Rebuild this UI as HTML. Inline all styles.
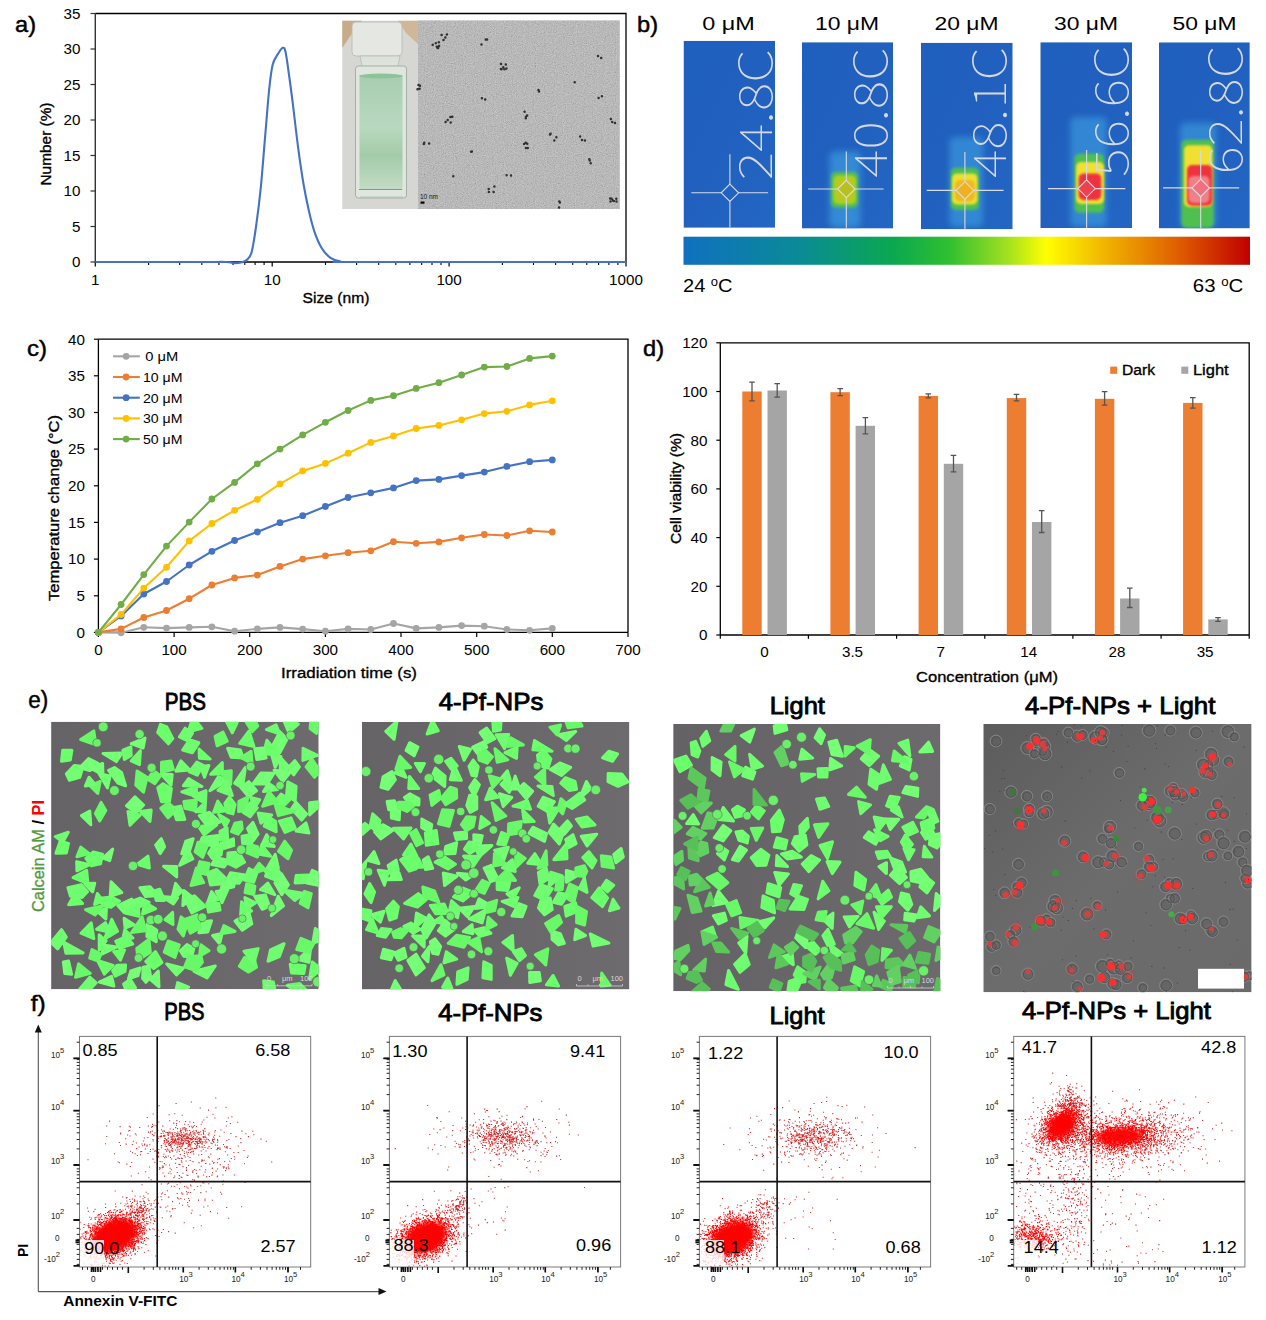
<!DOCTYPE html>
<html><head><meta charset="utf-8"><title>Figure</title>
<style>html,body{margin:0;padding:0;background:#fff;} svg{display:block;}</style></head>
<body><svg width="1266" height="1320" viewBox="0 0 1266 1320">
<defs>
<linearGradient id="photoBg" x1="0" y1="0" x2="0" y2="1">
 <stop offset="0" stop-color="#c9b79c"/><stop offset="0.08" stop-color="#d2cfc6"/><stop offset="1" stop-color="#d6d8d4"/></linearGradient>
<linearGradient id="liquid" x1="0" y1="0" x2="0" y2="1">
 <stop offset="0" stop-color="#a7cdb0"/><stop offset="0.45" stop-color="#b9d9bf"/><stop offset="0.7" stop-color="#a3cba9"/><stop offset="1" stop-color="#c3dcc6"/></linearGradient>
<linearGradient id="blueBg" x1="0" y1="0" x2="1" y2="1">
 <stop offset="0" stop-color="#1f5fbd"/><stop offset="0.5" stop-color="#2160bf"/><stop offset="1" stop-color="#2366c4"/></linearGradient>
<linearGradient id="cbar" x1="0" y1="0" x2="1" y2="0">
 <stop offset="0" stop-color="#1070c0"/><stop offset="0.2" stop-color="#0a8a98"/><stop offset="0.37" stop-color="#0aa850"/><stop offset="0.47" stop-color="#30c030"/><stop offset="0.57" stop-color="#a0e020"/><stop offset="0.64" stop-color="#ffff00"/><stop offset="0.75" stop-color="#f0b000"/><stop offset="0.87" stop-color="#e06000"/><stop offset="1" stop-color="#c00000"/></linearGradient>
<filter id="grain" x="0" y="0" width="1" height="1"><feTurbulence type="fractalNoise" baseFrequency="0.9" numOctaves="2" seed="3"/><feColorMatrix type="matrix" values="0.33 0.33 0.33 0 0  0.33 0.33 0.33 0 0  0.33 0.33 0.33 0 0  0 0 0 0 1"/></filter>
<filter id="b8" x="-50%" y="-50%" width="200%" height="200%"><feGaussianBlur stdDeviation="0.8"/></filter>
<filter id="b10" x="-50%" y="-50%" width="200%" height="200%"><feGaussianBlur stdDeviation="1"/></filter>
<filter id="b12" x="-50%" y="-50%" width="200%" height="200%"><feGaussianBlur stdDeviation="1.2"/></filter>
<filter id="b15" x="-50%" y="-50%" width="200%" height="200%"><feGaussianBlur stdDeviation="1.5"/></filter>
<filter id="b30" x="-50%" y="-50%" width="200%" height="200%"><feGaussianBlur stdDeviation="3"/></filter>
<filter id="soft2" x="-50%" y="-50%" width="200%" height="200%"><feGaussianBlur stdDeviation="2"/></filter>
<linearGradient id="mbg1" x1="0" y1="0" x2="1" y2="0"><stop offset="0" stop-color="#666366"/><stop offset="1" stop-color="#6e6b6e"/></linearGradient>
<linearGradient id="mbg2" x1="0" y1="0" x2="1" y2="0"><stop offset="0" stop-color="#666366"/><stop offset="1" stop-color="#6e6b6e"/></linearGradient>
<linearGradient id="mbg3" x1="0" y1="0" x2="1" y2="0"><stop offset="0" stop-color="#656265"/><stop offset="1" stop-color="#6d6a6d"/></linearGradient>
<linearGradient id="mbg4" x1="0" y1="0" x2="1" y2="1"><stop offset="0" stop-color="#5c5c5c"/><stop offset="0.5" stop-color="#6c6c6c"/><stop offset="1" stop-color="#6a6a6a"/></linearGradient>
<filter id="cb" x="-5%" y="-5%" width="110%" height="110%"><feGaussianBlur stdDeviation="0.55"/></filter>
<filter id="soft" x="-50%" y="-50%" width="200%" height="200%"><feGaussianBlur stdDeviation="2.5"/></filter>
</defs>
<rect width="1266" height="1320" fill="#fff"/>
<text x="15.0" y="32.0" font-size="22" text-anchor="start" font-weight="normal" fill="#000" font-family='"Liberation Sans", Arial, sans-serif' textLength="21" lengthAdjust="spacingAndGlyphs" stroke="#000" stroke-width="0.45">a)</text>
<g>
<rect x="342.3" y="20.8" width="75.7" height="188.2" fill="#d6d7d3"/>
<path d="M342.3 20.8H362L353 32L342.3 48Z" fill="#c8ab8a"/>
<path d="M398 20.8H418V44L406 33Z" fill="#cfb798"/>
<rect x="352" y="22" width="50" height="34" rx="4" fill="#e4e7e2" stroke="#b4bab2" stroke-width="0.8"/>
<path d="M360 56H400L397 70H363Z" fill="#dde2db" stroke="#b0b8ae" stroke-width="0.7"/>
<rect x="355.5" y="66" width="51" height="132" rx="3" fill="#e0e5de" stroke="#a6afa5" stroke-width="1"/>
<rect x="359.5" y="75" width="43" height="115" fill="url(#liquid)"/>
<ellipse cx="381" cy="76" rx="21.5" ry="2.6" fill="#8cc49a"/>
<line x1="359.0" y1="189.5" x2="402.0" y2="189.5" stroke="#6aa874" stroke-width="1"/>
<line x1="360.0" y1="197.0" x2="403.0" y2="197.0" stroke="#9fc4a5" stroke-width="0.8"/>
</g>
<rect x="418.0" y="20.8" width="201.6" height="188.2" fill="#b6b6b6"/>
<rect x="418" y="20.8" width="201.6" height="188.2" filter="url(#grain)" opacity="0.55"/>
<path d="M436.9 46.7h0M438.1 48.1h0M437.7 48.0h0M432.7 44.8h0M439.1 46.0h0M438.8 42.3h0M435.8 43.2h0M445.3 37.5h0M441.6 35.0h0M443.5 39.9h0M446.9 34.6h0M487.1 39.5h0M485.8 39.4h0M481.5 44.6h0M501.0 64.0h0M506.4 68.6h0M501.5 69.2h0M503.3 67.2h0M500.9 69.1h0M504.3 69.3h0M505.8 64.6h0M420.0 85.7h0M418.5 85.0h0M419.6 88.7h0M417.5 89.2h0M481.9 98.3h0M485.2 99.5h0M447.7 119.9h0M450.4 116.9h0M452.3 116.7h0M450.7 122.4h0M445.6 122.0h0M527.1 115.5h0M524.6 111.8h0M525.8 118.2h0M525.9 116.8h0M615.0 123.1h0M610.9 119.0h0M612.2 121.9h0M424.3 142.7h0M429.1 143.5h0M423.8 144.1h0M524.1 143.9h0M527.8 147.9h0M525.9 148.0h0M527.3 143.7h0M525.7 142.7h0M550.0 134.5h0M554.3 140.5h0M550.6 133.8h0M556.4 137.2h0M589.3 159.2h0M590.7 163.3h0M589.7 160.5h0M488.9 191.9h0M488.7 189.0h0M494.4 186.4h0M493.6 192.1h0M613.9 201.0h0M610.2 198.5h0M610.5 201.4h0M611.6 198.7h0M616.5 201.5h0M616.3 198.7h0M612.9 200.6h0M559.9 202.5h0M559.3 201.5h0M559.1 207.4h0M601.2 57.9h0M598.0 55.9h0M580.1 136.4h0M585.0 140.6h0M582.0 140.0h0M471.9 151.4h0M471.1 151.8h0M539.0 91.4h0M538.5 89.9h0M601.9 96.3h0M598.6 98.1h0M511.0 175.6h0M506.6 175.3h0M453.3 176.2h0M574.7 82.2h0" stroke="#303030" stroke-width="2.5" stroke-linecap="round" fill="none"/>
<rect x="420.5" y="201.5" width="4.0" height="2.2" fill="#000"/>
<text x="420.0" y="199.0" font-size="7" text-anchor="start" font-weight="normal" fill="#111" font-family='"Liberation Sans", Arial, sans-serif' textLength="18" lengthAdjust="spacingAndGlyphs">10 nm</text>
<path d="M95.3 13.5 H626 V262" fill="none" stroke="#000" stroke-width="1.3"/>
<line x1="95.3" y1="13.5" x2="95.3" y2="262.5" stroke="#333" stroke-width="1.4"/>
<line x1="95.3" y1="262.0" x2="626.0" y2="262.0" stroke="#000" stroke-width="1.3"/>
<line x1="90.5" y1="262.0" x2="95.3" y2="262.0" stroke="#333" stroke-width="1.2"/>
<text x="80.5" y="267.3" font-size="15.2" text-anchor="end" font-weight="normal" fill="#000" font-family='"Liberation Sans", Arial, sans-serif'>0</text>
<line x1="90.5" y1="226.5" x2="95.3" y2="226.5" stroke="#333" stroke-width="1.2"/>
<text x="80.5" y="231.8" font-size="15.2" text-anchor="end" font-weight="normal" fill="#000" font-family='"Liberation Sans", Arial, sans-serif'>5</text>
<line x1="90.5" y1="191.0" x2="95.3" y2="191.0" stroke="#333" stroke-width="1.2"/>
<text x="80.5" y="196.3" font-size="15.2" text-anchor="end" font-weight="normal" fill="#000" font-family='"Liberation Sans", Arial, sans-serif'>10</text>
<line x1="90.5" y1="155.5" x2="95.3" y2="155.5" stroke="#333" stroke-width="1.2"/>
<text x="80.5" y="160.8" font-size="15.2" text-anchor="end" font-weight="normal" fill="#000" font-family='"Liberation Sans", Arial, sans-serif'>15</text>
<line x1="90.5" y1="120.0" x2="95.3" y2="120.0" stroke="#333" stroke-width="1.2"/>
<text x="80.5" y="125.3" font-size="15.2" text-anchor="end" font-weight="normal" fill="#000" font-family='"Liberation Sans", Arial, sans-serif'>20</text>
<line x1="90.5" y1="84.5" x2="95.3" y2="84.5" stroke="#333" stroke-width="1.2"/>
<text x="80.5" y="89.8" font-size="15.2" text-anchor="end" font-weight="normal" fill="#000" font-family='"Liberation Sans", Arial, sans-serif'>25</text>
<line x1="90.5" y1="49.0" x2="95.3" y2="49.0" stroke="#333" stroke-width="1.2"/>
<text x="80.5" y="54.3" font-size="15.2" text-anchor="end" font-weight="normal" fill="#000" font-family='"Liberation Sans", Arial, sans-serif'>30</text>
<line x1="90.5" y1="13.5" x2="95.3" y2="13.5" stroke="#333" stroke-width="1.2"/>
<text x="80.5" y="18.8" font-size="15.2" text-anchor="end" font-weight="normal" fill="#000" font-family='"Liberation Sans", Arial, sans-serif'>35</text>
<line x1="95.3" y1="262.0" x2="95.3" y2="266.5" stroke="#000" stroke-width="1.2"/>
<text x="95.3" y="285.0" font-size="15.2" text-anchor="middle" font-weight="normal" fill="#000" font-family='"Liberation Sans", Arial, sans-serif'>1</text>
<line x1="148.6" y1="262.0" x2="148.6" y2="265.0" stroke="#000" stroke-width="1.1"/>
<line x1="179.7" y1="262.0" x2="179.7" y2="265.0" stroke="#000" stroke-width="1.1"/>
<line x1="201.8" y1="262.0" x2="201.8" y2="265.0" stroke="#000" stroke-width="1.1"/>
<line x1="218.9" y1="262.0" x2="218.9" y2="265.0" stroke="#000" stroke-width="1.1"/>
<line x1="233.0" y1="262.0" x2="233.0" y2="265.0" stroke="#000" stroke-width="1.1"/>
<line x1="244.8" y1="262.0" x2="244.8" y2="265.0" stroke="#000" stroke-width="1.1"/>
<line x1="255.1" y1="262.0" x2="255.1" y2="265.0" stroke="#000" stroke-width="1.1"/>
<line x1="264.1" y1="262.0" x2="264.1" y2="265.0" stroke="#000" stroke-width="1.1"/>
<line x1="272.2" y1="262.0" x2="272.2" y2="266.5" stroke="#000" stroke-width="1.2"/>
<text x="272.2" y="285.0" font-size="15.2" text-anchor="middle" font-weight="normal" fill="#000" font-family='"Liberation Sans", Arial, sans-serif'>10</text>
<line x1="325.5" y1="262.0" x2="325.5" y2="265.0" stroke="#000" stroke-width="1.1"/>
<line x1="356.6" y1="262.0" x2="356.6" y2="265.0" stroke="#000" stroke-width="1.1"/>
<line x1="378.7" y1="262.0" x2="378.7" y2="265.0" stroke="#000" stroke-width="1.1"/>
<line x1="395.8" y1="262.0" x2="395.8" y2="265.0" stroke="#000" stroke-width="1.1"/>
<line x1="409.9" y1="262.0" x2="409.9" y2="265.0" stroke="#000" stroke-width="1.1"/>
<line x1="421.7" y1="262.0" x2="421.7" y2="265.0" stroke="#000" stroke-width="1.1"/>
<line x1="432.0" y1="262.0" x2="432.0" y2="265.0" stroke="#000" stroke-width="1.1"/>
<line x1="441.0" y1="262.0" x2="441.0" y2="265.0" stroke="#000" stroke-width="1.1"/>
<line x1="449.1" y1="262.0" x2="449.1" y2="266.5" stroke="#000" stroke-width="1.2"/>
<text x="449.1" y="285.0" font-size="15.2" text-anchor="middle" font-weight="normal" fill="#000" font-family='"Liberation Sans", Arial, sans-serif'>100</text>
<line x1="502.4" y1="262.0" x2="502.4" y2="265.0" stroke="#000" stroke-width="1.1"/>
<line x1="533.5" y1="262.0" x2="533.5" y2="265.0" stroke="#000" stroke-width="1.1"/>
<line x1="555.6" y1="262.0" x2="555.6" y2="265.0" stroke="#000" stroke-width="1.1"/>
<line x1="572.7" y1="262.0" x2="572.7" y2="265.0" stroke="#000" stroke-width="1.1"/>
<line x1="586.8" y1="262.0" x2="586.8" y2="265.0" stroke="#000" stroke-width="1.1"/>
<line x1="598.6" y1="262.0" x2="598.6" y2="265.0" stroke="#000" stroke-width="1.1"/>
<line x1="608.9" y1="262.0" x2="608.9" y2="265.0" stroke="#000" stroke-width="1.1"/>
<line x1="617.9" y1="262.0" x2="617.9" y2="265.0" stroke="#000" stroke-width="1.1"/>
<line x1="626.0" y1="262.0" x2="626.0" y2="266.5" stroke="#000" stroke-width="1.2"/>
<text x="626.0" y="285.0" font-size="15.2" text-anchor="middle" font-weight="normal" fill="#000" font-family='"Liberation Sans", Arial, sans-serif'>1000</text>
<text x="336.0" y="302.5" font-size="15.5" text-anchor="middle" font-weight="normal" fill="#000" font-family='"Liberation Sans", Arial, sans-serif' textLength="67" lengthAdjust="spacingAndGlyphs" stroke="#000" stroke-width="0.35">Size (nm)</text>
<text x="51.2" y="144.0" font-size="15.5" text-anchor="middle" font-weight="normal" fill="#000" font-family='"Liberation Sans", Arial, sans-serif' textLength="83" lengthAdjust="spacingAndGlyphs" transform="rotate(-90 51.2 144.0)" stroke="#000" stroke-width="0.35">Number (%)</text>
<path d="M95.3 262.0 C112.8 262.0 178.2 262.0 200.0 262.0 C221.8 262.0 220.2 261.8 226.0 262.0 C231.8 262.2 231.8 263.2 234.5 263.2 C237.2 263.2 239.9 262.8 242.0 262.2 C244.1 261.6 245.7 261.3 247.3 259.5 C248.9 257.7 250.3 257.4 251.8 251.5 C253.3 245.6 254.9 234.8 256.4 224.0 C257.9 213.2 259.4 201.8 260.9 186.5 C262.4 171.2 264.1 148.1 265.5 132.0 C266.9 115.9 267.9 101.2 269.1 90.0 C270.3 78.8 271.2 70.6 272.7 64.5 C274.2 58.4 276.5 56.4 278.2 53.6 C279.9 50.8 281.5 48.1 282.7 47.8 C283.9 47.5 284.4 47.2 285.5 51.8 C286.6 56.4 287.9 67.0 289.1 75.5 C290.3 84.0 291.2 90.6 292.7 102.7 C294.2 114.8 296.4 134.6 298.2 148.2 C300.0 161.8 301.8 173.9 303.6 184.5 C305.4 195.1 307.3 203.9 309.1 211.8 C310.9 219.7 312.4 225.7 314.5 231.8 C316.6 237.9 319.1 243.8 321.8 248.2 C324.5 252.6 327.9 256.0 330.9 258.2 C333.9 260.4 335.1 260.7 340.0 261.3 C344.9 261.9 312.3 261.9 360.0 262.0 C407.7 262.1 581.7 262.0 626.0 262.0" fill="none" stroke="#4472C4" stroke-width="2.1"/>
<text x="637.0" y="32.0" font-size="22" text-anchor="start" font-weight="normal" fill="#000" font-family='"Liberation Sans", Arial, sans-serif' textLength="21" lengthAdjust="spacingAndGlyphs" stroke="#000" stroke-width="0.45">b)</text>
<text x="728.5" y="29.8" font-size="19" text-anchor="middle" font-weight="normal" fill="#000" font-family='"Liberation Sans", Arial, sans-serif' textLength="52.5" lengthAdjust="spacingAndGlyphs">0 μM</text>
<text x="847.0" y="29.8" font-size="19" text-anchor="middle" font-weight="normal" fill="#000" font-family='"Liberation Sans", Arial, sans-serif' textLength="64" lengthAdjust="spacingAndGlyphs">10 μM</text>
<text x="966.5" y="29.8" font-size="19" text-anchor="middle" font-weight="normal" fill="#000" font-family='"Liberation Sans", Arial, sans-serif' textLength="64" lengthAdjust="spacingAndGlyphs">20 μM</text>
<text x="1086.0" y="29.8" font-size="19" text-anchor="middle" font-weight="normal" fill="#000" font-family='"Liberation Sans", Arial, sans-serif' textLength="64" lengthAdjust="spacingAndGlyphs">30 μM</text>
<text x="1204.5" y="29.8" font-size="19" text-anchor="middle" font-weight="normal" fill="#000" font-family='"Liberation Sans", Arial, sans-serif' textLength="64" lengthAdjust="spacingAndGlyphs">50 μM</text>
<svg x="683.5" y="40.8" width="91.5" height="187" overflow="hidden">
<rect width="91.5" height="187" fill="url(#blueBg)"/>
<path d="M7.8 152.0H37.7M55.1 152.0H84.6M46.4 113.4V143.3M46.4 160.7V187" stroke="#d8dbe0" stroke-width="1.1" fill="none"/>
<path d="M46.4 143.3L55.1 152.0L46.4 160.7L37.7 152.0Z" fill="none" stroke="#d8dbe0" stroke-width="1.1" />
<text x="88.1" y="139.5" font-size="45.5" font-weight="100" fill="#d4d8e0" font-family='"Noto Sans CJK SC", "Liberation Sans", sans-serif' textLength="131.2" lengthAdjust="spacingAndGlyphs" transform="rotate(-90 88.1 139.5)">24.8C</text>
</svg>
<svg x="802" y="42.2" width="91" height="186.4" overflow="hidden">
<rect width="91" height="186.4" fill="url(#blueBg)"/>
<rect x="27.4" y="109.4" width="31.3" height="76.4" rx="5" fill="#3a98dc" opacity="0.75" filter="url(#b30)"/>
<rect x="29.0" y="129.8" width="27.0" height="35.5" rx="5" fill="#58c050" opacity="1" filter="url(#b15)"/>
<rect x="31.5" y="133.3" width="22.5" height="28.5" rx="5" fill="#a8d020" opacity="1" filter="url(#b12)"/>
<rect x="35.0" y="136.8" width="16.0" height="21.0" rx="5" fill="#c0c818" opacity="1" filter="url(#b10)"/>
<path d="M6.2 146.8H35.6M53.0 146.8H81.6M44.3 109.4V138.1M44.3 155.5V186.4" stroke="#d8dbe0" stroke-width="1.1" fill="none"/>
<path d="M44.3 138.1L53.0 146.8L44.3 155.5L35.6 146.8Z" fill="#b8c020" stroke="#d8dbe0" stroke-width="1.1" />
<text x="85.1" y="135.5" font-size="45.5" font-weight="100" fill="#d4d8e0" font-family='"Noto Sans CJK SC", "Liberation Sans", sans-serif' textLength="130.3" lengthAdjust="spacingAndGlyphs" transform="rotate(-90 85.1 135.5)">40.8C</text>
</svg>
<svg x="920.9" y="42.7" width="91.8" height="186.6" overflow="hidden">
<rect width="91.8" height="186.6" fill="url(#blueBg)"/>
<rect x="28.5" y="94.3" width="33.6" height="90.0" rx="5" fill="#3a98dc" opacity="0.7" filter="url(#b30)"/>
<rect x="29.9" y="125.1" width="28.1" height="42.2" rx="5" fill="#50c050" opacity="1" filter="url(#b15)"/>
<rect x="31.1" y="130.7" width="25.5" height="31.0" rx="5" fill="#ece030" opacity="1" filter="url(#b12)"/>
<rect x="34.1" y="137.3" width="19.7" height="21.5" rx="5" fill="#f0b820" opacity="1" filter="url(#b10)"/>
<path d="M5.8 147.7H35.3M52.7 147.7H82.7M44.0 109.3V139.0M44.0 156.4V186.6" stroke="#d8dbe0" stroke-width="1.1" fill="none"/>
<path d="M44.0 139.0L52.7 147.7L44.0 156.4L35.3 147.7Z" fill="#f0b020" stroke="#d8dbe0" stroke-width="1.1" />
<text x="85.4" y="135.3" font-size="45.5" font-weight="100" fill="#d4d8e0" font-family='"Noto Sans CJK SC", "Liberation Sans", sans-serif' textLength="131.3" lengthAdjust="spacingAndGlyphs" transform="rotate(-90 85.4 135.3)">48.1C</text>
</svg>
<svg x="1040.3" y="42.2" width="91.7" height="185.8" overflow="hidden">
<rect width="91.7" height="185.8" fill="url(#blueBg)"/>
<rect x="30.0" y="74.8" width="36.5" height="110.0" rx="5" fill="#3a98dc" opacity="0.7" filter="url(#b30)"/>
<rect x="34.2" y="111.5" width="29.5" height="59.1" rx="5" fill="#50c050" opacity="1" filter="url(#b15)"/>
<rect x="35.7" y="119.8" width="28.0" height="42.0" rx="5" fill="#f0e030" opacity="1" filter="url(#b12)"/>
<rect x="38.4" y="131.2" width="22.5" height="26.6" rx="5" fill="#f03040" opacity="1" filter="url(#b10)"/>
<path d="M7.7 146.4H37.6M55.0 146.4H85.0M46.3 107.8V137.7M46.3 155.1V185.8" stroke="#d8dbe0" stroke-width="1.1" fill="none"/>
<path d="M46.3 137.7L55.0 146.4L46.3 155.1L37.6 146.4Z" fill="#f04050" stroke="#d8dbe0" stroke-width="1.1" />
<text x="87.7" y="134.6" font-size="45.5" font-weight="100" fill="#d4d8e0" font-family='"Noto Sans CJK SC", "Liberation Sans", sans-serif' textLength="131.4" lengthAdjust="spacingAndGlyphs" transform="rotate(-90 87.7 134.6)">56.6C</text>
</svg>
<svg x="1159" y="42.3" width="90.8" height="186.1" overflow="hidden">
<rect width="90.8" height="186.1" fill="url(#blueBg)"/>
<rect x="21.0" y="80.5" width="36.5" height="104.2" rx="5" fill="#3a98dc" opacity="0.7" filter="url(#b30)"/>
<rect x="22.4" y="97.4" width="32.3" height="88.3" rx="5" fill="#50c050" opacity="1" filter="url(#b15)"/>
<rect x="25.0" y="103.0" width="28.3" height="61.7" rx="5" fill="#f0e030" opacity="1" filter="url(#b12)"/>
<rect x="28.0" y="122.7" width="25.3" height="40.8" rx="5" fill="#f03040" opacity="1" filter="url(#b10)"/>
<rect x="29.4" y="133.7" width="21.1" height="27.0" rx="5" fill="#f08088" opacity="1" filter="url(#b8)"/>
<path d="M4.1 145.6H33.0M50.4 145.6H80.2M41.7 108.0V136.9M41.7 154.3V186.1" stroke="#d8dbe0" stroke-width="1.1" fill="none"/>
<path d="M41.7 136.9L50.4 145.6L41.7 154.3L33.0 145.6Z" fill="#f07080" stroke="#d8dbe0" stroke-width="1.1" />
<text x="83.3" y="131.9" font-size="45.5" font-weight="100" fill="#d4d8e0" font-family='"Noto Sans CJK SC", "Liberation Sans", sans-serif' textLength="128.9" lengthAdjust="spacingAndGlyphs" transform="rotate(-90 83.3 131.9)">62.8C</text>
</svg>
<rect x="683.5" y="236.7" width="566.5" height="28.1" fill="url(#cbar)"/>
<text x="683.0" y="292.0" font-size="18.5" text-anchor="start" font-weight="normal" fill="#000" font-family='"Liberation Sans", Arial, sans-serif' textLength="49.6" lengthAdjust="spacingAndGlyphs">24 <tspan font-size="12" dy="-6">o</tspan><tspan dy="6">C</tspan></text>
<text x="1192.8" y="292.0" font-size="18.5" text-anchor="start" font-weight="normal" fill="#000" font-family='"Liberation Sans", Arial, sans-serif' textLength="50.5" lengthAdjust="spacingAndGlyphs">63 <tspan font-size="12" dy="-6">o</tspan><tspan dy="6">C</tspan></text>
<text x="27.0" y="355.5" font-size="22" text-anchor="start" font-weight="normal" fill="#000" font-family='"Liberation Sans", Arial, sans-serif' textLength="20" lengthAdjust="spacingAndGlyphs" stroke="#000" stroke-width="0.45">c)</text>
<path d="M98.4 339.2 H628 V632.4" fill="none" stroke="#000" stroke-width="1.3"/>
<line x1="98.4" y1="339.2" x2="98.4" y2="632.4" stroke="#000" stroke-width="1.3"/>
<line x1="98.4" y1="632.4" x2="628.0" y2="632.4" stroke="#000" stroke-width="1.3"/>
<line x1="93.9" y1="632.4" x2="98.4" y2="632.4" stroke="#000" stroke-width="1.2"/>
<text x="85.0" y="637.7" font-size="15.2" text-anchor="end" font-weight="normal" fill="#000" font-family='"Liberation Sans", Arial, sans-serif'>0</text>
<line x1="93.9" y1="595.8" x2="98.4" y2="595.8" stroke="#000" stroke-width="1.2"/>
<text x="85.0" y="601.0" font-size="15.2" text-anchor="end" font-weight="normal" fill="#000" font-family='"Liberation Sans", Arial, sans-serif'>5</text>
<line x1="93.9" y1="559.1" x2="98.4" y2="559.1" stroke="#000" stroke-width="1.2"/>
<text x="85.0" y="564.4" font-size="15.2" text-anchor="end" font-weight="normal" fill="#000" font-family='"Liberation Sans", Arial, sans-serif'>10</text>
<line x1="93.9" y1="522.4" x2="98.4" y2="522.4" stroke="#000" stroke-width="1.2"/>
<text x="85.0" y="527.7" font-size="15.2" text-anchor="end" font-weight="normal" fill="#000" font-family='"Liberation Sans", Arial, sans-serif'>15</text>
<line x1="93.9" y1="485.8" x2="98.4" y2="485.8" stroke="#000" stroke-width="1.2"/>
<text x="85.0" y="491.1" font-size="15.2" text-anchor="end" font-weight="normal" fill="#000" font-family='"Liberation Sans", Arial, sans-serif'>20</text>
<line x1="93.9" y1="449.1" x2="98.4" y2="449.1" stroke="#000" stroke-width="1.2"/>
<text x="85.0" y="454.4" font-size="15.2" text-anchor="end" font-weight="normal" fill="#000" font-family='"Liberation Sans", Arial, sans-serif'>25</text>
<line x1="93.9" y1="412.5" x2="98.4" y2="412.5" stroke="#000" stroke-width="1.2"/>
<text x="85.0" y="417.8" font-size="15.2" text-anchor="end" font-weight="normal" fill="#000" font-family='"Liberation Sans", Arial, sans-serif'>30</text>
<line x1="93.9" y1="375.8" x2="98.4" y2="375.8" stroke="#000" stroke-width="1.2"/>
<text x="85.0" y="381.1" font-size="15.2" text-anchor="end" font-weight="normal" fill="#000" font-family='"Liberation Sans", Arial, sans-serif'>35</text>
<line x1="93.9" y1="339.2" x2="98.4" y2="339.2" stroke="#000" stroke-width="1.2"/>
<text x="85.0" y="344.5" font-size="15.2" text-anchor="end" font-weight="normal" fill="#000" font-family='"Liberation Sans", Arial, sans-serif'>40</text>
<line x1="98.4" y1="632.4" x2="98.4" y2="636.9" stroke="#000" stroke-width="1.2"/>
<text x="98.4" y="654.8" font-size="15.2" text-anchor="middle" font-weight="normal" fill="#000" font-family='"Liberation Sans", Arial, sans-serif'>0</text>
<line x1="174.1" y1="632.4" x2="174.1" y2="636.9" stroke="#000" stroke-width="1.2"/>
<text x="174.1" y="654.8" font-size="15.2" text-anchor="middle" font-weight="normal" fill="#000" font-family='"Liberation Sans", Arial, sans-serif'>100</text>
<line x1="249.7" y1="632.4" x2="249.7" y2="636.9" stroke="#000" stroke-width="1.2"/>
<text x="249.7" y="654.8" font-size="15.2" text-anchor="middle" font-weight="normal" fill="#000" font-family='"Liberation Sans", Arial, sans-serif'>200</text>
<line x1="325.4" y1="632.4" x2="325.4" y2="636.9" stroke="#000" stroke-width="1.2"/>
<text x="325.4" y="654.8" font-size="15.2" text-anchor="middle" font-weight="normal" fill="#000" font-family='"Liberation Sans", Arial, sans-serif'>300</text>
<line x1="401.0" y1="632.4" x2="401.0" y2="636.9" stroke="#000" stroke-width="1.2"/>
<text x="401.0" y="654.8" font-size="15.2" text-anchor="middle" font-weight="normal" fill="#000" font-family='"Liberation Sans", Arial, sans-serif'>400</text>
<line x1="476.7" y1="632.4" x2="476.7" y2="636.9" stroke="#000" stroke-width="1.2"/>
<text x="476.7" y="654.8" font-size="15.2" text-anchor="middle" font-weight="normal" fill="#000" font-family='"Liberation Sans", Arial, sans-serif'>500</text>
<line x1="552.3" y1="632.4" x2="552.3" y2="636.9" stroke="#000" stroke-width="1.2"/>
<text x="552.3" y="654.8" font-size="15.2" text-anchor="middle" font-weight="normal" fill="#000" font-family='"Liberation Sans", Arial, sans-serif'>600</text>
<line x1="628.0" y1="632.4" x2="628.0" y2="636.9" stroke="#000" stroke-width="1.2"/>
<text x="628.0" y="654.8" font-size="15.2" text-anchor="middle" font-weight="normal" fill="#000" font-family='"Liberation Sans", Arial, sans-serif'>700</text>
<text x="349.0" y="678.3" font-size="15.5" text-anchor="middle" font-weight="normal" fill="#000" font-family='"Liberation Sans", Arial, sans-serif' textLength="136" lengthAdjust="spacingAndGlyphs" stroke="#000" stroke-width="0.35">Irradiation time (s)</text>
<text x="58.5" y="508.0" font-size="15.5" text-anchor="middle" font-weight="normal" fill="#000" font-family='"Liberation Sans", Arial, sans-serif' textLength="186" lengthAdjust="spacingAndGlyphs" transform="rotate(-90 58.5 508.0)" stroke="#000" stroke-width="0.35">Temperature change  (°C)</text>
<path d="M98.4 632.4 L121.1 632.8 L143.8 627.3 L166.5 628.1 L189.2 627.4 L211.9 626.8 L234.6 631.2 L257.3 628.9 L280.0 627.4 L302.7 629.1 L325.4 631.2 L348.1 628.9 L370.8 629.5 L393.5 623.5 L416.2 628.4 L438.9 627.4 L461.6 625.6 L484.3 626.2 L506.9 629.5 L529.6 630.3 L552.3 628.4" fill="none" stroke="#A5A5A5" stroke-width="2.1" stroke-linejoin="round"/>
<path d="M98.4 632.4h0M121.1 632.8h0M143.8 627.3h0M166.5 628.1h0M189.2 627.4h0M211.9 626.8h0M234.6 631.2h0M257.3 628.9h0M280.0 627.4h0M302.7 629.1h0M325.4 631.2h0M348.1 628.9h0M370.8 629.5h0M393.5 623.5h0M416.2 628.4h0M438.9 627.4h0M461.6 625.6h0M484.3 626.2h0M506.9 629.5h0M529.6 630.3h0M552.3 628.4h0" stroke="#A5A5A5" stroke-width="6.8" stroke-linecap="round" fill="none"/>
<path d="M98.4 632.4 L121.1 628.9 L143.8 617.5 L166.5 610.5 L189.2 598.7 L211.9 585.0 L234.6 577.9 L257.3 575.1 L280.0 566.4 L302.7 559.1 L325.4 555.8 L348.1 552.7 L370.8 550.8 L393.5 541.7 L416.2 543.3 L438.9 541.9 L461.6 537.8 L484.3 534.5 L506.9 535.5 L529.6 530.8 L552.3 532.0" fill="none" stroke="#ED7D31" stroke-width="2.1" stroke-linejoin="round"/>
<path d="M98.4 632.4h0M121.1 628.9h0M143.8 617.5h0M166.5 610.5h0M189.2 598.7h0M211.9 585.0h0M234.6 577.9h0M257.3 575.1h0M280.0 566.4h0M302.7 559.1h0M325.4 555.8h0M348.1 552.7h0M370.8 550.8h0M393.5 541.7h0M416.2 543.3h0M438.9 541.9h0M461.6 537.8h0M484.3 534.5h0M506.9 535.5h0M529.6 530.8h0M552.3 532.0h0" stroke="#ED7D31" stroke-width="6.8" stroke-linecap="round" fill="none"/>
<path d="M98.4 632.4 L121.1 615.9 L143.8 594.0 L166.5 581.5 L189.2 565.0 L211.9 551.3 L234.6 540.5 L257.3 532.0 L280.0 522.7 L302.7 515.7 L325.4 506.5 L348.1 497.5 L370.8 492.8 L393.5 487.9 L416.2 480.6 L438.9 479.4 L461.6 475.6 L484.3 472.1 L506.9 466.4 L529.6 461.7 L552.3 459.9" fill="none" stroke="#4472C4" stroke-width="2.1" stroke-linejoin="round"/>
<path d="M98.4 632.4h0M121.1 615.9h0M143.8 594.0h0M166.5 581.5h0M189.2 565.0h0M211.9 551.3h0M234.6 540.5h0M257.3 532.0h0M280.0 522.7h0M302.7 515.7h0M325.4 506.5h0M348.1 497.5h0M370.8 492.8h0M393.5 487.9h0M416.2 480.6h0M438.9 479.4h0M461.6 475.6h0M484.3 472.1h0M506.9 466.4h0M529.6 461.7h0M552.3 459.9h0" stroke="#4472C4" stroke-width="6.8" stroke-linecap="round" fill="none"/>
<path d="M98.4 632.4 L121.1 614.5 L143.8 588.1 L166.5 567.3 L189.2 540.9 L211.9 523.5 L234.6 510.3 L257.3 499.4 L280.0 483.9 L302.7 470.9 L325.4 463.4 L348.1 453.2 L370.8 442.4 L393.5 436.0 L416.2 428.5 L438.9 425.4 L461.6 419.8 L484.3 413.6 L506.9 411.3 L529.6 404.9 L552.3 400.8" fill="none" stroke="#FFC000" stroke-width="2.1" stroke-linejoin="round"/>
<path d="M98.4 632.4h0M121.1 614.5h0M143.8 588.1h0M166.5 567.3h0M189.2 540.9h0M211.9 523.5h0M234.6 510.3h0M257.3 499.4h0M280.0 483.9h0M302.7 470.9h0M325.4 463.4h0M348.1 453.2h0M370.8 442.4h0M393.5 436.0h0M416.2 428.5h0M438.9 425.4h0M461.6 419.8h0M484.3 413.6h0M506.9 411.3h0M529.6 404.9h0M552.3 400.8h0" stroke="#FFC000" stroke-width="6.8" stroke-linecap="round" fill="none"/>
<path d="M98.4 632.4 L121.1 604.5 L143.8 574.6 L166.5 546.1 L189.2 522.1 L211.9 499.0 L234.6 482.4 L257.3 463.8 L280.0 449.1 L302.7 434.9 L325.4 422.3 L348.1 410.5 L370.8 400.4 L393.5 395.7 L416.2 388.4 L438.9 382.7 L461.6 375.0 L484.3 367.1 L506.9 366.5 L529.6 358.4 L552.3 356.1" fill="none" stroke="#70AD47" stroke-width="2.1" stroke-linejoin="round"/>
<path d="M98.4 632.4h0M121.1 604.5h0M143.8 574.6h0M166.5 546.1h0M189.2 522.1h0M211.9 499.0h0M234.6 482.4h0M257.3 463.8h0M280.0 449.1h0M302.7 434.9h0M325.4 422.3h0M348.1 410.5h0M370.8 400.4h0M393.5 395.7h0M416.2 388.4h0M438.9 382.7h0M461.6 375.0h0M484.3 367.1h0M506.9 366.5h0M529.6 358.4h0M552.3 356.1h0" stroke="#70AD47" stroke-width="6.8" stroke-linecap="round" fill="none"/>
<line x1="113.0" y1="356.3" x2="139.8" y2="356.3" stroke="#A5A5A5" stroke-width="2.1"/>
<circle cx="126.1" cy="356.3" r="3.4" fill="#A5A5A5"/>
<text x="145.3" y="361.1" font-size="13.5" text-anchor="start" font-weight="normal" fill="#000" font-family='"Liberation Sans", Arial, sans-serif' textLength="33" lengthAdjust="spacingAndGlyphs">0 μM</text>
<line x1="113.0" y1="377.0" x2="139.8" y2="377.0" stroke="#ED7D31" stroke-width="2.1"/>
<circle cx="126.1" cy="377.0" r="3.4" fill="#ED7D31"/>
<text x="143.0" y="381.8" font-size="13.5" text-anchor="start" font-weight="normal" fill="#000" font-family='"Liberation Sans", Arial, sans-serif' textLength="39.5" lengthAdjust="spacingAndGlyphs">10 μM</text>
<line x1="113.0" y1="397.7" x2="139.8" y2="397.7" stroke="#4472C4" stroke-width="2.1"/>
<circle cx="126.1" cy="397.7" r="3.4" fill="#4472C4"/>
<text x="143.0" y="402.5" font-size="13.5" text-anchor="start" font-weight="normal" fill="#000" font-family='"Liberation Sans", Arial, sans-serif' textLength="39.5" lengthAdjust="spacingAndGlyphs">20 μM</text>
<line x1="113.0" y1="418.4" x2="139.8" y2="418.4" stroke="#FFC000" stroke-width="2.1"/>
<circle cx="126.1" cy="418.4" r="3.4" fill="#FFC000"/>
<text x="143.0" y="423.2" font-size="13.5" text-anchor="start" font-weight="normal" fill="#000" font-family='"Liberation Sans", Arial, sans-serif' textLength="39.5" lengthAdjust="spacingAndGlyphs">30 μM</text>
<line x1="113.0" y1="439.1" x2="139.8" y2="439.1" stroke="#70AD47" stroke-width="2.1"/>
<circle cx="126.1" cy="439.1" r="3.4" fill="#70AD47"/>
<text x="143.0" y="443.9" font-size="13.5" text-anchor="start" font-weight="normal" fill="#000" font-family='"Liberation Sans", Arial, sans-serif' textLength="39.5" lengthAdjust="spacingAndGlyphs">50 μM</text>
<text x="643.0" y="356.0" font-size="22" text-anchor="start" font-weight="normal" fill="#000" font-family='"Liberation Sans", Arial, sans-serif' textLength="21" lengthAdjust="spacingAndGlyphs" stroke="#000" stroke-width="0.45">d)</text>
<path d="M720.3 342.8 H1249.2 V635" fill="none" stroke="#000" stroke-width="1.3"/>
<line x1="720.3" y1="342.8" x2="720.3" y2="635.0" stroke="#000" stroke-width="1.3"/>
<line x1="720.3" y1="635.0" x2="1249.2" y2="635.0" stroke="#000" stroke-width="1.3"/>
<line x1="716.3" y1="635.0" x2="720.3" y2="635.0" stroke="#000" stroke-width="1.2"/>
<text x="707.5" y="640.3" font-size="15.2" text-anchor="end" font-weight="normal" fill="#000" font-family='"Liberation Sans", Arial, sans-serif'>0</text>
<line x1="716.3" y1="586.3" x2="720.3" y2="586.3" stroke="#000" stroke-width="1.2"/>
<text x="707.5" y="591.6" font-size="15.2" text-anchor="end" font-weight="normal" fill="#000" font-family='"Liberation Sans", Arial, sans-serif'>20</text>
<line x1="716.3" y1="537.6" x2="720.3" y2="537.6" stroke="#000" stroke-width="1.2"/>
<text x="707.5" y="542.9" font-size="15.2" text-anchor="end" font-weight="normal" fill="#000" font-family='"Liberation Sans", Arial, sans-serif'>40</text>
<line x1="716.3" y1="488.9" x2="720.3" y2="488.9" stroke="#000" stroke-width="1.2"/>
<text x="707.5" y="494.2" font-size="15.2" text-anchor="end" font-weight="normal" fill="#000" font-family='"Liberation Sans", Arial, sans-serif'>60</text>
<line x1="716.3" y1="440.2" x2="720.3" y2="440.2" stroke="#000" stroke-width="1.2"/>
<text x="707.5" y="445.5" font-size="15.2" text-anchor="end" font-weight="normal" fill="#000" font-family='"Liberation Sans", Arial, sans-serif'>80</text>
<line x1="716.3" y1="391.5" x2="720.3" y2="391.5" stroke="#000" stroke-width="1.2"/>
<text x="707.5" y="396.8" font-size="15.2" text-anchor="end" font-weight="normal" fill="#000" font-family='"Liberation Sans", Arial, sans-serif'>100</text>
<line x1="716.3" y1="342.8" x2="720.3" y2="342.8" stroke="#000" stroke-width="1.2"/>
<text x="707.5" y="348.1" font-size="15.2" text-anchor="end" font-weight="normal" fill="#000" font-family='"Liberation Sans", Arial, sans-serif'>120</text>
<line x1="720.3" y1="635.0" x2="720.3" y2="638.8" stroke="#000" stroke-width="1.2"/>
<line x1="808.4" y1="635.0" x2="808.4" y2="638.8" stroke="#000" stroke-width="1.2"/>
<line x1="896.6" y1="635.0" x2="896.6" y2="638.8" stroke="#000" stroke-width="1.2"/>
<line x1="984.8" y1="635.0" x2="984.8" y2="638.8" stroke="#000" stroke-width="1.2"/>
<line x1="1072.9" y1="635.0" x2="1072.9" y2="638.8" stroke="#000" stroke-width="1.2"/>
<line x1="1161.1" y1="635.0" x2="1161.1" y2="638.8" stroke="#000" stroke-width="1.2"/>
<line x1="1249.2" y1="635.0" x2="1249.2" y2="638.8" stroke="#000" stroke-width="1.2"/>
<rect x="742.3" y="391.5" width="19.4" height="243.5" fill="#ED7D31"/>
<path d="M752.0 382.2V400.8M749.2 382.2h5.6M749.2 400.8h5.6" stroke="#555" stroke-width="1.3" fill="none"/>
<rect x="767.5" y="390.5" width="19.4" height="244.5" fill="#A5A5A5"/>
<path d="M777.2 383.7V397.1M774.4 383.7h5.6M774.4 397.1h5.6" stroke="#555" stroke-width="1.3" fill="none"/>
<text x="764.4" y="657.4" font-size="15.2" text-anchor="middle" font-weight="normal" fill="#000" font-family='"Liberation Sans", Arial, sans-serif'>0</text>
<rect x="830.4" y="392.2" width="19.4" height="242.8" fill="#ED7D31"/>
<path d="M840.1 388.6V395.6M837.4 388.6h5.6M837.4 395.6h5.6" stroke="#555" stroke-width="1.3" fill="none"/>
<rect x="855.6" y="425.8" width="19.4" height="209.2" fill="#A5A5A5"/>
<path d="M865.4 417.6V433.9M862.6 417.6h5.6M862.6 433.9h5.6" stroke="#555" stroke-width="1.3" fill="none"/>
<text x="852.5" y="657.4" font-size="15.2" text-anchor="middle" font-weight="normal" fill="#000" font-family='"Liberation Sans", Arial, sans-serif'>3.5</text>
<rect x="918.6" y="395.9" width="19.4" height="239.1" fill="#ED7D31"/>
<path d="M928.3 393.9V397.8M925.5 393.9h5.6M925.5 397.8h5.6" stroke="#555" stroke-width="1.3" fill="none"/>
<rect x="943.8" y="463.8" width="19.4" height="171.2" fill="#A5A5A5"/>
<path d="M953.5 455.3V471.9M950.7 455.3h5.6M950.7 471.9h5.6" stroke="#555" stroke-width="1.3" fill="none"/>
<text x="940.7" y="657.4" font-size="15.2" text-anchor="middle" font-weight="normal" fill="#000" font-family='"Liberation Sans", Arial, sans-serif'>7</text>
<rect x="1006.8" y="398.1" width="19.4" height="236.9" fill="#ED7D31"/>
<path d="M1016.5 394.4V400.8M1013.7 394.4h5.6M1013.7 400.8h5.6" stroke="#555" stroke-width="1.3" fill="none"/>
<rect x="1032.0" y="522.0" width="19.4" height="113.0" fill="#A5A5A5"/>
<path d="M1041.7 510.6V532.5M1038.9 510.6h5.6M1038.9 532.5h5.6" stroke="#555" stroke-width="1.3" fill="none"/>
<text x="1028.8" y="657.4" font-size="15.2" text-anchor="middle" font-weight="normal" fill="#000" font-family='"Liberation Sans", Arial, sans-serif'>14</text>
<rect x="1094.9" y="398.8" width="19.4" height="236.2" fill="#ED7D31"/>
<path d="M1104.6 391.7V405.1M1101.8 391.7h5.6M1101.8 405.1h5.6" stroke="#555" stroke-width="1.3" fill="none"/>
<rect x="1120.1" y="598.5" width="19.4" height="36.5" fill="#A5A5A5"/>
<path d="M1129.8 588.2V607.5M1127.0 588.2h5.6M1127.0 607.5h5.6" stroke="#555" stroke-width="1.3" fill="none"/>
<text x="1117.0" y="657.4" font-size="15.2" text-anchor="middle" font-weight="normal" fill="#000" font-family='"Liberation Sans", Arial, sans-serif'>28</text>
<rect x="1183.1" y="402.9" width="19.4" height="232.1" fill="#ED7D31"/>
<path d="M1192.8 397.6V408.1M1190.0 397.6h5.6M1190.0 408.1h5.6" stroke="#555" stroke-width="1.3" fill="none"/>
<rect x="1208.3" y="619.4" width="19.4" height="15.6" fill="#A5A5A5"/>
<path d="M1218.0 617.7V621.4M1215.2 617.7h5.6M1215.2 621.4h5.6" stroke="#555" stroke-width="1.3" fill="none"/>
<text x="1205.1" y="657.4" font-size="15.2" text-anchor="middle" font-weight="normal" fill="#000" font-family='"Liberation Sans", Arial, sans-serif'>35</text>
<text x="987.0" y="682.0" font-size="15.5" text-anchor="middle" font-weight="normal" fill="#000" font-family='"Liberation Sans", Arial, sans-serif' textLength="142" lengthAdjust="spacingAndGlyphs" stroke="#000" stroke-width="0.35">Concentration (μM)</text>
<text x="680.5" y="488.5" font-size="15" text-anchor="middle" font-weight="normal" fill="#000" font-family='"Liberation Sans", Arial, sans-serif' textLength="111" lengthAdjust="spacingAndGlyphs" transform="rotate(-90 680.5 488.5)" stroke="#000" stroke-width="0.35">Cell viability (%)</text>
<rect x="1110.2" y="366.6" width="7.0" height="7.2" fill="#ED7D31"/>
<text x="1122.0" y="375.3" font-size="15.5" text-anchor="start" font-weight="normal" fill="#000" font-family='"Liberation Sans", Arial, sans-serif' textLength="33" lengthAdjust="spacingAndGlyphs" stroke="#000" stroke-width="0.35">Dark</text>
<rect x="1181.3" y="366.6" width="7.0" height="7.2" fill="#A5A5A5"/>
<text x="1192.9" y="375.3" font-size="15.5" text-anchor="start" font-weight="normal" fill="#000" font-family='"Liberation Sans", Arial, sans-serif' textLength="35.8" lengthAdjust="spacingAndGlyphs" stroke="#000" stroke-width="0.35">Light</text>
<text x="28.2" y="707.5" font-size="23" text-anchor="start" font-weight="normal" fill="#000" font-family='"Liberation Sans", Arial, sans-serif' textLength="20" lengthAdjust="spacingAndGlyphs" stroke="#000" stroke-width="0.45">e)</text>
<text x="185.4" y="710.0" font-size="24" text-anchor="middle" font-weight="normal" fill="#000" font-family='"Liberation Sans", Arial, sans-serif' textLength="41.2" lengthAdjust="spacingAndGlyphs" stroke="#000" stroke-width="0.85">PBS</text>
<text x="491.0" y="710.3" font-size="24" text-anchor="middle" font-weight="normal" fill="#000" font-family='"Liberation Sans", Arial, sans-serif' textLength="104.7" lengthAdjust="spacingAndGlyphs" stroke="#000" stroke-width="0.85">4-Pf-NPs</text>
<text x="797.3" y="713.8" font-size="24" text-anchor="middle" font-weight="normal" fill="#000" font-family='"Liberation Sans", Arial, sans-serif' textLength="55.3" lengthAdjust="spacingAndGlyphs" stroke="#000" stroke-width="0.85">Light</text>
<text x="1120.2" y="713.8" font-size="24" text-anchor="middle" font-weight="normal" fill="#000" font-family='"Liberation Sans", Arial, sans-serif' textLength="190.4" lengthAdjust="spacingAndGlyphs" stroke="#000" stroke-width="0.85">4-Pf-NPs + Light</text>
<svg x="51.1" y="721.7" width="267.6" height="267.6" overflow="hidden">
<rect width="267.6" height="267.6" fill="url(#mbg1)"/>
<g filter="url(#cb)">
<path d="M79.2 257.6L84.4 266.2L77.0 274.9L72.6 262.3ZM88.4 185.2L79.2 180.3L89.1 176.4L98.1 180.6ZM273.5 79.5L258.6 93.2L258.5 81.0ZM230.6 -5.7L247.2 2.5L237.7 10.6ZM176.6 168.2L170.9 180.9L165.0 169.9ZM222.2 22.7L228.8 10.0L236.0 17.3L228.8 30.9ZM96.3 202.3L105.7 208.5L105.1 220.1L95.8 214.7ZM164.2 244.3L156.0 256.2L143.0 249.6ZM161.8 124.5L171.2 124.1L170.0 133.1L161.2 136.7L157.5 131.5ZM65.9 225.2L51.3 232.3L51.7 223.4ZM125.6 155.2L112.5 144.6L125.5 144.9ZM25.8 149.1L25.6 139.9L38.7 143.0ZM151.3 115.7L166.7 113.9L166.3 123.4L147.9 123.5ZM31.9 44.9L28.7 55.6L18.3 58.6L15.3 52.1L23.4 43.7ZM136.4 126.8L141.7 137.2L128.5 143.6ZM169.2 122.0L182.3 117.1L182.6 123.9L168.2 128.0ZM194.0 153.2L187.9 161.6L174.5 160.5L179.5 151.1ZM180.1 35.5L176.5 26.6L189.3 28.4L192.1 36.2ZM122.3 182.2L110.6 174.9L126.5 176.1ZM124.8 49.5L129.8 39.1L138.5 48.2ZM63.4 45.9L70.4 50.8L74.5 64.1L66.8 61.3L57.5 48.6ZM54.8 197.3L47.0 190.5L55.3 186.7ZM80.6 177.4L85.1 183.6L73.0 190.7L66.8 184.0ZM214.2 149.6L224.1 132.7L227.3 146.4ZM248.3 45.2L242.6 53.1L237.6 45.6L243.7 39.0ZM132.2 246.6L125.5 253.3L115.7 242.2ZM172.9 145.4L160.6 142.8L165.0 135.9L178.1 138.7ZM176.6 58.6L158.8 69.1L167.4 54.9ZM194.3 45.6L191.5 66.2L183.6 61.5ZM193.8 175.9L204.4 181.1L195.6 187.4ZM135.9 222.8L142.8 226.5L140.5 235.4L132.7 234.5L129.3 229.2ZM238.3 45.7L228.9 50.7L229.6 36.0ZM154.0 184.7L140.7 191.2L135.3 180.4L143.3 174.0ZM59.0 54.3L56.4 66.2L47.9 51.9ZM55.0 219.2L48.2 228.4L48.1 213.1ZM153.4 55.6L149.6 45.0L157.8 43.7ZM120.0 63.5L109.9 52.4L121.1 52.9ZM215.6 113.0L223.2 124.8L210.5 123.6ZM150.8 64.8L132.3 64.0L137.5 56.9ZM224.1 45.6L220.6 33.4L229.8 34.7Z" fill="#72ff72" stroke="#72ff72" stroke-width="3" stroke-linejoin="round"/>
<path d="M162.5 90.6L166.7 79.4L173.7 89.2ZM10.4 39.6L11.6 28.6L20.8 28.6L19.2 38.3ZM68.4 179.4L59.8 185.5L51.0 183.9L51.4 176.4L60.3 175.3ZM231.8 85.1L222.9 81.0L229.9 72.4L238.4 78.3ZM258.5 257.1L261.2 240.2L270.4 247.6ZM117.3 22.1L106.6 10.8L109.3 2.7L115.7 5.2L121.7 16.9ZM137.2 10.1L141.8 -4.9L150.8 6.7ZM34.8 136.7L42.3 130.3L51.4 132.5L49.4 142.2L40.3 144.2ZM86.2 142.5L96.9 134.4L98.3 146.3ZM175.7 0.5L186.1 0.9L181.2 11.1ZM17.6 183.1L23.4 172.7L31.4 181.8ZM159.0 37.4L148.3 36.5L148.0 27.4ZM22.0 155.9L35.5 148.5L36.9 161.9ZM110.8 240.8L102.7 246.8L94.7 239.8L104.3 229.9ZM46.5 238.8L62.0 243.7L53.2 252.5ZM257.2 153.3L254.1 160.8L244.0 161.2L245.1 153.7ZM121.9 202.7L113.9 197.9L121.5 190.6ZM244.2 106.6L233.9 110.7L228.3 99.5L239.9 96.2ZM213.1 104.4L216.9 95.0L224.6 99.8L225.1 110.1ZM118.4 79.8L110.4 80.0L106.7 66.1L111.9 62.1L120.3 66.8ZM64.7 219.5L75.8 214.6L81.6 222.4L68.3 226.4ZM159.6 52.6L171.2 40.8L171.3 52.0ZM4.8 131.5L9.1 119.6L17.4 121.8L15.3 131.3ZM66.5 209.6L53.3 217.5L60.7 197.7ZM210.6 123.3L219.5 134.6L208.2 132.5ZM190.5 180.1L200.5 189.4L189.5 193.3ZM91.4 192.3L93.8 180.6L104.5 187.1ZM198.0 9.3L202.9 24.9L188.6 21.6ZM29.9 211.5L40.1 201.1L42.7 216.8ZM173.7 81.6L178.4 75.4L184.0 82.7L181.8 92.2L176.0 90.7ZM87.3 185.9L88.0 194.6L74.0 191.4ZM212.3 32.3L215.8 18.6L227.4 32.8ZM73.4 228.2L69.3 238.5L62.7 230.0ZM52.2 179.5L43.5 182.7L46.2 171.8ZM147.6 104.9L165.8 103.1L153.0 113.2ZM252.7 251.8L240.4 251.2L239.1 242.6L254.1 244.1ZM174.2 105.0L167.7 92.9L177.5 98.8Z" fill="#6cff6c" stroke="#6cff6c" stroke-width="3" stroke-linejoin="round"/>
<path d="M245.0 109.4L254.9 101.2L257.8 111.4ZM74.0 206.3L73.0 196.6L83.0 203.0ZM39.7 103.1L30.4 93.9L38.7 89.4ZM104.6 123.3L110.1 117.0L113.5 124.9L109.1 131.9ZM212.4 69.8L217.4 61.5L226.6 67.7ZM37.5 36.8L46.8 41.7L38.8 48.9L28.7 46.2ZM20.5 252.6L13.7 251.9L12.3 240.3L17.5 239.3ZM273.7 154.5L269.6 164.1L255.8 161.4L261.2 148.7ZM171.7 160.9L183.8 158.3L182.6 165.2L169.8 168.4ZM276.0 216.0L261.6 221.7L264.2 206.8ZM124.5 270.1L126.6 260.9L137.5 265.4ZM205.5 69.0L197.4 74.8L189.9 66.1L197.7 60.0ZM147.8 211.1L151.9 200.1L160.4 199.1L156.7 210.2ZM214.4 173.4L218.4 184.7L211.1 187.6L203.7 174.8ZM201.6 62.4L209.9 51.3L222.9 51.5L216.1 62.3ZM41.5 170.2L33.7 161.9L43.7 161.5ZM131.7 183.8L132.7 168.8L142.0 176.0ZM212.1 26.3L215.0 36.2L205.7 37.8L203.7 27.0ZM83.9 75.2L92.5 83.3L84.9 91.2L75.4 84.0ZM107.2 249.3L107.9 265.1L99.4 257.8ZM239.5 50.2L231.7 59.8L223.0 48.5ZM158.1 90.6L169.0 100.4L155.8 104.0L148.2 93.9ZM257.9 240.5L247.0 237.8L259.5 226.2ZM227.1 174.5L232.4 184.2L220.2 193.9ZM80.2 22.0L93.9 16.4L92.0 26.3ZM255.5 92.3L250.5 98.3L240.5 87.1L244.8 80.6ZM51.8 136.4L61.6 127.3L58.6 139.0ZM99.6 255.4L94.8 260.6L91.5 256.7L92.1 245.5L97.7 244.4ZM202.0 119.1L196.4 106.7L201.8 100.7L207.0 112.5ZM216.7 161.4L223.7 173.0L209.5 168.0ZM59.1 174.6L60.0 160.0L70.7 170.9ZM160.5 169.9L166.8 178.1L156.6 180.5ZM39.5 46.6L51.5 41.8L51.9 53.2ZM48.2 260.4L60.5 254.7L62.8 264.4ZM161.6 213.8L171.0 211.7L168.5 222.1ZM120.1 179.5L124.5 161.7L130.9 169.7ZM130.6 131.9L134.7 119.5L142.1 117.0L138.2 130.1ZM223.8 161.1L230.4 152.1L237.3 163.0L230.7 173.0ZM79.7 249.2L89.0 246.3L86.9 254.0L77.3 257.2ZM106.7 173.8L94.5 174.9L88.9 166.0L99.0 165.0ZM183.9 199.4L198.0 191.2L200.7 202.1L191.2 208.5ZM65.2 39.9L52.0 31.7L71.0 31.3Z" fill="#76ff76" stroke="#76ff76" stroke-width="3" stroke-linejoin="round"/>
<path d="M145.2 78.4L144.5 89.1L133.8 86.7L132.8 79.8ZM249.1 181.4L253.4 169.6L260.2 172.0L256.9 186.1ZM139.3 211.4L133.7 197.8L146.0 193.2L149.4 206.0ZM169.7 212.0L172.8 203.9L183.9 209.7ZM269.0 49.3L263.4 55.6L255.0 45.2L260.7 37.2ZM193.4 235.7L203.5 238.1L205.4 245.6L197.2 250.4L188.3 244.6ZM25.8 135.0L29.7 125.4L38.3 131.9ZM152.6 160.9L139.9 163.8L145.2 146.4ZM125.1 88.5L116.9 96.1L109.7 86.6L117.2 81.0ZM197.1 122.5L206.5 125.0L206.4 135.3L195.6 130.9ZM180.4 109.9L183.8 101.6L190.3 100.3L191.1 107.2L187.0 112.5ZM44.0 193.2L34.5 187.9L51.9 184.0ZM171.9 10.3L176.1 19.5L166.0 24.1L164.0 14.7ZM46.7 71.7L39.0 64.2L49.1 59.8ZM133.5 245.1L137.4 235.6L149.7 233.5L151.3 240.6L144.6 248.8ZM208.0 141.6L214.0 147.8L200.6 152.0ZM27.5 242.1L39.2 251.7L24.4 255.6ZM130.0 195.2L136.6 200.5L132.2 214.3L126.9 207.3ZM102.5 48.7L109.3 54.2L103.8 62.0L96.9 57.8ZM249.9 216.7L262.7 221.9L257.9 230.6L245.6 227.9ZM86.0 49.2L96.0 55.5L92.4 70.4L84.7 63.5ZM169.0 50.4L180.2 49.1L179.6 62.7ZM189.8 35.8L200.0 29.7L201.0 42.1ZM29.6 17.9L42.7 9.2L44.8 23.1ZM117.1 219.3L128.2 223.1L123.8 235.8L113.2 230.4ZM195.1 0.6L201.6 -6.2L206.6 4.2L201.1 9.9ZM38.6 236.5L40.9 227.9L49.9 232.3L47.1 239.3ZM54.7 88.9L48.6 99.2L44.3 91.8L50.0 80.7ZM226.5 80.2L211.5 84.6L217.8 69.7ZM265.3 11.7L259.0 6.8L260.2 -6.9L267.6 -1.5ZM144.0 130.2L146.9 120.6L155.9 124.7L151.5 135.7ZM122.2 47.7L110.4 50.6L110.4 40.6L119.9 39.4ZM145.7 150.7L148.8 139.9L157.9 141.7L155.9 152.8ZM97.9 217.5L99.2 230.6L86.9 238.5L85.7 226.8ZM224.2 83.6L243.1 89.8L227.3 93.9ZM203.8 164.6L202.6 172.8L193.9 170.9L195.6 162.1ZM257.7 270.8L246.7 271.9L236.2 263.6L248.7 261.8ZM195.0 89.0L187.5 89.8L187.8 79.7L196.6 75.5ZM149.7 223.0L157.9 229.0L148.4 234.6ZM80.4 210.9L91.0 195.2L94.7 209.0ZM240.4 128.4L237.0 137.0L227.4 129.7L233.6 119.5Z" fill="#68f868" stroke="#68f868" stroke-width="3" stroke-linejoin="round"/>
<path d="M89.4 89.9L100.1 88.4L98.9 99.7ZM15.2 215.4L6.6 227.2L-0.1 220.7L10.4 207.9ZM113.4 178.7L105.1 178.7L102.9 169.3L108.6 167.5ZM89.3 29.0L88.4 43.0L80.1 39.1ZM214.4 154.3L216.9 148.0L225.9 147.0L230.0 152.6L223.3 158.0ZM80.1 33.8L73.3 37.7L71.9 28.5L79.7 25.2ZM222.3 260.2L223.9 268.8L213.2 269.7L212.6 259.0ZM228.3 234.9L216.9 239.6L219.4 228.2L233.0 222.0ZM31.9 231.2L14.8 231.6L12.6 220.3ZM32.7 274.2L28.0 268.0L38.7 255.4L45.1 261.1ZM11.8 120.4L4.2 114.9L17.2 110.5ZM184.9 145.5L176.4 141.5L176.9 131.3L187.8 130.4L193.4 140.6ZM58.0 210.4L45.5 207.6L54.3 200.9ZM129.6 84.4L133.7 97.7L125.5 98.1L121.5 86.0ZM144.7 90.0L154.4 80.2L153.8 90.0ZM89.0 93.4L78.9 103.6L76.9 89.8ZM152.2 43.6L146.2 53.4L138.3 50.2L145.7 40.4ZM235.4 73.9L236.7 60.2L245.0 64.6L244.1 79.3ZM266.3 33.7L251.8 38.7L252.0 26.6ZM232.5 168.4L253.2 171.8L243.6 178.8ZM30.3 162.9L36.4 170.1L30.9 175.7L19.3 174.5L16.8 165.9ZM61.5 249.0L66.0 243.5L74.5 243.4L73.9 249.7L64.2 254.5ZM71.6 217.8L73.7 207.8L81.8 216.4ZM134.0 6.5L141.4 11.5L136.6 19.3L128.4 15.1ZM203.3 86.8L199.6 75.7L208.6 78.1ZM138.4 18.1L147.7 21.1L141.1 31.1L131.6 28.3ZM207.0 226.9L202.7 241.8L192.9 229.6ZM175.9 106.0L176.6 117.6L169.0 118.5L169.0 109.6ZM166.9 68.7L176.6 60.0L181.2 73.8ZM173.9 155.9L169.5 162.4L159.4 163.2L156.6 151.2L165.3 147.7ZM168.9 188.4L157.5 190.4L155.7 181.7L167.8 181.9ZM141.6 74.0L154.9 69.0L154.4 82.0ZM228.6 12.2L215.4 7.8L225.0 3.1ZM220.6 93.4L209.8 101.5L207.1 91.3ZM197.9 146.9L205.9 151.1L202.6 160.6L193.3 158.3ZM199.0 95.0L192.2 90.8L199.0 81.2L206.1 86.0ZM191.6 122.3L190.9 114.5L198.8 113.1L200.7 121.3ZM38.0 55.5L44.3 62.9L34.2 64.4ZM145.3 74.8L130.7 70.2L145.4 64.9Z" fill="#70fc70" stroke="#70fc70" stroke-width="3" stroke-linejoin="round"/>
<circle cx="220.8" cy="186.5" r="4.0" fill="#6cf06c" stroke="#5a6a5a" stroke-width="0.6"/>
<circle cx="199.5" cy="44.9" r="4.5" fill="#6cf06c" stroke="#5a6a5a" stroke-width="0.6"/>
<circle cx="45.9" cy="21.2" r="4.1" fill="#6cf06c" stroke="#5a6a5a" stroke-width="0.6"/>
<circle cx="151.2" cy="195.6" r="4.4" fill="#6cf06c" stroke="#5a6a5a" stroke-width="0.6"/>
<circle cx="100.5" cy="46.1" r="4.5" fill="#6cf06c" stroke="#5a6a5a" stroke-width="0.6"/>
<circle cx="239.5" cy="13.8" r="4.5" fill="#6cf06c" stroke="#5a6a5a" stroke-width="0.6"/>
<circle cx="63.3" cy="68.9" r="4.9" fill="#6cf06c" stroke="#5a6a5a" stroke-width="0.6"/>
<circle cx="191.3" cy="196.9" r="3.8" fill="#6cf06c" stroke="#5a6a5a" stroke-width="0.6"/>
<circle cx="52.1" cy="5.1" r="4.9" fill="#6cf06c" stroke="#5a6a5a" stroke-width="0.6"/>
<circle cx="81.9" cy="144.2" r="4.7" fill="#6cf06c" stroke="#5a6a5a" stroke-width="0.6"/>
<circle cx="170.5" cy="227.3" r="5.1" fill="#6cf06c" stroke="#5a6a5a" stroke-width="0.6"/>
<circle cx="266.7" cy="260.1" r="5.2" fill="#6cf06c" stroke="#5a6a5a" stroke-width="0.6"/>
<circle cx="99.7" cy="198.3" r="4.7" fill="#6cf06c" stroke="#5a6a5a" stroke-width="0.6"/>
<circle cx="88.5" cy="12.5" r="4.6" fill="#6cf06c" stroke="#5a6a5a" stroke-width="0.6"/>
<circle cx="87.4" cy="236.3" r="4.3" fill="#6cf06c" stroke="#5a6a5a" stroke-width="0.6"/>
<circle cx="144.5" cy="222.1" r="4.0" fill="#6cf06c" stroke="#5a6a5a" stroke-width="0.6"/>
<circle cx="144.8" cy="102.2" r="4.5" fill="#6cf06c" stroke="#5a6a5a" stroke-width="0.6"/>
<circle cx="228.9" cy="63.8" r="4.2" fill="#6cf06c" stroke="#5a6a5a" stroke-width="0.6"/>
<circle cx="243.2" cy="237.0" r="5.0" fill="#6cf06c" stroke="#5a6a5a" stroke-width="0.6"/>
<circle cx="190.1" cy="128.0" r="4.7" fill="#6cf06c" stroke="#5a6a5a" stroke-width="0.6"/>
<circle cx="107.0" cy="197.6" r="4.9" fill="#6cf06c" stroke="#5a6a5a" stroke-width="0.6"/>
<circle cx="111.3" cy="214.3" r="5.0" fill="#6cf06c" stroke="#5a6a5a" stroke-width="0.6"/>
<circle cx="221.8" cy="117.9" r="3.8" fill="#6cf06c" stroke="#5a6a5a" stroke-width="0.6"/>
</g>
</svg>
<svg x="362" y="722" width="267.4" height="267.4" overflow="hidden">
<rect width="267.4" height="267.4" fill="url(#mbg2)"/>
<g filter="url(#cb)">
<path d="M-4.9 151.1L4.0 139.3L1.2 156.7ZM35.1 -1.0L32.1 17.3L23.8 9.3ZM246.9 221.0L231.1 224.1L228.3 211.9ZM179.3 177.4L188.2 176.0L190.2 187.4L182.5 192.7L176.5 185.9ZM139.1 62.4L144.7 56.8L150.8 62.4L147.3 70.3ZM82.4 132.0L83.8 124.4L94.7 120.6L93.0 131.6ZM104.8 83.5L107.7 73.2L114.7 74.4L114.8 86.8L108.2 90.3ZM108.5 27.3L102.1 38.2L97.3 24.5ZM156.0 175.5L152.2 184.7L140.2 179.4ZM240.6 35.8L246.8 29.2L255.6 31.9L250.4 39.3ZM37.7 88.4L37.2 97.8L29.4 96.0L29.3 88.3ZM181.2 75.2L192.3 79.7L185.8 89.7L176.2 84.3ZM172.9 131.7L179.9 142.7L165.7 141.2ZM114.3 54.3L109.9 53.3L107.0 44.4L111.2 38.1L116.2 44.6ZM151.2 177.1L145.0 171.8L157.3 165.8ZM52.7 206.2L54.5 191.1L64.0 196.1ZM256.1 64.3L246.0 59.6L246.2 51.6L259.8 51.9L265.9 59.8ZM16.2 148.2L26.5 149.4L22.5 163.2ZM99.3 58.3L88.3 57.8L92.2 43.1ZM145.4 48.8L148.2 57.9L139.3 55.9ZM206.6 125.6L203.7 117.5L211.0 112.7L214.0 121.6ZM92.5 111.0L104.4 110.1L104.6 116.4L94.3 117.4ZM125.3 20.6L118.1 10.6L124.7 6.1L132.8 16.7ZM22.1 189.2L18.4 200.1L9.4 192.6ZM197.3 121.9L187.1 110.2L191.6 102.0L201.1 111.8ZM117.1 134.9L113.4 124.1L129.9 123.6ZM48.0 71.8L57.0 76.9L56.9 83.0L48.4 82.5L42.5 75.5ZM82.7 64.5L69.9 54.5L73.5 46.1L83.1 54.1ZM32.7 50.9L39.7 46.0L44.1 55.3ZM150.0 194.0L156.9 181.6L164.1 184.5L160.1 194.8ZM50.7 213.9L62.2 214.1L62.2 225.1ZM128.9 211.2L118.1 214.3L111.8 208.1L122.0 205.6ZM117.4 62.7L112.3 74.1L107.6 65.6L112.8 57.5ZM32.2 231.1L42.0 226.4L44.0 235.1L36.3 238.3ZM141.8 138.0L132.7 128.2L146.3 125.2ZM29.8 154.9L26.1 143.6L34.1 138.2L36.3 147.8ZM48.9 201.0L58.1 207.3L51.3 211.2L41.9 204.4Z" fill="#72ff72" stroke="#72ff72" stroke-width="3" stroke-linejoin="round"/>
<path d="M65.1 12.0L70.3 -1.8L76.2 8.8ZM56.5 136.5L60.5 145.3L52.8 145.2L49.0 136.4ZM187.7 101.1L185.3 86.5L197.3 85.7ZM155.1 25.3L154.5 36.3L143.0 30.7ZM93.4 142.2L86.0 147.0L73.2 140.1L82.6 135.1ZM205.0 136.8L191.8 137.7L204.4 121.7ZM36.4 184.8L34.2 195.9L27.7 198.1L24.6 186.7L31.4 179.2ZM191.1 253.5L196.5 264.0L184.4 262.8ZM102.5 127.1L107.1 120.1L115.0 121.0L114.0 127.6L107.6 131.4ZM214.6 67.2L207.1 68.4L198.8 61.2L203.4 55.7L213.0 59.4ZM55.5 185.0L42.6 181.4L56.3 171.6L64.2 177.9ZM172.5 18.5L190.0 29.2L170.9 27.8ZM215.5 189.2L204.2 194.1L202.8 184.4L213.5 180.8ZM130.7 -1.7L139.2 -3.8L138.5 8.0L131.5 9.3ZM68.4 183.4L82.1 181.9L86.2 191.4L73.6 191.8ZM47.2 149.2L38.7 137.8L45.8 133.4L54.2 146.8ZM10.1 196.7L16.1 211.0L4.5 207.6ZM240.5 184.6L229.8 175.7L237.2 165.9L245.5 176.0ZM139.6 110.5L146.6 113.4L143.3 123.1L135.7 121.9ZM79.6 194.5L84.2 202.7L72.2 199.3ZM225.1 95.0L232.9 102.9L220.0 104.9L214.4 97.1ZM47.5 54.4L56.6 66.5L46.7 66.4ZM78.4 76.5L69.9 83.4L68.1 73.1L76.8 68.5ZM151.0 84.1L165.3 78.5L168.6 87.2ZM12.6 169.9L9.1 180.6L2.9 171.8L7.6 161.6ZM188.9 36.9L186.0 46.0L176.8 43.4L175.5 33.2L181.5 28.3ZM145.7 168.4L135.2 167.5L135.1 158.9L147.9 159.6ZM117.7 106.5L119.3 94.6L127.4 101.2ZM230.1 145.9L220.8 135.6L226.9 129.7L234.0 138.6ZM55.1 134.7L41.6 132.8L48.9 122.0ZM63.4 110.9L74.2 108.5L75.9 121.6L64.3 123.2ZM111.5 170.3L100.9 179.0L91.5 174.8L101.1 166.1Z" fill="#6cff6c" stroke="#6cff6c" stroke-width="3" stroke-linejoin="round"/>
<path d="M253.9 140.7L251.8 132.4L259.1 126.5L261.3 135.0ZM234.7 112.3L225.1 124.0L219.3 114.2ZM59.8 97.0L69.7 102.6L68.5 111.1L59.7 105.5ZM54.1 253.0L45.9 238.5L54.1 232.2L62.3 245.7ZM26.0 67.2L19.0 65.3L21.1 54.8L30.0 49.5L33.3 57.9ZM223.5 213.5L212.7 217.6L214.0 207.2ZM26.8 87.8L25.1 79.5L32.5 78.8L36.2 86.5ZM204.3 148.4L217.9 152.0L204.5 160.3ZM52.1 33.8L44.1 28.5L47.7 20.7L56.0 25.0ZM217.6 76.5L224.4 59.5L228.9 66.7ZM38.7 267.6L26.7 273.5L33.2 258.6ZM124.7 25.3L115.3 31.3L110.7 25.2L122.4 19.5ZM149.8 75.4L141.3 84.6L137.5 71.7ZM190.1 217.4L189.8 208.9L198.5 212.0L202.3 221.4L196.5 222.9ZM197.3 107.7L205.5 98.8L209.4 104.0L202.3 112.3ZM120.1 200.9L107.3 196.7L123.5 188.1ZM188.4 47.5L197.9 40.9L208.7 45.3L199.4 53.5ZM12.7 110.0L21.2 102.7L30.8 108.4L18.9 116.9ZM112.0 121.7L111.8 112.8L120.3 113.7L118.1 122.9ZM59.6 207.8L67.1 192.8L73.4 200.9L64.2 216.0ZM184.5 111.7L182.5 119.4L167.0 111.4L170.9 105.2ZM167.6 250.4L177.2 250.4L178.3 258.8L167.8 260.4ZM94.9 154.3L82.6 163.5L81.3 151.0ZM122.2 146.1L129.2 143.3L136.0 157.0L128.8 159.7ZM76.0 232.4L70.7 231.3L68.4 219.7L73.0 216.9L78.6 224.5ZM31.6 229.9L28.9 237.8L19.3 235.9L21.5 227.3ZM130.0 184.4L113.3 186.5L117.0 176.7ZM101.3 209.5L110.0 202.7L110.8 211.7ZM63.5 147.4L61.3 138.1L66.2 134.8L70.7 146.3ZM25.5 157.8L36.9 150.5L39.3 157.5ZM60.6 234.2L67.3 224.5L65.9 239.8ZM95.4 151.2L112.2 152.7L103.8 158.0ZM213.7 9.5L204.4 18.4L196.2 12.8ZM97.1 186.2L112.3 184.5L105.5 194.8ZM149.4 67.1L153.2 54.1L157.7 66.9ZM92.7 207.1L83.5 214.1L76.4 208.7L83.6 198.6ZM164.3 76.9L156.4 67.4L161.7 61.5L170.6 69.2ZM12.0 129.7L16.9 141.5L5.4 138.2Z" fill="#76ff76" stroke="#76ff76" stroke-width="3" stroke-linejoin="round"/>
<path d="M61.9 174.7L60.8 165.0L72.5 168.9L76.9 180.2ZM206.1 5.7L203.9 -0.5L216.5 -2.2L220.0 4.1ZM32.3 215.3L30.7 210.3L38.7 206.6L45.7 208.5L39.4 215.7ZM183.0 63.5L173.4 55.0L182.6 46.8ZM215.4 165.7L211.8 180.9L203.1 174.7L207.8 162.0ZM106.1 220.3L116.8 215.4L119.6 229.8ZM196.6 193.5L199.5 200.4L188.9 210.2L183.6 201.5ZM153.5 158.4L134.4 157.8L145.3 147.5ZM132.7 188.6L125.2 190.3L126.2 181.2L134.7 178.3ZM127.3 161.3L122.3 171.4L113.8 168.4L120.4 158.4ZM82.0 252.9L70.0 258.6L78.9 242.8ZM134.0 98.4L130.1 80.7L143.8 94.0ZM239.2 264.1L239.7 251.0L247.9 263.2ZM198.6 3.0L195.2 12.9L188.0 5.2ZM86.2 221.3L94.5 213.3L107.7 215.5L101.9 225.2ZM125.1 41.2L117.1 38.0L116.3 32.0L123.8 28.6L130.4 34.9ZM159.4 99.4L157.6 111.0L146.2 112.8L146.7 101.7ZM124.5 207.4L126.3 195.3L134.1 202.6ZM239.3 133.7L248.8 135.0L251.6 146.0L240.2 144.3ZM94.7 76.0L83.7 82.7L79.4 75.9L88.3 65.3L94.4 67.2ZM153.5 145.9L153.8 129.6L163.2 136.5ZM176.0 146.3L184.1 128.9L184.9 143.3ZM91.5 88.6L87.0 104.4L76.5 101.7L80.6 87.8ZM173.4 232.7L185.9 226.9L183.7 243.0ZM199.0 76.7L203.9 81.4L200.7 91.9L196.3 86.9ZM138.7 56.9L130.8 65.4L127.2 53.6ZM135.2 40.2L132.9 26.7L145.8 37.8ZM214.7 184.4L224.5 189.6L222.5 203.0L214.6 200.6ZM213.8 153.4L213.9 146.0L222.4 143.7L224.8 149.3L222.3 154.6ZM54.0 107.7L60.5 120.7L54.6 123.6L48.6 111.5ZM145.5 24.5L148.7 15.7L161.3 22.9ZM36.6 80.2L47.7 80.3L51.5 85.0L44.9 89.5L36.2 85.6ZM131.7 144.1L132.5 131.5L143.3 141.7ZM48.6 45.5L33.8 47.2L38.0 34.3ZM200.3 167.5L193.6 168.1L195.6 156.0L201.3 155.0ZM104.3 108.7L99.4 102.6L104.8 94.7L113.0 95.2L111.1 104.7Z" fill="#68f868" stroke="#68f868" stroke-width="3" stroke-linejoin="round"/>
<path d="M18.0 98.6L16.5 111.7L8.1 104.0L10.7 91.8ZM157.5 238.6L151.3 229.7L159.3 226.7L163.4 233.5ZM155.1 241.3L148.4 253.3L144.6 236.2ZM121.8 239.8L129.2 243.4L129.2 257.4L120.9 255.8ZM53.4 41.4L62.5 41.4L58.4 49.7ZM186.6 156.7L178.0 161.9L176.4 150.5L184.1 145.9ZM15.2 213.5L19.6 206.4L29.1 207.4L23.6 215.2ZM256.9 186.0L247.4 188.8L251.1 177.3ZM239.9 165.0L244.4 158.3L251.7 163.3L245.6 169.8ZM41.6 116.9L31.3 106.3L49.0 106.1ZM222.4 155.8L225.1 170.4L217.3 166.3ZM136.1 75.2L123.6 77.7L128.1 66.2ZM191.4 180.2L196.8 170.6L205.6 172.6L199.5 182.3ZM106.1 245.8L105.2 257.4L94.9 262.3L95.7 250.0ZM89.9 266.2L80.6 265.2L85.8 256.1ZM140.9 220.4L150.5 213.5L151.2 228.6ZM-1.4 195.7L0.4 187.1L8.9 188.8L7.3 198.8ZM178.8 162.6L190.3 166.7L182.7 178.1L172.8 173.4ZM153.2 149.5L140.4 145.9L150.3 137.7ZM95.2 44.0L89.2 47.1L83.6 39.2L89.0 36.2ZM146.7 12.4L142.6 26.6L134.2 12.8ZM81.9 240.8L84.3 229.7L94.7 237.1ZM8.1 105.7L0.4 112.4L-5.5 107.4L3.0 101.4ZM172.1 99.6L162.2 99.9L160.6 87.8ZM202.9 82.5L217.7 71.1L222.7 78.0L210.1 86.5ZM190.0 64.6L191.3 73.5L176.0 64.0ZM188.7 150.2L199.8 153.7L187.0 164.4ZM97.4 185.9L95.6 195.8L87.1 190.4L89.6 178.8ZM118.1 134.5L110.5 145.4L101.6 134.1Z" fill="#70fc70" stroke="#70fc70" stroke-width="3" stroke-linejoin="round"/>
<circle cx="98.7" cy="89.5" r="4.1" fill="#6cf06c" stroke="#5a6a5a" stroke-width="0.6"/>
<circle cx="76.7" cy="37.4" r="5.1" fill="#6cf06c" stroke="#5a6a5a" stroke-width="0.6"/>
<circle cx="233.8" cy="67.9" r="4.8" fill="#6cf06c" stroke="#5a6a5a" stroke-width="0.6"/>
<circle cx="151.1" cy="129.6" r="3.8" fill="#6cf06c" stroke="#5a6a5a" stroke-width="0.6"/>
<circle cx="206.1" cy="26.5" r="4.4" fill="#6cf06c" stroke="#5a6a5a" stroke-width="0.6"/>
<circle cx="3.9" cy="49.5" r="5.0" fill="#6cf06c" stroke="#5a6a5a" stroke-width="0.6"/>
<circle cx="92.0" cy="204.3" r="3.8" fill="#6cf06c" stroke="#5a6a5a" stroke-width="0.6"/>
<circle cx="111.8" cy="151.1" r="5.2" fill="#6cf06c" stroke="#5a6a5a" stroke-width="0.6"/>
<circle cx="66.8" cy="56.3" r="4.7" fill="#6cf06c" stroke="#5a6a5a" stroke-width="0.6"/>
<circle cx="53.5" cy="90.1" r="4.4" fill="#6cf06c" stroke="#5a6a5a" stroke-width="0.6"/>
<circle cx="77.8" cy="132.1" r="4.1" fill="#6cf06c" stroke="#5a6a5a" stroke-width="0.6"/>
<circle cx="175.2" cy="44.0" r="4.0" fill="#6cf06c" stroke="#5a6a5a" stroke-width="0.6"/>
<circle cx="37.2" cy="246.2" r="4.3" fill="#6cf06c" stroke="#5a6a5a" stroke-width="0.6"/>
<circle cx="139.3" cy="190.0" r="4.6" fill="#6cf06c" stroke="#5a6a5a" stroke-width="0.6"/>
<circle cx="51.5" cy="225.2" r="4.4" fill="#6cf06c" stroke="#5a6a5a" stroke-width="0.6"/>
<circle cx="213.5" cy="26.7" r="4.6" fill="#6cf06c" stroke="#5a6a5a" stroke-width="0.6"/>
<circle cx="6.5" cy="149.9" r="4.1" fill="#6cf06c" stroke="#5a6a5a" stroke-width="0.6"/>
<circle cx="126.9" cy="48.0" r="4.1" fill="#6cf06c" stroke="#5a6a5a" stroke-width="0.6"/>
<circle cx="160.5" cy="111.5" r="4.4" fill="#6cf06c" stroke="#5a6a5a" stroke-width="0.6"/>
<circle cx="109.5" cy="232.4" r="4.3" fill="#6cf06c" stroke="#5a6a5a" stroke-width="0.6"/>
<circle cx="168.2" cy="244.2" r="4.0" fill="#6cf06c" stroke="#5a6a5a" stroke-width="0.6"/>
<circle cx="88.3" cy="194.2" r="4.2" fill="#6cf06c" stroke="#5a6a5a" stroke-width="0.6"/>
<circle cx="131.4" cy="107.9" r="4.2" fill="#6cf06c" stroke="#5a6a5a" stroke-width="0.6"/>
<circle cx="96.2" cy="167.9" r="4.6" fill="#6cf06c" stroke="#5a6a5a" stroke-width="0.6"/>
<circle cx="104.0" cy="142.9" r="5.1" fill="#6cf06c" stroke="#5a6a5a" stroke-width="0.6"/>
<circle cx="112.0" cy="171.8" r="4.3" fill="#6cf06c" stroke="#5a6a5a" stroke-width="0.6"/>
<circle cx="164.3" cy="116.8" r="4.2" fill="#6cf06c" stroke="#5a6a5a" stroke-width="0.6"/>
<circle cx="126.3" cy="229.3" r="4.5" fill="#6cf06c" stroke="#5a6a5a" stroke-width="0.6"/>
</g>
</svg>
<svg x="673.2" y="724" width="267.2" height="267.2" overflow="hidden">
<rect width="267.2" height="267.2" fill="url(#mbg3)"/>
<g filter="url(#cb)">
<path d="M188.1 34.8L196.1 25.5L205.4 32.3L196.0 41.6ZM135.5 147.6L129.1 140.1L137.9 131.7L146.4 136.0ZM202.4 120.3L191.1 113.5L195.5 107.8L205.8 114.1ZM65.6 218.9L73.8 212.3L72.6 229.2ZM39.0 33.5L47.9 38.0L46.8 51.7L38.9 45.9ZM133.7 120.8L126.0 127.2L119.2 119.6L121.8 112.7L132.1 111.3ZM84.0 198.2L100.5 193.9L91.7 203.8ZM69.0 107.0L75.2 112.3L74.0 118.9L65.7 116.3L62.8 108.0ZM246.7 162.9L251.4 151.6L260.4 158.9L253.8 168.9ZM69.6 51.8L72.3 43.2L81.7 48.0L79.3 55.1ZM211.1 197.1L205.4 205.4L200.8 188.1ZM236.0 46.0L227.2 41.8L231.2 32.7L237.8 35.5ZM103.7 131.5L114.3 142.6L103.1 141.6ZM226.3 177.8L228.2 168.9L235.3 170.8L238.6 180.4L234.6 186.1ZM166.8 138.1L159.1 149.6L153.9 137.6ZM128.8 25.2L139.4 34.1L126.6 35.3ZM40.2 191.8L51.1 189.1L53.1 196.5L45.3 200.0ZM13.4 99.6L20.0 90.6L25.4 99.9ZM101.0 1.9L112.1 -1.5L113.6 5.8L101.8 9.4ZM128.1 133.1L114.3 135.0L108.3 129.9L119.2 127.2ZM176.2 202.9L171.0 192.9L184.9 192.4ZM257.3 103.5L261.4 110.5L252.6 115.1L248.3 108.5ZM263.7 124.0L256.2 120.4L257.0 111.9L266.1 109.7L270.3 116.7Z" fill="#72ff72" stroke="#72ff72" stroke-width="3" stroke-linejoin="round"/>
<path d="M153.7 53.1L145.3 53.0L144.8 44.7L154.1 44.5ZM190.6 165.9L181.7 161.4L182.8 148.3L192.4 155.5ZM120.1 240.7L107.5 233.2L119.0 229.3ZM106.1 86.1L110.1 95.6L107.0 107.3L99.3 107.8L98.2 96.3ZM59.3 85.7L64.2 82.2L71.2 85.9L69.0 91.8L62.2 93.3ZM226.0 73.4L221.4 84.8L213.4 81.8L217.0 72.2ZM214.8 112.4L207.1 116.6L201.4 105.8ZM149.6 157.2L155.7 166.8L144.9 174.8ZM249.9 132.8L251.1 122.3L258.6 133.1ZM18.2 41.2L6.7 47.6L1.2 36.2L12.7 32.1ZM24.5 33.0L18.9 30.6L18.0 18.9L22.4 17.3L26.6 27.1ZM146.9 121.5L159.3 117.7L154.3 134.5ZM103.8 113.8L113.7 116.4L111.9 125.0L101.1 123.1ZM89.9 171.9L100.0 176.3L101.4 188.8L88.6 183.4ZM260.6 104.4L249.6 107.0L247.9 98.8L259.1 94.3ZM140.0 218.0L146.8 225.9L142.2 230.3L132.0 221.4ZM239.2 120.3L233.6 127.2L228.2 117.9L232.1 111.1ZM218.1 182.7L208.3 194.1L203.3 182.8ZM208.7 180.2L205.2 174.8L215.0 166.0L218.3 173.1Z" fill="#6cff6c" stroke="#6cff6c" stroke-width="3" stroke-linejoin="round"/>
<path d="M159.0 204.5L150.6 195.9L159.8 189.2ZM125.0 207.3L134.0 215.9L132.4 223.6L122.5 214.0ZM41.1 113.6L50.1 101.5L57.5 106.8L50.0 116.9ZM213.2 149.6L205.8 142.6L213.3 138.7ZM259.4 27.4L246.6 27.9L255.3 18.2ZM68.0 11.6L81.2 5.1L76.6 18.1ZM244.7 64.3L244.3 72.4L229.7 68.6L232.7 62.6ZM231.5 195.8L232.0 189.3L243.6 190.9L240.6 197.0ZM147.9 19.6L141.9 13.6L146.5 4.8L151.3 11.0ZM237.9 156.7L237.7 147.6L247.6 145.2L254.3 153.5L247.5 158.8ZM54.2 178.5L39.8 181.5L45.2 167.3ZM270.7 176.8L261.3 186.5L263.0 169.6ZM163.5 16.3L169.1 32.3L158.8 30.5L155.7 18.2ZM157.4 34.5L168.4 41.8L156.6 45.9ZM73.2 126.0L65.1 137.0L59.2 135.5L67.0 122.2ZM217.1 133.8L228.4 138.2L232.3 148.1L222.4 147.9ZM217.0 105.5L212.7 94.9L225.6 95.2ZM101.6 148.4L115.2 149.9L105.9 161.2ZM223.8 143.1L233.2 153.4L226.4 159.7L217.2 151.1Z" fill="#76ff76" stroke="#76ff76" stroke-width="3" stroke-linejoin="round"/>
<path d="M171.8 32.1L172.0 22.5L181.0 23.8ZM202.8 160.7L208.3 174.7L195.6 170.5ZM253.1 82.8L258.2 84.4L250.8 93.9L243.2 93.0ZM52.5 30.6L61.8 22.4L61.8 37.0ZM42.3 212.2L29.2 207.5L39.2 203.1ZM141.2 100.8L154.7 99.8L145.5 113.3ZM208.8 236.4L209.6 224.6L218.2 226.3ZM129.1 57.3L128.3 49.8L141.6 50.4ZM63.0 176.6L67.5 188.7L58.6 191.8L53.4 180.7ZM221.0 27.0L234.1 38.0L219.2 36.7ZM56.3 38.0L70.7 45.4L61.3 52.9ZM192.0 73.3L175.3 70.4L183.4 63.2ZM46.3 165.2L33.8 154.2L44.2 149.2L54.6 158.7ZM195.8 29.7L184.0 22.0L197.1 15.7ZM78.1 104.5L89.6 104.0L83.1 116.3ZM85.1 196.4L67.8 203.8L66.8 193.4ZM190.4 247.5L186.6 261.9L178.1 256.7L181.5 242.9ZM153.0 187.4L150.9 196.9L142.9 195.8L145.2 188.2ZM200.4 204.2L183.8 199.9L193.8 189.7ZM85.3 94.9L78.2 88.2L83.6 81.2L91.1 86.9ZM189.6 177.1L187.1 189.8L178.7 180.8ZM132.5 248.5L131.7 257.8L125.9 258.8L121.0 250.8L124.5 242.9Z" fill="#68f868" stroke="#68f868" stroke-width="3" stroke-linejoin="round"/>
<path d="M204.9 107.4L201.0 93.0L214.0 95.4ZM29.6 22.2L27.6 14.4L33.1 7.3L36.6 16.7ZM225.8 19.3L234.6 16.1L236.7 31.7ZM79.0 45.4L76.4 30.3L89.3 42.1ZM120.6 160.5L128.3 161.7L123.5 173.3L117.5 169.6ZM76.0 240.5L66.7 248.3L61.4 240.2L72.0 229.8ZM239.5 98.3L244.1 107.3L234.9 111.5L229.8 103.1ZM65.0 265.3L52.7 260.5L55.4 246.5ZM143.3 75.1L151.3 73.9L155.5 82.4L146.7 85.3ZM78.1 133.7L87.6 125.3L95.7 131.1L92.8 141.2L83.5 141.5ZM203.1 127.9L213.8 127.3L217.0 132.6L205.5 134.4ZM156.6 220.4L168.9 229.5L160.1 234.1ZM197.3 80.9L187.6 89.7L185.4 77.6ZM255.3 88.2L260.1 85.6L264.7 97.2L259.2 99.7ZM126.3 260.5L120.5 273.5L113.9 272.3L116.0 257.4L123.8 254.7ZM154.5 221.4L149.7 211.7L154.7 205.3L161.1 220.0ZM127.2 113.0L126.6 102.2L134.2 94.3L135.2 103.1ZM116.8 185.0L125.0 172.2L134.3 175.3L130.7 185.4ZM256.3 191.9L243.9 193.8L247.6 182.8ZM95.2 159.7L107.5 163.6L105.8 172.7L93.7 168.8ZM197.6 45.3L206.1 51.0L203.3 65.2L195.8 60.3ZM51.1 135.9L44.3 129.6L48.1 122.7L54.6 127.2ZM205.5 59.5L210.2 40.9L217.2 55.3ZM218.2 86.2L225.1 82.8L228.9 93.1ZM50.0 83.5L60.3 97.0L45.4 95.5ZM235.3 135.7L230.8 124.7L240.9 125.7Z" fill="#70fc70" stroke="#70fc70" stroke-width="3" stroke-linejoin="round"/>
<path d="M17.9 44.0L31.9 54.1L30.1 65.0L15.8 54.2ZM207.5 262.6L210.1 256.3L219.6 260.3L217.2 267.2ZM1.6 195.0L-4.5 192.7L-1.4 183.1L6.8 184.4ZM232.0 208.5L217.9 200.8L233.6 201.6ZM43.4 227.4L39.7 218.9L47.6 219.1L55.3 228.0ZM10.5 165.0L-5.2 156.2L9.2 151.3ZM213.3 236.0L225.0 234.4L230.1 240.1L221.3 244.7L212.8 243.5ZM111.2 227.9L96.3 233.4L100.9 220.9ZM102.7 243.7L105.1 229.9L114.0 240.0ZM35.7 67.0L33.7 77.5L24.8 75.3L25.9 65.1ZM58.5 204.4L74.4 209.2L66.2 214.2ZM23.9 126.6L25.0 136.7L16.2 134.0L15.6 122.4ZM183.9 268.0L171.3 270.6L168.4 264.3L182.2 261.9ZM27.6 154.4L36.0 163.2L21.4 167.7ZM7.5 250.7L-4.2 243.6L5.7 237.9Z" fill="#5cc85c" stroke="#5cc85c" stroke-width="3" stroke-linejoin="round"/>
<path d="M1.2 96.4L7.9 103.4L-3.9 112.2ZM251.4 213.5L255.7 202.6L267.8 207.6L260.8 217.9ZM0.0 234.0L2.8 226.8L14.8 221.3L15.7 226.4L7.1 235.8ZM8.7 127.3L9.3 136.3L2.9 140.6L0.8 132.5ZM20.7 245.9L32.4 235.1L31.1 247.1ZM23.6 174.1L27.8 187.0L19.0 188.4L14.7 171.2ZM17.0 161.1L16.3 152.3L23.5 150.3L27.3 154.2L25.0 160.0ZM218.1 260.3L214.6 248.4L225.1 242.4L227.1 257.8ZM141.8 255.7L130.6 249.7L146.9 243.1ZM273.5 230.9L262.7 236.4L264.9 222.9ZM38.1 79.1L27.9 88.8L20.0 80.0ZM30.9 220.4L28.7 207.8L43.4 213.1ZM52.0 -1.3L62.4 -4.1L57.5 6.9L47.7 7.1ZM40.1 180.0L32.4 182.0L36.9 169.0ZM236.7 231.2L242.2 244.4L230.2 240.7ZM39.9 104.1L29.1 104.3L34.8 88.8L44.6 91.4ZM181.0 235.5L170.3 239.0L168.9 231.0L179.1 228.5ZM164.1 263.6L160.6 272.6L151.2 263.6L155.3 255.5ZM14.1 109.8L19.7 103.4L32.6 109.5L27.4 115.1ZM124.6 223.3L117.6 230.3L112.3 223.3L119.4 218.4ZM200.2 261.5L203.5 252.0L207.7 261.9ZM179.7 218.7L172.4 218.9L170.5 211.0L182.5 203.5L187.9 207.7ZM109.2 22.1L114.8 39.5L108.4 41.8L101.8 28.4ZM27.7 117.9L33.5 119.5L34.6 128.3L27.3 131.7L22.1 125.2ZM154.4 241.9L160.6 244.9L158.2 253.7L151.3 255.0L148.3 250.1Z" fill="#62d062" stroke="#62d062" stroke-width="3" stroke-linejoin="round"/>
<path d="M254.7 239.2L242.8 238.0L245.9 228.4L256.4 230.3ZM146.0 264.9L136.0 257.8L146.1 256.3ZM14.8 84.2L7.7 76.4L17.8 70.8L25.8 78.0ZM115.8 177.3L111.3 186.7L103.9 184.1L106.7 176.2ZM23.2 258.4L14.0 254.3L15.9 248.6L24.0 247.8L28.1 256.0ZM169.6 225.8L176.2 219.2L181.8 227.0ZM93.1 81.1L80.8 80.3L80.9 65.5ZM24.1 113.0L23.4 125.8L11.5 119.9ZM193.0 230.8L198.6 222.0L205.5 226.4L203.9 237.5L195.8 240.5ZM139.5 216.3L124.0 207.9L127.5 202.0L144.4 210.0ZM245.1 258.9L235.4 251.2L246.0 246.0ZM83.7 198.4L90.0 206.7L81.1 212.7L74.8 204.4ZM188.2 270.2L189.1 257.5L198.7 265.2ZM226.8 214.4L236.1 208.6L241.4 216.9L233.8 223.8ZM167.5 246.3L157.7 243.4L150.9 233.3L155.8 229.1L166.9 237.1ZM261.5 268.2L264.3 254.4L273.3 263.1ZM36.1 265.1L24.8 274.5L18.0 268.6L29.0 258.9ZM230.5 262.5L230.9 253.5L242.3 254.7L241.4 263.1ZM4.6 150.2L8.2 143.6L15.9 147.4L12.2 155.5ZM105.6 267.7L97.1 263.1L100.0 255.8L108.6 259.6ZM130.5 233.1L138.0 230.2L142.5 237.1L138.3 247.1L130.4 241.7Z" fill="#58c058" stroke="#58c058" stroke-width="3" stroke-linejoin="round"/>
<circle cx="195.8" cy="255.7" r="4.8" fill="#6cf06c" stroke="#5a6a5a" stroke-width="0.6"/>
<circle cx="195.7" cy="172.2" r="3.9" fill="#6cf06c" stroke="#5a6a5a" stroke-width="0.6"/>
<circle cx="113.5" cy="20.1" r="4.7" fill="#6cf06c" stroke="#5a6a5a" stroke-width="0.6"/>
<circle cx="100.1" cy="76.4" r="5.1" fill="#6cf06c" stroke="#5a6a5a" stroke-width="0.6"/>
<circle cx="48.9" cy="145.0" r="4.2" fill="#6cf06c" stroke="#5a6a5a" stroke-width="0.6"/>
<circle cx="240.7" cy="52.2" r="4.7" fill="#6cf06c" stroke="#5a6a5a" stroke-width="0.6"/>
<circle cx="128.3" cy="13.2" r="5.0" fill="#6cf06c" stroke="#5a6a5a" stroke-width="0.6"/>
<circle cx="119.7" cy="40.7" r="4.3" fill="#6cf06c" stroke="#5a6a5a" stroke-width="0.6"/>
<circle cx="233.8" cy="160.7" r="3.9" fill="#6cf06c" stroke="#5a6a5a" stroke-width="0.6"/>
<circle cx="44.1" cy="90.4" r="4.8" fill="#6cf06c" stroke="#5a6a5a" stroke-width="0.6"/>
<circle cx="171.7" cy="176.2" r="4.9" fill="#6cf06c" stroke="#5a6a5a" stroke-width="0.6"/>
<circle cx="46.1" cy="124.0" r="4.3" fill="#6cf06c" stroke="#5a6a5a" stroke-width="0.6"/>
<circle cx="83.5" cy="216.7" r="3.9" fill="#6cf06c" stroke="#5a6a5a" stroke-width="0.6"/>
<circle cx="11.1" cy="244.8" r="4.5" fill="#6cf06c" stroke="#5a6a5a" stroke-width="0.6"/>
<circle cx="73.9" cy="91.7" r="4.2" fill="#6cf06c" stroke="#5a6a5a" stroke-width="0.6"/>
<circle cx="9.4" cy="91.9" r="4.4" fill="#6cf06c" stroke="#5a6a5a" stroke-width="0.6"/>
<circle cx="250.4" cy="246.9" r="5.1" fill="#6cf06c" stroke="#5a6a5a" stroke-width="0.6"/>
<circle cx="151.2" cy="226.5" r="4.2" fill="#6cf06c" stroke="#5a6a5a" stroke-width="0.6"/>
</g>
</svg>
<svg x="983.3" y="724" width="268.3" height="268.3" overflow="hidden">
<rect width="268.3" height="268.3" fill="url(#mbg4)"/>
<g fill="#626262" fill-opacity="0.6" stroke="#8c8c8c" stroke-width="0.9"><circle cx="53.2" cy="17.1" r="5.2"/><circle cx="52.4" cy="14.7" r="5.4"/><circle cx="43.9" cy="24.0" r="6.4"/><circle cx="60.2" cy="19.5" r="5.8"/><circle cx="60.2" cy="19.1" r="5.1"/><circle cx="62.3" cy="22.1" r="5.1"/><circle cx="59.2" cy="27.2" r="5.2"/><circle cx="93.9" cy="12.1" r="6.0"/><circle cx="99.2" cy="10.9" r="5.5"/><circle cx="112.2" cy="13.2" r="6.9"/><circle cx="118.1" cy="15.2" r="6.4"/><circle cx="118.9" cy="15.7" r="5.7"/><circle cx="119.8" cy="9.0" r="6.1"/><circle cx="117.4" cy="8.2" r="6.6"/><circle cx="229.8" cy="35.8" r="6.5"/><circle cx="227.7" cy="30.0" r="6.8"/><circle cx="225.0" cy="40.6" r="5.4"/><circle cx="219.7" cy="40.5" r="6.7"/><circle cx="221.9" cy="48.3" r="6.4"/><circle cx="224.0" cy="48.0" r="6.3"/><circle cx="228.3" cy="50.7" r="5.6"/><circle cx="245.1" cy="37.4" r="5.5"/><circle cx="211.5" cy="68.7" r="5.1"/><circle cx="189.8" cy="63.4" r="5.1"/><circle cx="187.1" cy="67.0" r="6.2"/><circle cx="198.2" cy="70.1" r="5.8"/><circle cx="199.6" cy="72.4" r="5.9"/><circle cx="191.9" cy="70.7" r="6.3"/><circle cx="190.8" cy="67.6" r="6.3"/><circle cx="165.4" cy="80.0" r="6.5"/><circle cx="166.5" cy="77.8" r="6.7"/><circle cx="158.7" cy="81.3" r="6.0"/><circle cx="176.4" cy="96.8" r="7.0"/><circle cx="174.0" cy="93.4" r="6.9"/><circle cx="45.9" cy="85.0" r="5.7"/><circle cx="45.7" cy="88.5" r="5.2"/><circle cx="63.2" cy="87.8" r="6.6"/><circle cx="59.9" cy="89.5" r="6.5"/><circle cx="35.5" cy="98.9" r="5.3"/><circle cx="40.2" cy="99.9" r="5.0"/><circle cx="81.4" cy="117.0" r="6.1"/><circle cx="99.7" cy="132.8" r="6.0"/><circle cx="126.5" cy="102.8" r="6.6"/><circle cx="125.0" cy="104.8" r="5.1"/><circle cx="125.7" cy="140.3" r="5.6"/><circle cx="120.0" cy="137.8" r="5.4"/><circle cx="129.2" cy="132.1" r="6.7"/><circle cx="166.0" cy="135.5" r="5.5"/><circle cx="169.8" cy="142.6" r="5.5"/><circle cx="165.8" cy="142.7" r="5.8"/><circle cx="158.2" cy="150.0" r="5.4"/><circle cx="232.0" cy="90.2" r="5.6"/><circle cx="228.3" cy="90.8" r="5.9"/><circle cx="240.0" cy="89.0" r="6.4"/><circle cx="240.6" cy="89.9" r="5.5"/><circle cx="233.9" cy="79.9" r="5.8"/><circle cx="220.3" cy="113.4" r="6.9"/><circle cx="222.7" cy="111.8" r="6.6"/><circle cx="224.5" cy="132.3" r="5.4"/><circle cx="228.4" cy="131.6" r="6.3"/><circle cx="264.2" cy="158.9" r="6.1"/><circle cx="261.8" cy="154.2" r="5.4"/><circle cx="38.1" cy="158.6" r="5.7"/><circle cx="33.5" cy="162.5" r="5.1"/><circle cx="21.2" cy="168.8" r="5.9"/><circle cx="33.8" cy="168.5" r="5.7"/><circle cx="71.7" cy="176.7" r="6.4"/><circle cx="73.2" cy="183.8" r="6.9"/><circle cx="70.2" cy="182.2" r="6.8"/><circle cx="63.1" cy="194.7" r="5.0"/><circle cx="67.3" cy="198.5" r="5.2"/><circle cx="57.7" cy="197.0" r="5.9"/><circle cx="32.3" cy="206.1" r="6.2"/><circle cx="27.3" cy="210.6" r="5.2"/><circle cx="30.1" cy="217.4" r="5.6"/><circle cx="8.2" cy="222.5" r="5.7"/><circle cx="186.0" cy="158.7" r="5.4"/><circle cx="182.0" cy="162.7" r="5.8"/><circle cx="192.7" cy="159.7" r="6.5"/><circle cx="199.3" cy="195.0" r="5.7"/><circle cx="197.0" cy="194.5" r="6.3"/><circle cx="207.7" cy="190.9" r="5.1"/><circle cx="208.8" cy="194.2" r="6.3"/><circle cx="227.3" cy="206.4" r="5.6"/><circle cx="229.0" cy="207.5" r="5.9"/><circle cx="123.0" cy="210.3" r="5.5"/><circle cx="113.7" cy="181.4" r="5.0"/><circle cx="103.6" cy="190.0" r="6.9"/><circle cx="88.8" cy="244.9" r="6.1"/><circle cx="44.5" cy="250.1" r="6.1"/><circle cx="120.9" cy="253.3" r="6.3"/><circle cx="126.7" cy="239.5" r="5.5"/><circle cx="130.4" cy="243.9" r="7.0"/><circle cx="129.7" cy="259.7" r="6.1"/><circle cx="132.6" cy="260.5" r="6.0"/><circle cx="93.8" cy="262.5" r="6.0"/><circle cx="135.3" cy="240.8" r="5.1"/><circle cx="137.0" cy="244.9" r="6.4"/><circle cx="143.7" cy="253.7" r="5.9"/><circle cx="265.1" cy="251.7" r="5.1"/><circle cx="260.5" cy="252.5" r="5.8"/><circle cx="127.5" cy="119.0" r="5.9"/><circle cx="155.1" cy="122.2" r="5.2"/><circle cx="119.0" cy="114.7" r="5.6"/><circle cx="138.1" cy="138.1" r="5.8"/><circle cx="114.7" cy="138.1" r="6.5"/><circle cx="187.0" cy="174.2" r="5.2"/><circle cx="182.7" cy="180.6" r="6.3"/><circle cx="191.2" cy="174.2" r="5.8"/><circle cx="261.4" cy="112.6" r="6.5"/><circle cx="255.0" cy="127.5" r="6.4"/><circle cx="259.2" cy="138.1" r="5.4"/><circle cx="263.5" cy="146.6" r="6.4"/><circle cx="235.9" cy="110.5" r="5.7"/><circle cx="240.1" cy="119.0" r="6.7"/><circle cx="244.4" cy="131.7" r="5.0"/><circle cx="6.4" cy="85.0" r="5.6"/><circle cx="35.1" cy="140.2" r="6.0"/><circle cx="63.7" cy="72.2" r="5.6"/><circle cx="43.6" cy="72.2" r="5.8"/><circle cx="27.6" cy="68.0" r="6.2"/><circle cx="136.0" cy="48.9" r="5.5"/><circle cx="191.2" cy="109.4" r="6.7"/><circle cx="187.0" cy="6.4" r="5.6"/><circle cx="212.5" cy="8.5" r="6.4"/><circle cx="244.4" cy="7.4" r="6.9"/><circle cx="250.7" cy="12.7" r="5.2"/><circle cx="165.7" cy="6.4" r="6.8"/><circle cx="85.0" cy="8.5" r="5.4"/><circle cx="12.7" cy="17.0" r="5.9"/><circle cx="51.0" cy="29.7" r="5.2"/><circle cx="61.6" cy="29.7" r="6.9"/><circle cx="240.1" cy="197.6" r="5.6"/><circle cx="223.1" cy="199.7" r="6.0"/><circle cx="119.0" cy="242.2" r="6.9"/><circle cx="144.5" cy="242.2" r="5.3"/><circle cx="106.2" cy="255.0" r="5.2"/><circle cx="182.7" cy="261.4" r="6.4"/><circle cx="159.4" cy="263.5" r="5.1"/><circle cx="12.7" cy="221.0" r="5.3"/><circle cx="6.4" cy="212.5" r="5.5"/><circle cx="12.7" cy="246.5" r="5.0"/></g>
<g fill="none" stroke="#4a4a4a" stroke-width="0.8" opacity="0.8"><circle cx="53.6" cy="17.5" r="3.9"/><circle cx="52.8" cy="15.1" r="4.1"/><circle cx="44.3" cy="24.4" r="5.1"/><circle cx="60.6" cy="19.9" r="4.5"/><circle cx="60.6" cy="19.5" r="3.8"/><circle cx="62.7" cy="22.5" r="3.8"/><circle cx="59.6" cy="27.6" r="3.9"/><circle cx="94.3" cy="12.5" r="4.7"/><circle cx="99.6" cy="11.3" r="4.2"/><circle cx="112.6" cy="13.6" r="5.6"/><circle cx="118.5" cy="15.6" r="5.1"/><circle cx="119.3" cy="16.1" r="4.4"/><circle cx="120.2" cy="9.4" r="4.8"/><circle cx="117.8" cy="8.6" r="5.3"/><circle cx="230.2" cy="36.2" r="5.2"/><circle cx="228.1" cy="30.4" r="5.5"/><circle cx="225.4" cy="41.0" r="4.1"/><circle cx="220.1" cy="40.9" r="5.4"/><circle cx="222.3" cy="48.7" r="5.1"/><circle cx="224.4" cy="48.4" r="5.0"/><circle cx="228.7" cy="51.1" r="4.3"/><circle cx="245.5" cy="37.8" r="4.2"/><circle cx="211.9" cy="69.1" r="3.8"/><circle cx="190.2" cy="63.8" r="3.8"/><circle cx="187.5" cy="67.4" r="4.9"/><circle cx="198.6" cy="70.5" r="4.5"/><circle cx="200.0" cy="72.8" r="4.6"/><circle cx="192.3" cy="71.1" r="5.0"/><circle cx="191.2" cy="68.0" r="5.0"/><circle cx="165.8" cy="80.4" r="5.2"/><circle cx="166.9" cy="78.2" r="5.4"/><circle cx="159.1" cy="81.7" r="4.7"/><circle cx="176.8" cy="97.2" r="5.7"/><circle cx="174.4" cy="93.8" r="5.6"/><circle cx="46.3" cy="85.4" r="4.4"/><circle cx="46.1" cy="88.9" r="3.9"/><circle cx="63.6" cy="88.2" r="5.3"/><circle cx="60.3" cy="89.9" r="5.2"/><circle cx="35.9" cy="99.3" r="4.0"/><circle cx="40.6" cy="100.3" r="3.7"/><circle cx="81.8" cy="117.4" r="4.8"/><circle cx="100.1" cy="133.2" r="4.7"/><circle cx="126.9" cy="103.2" r="5.3"/><circle cx="125.4" cy="105.2" r="3.8"/><circle cx="126.1" cy="140.7" r="4.3"/><circle cx="120.4" cy="138.2" r="4.1"/><circle cx="129.6" cy="132.5" r="5.4"/><circle cx="166.4" cy="135.9" r="4.2"/><circle cx="170.2" cy="143.0" r="4.2"/><circle cx="166.2" cy="143.1" r="4.5"/><circle cx="158.6" cy="150.4" r="4.1"/><circle cx="232.4" cy="90.6" r="4.3"/><circle cx="228.7" cy="91.2" r="4.6"/><circle cx="240.4" cy="89.4" r="5.1"/><circle cx="241.0" cy="90.3" r="4.2"/><circle cx="234.3" cy="80.3" r="4.5"/><circle cx="220.7" cy="113.8" r="5.6"/><circle cx="223.1" cy="112.2" r="5.3"/><circle cx="224.9" cy="132.7" r="4.1"/><circle cx="228.8" cy="132.0" r="5.0"/><circle cx="264.6" cy="159.3" r="4.8"/><circle cx="262.2" cy="154.6" r="4.1"/><circle cx="38.5" cy="159.0" r="4.4"/><circle cx="33.9" cy="162.9" r="3.8"/><circle cx="21.6" cy="169.2" r="4.6"/><circle cx="34.2" cy="168.9" r="4.4"/><circle cx="72.1" cy="177.1" r="5.1"/><circle cx="73.6" cy="184.2" r="5.6"/><circle cx="70.6" cy="182.6" r="5.5"/><circle cx="63.5" cy="195.1" r="3.7"/><circle cx="67.7" cy="198.9" r="3.9"/><circle cx="58.1" cy="197.4" r="4.6"/><circle cx="32.7" cy="206.5" r="4.9"/><circle cx="27.7" cy="211.0" r="3.9"/><circle cx="30.5" cy="217.8" r="4.3"/><circle cx="8.6" cy="222.9" r="4.4"/><circle cx="186.4" cy="159.1" r="4.1"/><circle cx="182.4" cy="163.1" r="4.5"/><circle cx="193.1" cy="160.1" r="5.2"/><circle cx="199.7" cy="195.4" r="4.4"/><circle cx="197.4" cy="194.9" r="5.0"/><circle cx="208.1" cy="191.3" r="3.8"/><circle cx="209.2" cy="194.6" r="5.0"/><circle cx="227.7" cy="206.8" r="4.3"/><circle cx="229.4" cy="207.9" r="4.6"/><circle cx="123.4" cy="210.7" r="4.2"/><circle cx="114.1" cy="181.8" r="3.7"/><circle cx="104.0" cy="190.4" r="5.6"/><circle cx="89.2" cy="245.3" r="4.8"/><circle cx="44.9" cy="250.5" r="4.8"/><circle cx="121.3" cy="253.7" r="5.0"/><circle cx="127.1" cy="239.9" r="4.2"/><circle cx="130.8" cy="244.3" r="5.7"/><circle cx="130.1" cy="260.1" r="4.8"/><circle cx="133.0" cy="260.9" r="4.7"/><circle cx="94.2" cy="262.9" r="4.7"/><circle cx="135.7" cy="241.2" r="3.8"/><circle cx="137.4" cy="245.3" r="5.1"/><circle cx="144.1" cy="254.1" r="4.6"/><circle cx="265.5" cy="252.1" r="3.8"/><circle cx="260.9" cy="252.9" r="4.5"/><circle cx="127.9" cy="119.4" r="4.6"/><circle cx="155.5" cy="122.6" r="3.9"/><circle cx="119.4" cy="115.1" r="4.3"/><circle cx="138.5" cy="138.5" r="4.5"/><circle cx="115.1" cy="138.5" r="5.2"/><circle cx="187.4" cy="174.6" r="3.9"/><circle cx="183.1" cy="181.0" r="5.0"/><circle cx="191.6" cy="174.6" r="4.5"/><circle cx="261.8" cy="113.0" r="5.2"/><circle cx="255.4" cy="127.9" r="5.1"/><circle cx="259.6" cy="138.5" r="4.1"/><circle cx="263.9" cy="147.0" r="5.1"/><circle cx="236.3" cy="110.9" r="4.4"/><circle cx="240.5" cy="119.4" r="5.4"/><circle cx="244.8" cy="132.1" r="3.7"/><circle cx="6.8" cy="85.4" r="4.3"/><circle cx="35.5" cy="140.6" r="4.7"/><circle cx="64.1" cy="72.6" r="4.3"/><circle cx="44.0" cy="72.6" r="4.5"/><circle cx="28.0" cy="68.4" r="4.9"/><circle cx="136.4" cy="49.3" r="4.2"/><circle cx="191.6" cy="109.8" r="5.4"/><circle cx="187.4" cy="6.8" r="4.3"/><circle cx="212.9" cy="8.9" r="5.1"/><circle cx="244.8" cy="7.8" r="5.6"/><circle cx="251.1" cy="13.1" r="3.9"/><circle cx="166.1" cy="6.8" r="5.5"/><circle cx="85.4" cy="8.9" r="4.1"/><circle cx="13.1" cy="17.4" r="4.6"/><circle cx="51.4" cy="30.1" r="3.9"/><circle cx="62.0" cy="30.1" r="5.6"/><circle cx="240.5" cy="198.0" r="4.3"/><circle cx="223.5" cy="200.1" r="4.7"/><circle cx="119.4" cy="242.6" r="5.6"/><circle cx="144.9" cy="242.6" r="4.0"/><circle cx="106.6" cy="255.4" r="3.9"/><circle cx="183.1" cy="261.8" r="5.1"/><circle cx="159.8" cy="263.9" r="3.8"/><circle cx="13.1" cy="221.4" r="4.0"/><circle cx="6.8" cy="212.9" r="4.2"/><circle cx="13.1" cy="246.9" r="3.7"/></g>
<g fill="#c04040" opacity="0.25"><circle cx="51.4" cy="17.7" r="5.5"/><circle cx="60.1" cy="19.1" r="5.5"/><circle cx="95.2" cy="12.2" r="5.5"/><circle cx="228.6" cy="34.3" r="5.5"/><circle cx="224.5" cy="49.5" r="5.5"/><circle cx="187.7" cy="64.6" r="5.5"/><circle cx="194.4" cy="66.6" r="5.5"/><circle cx="160.8" cy="81.9" r="5.5"/><circle cx="172.6" cy="96.3" r="5.5"/><circle cx="37.5" cy="102.1" r="5.5"/><circle cx="103.0" cy="134.7" r="5.5"/><circle cx="133.0" cy="132.0" r="5.5"/><circle cx="155.5" cy="153.1" r="5.5"/><circle cx="238.3" cy="91.1" r="5.5"/><circle cx="223.9" cy="114.1" r="5.5"/><circle cx="263.5" cy="154.8" r="5.5"/><circle cx="29.9" cy="169.6" r="5.5"/><circle cx="76.1" cy="178.3" r="5.5"/><circle cx="64.3" cy="198.9" r="5.5"/><circle cx="55.1" cy="195.0" r="5.5"/><circle cx="31.9" cy="201.7" r="5.5"/><circle cx="31.0" cy="219.7" r="5.5"/><circle cx="192.1" cy="162.0" r="5.5"/><circle cx="120.9" cy="212.0" r="5.5"/><circle cx="105.4" cy="188.3" r="5.5"/><circle cx="87.4" cy="246.0" r="5.5"/><circle cx="127.8" cy="241.9" r="5.5"/><circle cx="139.9" cy="243.5" r="5.5"/><circle cx="147.4" cy="251.1" r="5.5"/></g>
<circle cx="53.1" cy="15.9" r="3.5" fill="#ff2e2e"/><circle cx="46.3" cy="22.3" r="3.5" fill="#ff2e2e"/><circle cx="59.1" cy="20.2" r="3.1" fill="#d84040"/><circle cx="61.6" cy="24.4" r="2.6" fill="#d84040"/><circle cx="96.7" cy="12.7" r="3.4" fill="#ff2e2e"/><circle cx="110.5" cy="15.9" r="3.2" fill="#ff2e2e"/><circle cx="116.9" cy="13.8" r="2.9" fill="#d84040"/><circle cx="119.0" cy="8.5" r="2.9" fill="#d84040"/><circle cx="229.1" cy="32.9" r="3.7" fill="#ff2e2e"/><circle cx="222.1" cy="41.4" r="3.2" fill="#ff2e2e"/><circle cx="218.9" cy="46.7" r="3.1" fill="#d84040"/><circle cx="226.3" cy="49.9" r="2.7" fill="#d84040"/><circle cx="246.5" cy="40.4" r="2.3" fill="#d84040"/><circle cx="209.3" cy="65.9" r="3.2" fill="#ff2e2e"/><circle cx="187.0" cy="64.8" r="2.3" fill="#d84040"/><circle cx="200.8" cy="70.1" r="2.3" fill="#d84040"/><circle cx="193.4" cy="68.0" r="2.7" fill="#d84040"/><circle cx="167.9" cy="77.6" r="3.8" fill="#ff2e2e"/><circle cx="161.5" cy="82.9" r="2.9" fill="#d84040"/><circle cx="174.2" cy="95.6" r="4.0" fill="#ff2e2e"/><circle cx="45.7" cy="86.1" r="4.0" fill="#ff2e2e"/><circle cx="60.6" cy="86.7" r="2.8" fill="#d84040"/><circle cx="37.2" cy="100.9" r="3.9" fill="#ff2e2e"/><circle cx="80.7" cy="119.0" r="3.1" fill="#d84040"/><circle cx="102.0" cy="133.4" r="3.5" fill="#ff2e2e"/><circle cx="127.1" cy="104.1" r="3.0" fill="#d84040"/><circle cx="122.8" cy="139.6" r="2.8" fill="#d84040"/><circle cx="131.7" cy="131.7" r="3.0" fill="#d84040"/><circle cx="163.6" cy="134.3" r="3.0" fill="#d84040"/><circle cx="167.9" cy="144.1" r="3.9" fill="#ff2e2e"/><circle cx="157.2" cy="151.9" r="2.7" fill="#d84040"/><circle cx="229.5" cy="90.3" r="3.1" fill="#ff2e2e"/><circle cx="240.1" cy="91.4" r="2.3" fill="#d84040"/><circle cx="234.8" cy="80.7" r="2.9" fill="#d84040"/><circle cx="223.1" cy="114.7" r="2.8" fill="#d84040"/><circle cx="227.4" cy="130.7" r="3.0" fill="#d84040"/><circle cx="264.6" cy="156.2" r="3.2" fill="#ff2e2e"/><circle cx="36.1" cy="161.5" r="3.8" fill="#ff2e2e"/><circle cx="22.3" cy="171.1" r="3.2" fill="#d84040"/><circle cx="31.4" cy="168.3" r="2.7" fill="#d84040"/><circle cx="74.4" cy="176.4" r="2.3" fill="#d84040"/><circle cx="71.2" cy="183.8" r="2.9" fill="#d84040"/><circle cx="65.9" cy="197.6" r="3.1" fill="#ff2e2e"/><circle cx="56.9" cy="196.6" r="3.8" fill="#ff2e2e"/><circle cx="32.9" cy="203.6" r="3.0" fill="#d84040"/><circle cx="24.4" cy="210.4" r="2.6" fill="#d84040"/><circle cx="31.9" cy="218.9" r="3.1" fill="#d84040"/><circle cx="6.4" cy="219.9" r="2.6" fill="#d84040"/><circle cx="184.9" cy="161.5" r="3.8" fill="#ff2e2e"/><circle cx="193.4" cy="161.5" r="3.3" fill="#ff2e2e"/><circle cx="199.7" cy="195.5" r="3.7" fill="#ff2e2e"/><circle cx="207.2" cy="192.9" r="3.1" fill="#ff2e2e"/><circle cx="228.4" cy="205.1" r="2.5" fill="#d84040"/><circle cx="120.1" cy="210.4" r="3.4" fill="#ff2e2e"/><circle cx="114.7" cy="182.7" r="3.1" fill="#d84040"/><circle cx="104.1" cy="190.2" r="3.0" fill="#d84040"/><circle cx="88.2" cy="246.5" r="2.3" fill="#d84040"/><circle cx="44.6" cy="247.6" r="2.7" fill="#d84040"/><circle cx="117.9" cy="253.9" r="3.8" fill="#ff2e2e"/><circle cx="127.5" cy="242.2" r="4.0" fill="#ff2e2e"/><circle cx="129.6" cy="258.2" r="3.5" fill="#ff2e2e"/><circle cx="96.7" cy="264.6" r="2.4" fill="#d84040"/><circle cx="138.1" cy="242.2" r="3.0" fill="#d84040"/><circle cx="145.6" cy="252.9" r="2.4" fill="#d84040"/><circle cx="262.4" cy="252.9" r="2.8" fill="#d84040"/>
<circle cx="159.4" cy="73.3" r="4.2" fill="#40f040"/><circle cx="160.9" cy="66.3" r="2.5" fill="#50e050"/><circle cx="174.2" cy="86.1" r="4" fill="#3c9c3c"/><circle cx="184.9" cy="86.1" r="3.5" fill="#4aa04a"/><circle cx="72.2" cy="148.7" r="3.5" fill="#3c963c"/><circle cx="51.0" cy="202.9" r="3.5" fill="#3a963a"/><circle cx="188.1" cy="190.2" r="3" fill="#40b040"/><circle cx="132.8" cy="114.7" r="3" fill="#3a8a3a"/><circle cx="34.0" cy="87.1" r="3" fill="#3a7a3a"/><circle cx="29.7" cy="68.0" r="3" fill="#3a7a3a"/>
<path d="M84.1 18.1h0M6.0 111.2h0M12.4 171.2h0M200.1 196.0h0M134.2 168.1h0M232.5 84.5h0M161.5 44.9h0M182.9 267.5h0M89.0 184.4h0M41.8 268.2h0M16.6 67.2h0M110.8 204.8h0M144.8 22.5h0M172.3 19.7h0M89.8 257.3h0M138.9 1.5h0M64.0 73.3h0M46.8 203.0h0M72.3 179.6h0M147.8 233.9h0M91.0 0.6h0M172.0 151.6h0M9.3 128.0h0M40.4 267.2h0M150.2 216.8h0M169.6 162.8h0M229.3 7.2h0M93.0 176.6h0M88.3 242.2h0M79.7 193.0h0M143.5 139.8h0M231.0 257.8h0M263.1 89.7h0M143.6 37.6h0M209.5 164.5h0M130.1 139.0h0M98.4 54.0h0M122.2 186.1h0M21.3 66.5h0M78.0 206.1h0M131.6 236.0h0M106.7 47.0h0M74.8 7.8h0M132.5 123.0h0M107.6 174.3h0M158.7 87.8h0M185.0 42.5h0M177.9 107.9h0M206.6 226.1h0M130.2 27.2h0M174.1 1.9h0M18.5 54.6h0M213.1 100.0h0M189.8 134.7h0M159.3 2.7h0M251.0 117.4h0M21.4 150.5h0M233.9 125.8h0M173.1 24.5h0M45.4 86.7h0M10.4 165.5h0M1.4 124.5h0M182.0 39.8h0M267.7 159.3h0M201.6 193.0h0M151.6 103.7h0M162.7 188.8h0M97.8 2.2h0M250.8 73.7h0M249.0 267.9h0M13.5 243.8h0M92.9 231.7h0M207.9 73.2h0M213.1 26.2h0M242.1 158.6h0M262.8 124.5h0M189.0 78.3h0M73.2 10.3h0M194.0 259.1h0M111.9 16.5h0M21.3 54.5h0M199.0 80.6h0M124.4 230.7h0M181.9 10.9h0M249.9 185.0h0M43.1 11.8h0M238.5 72.6h0M137.2 76.6h0M198.6 115.5h0M180.8 243.9h0M29.4 100.0h0M195.9 223.6h0M231.0 105.8h0M181.3 153.2h0M229.4 44.9h0M20.2 46.2h0M85.0 196.4h0M164.9 76.0h0M12.4 106.9h0M260.7 22.9h0M244.2 106.2h0M163.7 96.1h0M254.0 215.7h0M179.8 135.2h0M156.7 62.8h0M168.6 242.4h0M19.4 125.1h0M132.7 141.8h0M265.3 155.5h0M122.9 23.1h0M79.1 235.8h0M167.5 201.5h0M247.0 240.2h0M238.9 262.2h0M246.8 185.4h0M138.3 11.0h0M251.7 127.6h0M81.9 96.9h0M202.3 206.7h0M78.4 42.9h0" stroke="#3c3c3c" stroke-width="1.1" stroke-linecap="round"/>
<rect x="214.7" y="244.8" width="46" height="19.8" fill="#fff"/>
</svg>
<g fill="#d8d8d8" stroke="none" font-family='"Liberation Sans", Arial, sans-serif' font-size="7.5"><text x="267.0" y="980.8">0</text><text x="282.0" y="980.8">μm</text><text x="300.0" y="980.8">100</text></g>
<path d="M266.0 985.8H312.0M266.0 983.8v2M277.5 984.3v1.5M289.0 983.8v2M300.5 984.3v1.5M312.0 983.8v2" stroke="#d0d0d0" stroke-width="0.8" fill="none"/>
<g fill="#d8d8d8" stroke="none" font-family='"Liberation Sans", Arial, sans-serif' font-size="7.5"><text x="577.5" y="981.0">0</text><text x="592.5" y="981.0">μm</text><text x="610.5" y="981.0">100</text></g>
<path d="M576.5 986.0H622.5M576.5 984.0v2M588.0 984.5v1.5M599.5 984.0v2M611.0 984.5v1.5M622.5 984.0v2" stroke="#d0d0d0" stroke-width="0.8" fill="none"/>
<g fill="#d8d8d8" stroke="none" font-family='"Liberation Sans", Arial, sans-serif' font-size="7.5"><text x="888.5" y="983.0">0</text><text x="903.5" y="983.0">μm</text><text x="921.5" y="983.0">100</text></g>
<path d="M887.5 988.0H933.5M887.5 986.0v2M899.0 986.5v1.5M910.5 986.0v2M922.0 986.5v1.5M933.5 986.0v2" stroke="#d0d0d0" stroke-width="0.8" fill="none"/>
<text x="43.7" y="912" transform="rotate(-90 43.7 912)" font-size="16.5" font-family='"Liberation Sans", Arial, sans-serif' textLength="112" lengthAdjust="spacingAndGlyphs"><tspan fill="#509a3e" stroke="#509a3e" stroke-width="0.35">Calcein AM</tspan><tspan fill="#000" font-weight="bold"> / </tspan><tspan fill="#ff0000" font-weight="bold">PI</tspan></text>
<text x="30.8" y="1010.5" font-size="22" text-anchor="start" font-weight="normal" fill="#000" font-family='"Liberation Sans", Arial, sans-serif' textLength="15" lengthAdjust="spacingAndGlyphs" stroke="#000" stroke-width="0.45">f)</text>
<text x="184.4" y="1020.0" font-size="24" text-anchor="middle" font-weight="normal" fill="#000" font-family='"Liberation Sans", Arial, sans-serif' textLength="40.4" lengthAdjust="spacingAndGlyphs" stroke="#000" stroke-width="0.85">PBS</text>
<text x="490.3" y="1020.5" font-size="24" text-anchor="middle" font-weight="normal" fill="#000" font-family='"Liberation Sans", Arial, sans-serif' textLength="104.3" lengthAdjust="spacingAndGlyphs" stroke="#000" stroke-width="0.85">4-Pf-NPs</text>
<text x="797.1" y="1023.9" font-size="24" text-anchor="middle" font-weight="normal" fill="#000" font-family='"Liberation Sans", Arial, sans-serif' textLength="55" lengthAdjust="spacingAndGlyphs" stroke="#000" stroke-width="0.85">Light</text>
<text x="1116.5" y="1019.2" font-size="24" text-anchor="middle" font-weight="normal" fill="#000" font-family='"Liberation Sans", Arial, sans-serif' textLength="189" lengthAdjust="spacingAndGlyphs" stroke="#000" stroke-width="0.85">4-Pf-NPs + Light</text>
<svg x="79.5" y="1036.4" width="231.2" height="230.6" overflow="hidden">
<ellipse cx="35" cy="199.5" rx="23" ry="14.5" transform="rotate(-25 35 199.5)" fill="#f00" opacity="1.0" filter="url(#soft2)"/>
<path d="M20.8 186.4h0M25.9 190.3h0M30.9 216.7h0M6.0 210.1h0M29.5 200.4h0M52.1 200.5h0M27.8 205.6h0M38.4 201.2h0M39.8 213.8h0M29.1 191.4h0M1.3 214.1h0M39.2 185.3h0M25.3 215.0h0M48.7 198.6h0M15.6 181.2h0M49.8 194.5h0M21.3 187.4h0M2.4 206.1h0M40.0 208.6h0M24.6 192.7h0M51.3 195.6h0M25.4 199.5h0M41.6 224.9h0M52.2 188.3h0M51.1 172.8h0M43.8 178.0h0M50.4 177.2h0M45.9 195.2h0M51.1 190.3h0M59.5 200.0h0M45.2 196.2h0M38.5 199.5h0M41.3 200.9h0M81.4 170.9h0M38.6 201.9h0M37.0 210.2h0M34.6 211.6h0M32.3 193.0h0M29.6 176.2h0M9.6 202.1h0M0.5 223.7h0M25.9 167.5h0M2.7 211.0h0M44.3 200.9h0M35.4 190.8h0M51.1 173.4h0M79.6 200.1h0M52.4 210.2h0M24.2 201.9h0M22.6 226.5h0M29.8 222.0h0M29.8 185.5h0M31.7 187.3h0M34.4 195.8h0M41.5 179.2h0M30.5 203.2h0M29.8 182.7h0M22.3 206.7h0M34.6 215.9h0M4.0 220.5h0M37.0 194.3h0M75.9 199.0h0M33.6 186.7h0M49.6 205.5h0M15.7 206.0h0M65.0 185.3h0M21.9 207.4h0M52.4 191.2h0M38.0 196.8h0M13.0 200.3h0M52.2 180.9h0M39.5 203.4h0M39.0 195.4h0M37.4 180.5h0M31.3 190.8h0M24.6 194.9h0M44.8 192.8h0M29.7 205.0h0M38.1 198.8h0M19.3 198.5h0M8.0 215.1h0M14.6 190.5h0M8.1 171.5h0M36.2 197.7h0M48.1 166.8h0M30.9 183.4h0M8.4 196.3h0M28.4 207.1h0M28.9 178.9h0M40.7 202.7h0M36.5 203.9h0M25.9 215.9h0M89.1 195.2h0M34.9 203.1h0M21.6 210.9h0M67.3 178.4h0M48.5 192.7h0M26.8 198.4h0M53.0 175.0h0M52.1 218.9h0M36.3 170.2h0M42.2 198.5h0M19.4 214.5h0M55.6 189.2h0M32.9 185.6h0M15.6 207.1h0M18.6 201.3h0M47.3 175.5h0M28.7 201.7h0M34.3 193.0h0M44.9 184.7h0M42.9 204.4h0M51.0 196.0h0M49.9 180.9h0M55.3 193.3h0M67.3 181.0h0M44.5 196.7h0M44.4 178.4h0M61.2 171.8h0M24.9 191.6h0M70.2 180.8h0M73.9 187.3h0M57.9 201.5h0M67.8 172.1h0M52.8 189.5h0M8.7 189.4h0M43.2 160.5h0M36.6 184.6h0M39.5 185.9h0M28.8 178.8h0M50.3 163.0h0M49.9 197.8h0M17.5 196.5h0M34.3 173.6h0M64.9 215.9h0M23.2 207.8h0M25.6 199.1h0M33.0 209.7h0M19.4 196.0h0M52.8 211.8h0M45.3 169.3h0M63.5 162.3h0M57.7 183.1h0M50.4 177.9h0M66.8 201.0h0M50.9 165.1h0M23.9 193.7h0M50.6 192.8h0M45.6 200.5h0M39.9 210.4h0M29.4 206.6h0M40.5 228.0h0M27.6 195.3h0M13.4 213.2h0M51.3 201.5h0M33.3 194.3h0M35.9 193.2h0M39.2 188.7h0M45.4 182.4h0M17.2 191.5h0M30.2 192.5h0M78.4 203.8h0M51.9 204.8h0M62.5 178.9h0M23.2 196.0h0M74.7 193.3h0M72.1 179.2h0M57.4 193.4h0M76.3 163.3h0M54.5 202.6h0M16.7 196.5h0M46.4 192.9h0M16.1 182.9h0M6.7 204.4h0M14.7 217.1h0M76.9 166.9h0M22.6 198.4h0M40.4 206.5h0M22.7 203.9h0M46.5 209.8h0M15.6 172.9h0M31.7 208.2h0M16.1 216.3h0M13.3 190.9h0M47.2 203.9h0M68.6 162.5h0M51.9 178.6h0M74.5 183.9h0M43.0 188.2h0M37.4 203.6h0M5.1 202.1h0M37.9 200.5h0M32.4 204.2h0M52.8 154.7h0M46.5 200.9h0M57.9 185.4h0M22.9 191.2h0M18.8 227.9h0M15.6 182.9h0M40.6 222.6h0M54.9 176.8h0M83.9 193.1h0M21.7 204.8h0M20.6 186.2h0M33.9 199.8h0M31.6 204.7h0M15.9 216.9h0M44.7 208.0h0M37.2 183.1h0M46.7 198.4h0M17.9 218.6h0M32.2 195.3h0M47.4 176.3h0M21.6 216.7h0M36.1 209.1h0M22.2 192.7h0M16.4 188.5h0M24.0 222.6h0M70.2 179.8h0M35.8 185.2h0M29.9 174.5h0M77.0 175.4h0M33.1 196.0h0M56.0 207.1h0M51.3 222.3h0M57.6 181.9h0M52.4 203.0h0M49.0 205.3h0M28.0 194.0h0M36.0 184.2h0M68.8 202.3h0M33.6 198.2h0M26.4 198.4h0M29.7 198.8h0M55.0 197.4h0M28.3 220.4h0M29.5 195.3h0M17.7 187.1h0M4.8 215.9h0M18.1 185.3h0M26.3 221.2h0M45.3 226.5h0M38.6 201.3h0M30.4 184.5h0M38.7 207.3h0M62.5 148.3h0M40.1 184.4h0M22.8 227.5h0M29.4 212.1h0M14.8 188.8h0M22.1 180.3h0M30.3 213.2h0M19.7 205.9h0M63.8 172.2h0M39.8 201.1h0M26.1 194.3h0M19.0 178.2h0M37.4 208.4h0M58.6 174.4h0M38.9 180.5h0M49.1 169.7h0M37.3 184.4h0M60.5 192.3h0M72.2 172.3h0M43.8 208.8h0M1.1 211.5h0M43.3 183.2h0M12.1 181.5h0M29.2 211.9h0M76.2 219.6h0M51.1 169.7h0M43.4 177.4h0M18.5 212.3h0M87.4 174.6h0M9.7 202.3h0M35.4 198.7h0M59.5 179.1h0M50.7 202.2h0M63.8 205.5h0M37.0 194.1h0M33.4 194.8h0M42.6 200.1h0M58.5 191.5h0M48.9 178.5h0M31.2 205.3h0M42.4 207.9h0M37.5 185.7h0M57.7 164.7h0M47.9 197.9h0M39.6 200.6h0M33.0 213.4h0M8.4 214.5h0M20.9 196.3h0M35.0 191.2h0M25.0 188.2h0M31.8 185.5h0M47.1 182.4h0M41.7 186.7h0M48.9 206.4h0M41.1 176.0h0M39.8 194.3h0M32.1 190.7h0M55.1 208.4h0M5.3 218.9h0M58.0 179.0h0M17.3 220.2h0M52.9 188.5h0M33.7 191.5h0M67.6 201.9h0M41.9 204.5h0M29.8 226.7h0M64.5 198.1h0M45.1 203.6h0M39.7 197.1h0M31.2 183.9h0M60.3 193.8h0M52.7 188.7h0M45.4 202.0h0M7.1 213.9h0M24.5 193.6h0M32.2 184.5h0M75.4 185.0h0M52.4 207.2h0M33.1 194.7h0M62.4 188.9h0M43.5 213.6h0M30.8 187.9h0M37.5 191.4h0M1.0 200.9h0M62.6 199.6h0M46.6 195.2h0M28.4 194.9h0M4.3 191.0h0M39.7 192.6h0M69.9 192.7h0M22.6 200.7h0M13.8 203.9h0M48.9 199.5h0M32.2 208.5h0M18.6 195.8h0M26.2 190.7h0M27.9 205.8h0M42.5 192.2h0M31.1 196.7h0M26.8 205.8h0M29.5 204.5h0M42.9 179.6h0M50.8 178.9h0M57.0 192.0h0M57.4 201.8h0M12.3 198.5h0M37.9 212.6h0M45.7 203.2h0M5.9 214.4h0M67.1 186.8h0M48.0 202.9h0M36.6 223.8h0M33.2 183.4h0M34.2 207.5h0M21.5 203.8h0M45.2 189.1h0M35.7 214.8h0M15.3 221.6h0M18.3 192.6h0M32.9 195.1h0M17.8 211.4h0M51.9 167.3h0M21.8 218.6h0M70.0 176.8h0M55.0 188.9h0M21.2 211.1h0M51.1 215.7h0M59.7 184.4h0M31.0 195.1h0M25.5 229.5h0M35.9 190.1h0M71.5 169.2h0M54.5 202.9h0M39.0 199.9h0M37.8 203.5h0M30.7 203.1h0M30.1 198.9h0M51.8 176.8h0M43.4 181.7h0M20.9 212.7h0M67.6 181.2h0M22.9 229.4h0M44.8 181.2h0M37.5 189.5h0M53.4 172.4h0M52.8 208.4h0M49.3 171.6h0M41.6 205.8h0M64.9 202.2h0M42.8 191.6h0M82.8 181.3h0M10.2 180.9h0M57.4 179.5h0M35.4 173.3h0M41.7 196.9h0M26.5 203.2h0M40.8 183.4h0M15.2 223.6h0M13.4 215.9h0M47.4 183.2h0M4.3 208.3h0M55.2 164.7h0M30.8 197.8h0M55.6 217.7h0M34.1 188.2h0M48.0 197.0h0M28.4 193.9h0M35.4 209.9h0M37.7 203.2h0M55.8 182.7h0M47.4 164.6h0M58.2 177.2h0M51.9 206.2h0M31.9 196.4h0M9.3 222.4h0M46.4 184.5h0M41.3 166.9h0M32.3 206.1h0M54.7 191.6h0M58.1 176.3h0M36.7 191.7h0M59.3 188.5h0M39.3 186.9h0M6.5 219.8h0M27.0 199.8h0M14.3 175.2h0M46.5 189.5h0M17.0 199.7h0M23.6 192.4h0M21.6 212.0h0M33.4 191.9h0M42.1 202.1h0M62.9 198.3h0M53.4 189.7h0M30.5 177.9h0M37.2 186.1h0M45.3 205.9h0M37.8 192.8h0M61.6 170.9h0M37.2 204.4h0M44.9 196.3h0M63.0 191.7h0M11.2 199.8h0M42.2 190.0h0M52.1 184.6h0M28.7 201.6h0M29.0 198.2h0M5.8 195.2h0M58.7 205.2h0M31.1 223.6h0M82.1 196.0h0M45.2 204.4h0M18.9 200.4h0M33.9 213.2h0M15.2 206.7h0M48.7 199.5h0M60.0 170.5h0M29.5 192.8h0M58.0 191.9h0M30.8 227.0h0M43.1 193.3h0M95.7 196.7h0M52.6 169.1h0M59.5 183.7h0M57.9 173.6h0M54.7 176.0h0M64.3 178.1h0M64.9 165.2h0M63.9 164.7h0M60.4 170.5h0M62.1 175.3h0M75.1 184.7h0M53.0 166.0h0M65.4 170.6h0M60.8 174.1h0M69.4 174.9h0M51.8 183.5h0M55.6 159.6h0M79.0 166.9h0M58.0 169.5h0M52.6 185.5h0M64.2 159.6h0M54.7 173.3h0M40.5 195.8h0M64.3 180.0h0M69.5 173.7h0M61.5 169.8h0M72.0 167.5h0M64.1 168.9h0M63.1 174.5h0M49.9 190.6h0M57.6 185.8h0M60.1 171.3h0M65.5 169.4h0M56.3 183.6h0M58.3 180.0h0M61.1 168.4h0M57.5 196.1h0M47.3 188.0h0M63.8 179.6h0M64.3 173.9h0M64.3 183.3h0M37.2 184.0h0M71.3 182.7h0M52.4 184.2h0M60.3 165.3h0M61.7 176.2h0M73.8 181.6h0M68.2 172.1h0M52.8 174.3h0M64.9 166.9h0M75.8 170.7h0M57.9 166.6h0M69.4 164.2h0M56.5 178.6h0M77.5 176.3h0M62.2 171.8h0M61.5 187.5h0M58.2 173.0h0M54.7 175.9h0M62.9 183.0h0M65.2 176.7h0M60.6 160.3h0M62.7 179.8h0M65.5 176.5h0M49.6 183.8h0M63.5 175.0h0M70.4 167.3h0M64.7 167.0h0M62.1 169.1h0M55.4 176.4h0M54.3 181.3h0M55.1 170.6h0M53.1 185.0h0M47.1 178.6h0M68.1 168.1h0M55.6 181.6h0M68.5 157.4h0M56.6 189.1h0M73.4 179.1h0M60.4 188.9h0M56.7 168.4h0M61.0 187.7h0M63.0 175.5h0M60.5 175.9h0M56.2 176.1h0M65.0 171.0h0M77.7 168.8h0M60.5 181.5h0M65.5 166.7h0M59.3 171.8h0M59.7 173.6h0M78.4 160.6h0M56.5 198.6h0M52.6 176.1h0M50.2 188.7h0M58.0 175.9h0M56.9 173.8h0M87.8 147.6h0M66.5 174.4h0M66.7 155.9h0M65.3 161.1h0M64.4 182.9h0M66.3 172.5h0M74.8 164.3h0M60.6 171.7h0M61.4 171.9h0M67.1 172.9h0M49.9 184.5h0M51.5 176.9h0M63.9 172.4h0M69.4 174.3h0M51.2 178.0h0M64.5 181.5h0M64.2 178.6h0M56.9 172.8h0M66.2 169.7h0M62.2 174.0h0M65.7 176.1h0M55.8 188.3h0M49.1 178.0h0M57.7 167.4h0M56.3 191.0h0M64.0 173.4h0M110.9 96.4h0M109.9 107.8h0M125.3 92.2h0M90.0 107.0h0M119.6 96.4h0M95.0 105.4h0M114.9 112.1h0M122.8 106.4h0M87.8 98.4h0M110.7 102.3h0M102.0 100.0h0M101.8 94.4h0M106.1 94.9h0M92.0 102.8h0M93.2 106.2h0M114.0 90.3h0M116.4 102.0h0M98.3 106.0h0M86.8 103.2h0M135.3 95.5h0M119.7 109.6h0M110.2 94.1h0M92.3 106.9h0M98.1 113.5h0M108.7 88.4h0M93.2 104.2h0M126.1 104.6h0M107.3 104.0h0M110.6 97.1h0M92.3 100.3h0M93.9 92.8h0M95.4 103.3h0M109.1 106.1h0M102.2 97.8h0M101.8 96.0h0M109.6 99.1h0M108.4 102.3h0M124.6 102.8h0M103.0 101.6h0M92.6 102.8h0M105.4 93.3h0M124.3 83.6h0M98.5 106.6h0M106.2 112.1h0M101.0 92.6h0M110.7 97.8h0M108.8 104.4h0M95.2 108.9h0M102.6 106.8h0M117.6 111.1h0M119.6 102.0h0M117.4 105.2h0M116.6 105.2h0M101.3 99.4h0M100.9 110.6h0M117.5 106.6h0M90.6 109.0h0M104.8 99.6h0M81.8 109.4h0M100.7 95.1h0M96.5 105.0h0M90.2 84.4h0M113.0 95.4h0M96.2 107.4h0M100.9 99.2h0M102.3 103.5h0M96.2 91.2h0M123.7 112.9h0M99.3 106.4h0M108.1 102.1h0M88.9 105.2h0M99.5 104.6h0M101.4 112.0h0M101.7 103.8h0M98.1 92.2h0M107.4 100.6h0M125.5 111.1h0M103.9 106.2h0M103.8 99.4h0M100.6 106.5h0M138.0 103.1h0M126.2 106.5h0M112.7 91.4h0M114.6 96.2h0M96.5 106.9h0M103.6 100.8h0M108.3 104.7h0M107.1 115.7h0M94.7 100.2h0M95.6 104.0h0M112.2 98.5h0M109.6 98.0h0M78.7 101.8h0M106.8 92.4h0M121.8 87.9h0M97.4 111.6h0M108.7 101.6h0M87.0 110.0h0M116.2 103.1h0M91.4 103.3h0M89.6 106.9h0M101.6 107.2h0M135.8 94.1h0M97.8 110.6h0M89.5 95.7h0M111.5 103.7h0M108.5 119.8h0M126.7 102.9h0M89.4 113.7h0M85.3 99.9h0M101.6 106.5h0M110.4 102.7h0M110.2 105.2h0M119.4 96.5h0M86.6 96.0h0M95.1 104.6h0M103.9 91.6h0M116.3 96.5h0M111.7 106.7h0M100.2 98.1h0M92.6 96.2h0M116.9 94.7h0M117.7 103.3h0M140.2 99.8h0M103.3 103.3h0M126.3 101.0h0M90.2 115.0h0M98.7 99.3h0M97.0 88.9h0M99.7 103.1h0M94.4 102.3h0M98.7 103.4h0M104.9 91.3h0M99.9 110.0h0M114.0 102.1h0M104.5 102.0h0M105.6 91.5h0M124.4 105.5h0M109.6 101.9h0M107.6 111.5h0M105.4 99.5h0M106.4 93.9h0M112.9 103.2h0M95.4 96.1h0M120.2 105.1h0M125.6 94.9h0M120.3 101.4h0M99.4 100.8h0M85.3 102.1h0M100.1 98.8h0M107.6 96.8h0M116.2 101.9h0M103.3 98.4h0M101.8 103.4h0M125.0 100.5h0M97.1 87.0h0M119.2 101.9h0M117.1 111.8h0M88.7 104.4h0M109.2 106.4h0M98.5 105.4h0M93.5 99.1h0M82.1 93.3h0M85.7 107.8h0M110.9 109.5h0M100.7 106.2h0M109.1 105.2h0M92.1 105.0h0M101.5 102.1h0M102.2 104.2h0M85.9 102.4h0M84.5 104.5h0M111.2 95.9h0M107.5 98.1h0M93.7 106.2h0M104.3 100.0h0M114.1 86.0h0M128.9 103.2h0M94.3 86.9h0M113.5 115.2h0M132.6 107.2h0M106.5 106.9h0M124.3 97.8h0M72.7 94.7h0M124.1 100.9h0M105.5 102.5h0M81.7 97.1h0M115.6 103.4h0M119.0 107.0h0M121.0 106.4h0M120.9 95.3h0M105.2 87.8h0M96.1 102.4h0M99.7 97.9h0M105.2 105.4h0M110.8 113.4h0M99.5 113.4h0M106.2 104.3h0M116.8 109.8h0M109.8 113.4h0M134.9 102.7h0M133.1 104.2h0M91.0 108.1h0M98.4 102.1h0M88.9 99.0h0M90.8 97.4h0M112.6 102.4h0M93.0 98.2h0M92.3 107.7h0M102.2 100.2h0M115.8 112.2h0M101.1 110.5h0M101.1 94.1h0M117.3 109.7h0M111.6 99.7h0M111.4 111.6h0M117.7 105.9h0M92.7 102.1h0M108.4 106.9h0M97.5 98.7h0M118.7 104.7h0M116.0 105.0h0M92.3 101.5h0M122.7 105.1h0M90.7 95.8h0M120.6 106.2h0M108.2 94.4h0M94.5 106.6h0M91.3 105.6h0M101.7 107.2h0M105.3 98.8h0M96.5 122.8h0M112.8 101.0h0M87.7 103.5h0M105.5 97.5h0M105.6 112.1h0M81.7 99.4h0M109.6 109.2h0M89.5 96.3h0M73.7 104.6h0M97.8 100.1h0M102.7 108.8h0M117.2 100.6h0M99.4 96.8h0M124.5 105.6h0M124.0 94.7h0M119.6 96.2h0M122.6 107.7h0M110.1 90.2h0M98.5 107.7h0M113.9 100.0h0M118.0 96.5h0M108.7 104.3h0M102.5 106.8h0M85.5 98.8h0M114.3 101.5h0M110.1 108.0h0M88.9 107.7h0M106.9 102.3h0M114.9 97.6h0M104.2 96.4h0M115.7 98.7h0M115.3 107.2h0M86.7 106.5h0M101.7 104.7h0M111.8 111.9h0M117.4 100.7h0M123.7 100.2h0M81.0 100.2h0M104.8 115.4h0M114.8 89.1h0M121.3 104.7h0M127.3 105.7h0M93.6 103.2h0M100.8 118.2h0M92.1 110.5h0M116.1 107.9h0M88.6 96.8h0M120.8 106.1h0M117.6 100.3h0M111.9 103.1h0M77.7 104.1h0M96.9 99.6h0M115.2 107.0h0M87.4 113.6h0M102.5 109.7h0M104.3 104.3h0M117.0 90.1h0M109.2 110.0h0M109.1 110.0h0M99.9 101.6h0M105.7 99.7h0M103.9 107.2h0M114.9 97.5h0M103.3 108.1h0M118.9 95.8h0M83.8 96.8h0M121.0 103.0h0M103.4 93.3h0M120.1 102.9h0M106.7 106.4h0M116.6 94.2h0M124.8 109.0h0M98.5 99.2h0M106.6 106.5h0M103.4 104.3h0M108.3 99.9h0M84.8 99.5h0M103.4 91.7h0M102.4 98.3h0M95.5 97.9h0M103.1 113.7h0M85.8 109.6h0M123.5 93.9h0M111.3 108.2h0M129.8 104.4h0M94.4 100.4h0M90.6 106.0h0M109.2 108.1h0M84.2 99.2h0M108.5 101.1h0M96.5 104.0h0M101.3 96.5h0M108.8 104.2h0M106.2 102.4h0M129.5 98.5h0M113.7 97.4h0M89.0 105.0h0M118.1 108.7h0M88.4 105.1h0M106.7 97.4h0M89.5 107.9h0M94.9 104.1h0M122.4 106.9h0M98.4 110.6h0M97.3 97.1h0M98.3 102.1h0M101.5 99.1h0M124.0 97.2h0M90.4 116.1h0M89.6 109.1h0M113.0 91.4h0M85.0 105.8h0M100.8 99.3h0M120.0 110.5h0M105.5 103.5h0M99.3 101.8h0M96.4 103.9h0M93.7 105.5h0M97.9 103.2h0M107.2 101.5h0M121.4 102.1h0M117.9 106.3h0M98.2 95.6h0M96.1 103.0h0M114.4 102.2h0M82.1 99.8h0M99.8 107.8h0M101.2 94.6h0M91.1 100.6h0M92.6 97.4h0M109.9 106.6h0M84.1 99.9h0M93.6 103.3h0M97.0 105.5h0M106.4 92.5h0M87.7 106.0h0M119.3 98.1h0M101.3 101.3h0M102.0 102.3h0M100.6 108.3h0M96.6 107.8h0M92.7 114.5h0M120.0 104.2h0M107.8 99.9h0M103.8 99.7h0M118.0 107.3h0M96.1 113.5h0M113.3 105.2h0M105.5 99.2h0M114.2 117.6h0M113.6 134.3h0M107.0 132.6h0M83.8 129.9h0M30.1 84.7h0M90.0 128.6h0M137.5 113.2h0M112.3 89.8h0M40.0 126.4h0M106.1 85.0h0M50.8 130.1h0M165.5 146.0h0M111.7 102.3h0M70.0 130.6h0M129.8 121.3h0M82.6 125.3h0M122.8 85.5h0M106.6 124.5h0M70.7 115.0h0M125.9 127.1h0M66.0 112.6h0M146.1 134.2h0M107.8 117.9h0M75.3 125.9h0M51.8 139.6h0M154.3 116.1h0M149.4 132.2h0M68.4 117.0h0M155.2 122.9h0M111.0 102.1h0M99.4 127.9h0M103.4 136.8h0M98.0 110.9h0M148.8 128.3h0M110.5 121.1h0M50.9 90.7h0M168.6 119.6h0M132.4 138.7h0M73.5 103.0h0M95.3 77.4h0M79.0 116.7h0M107.4 99.9h0M117.8 150.1h0M113.1 111.8h0M88.1 112.6h0M82.1 100.3h0M131.3 117.6h0M103.0 101.6h0M173.3 94.9h0M81.9 111.4h0M129.6 96.7h0M107.5 138.6h0M83.3 89.7h0M146.7 111.2h0M109.7 99.2h0M79.3 85.6h0M96.5 145.4h0M136.4 71.4h0M69.4 141.3h0M147.2 85.0h0M126.5 114.5h0M97.7 157.1h0M146.6 70.9h0M158.3 85.8h0M123.9 138.5h0M111.1 116.1h0M161.2 102.0h0M150.7 112.1h0M78.3 93.8h0M99.8 115.1h0M99.6 142.0h0M93.7 105.2h0M61.2 115.4h0M133.0 136.3h0M108.5 151.7h0M109.0 101.2h0M148.2 118.6h0M89.1 101.7h0M104.3 100.1h0M114.2 104.9h0M93.0 100.3h0M102.7 78.8h0M129.0 73.7h0M105.7 98.4h0M145.9 115.3h0M83.5 136.5h0M112.1 102.3h0M63.2 109.4h0M102.4 125.7h0M84.9 127.2h0M146.9 110.5h0M128.4 111.7h0M121.3 149.4h0M161.5 106.2h0M149.4 103.1h0M127.6 80.9h0M85.2 121.2h0M62.5 107.5h0M105.1 150.1h0M95.3 106.1h0M86.5 128.6h0M97.3 131.0h0M56.2 145.0h0M150.9 87.0h0M71.6 143.4h0M85.8 113.0h0M123.2 110.7h0M56.9 106.6h0M133.8 105.0h0M134.3 106.0h0M96.6 67.0h0M73.5 122.7h0M91.7 113.9h0M50.2 94.1h0M147.9 111.5h0M107.6 157.7h0M83.8 120.1h0M78.6 105.1h0M123.3 146.2h0M151.4 97.1h0M67.5 109.7h0M88.6 101.9h0M52.8 108.1h0M126.4 127.0h0M110.7 124.0h0M174.3 98.4h0M102.3 110.2h0M92.8 114.3h0M84.5 104.7h0M131.8 112.0h0M56.7 98.6h0M128.7 98.3h0M113.5 113.5h0M90.7 92.5h0M78.7 120.8h0M137.9 108.9h0M162.4 94.7h0M92.5 100.7h0M122.0 103.3h0M158.8 109.5h0M87.2 114.9h0M98.4 108.6h0M69.0 95.7h0M101.5 140.5h0M103.5 130.2h0M93.3 114.8h0M83.6 131.1h0M57.9 119.0h0M65.2 107.6h0M76.3 114.3h0M125.5 164.4h0M90.5 131.9h0M80.1 132.9h0M125.9 104.9h0M123.1 124.3h0M83.1 156.5h0M86.9 120.9h0M126.1 133.4h0M117.1 137.0h0M80.6 125.1h0M113.3 143.2h0M105.1 117.1h0M139.9 122.2h0M79.6 100.4h0M132.9 163.8h0M119.2 118.5h0M75.3 114.7h0M138.1 139.5h0M133.7 103.1h0M65.8 112.5h0M166.4 97.4h0M71.0 113.0h0M78.0 105.0h0M96.2 123.1h0M129.5 110.1h0M123.8 101.0h0M103.1 106.9h0M147.7 110.3h0M118.4 102.6h0M148.7 130.7h0M192.2 125.6h0M111.9 115.4h0M27.2 89.5h0M92.1 122.6h0M73.0 87.8h0M108.8 116.1h0M109.0 113.5h0M68.4 101.1h0M70.6 96.5h0M97.9 99.1h0M100.0 152.3h0M26.0 107.4h0M135.9 108.5h0M107.0 131.1h0M105.7 120.6h0M115.1 133.0h0M74.5 88.8h0M104.4 91.5h0M138.0 176.9h0M139.2 111.7h0M120.3 106.9h0M97.4 115.6h0M80.6 131.7h0M146.8 89.6h0M122.2 118.0h0M92.9 112.0h0M38.7 125.5h0M79.0 115.9h0M46.2 102.3h0M144.7 95.8h0M111.8 65.5h0M82.8 131.4h0M97.4 84.2h0M186.8 104.8h0M143.9 144.6h0M64.1 104.5h0M101.9 124.3h0M67.6 108.5h0M52.2 126.0h0M111.4 113.1h0M181.5 102.7h0M154.8 138.5h0M107.4 107.4h0M94.2 86.7h0M112.3 106.2h0M138.4 122.9h0M60.2 91.1h0M47.4 127.7h0M165.0 127.3h0M114.8 153.3h0M156.4 100.2h0M113.5 125.2h0M152.4 80.4h0M86.8 104.5h0M121.7 114.5h0M154.8 120.4h0M138.2 111.5h0M91.5 110.8h0M134.2 100.7h0M85.0 104.0h0M61.0 118.4h0M122.5 123.3h0M150.2 124.8h0M132.8 131.6h0M66.2 135.3h0M133.5 77.9h0M127.5 102.5h0M91.5 109.4h0M27.3 100.1h0M138.1 132.6h0M134.1 126.9h0M121.8 110.5h0M51.1 114.8h0M58.8 136.8h0M138.1 105.8h0M131.5 106.5h0M121.7 129.9h0M98.2 121.5h0M118.5 139.7h0M88.8 119.6h0M96.1 126.9h0M78.5 102.1h0M114.2 94.5h0M92.7 112.3h0M136.3 61.6h0M128.9 120.3h0M80.2 131.1h0M164.4 114.0h0M70.3 108.3h0M120.3 133.4h0M140.5 111.7h0M146.8 131.3h0M35.7 154.5h0M137.9 126.4h0M144.9 130.5h0M151.9 122.0h0M35.1 117.3h0M84.4 117.8h0M102.8 113.8h0M91.8 133.3h0M148.8 81.6h0M84.3 107.4h0M145.2 125.1h0M123.9 96.4h0M59.6 110.5h0M74.3 99.2h0M91.0 121.0h0M109.1 129.1h0M137.7 140.3h0M100.2 122.1h0M135.1 98.8h0M55.7 117.3h0M8.5 123.4h0M95.2 139.5h0M120.7 71.5h0M94.4 119.6h0M73.7 77.6h0M119.5 126.2h0M167.9 121.0h0M102.7 122.1h0M82.8 129.5h0M78.9 119.9h0M168.9 100.2h0M104.7 119.2h0M125.6 135.5h0M145.0 110.3h0M140.5 113.1h0M76.5 89.4h0M136.6 134.7h0M133.0 102.9h0M121.7 98.3h0M138.3 104.0h0M88.0 96.1h0M103.6 107.7h0M89.2 136.9h0M130.3 127.7h0M85.1 139.7h0M118.6 140.9h0M71.0 95.4h0M102.1 121.7h0M94.4 141.2h0M102.3 156.4h0M110.3 85.5h0M100.1 85.3h0M99.0 121.5h0M39.8 106.1h0M141.4 93.5h0M86.1 119.8h0M98.2 97.5h0M79.5 69.2h0M138.0 112.1h0M77.1 114.9h0M122.1 124.7h0M143.7 130.4h0M158.7 116.0h0M144.0 108.0h0M125.8 99.8h0M67.7 81.0h0M147.3 104.1h0M144.0 131.5h0M132.9 124.9h0M131.7 151.6h0M108.5 109.5h0M89.6 78.4h0M140.7 128.2h0M146.8 132.3h0M73.0 90.1h0M135.4 81.6h0M114.1 115.3h0M134.5 126.0h0M81.9 147.5h0M98.3 161.9h0M89.2 160.7h0M80.6 170.6h0M77.8 161.3h0M108.4 139.0h0M97.6 148.4h0M91.3 180.3h0M50.6 176.6h0M142.1 157.7h0M85.6 158.1h0M102.5 157.6h0M81.5 160.3h0M113.3 136.0h0M73.7 172.8h0M107.3 150.6h0M101.4 162.1h0M124.6 123.8h0M82.3 163.4h0M91.7 179.2h0M100.4 128.0h0M149.3 181.8h0M74.4 166.8h0M111.4 149.5h0M91.5 137.3h0M111.8 176.7h0M119.0 163.7h0M108.2 168.5h0M110.8 156.1h0M111.1 148.6h0M92.9 172.5h0M100.7 146.3h0M70.5 172.9h0M97.8 136.1h0M89.1 146.7h0M99.9 139.2h0M120.7 178.8h0M113.2 134.9h0M115.1 143.7h0M128.4 169.5h0M55.1 163.3h0M114.2 191.4h0M104.7 186.4h0M103.1 168.8h0M77.7 169.9h0M116.7 133.8h0M129.3 147.4h0M126.7 155.3h0M103.4 157.5h0M118.6 140.3h0M124.5 146.6h0M143.4 147.8h0M130.9 175.2h0M108.1 166.1h0M107.1 155.2h0M108.6 156.0h0M109.9 164.2h0M94.7 150.0h0M121.3 156.2h0M90.6 135.3h0M88.3 169.6h0M112.6 173.8h0M93.1 165.2h0M100.0 166.8h0M61.5 165.2h0M121.8 189.3h0M105.0 162.9h0M102.4 141.0h0M114.8 144.9h0M109.5 170.2h0M90.4 175.3h0M147.2 171.1h0M95.6 172.0h0M125.5 162.7h0M143.5 138.6h0M92.0 149.8h0M107.0 134.0h0M87.9 154.4h0M127.1 140.4h0M98.0 161.4h0M82.0 157.5h0M132.7 132.0h0M124.3 170.5h0M86.4 170.9h0M129.9 140.0h0M109.2 162.0h0M162.1 170.3h0M141.1 155.8h0M93.4 172.2h0M99.4 162.6h0M57.1 112.2h0M53.8 104.8h0M40.6 90.2h0M68.9 89.6h0M62.2 115.0h0M74.6 98.9h0M49.2 94.5h0M89.2 97.9h0M41.0 109.0h0M49.8 89.8h0M72.1 90.7h0M46.7 107.7h0M53.0 116.3h0M65.1 108.5h0M77.8 118.1h0M83.2 94.9h0M55.8 97.4h0M72.9 98.0h0M41.2 97.6h0M84.5 94.4h0M73.6 112.7h0M85.1 94.9h0M50.5 99.6h0M64.8 101.5h0M77.2 119.9h0M41.3 96.5h0M82.1 109.2h0M75.4 96.5h0M79.4 113.0h0M48.1 98.6h0" stroke="#d42020" stroke-width="1.05" stroke-linecap="square" fill="none"/>
<path d="M39.0 208.0h0M42.8 206.2h0M28.4 194.3h0M23.5 204.3h0M33.4 211.1h0M19.8 199.7h0M32.8 192.7h0M55.3 198.7h0M35.0 215.9h0M22.5 193.3h0M30.8 174.2h0M33.7 184.9h0M32.3 190.2h0M22.6 203.8h0M37.1 205.0h0M43.2 194.1h0M15.1 201.4h0M29.8 203.5h0M7.0 202.5h0M18.4 206.7h0M9.1 204.9h0M42.8 224.0h0M22.2 214.0h0M35.1 190.7h0M33.0 190.0h0M30.9 196.8h0M25.2 196.4h0M31.4 193.4h0M40.0 206.4h0M13.9 204.9h0M25.8 195.5h0M17.2 193.7h0M20.0 194.2h0M48.2 192.7h0M23.9 202.4h0M39.1 209.5h0M43.7 188.9h0M31.8 212.1h0M34.6 202.4h0M36.4 198.8h0M27.7 181.8h0M14.3 195.6h0M38.9 205.4h0M57.9 203.5h0M16.2 210.4h0M49.0 201.0h0M34.9 195.3h0M25.4 200.1h0M57.7 182.0h0M48.6 203.4h0M21.2 209.5h0M35.0 197.0h0M41.0 193.3h0M34.8 205.4h0M45.0 198.2h0M30.8 192.7h0M50.4 210.3h0M54.3 193.2h0M26.5 203.6h0M43.5 211.0h0M33.2 211.1h0M36.3 198.0h0M22.1 211.1h0M23.4 193.7h0M29.9 195.1h0M37.3 174.7h0M54.4 203.2h0M10.6 191.0h0M27.7 210.1h0M39.9 188.5h0M5.8 202.9h0M28.3 200.6h0M34.8 202.4h0M53.4 197.3h0M50.9 210.7h0M32.3 204.5h0M33.9 209.3h0M29.4 195.8h0M57.2 196.6h0M30.2 203.4h0M29.3 197.3h0M39.1 196.6h0M33.2 199.7h0M33.3 202.3h0M22.5 209.5h0M32.8 195.2h0M26.4 195.7h0M52.8 199.0h0M36.5 181.0h0M32.2 194.3h0M49.7 208.9h0M19.8 178.2h0M45.6 187.3h0M37.7 205.5h0M35.8 181.8h0M29.1 229.5h0M29.0 175.2h0M19.3 221.9h0M15.4 225.0h0M34.8 209.2h0M22.7 202.9h0M38.5 201.6h0M59.9 178.5h0M27.7 211.4h0M22.6 193.5h0M36.5 195.9h0M45.3 205.2h0M28.3 190.9h0M30.9 197.6h0M44.6 196.8h0M36.2 184.9h0M26.6 215.6h0M35.4 202.9h0M29.4 186.2h0M21.4 205.3h0M35.2 191.3h0M21.5 198.9h0M47.6 194.4h0M34.6 192.2h0M40.0 207.3h0M24.7 196.9h0M37.4 208.7h0M9.5 210.9h0M24.1 213.6h0M37.4 192.7h0M6.0 207.7h0M41.1 184.6h0M15.2 214.8h0M48.4 203.1h0M32.8 222.7h0M50.1 206.0h0M37.7 200.9h0M14.7 206.8h0M52.4 195.5h0M53.2 190.7h0M40.0 212.5h0M35.3 209.2h0M29.6 193.2h0M19.9 199.3h0M54.4 204.8h0M29.3 205.4h0M33.4 197.8h0M29.7 214.4h0M25.5 199.9h0M17.7 204.7h0M49.1 188.1h0M25.2 183.5h0M50.7 201.2h0M30.3 189.0h0M23.9 198.7h0M27.9 195.0h0M30.8 209.1h0M34.8 198.9h0M30.3 201.9h0M24.5 186.8h0M17.2 206.9h0M18.8 191.6h0M57.2 192.4h0M28.0 206.6h0M21.6 205.6h0M47.5 215.1h0M55.0 195.7h0M18.9 213.2h0M32.9 202.0h0M26.2 201.6h0M16.5 218.2h0M48.7 204.6h0M29.5 188.4h0M40.1 208.2h0M27.5 208.4h0M44.6 205.1h0M30.0 206.7h0M28.2 189.6h0M16.2 196.0h0M26.9 222.4h0M53.0 193.8h0M22.9 190.3h0M40.1 200.8h0M33.1 196.6h0M22.0 186.2h0M19.4 182.8h0M36.6 182.0h0M32.3 203.6h0M32.9 200.0h0M34.3 197.2h0M51.1 195.0h0M46.0 200.6h0M31.4 179.1h0M26.6 200.2h0M14.1 200.5h0M42.1 183.3h0M45.1 189.1h0M32.7 199.3h0M40.8 194.0h0M39.1 182.4h0M43.6 190.4h0M54.8 211.4h0M25.0 193.1h0M47.4 176.0h0M20.3 209.2h0M48.3 199.5h0M43.1 200.6h0M41.6 184.7h0M62.8 197.0h0M50.7 184.0h0M15.9 196.5h0M11.1 204.3h0M44.9 193.7h0M25.0 211.7h0M37.3 204.9h0M45.6 194.3h0M17.9 217.3h0M8.6 212.7h0M41.9 205.7h0M29.9 187.2h0M25.6 187.4h0M38.6 206.0h0M18.5 192.6h0M14.6 205.9h0M32.5 199.6h0M20.7 201.0h0M12.3 205.3h0M47.0 208.5h0M24.1 178.1h0M43.7 204.7h0M31.7 225.1h0M26.7 203.6h0M22.2 205.2h0M26.7 211.0h0M44.8 214.1h0M20.3 193.9h0M39.9 198.1h0M38.6 195.9h0M62.9 192.3h0M18.0 209.1h0M48.9 199.9h0M32.2 196.4h0M35.0 200.0h0M13.9 202.3h0M26.5 196.5h0M43.9 193.9h0M33.4 198.8h0M31.3 188.9h0M37.6 214.7h0M49.1 191.5h0M29.2 187.7h0M11.5 222.0h0M23.2 197.2h0M12.1 215.5h0M29.3 204.8h0M52.6 193.1h0M33.3 194.3h0M20.3 206.8h0M31.2 222.6h0M40.4 173.5h0M37.3 199.1h0M37.4 203.0h0M30.1 190.8h0M30.0 187.5h0M53.9 213.3h0M40.5 193.0h0M46.1 216.1h0M23.9 210.3h0M41.8 197.1h0M28.2 207.6h0M51.4 198.5h0M23.6 217.2h0M35.0 204.1h0M35.5 200.8h0M18.9 208.9h0M62.3 201.0h0M56.8 197.9h0M25.1 193.6h0M42.2 189.5h0M41.1 200.1h0M36.7 194.8h0M30.4 191.6h0M35.0 196.8h0M23.0 209.5h0M35.6 209.7h0M32.8 200.6h0M58.4 210.3h0M38.9 196.9h0M47.8 227.0h0M58.4 199.1h0M29.9 207.1h0M28.1 197.5h0M0.6 185.9h0M54.3 188.9h0M48.0 195.3h0M54.4 210.6h0M37.9 183.7h0M44.0 215.3h0M36.7 196.1h0M34.7 207.2h0M22.2 178.8h0M36.2 200.4h0M52.8 187.6h0M44.8 202.1h0M34.6 200.6h0M23.1 193.1h0M30.7 211.4h0M58.1 196.0h0M43.8 201.6h0M39.9 207.8h0M35.0 211.0h0M20.8 205.9h0M28.7 188.2h0M40.5 182.4h0M35.4 213.4h0M35.0 207.0h0M32.6 201.7h0M34.6 195.1h0M14.9 209.2h0M32.1 201.1h0M22.8 201.7h0M43.4 188.2h0M33.9 222.7h0M43.2 198.1h0M51.9 185.3h0M25.8 190.1h0M24.5 196.8h0M40.3 204.6h0M38.0 206.0h0M21.5 203.5h0M41.1 197.2h0M59.3 184.9h0M27.3 191.5h0M37.7 211.9h0M23.2 208.9h0M49.0 218.9h0M16.1 200.4h0M20.4 204.9h0M54.8 199.5h0M22.5 202.7h0M43.1 181.2h0M50.5 182.3h0M38.7 198.8h0M43.4 199.2h0M59.4 187.1h0M36.5 209.3h0M31.5 211.6h0M19.1 210.3h0M35.6 199.5h0M52.8 188.6h0M49.4 198.6h0M26.7 213.0h0M24.4 205.1h0M30.4 206.4h0M37.4 195.0h0M26.7 188.6h0M33.7 189.6h0M41.8 204.3h0M33.0 205.1h0M40.9 213.4h0M37.8 198.8h0M37.4 207.4h0M46.7 207.9h0M62.7 197.0h0M40.1 190.8h0M35.0 197.6h0M14.1 210.6h0M36.0 188.7h0M12.2 215.1h0M21.2 216.7h0M43.9 190.3h0M51.9 212.3h0M31.9 197.9h0M12.5 207.9h0M29.3 199.6h0M23.5 197.4h0M44.8 199.3h0M63.7 186.3h0M44.4 212.5h0M27.6 209.3h0M22.3 211.1h0M33.4 197.9h0M27.1 188.4h0M20.0 205.5h0M33.1 191.5h0M24.2 214.5h0M49.0 192.7h0M55.2 207.6h0M51.7 199.4h0M32.3 209.5h0M42.5 198.4h0M34.2 202.1h0M32.7 207.4h0M34.4 209.5h0M15.7 201.1h0M18.7 212.3h0M55.6 217.4h0M32.2 199.9h0M36.7 196.0h0M44.9 187.6h0M7.2 197.3h0M29.8 214.4h0M37.5 199.0h0M41.2 199.8h0M37.6 217.6h0M58.1 215.0h0M34.1 190.6h0M23.8 215.8h0M25.7 210.4h0M46.8 198.2h0M42.8 200.9h0M10.8 210.6h0M58.5 205.2h0M45.1 201.3h0M53.4 194.5h0M35.1 212.5h0M34.9 209.0h0M22.6 210.1h0M68.5 187.3h0M39.8 215.7h0M57.2 194.5h0M26.4 202.6h0M33.6 191.2h0M12.4 206.5h0M25.9 192.8h0M47.9 194.6h0M20.2 209.1h0M40.4 175.5h0M39.4 197.7h0M24.4 211.3h0M29.3 203.9h0M25.4 194.0h0M39.5 210.7h0M25.4 196.7h0M19.6 193.8h0M26.8 192.0h0M21.9 205.5h0M22.6 215.6h0M39.1 209.8h0M47.1 196.1h0M10.8 198.3h0M32.4 193.8h0M23.2 195.6h0M21.9 203.8h0M38.7 179.2h0M28.9 203.5h0M56.6 196.2h0M24.5 202.8h0M41.8 201.2h0M28.4 192.8h0M19.6 191.4h0M39.9 190.5h0M37.7 210.4h0M46.8 204.8h0M32.6 195.9h0M26.1 216.3h0M32.4 197.3h0M41.7 212.2h0M49.1 198.0h0M21.7 201.0h0M37.7 206.6h0M10.0 203.0h0M39.5 187.6h0M15.5 193.4h0M13.1 212.4h0M34.0 199.4h0M48.7 192.3h0M14.0 205.0h0M27.0 218.3h0M23.9 200.3h0M17.8 200.0h0M44.8 208.0h0M30.5 216.5h0M27.2 206.7h0M35.4 181.1h0M23.0 198.8h0M43.0 202.2h0M22.7 205.4h0M25.9 220.1h0M6.2 198.6h0M61.3 194.3h0M28.4 196.0h0M43.4 209.4h0M34.3 199.0h0M41.2 207.4h0M33.0 193.6h0M53.6 176.1h0M17.4 196.1h0M12.8 203.5h0M18.0 196.7h0M22.9 217.7h0M49.9 206.6h0M46.5 197.0h0M18.7 196.3h0M16.9 206.7h0M27.7 195.7h0M58.5 203.8h0M43.6 200.6h0M19.7 202.4h0M40.1 176.0h0M18.2 199.2h0M26.9 191.6h0M17.4 211.6h0M23.0 206.1h0M49.4 184.4h0M43.9 191.3h0M36.2 215.4h0M20.1 196.4h0M7.3 202.8h0M29.1 199.9h0M31.8 193.7h0M32.2 196.3h0M35.9 204.6h0M27.7 221.1h0M27.0 184.6h0M34.4 199.6h0M51.5 192.2h0M58.3 187.7h0M32.5 198.7h0M23.9 201.1h0M38.2 208.5h0M25.4 199.1h0M25.1 202.8h0M34.3 199.8h0M22.2 206.6h0M42.0 194.4h0M37.7 208.7h0M38.1 197.9h0M33.4 202.1h0M25.6 203.4h0M18.9 196.5h0M28.7 193.8h0M23.8 193.7h0M38.7 199.8h0M32.1 193.4h0M13.5 198.4h0M36.8 201.2h0M20.1 212.0h0M20.1 188.0h0M38.0 215.8h0M8.8 212.1h0M35.7 198.1h0M41.2 207.8h0M33.3 201.0h0M27.2 196.8h0M39.1 220.6h0M18.3 196.0h0M31.2 200.3h0M31.4 210.1h0M31.9 189.7h0M19.3 205.7h0M39.5 201.4h0M46.5 219.3h0M29.6 192.7h0M29.2 201.7h0M44.7 201.9h0M14.2 210.0h0M36.0 186.4h0M39.7 201.6h0M39.0 198.7h0M41.7 201.1h0M31.2 213.1h0M35.8 209.8h0M44.7 199.2h0M41.7 199.6h0M33.2 188.8h0M15.2 207.3h0M42.7 198.2h0M48.2 189.1h0M48.2 194.4h0M34.7 191.0h0M21.4 221.9h0M55.6 212.5h0M31.6 197.0h0M4.5 217.9h0M38.8 195.3h0M21.1 219.2h0M20.3 210.9h0M27.3 203.9h0M50.2 190.0h0M30.8 202.8h0M34.4 189.3h0M59.9 195.0h0M52.4 183.9h0M35.8 204.7h0M32.5 202.0h0M23.4 216.4h0M26.1 203.5h0M44.5 205.8h0M36.3 189.2h0M38.8 204.1h0M46.7 191.7h0M26.0 205.7h0M34.6 200.4h0M48.0 203.2h0M34.3 178.7h0M49.9 195.9h0M34.0 184.3h0M35.9 211.7h0M31.7 180.4h0M18.2 196.8h0M7.5 194.8h0M48.9 210.2h0M29.1 188.7h0M39.4 198.7h0M11.3 204.9h0M23.1 186.2h0M26.0 200.1h0M26.7 210.3h0M5.6 211.3h0M34.5 209.6h0M44.9 191.1h0M39.9 197.3h0M25.8 199.7h0M36.2 202.5h0M52.2 211.4h0M1.4 219.0h0M34.2 201.9h0M39.4 191.0h0M40.6 189.0h0M62.5 202.0h0M44.9 183.2h0M35.3 189.8h0M38.4 196.9h0M43.3 191.2h0M36.0 219.5h0M25.0 179.4h0M47.9 197.2h0M62.7 194.1h0M28.5 190.8h0M31.8 194.2h0M39.3 202.1h0M58.6 205.6h0M30.9 191.8h0M47.3 177.2h0M26.6 213.6h0M38.8 213.7h0M31.1 197.8h0M36.1 175.8h0M54.1 205.8h0M15.1 206.7h0M27.9 214.6h0M39.1 197.1h0M25.1 200.2h0M13.9 204.6h0M54.1 206.0h0M47.0 208.9h0M32.7 178.2h0M25.2 194.3h0M55.2 208.7h0M30.5 197.8h0M43.4 181.3h0M23.5 204.9h0M23.7 203.6h0M37.2 197.5h0M24.2 199.5h0M42.3 192.8h0M36.5 194.0h0M24.6 207.8h0M32.7 192.1h0M29.4 199.1h0M46.0 192.8h0M32.2 214.5h0M30.9 205.3h0M49.9 191.4h0M65.6 190.9h0M62.0 191.2h0M40.2 208.5h0M39.8 202.6h0M61.7 205.9h0M38.8 211.8h0M22.4 204.9h0M34.8 195.2h0M44.3 204.4h0M26.6 208.9h0M13.7 208.4h0M10.8 195.3h0M36.1 179.8h0M26.8 207.0h0M36.3 207.0h0M40.9 205.2h0M37.7 184.8h0M34.9 210.4h0M39.2 192.0h0M25.3 208.1h0M32.1 205.2h0M18.8 198.7h0M47.0 187.7h0M26.3 181.8h0M21.9 196.0h0M23.3 186.1h0M33.9 204.6h0M44.1 195.9h0M18.4 216.8h0M23.3 208.7h0M27.7 196.3h0M68.5 187.5h0M45.6 190.5h0M36.0 205.4h0M45.3 198.0h0M57.1 178.8h0M32.0 200.9h0M30.6 202.1h0M49.1 189.7h0M44.9 204.3h0M50.4 210.3h0M27.1 199.3h0M58.0 185.1h0M47.7 170.0h0M41.7 195.0h0M41.9 191.7h0M0.6 192.9h0M44.2 198.2h0M34.9 205.7h0M37.6 190.6h0M42.2 192.3h0M26.8 193.2h0M16.6 216.1h0M33.6 184.3h0M24.3 201.2h0M38.6 218.3h0M27.5 203.5h0M32.5 205.5h0M5.1 211.9h0M45.7 182.2h0M38.1 197.7h0M50.7 196.4h0M56.0 179.0h0M36.7 202.3h0M17.1 220.9h0M28.0 214.0h0M13.3 193.0h0M24.7 194.1h0M29.5 185.1h0M13.9 220.6h0M41.8 202.7h0M18.7 214.5h0M35.2 190.2h0M28.9 190.1h0M31.3 202.0h0M34.5 200.8h0M24.7 195.3h0M27.8 204.3h0M16.2 215.0h0M35.5 201.6h0M54.2 179.6h0M51.6 169.6h0M50.7 189.5h0M44.6 196.7h0M25.4 201.3h0M51.6 187.3h0M31.5 193.9h0M37.0 206.1h0M31.1 200.8h0M36.7 200.0h0M25.6 193.7h0M31.4 194.7h0M21.9 207.3h0M26.2 193.1h0M58.9 175.2h0M32.8 197.1h0M36.8 211.3h0M42.5 198.0h0M49.8 207.9h0M20.3 205.0h0M31.1 198.1h0M41.1 182.1h0M36.1 192.9h0M42.3 211.1h0M56.0 193.1h0M29.3 209.8h0M38.9 205.1h0M28.4 202.5h0M53.1 188.9h0M10.7 212.1h0M29.2 209.2h0M30.1 206.6h0M45.4 199.8h0M43.3 197.2h0M49.6 184.6h0M14.0 206.6h0M40.7 187.0h0M35.3 209.9h0M18.1 185.3h0M41.0 194.4h0M32.9 225.5h0M7.3 208.8h0M25.7 191.9h0M15.9 208.2h0M31.9 214.4h0M39.1 195.9h0M41.4 202.9h0M55.5 191.0h0M31.0 197.5h0M25.7 204.6h0M21.2 200.3h0M17.6 202.5h0M42.1 200.2h0M28.5 206.8h0M13.0 217.8h0M44.4 196.6h0M27.8 187.8h0M41.7 202.0h0M35.1 196.2h0M41.9 193.3h0M29.5 186.5h0M48.4 187.2h0M37.5 190.7h0M39.8 196.9h0M34.4 184.6h0M16.7 208.6h0M33.4 201.5h0M27.2 191.4h0M35.1 192.9h0M14.3 200.2h0M59.4 197.6h0M26.2 177.1h0M18.3 203.7h0M6.7 195.3h0M29.7 197.4h0M37.3 207.3h0M23.4 198.3h0M36.7 200.1h0M23.5 196.0h0M49.8 212.9h0M29.5 211.6h0M39.0 209.4h0M42.1 182.3h0M63.2 174.8h0M26.5 214.8h0M28.3 200.6h0M23.3 202.2h0M46.3 197.7h0M15.4 195.5h0M32.0 209.0h0M34.7 199.8h0M24.5 209.4h0M20.2 199.4h0M31.0 206.7h0M5.5 205.9h0M20.5 216.3h0M34.3 211.7h0M40.5 206.5h0M34.7 205.0h0M15.0 215.5h0M18.3 178.9h0M48.5 202.0h0M41.0 193.9h0M34.4 200.8h0M22.6 202.3h0M37.4 183.8h0M25.5 198.3h0M22.8 212.1h0M30.5 216.4h0M50.9 185.6h0M34.2 190.4h0M55.5 205.1h0M25.4 194.7h0M55.2 211.8h0M27.6 203.5h0M29.5 192.8h0M70.5 193.3h0M51.5 209.5h0M22.9 190.1h0M40.2 213.4h0M38.0 195.1h0M56.3 205.1h0M27.3 199.1h0M6.6 196.2h0M33.5 205.5h0M38.9 207.4h0M44.8 216.9h0M58.6 206.5h0M41.8 203.6h0M44.4 192.6h0M18.9 201.5h0M44.8 191.8h0M58.3 179.9h0M43.7 192.6h0M28.0 176.1h0M37.7 200.1h0M57.6 188.7h0M33.5 227.1h0M36.6 206.7h0M38.9 192.6h0M46.7 200.0h0M24.5 191.5h0M36.5 192.5h0M24.0 185.1h0M42.3 211.2h0M35.7 205.4h0M15.8 196.1h0M34.5 199.1h0M49.9 202.5h0M24.7 209.5h0M33.5 204.2h0M40.0 188.2h0M18.9 200.3h0M37.7 199.2h0M25.2 213.7h0M46.1 185.7h0M59.8 176.2h0M65.3 197.4h0M28.5 192.8h0M48.7 204.4h0M37.5 200.9h0M39.8 206.5h0M61.6 205.4h0M21.0 213.2h0M51.5 199.9h0M30.7 191.9h0M50.1 185.2h0M40.0 203.9h0M32.6 216.7h0M44.1 209.8h0M53.6 215.1h0M36.7 202.0h0M42.0 198.4h0M32.4 211.2h0M8.0 212.3h0M46.2 193.6h0M39.7 186.3h0M40.9 207.2h0M31.6 189.9h0M50.2 197.8h0M23.5 190.0h0M30.4 213.1h0M28.5 191.8h0M53.5 199.7h0M11.0 194.0h0M48.4 188.7h0M31.6 213.4h0M17.8 199.1h0M51.3 192.6h0M31.8 196.0h0M9.2 187.3h0M31.7 204.3h0M48.5 197.7h0M45.7 182.9h0M31.9 207.0h0M37.0 190.2h0M40.0 186.6h0M26.8 203.4h0M36.8 191.5h0M43.8 219.4h0M22.0 189.3h0M31.7 208.8h0M39.8 207.6h0M27.4 182.3h0M20.9 187.9h0M31.9 206.9h0M47.2 188.8h0M39.3 201.5h0M50.8 204.1h0M48.8 189.2h0M38.2 186.9h0M52.9 162.6h0M25.3 206.1h0M41.5 186.7h0M32.2 204.1h0M59.5 190.5h0M51.0 177.5h0M17.1 225.9h0M27.1 214.6h0M46.8 202.9h0M40.3 184.6h0M42.7 191.6h0M31.9 195.2h0M39.1 193.2h0M38.8 186.0h0M35.8 203.7h0M49.0 195.4h0M7.8 216.0h0M41.0 191.4h0M27.1 216.7h0M47.9 195.4h0M21.1 177.3h0M21.2 199.2h0M39.5 196.8h0M27.3 213.2h0M22.2 202.3h0M14.1 206.6h0M32.0 194.0h0M44.0 202.3h0M46.2 189.6h0M30.8 195.1h0M45.3 186.9h0M37.5 204.2h0M31.7 195.5h0M35.5 181.7h0M50.9 198.6h0M27.9 195.5h0M33.3 204.0h0M34.5 203.7h0M40.9 209.4h0M27.8 213.8h0M45.7 188.5h0M29.3 200.4h0M35.7 185.7h0M31.3 218.8h0M41.3 201.2h0M45.6 209.2h0M28.4 199.2h0M52.4 169.9h0M45.9 210.5h0M57.9 189.8h0M47.7 195.0h0M26.8 203.9h0M32.7 207.3h0M42.7 201.5h0M29.4 185.4h0M40.0 208.6h0M29.2 196.6h0M10.2 206.2h0M39.1 215.7h0M10.6 220.5h0M38.4 194.4h0M18.3 187.8h0M26.6 205.1h0M34.4 205.4h0M38.1 197.2h0M11.8 197.2h0M9.6 203.0h0M16.4 195.0h0M10.0 213.4h0M26.0 212.3h0M59.3 198.9h0M18.7 199.4h0M44.2 197.7h0M19.8 212.4h0M36.7 193.3h0M30.3 200.1h0M42.8 218.1h0M43.0 197.9h0M60.8 196.7h0M35.7 194.6h0M36.7 199.1h0M15.8 190.5h0M42.3 195.8h0M36.7 211.2h0M54.0 212.6h0M39.2 210.1h0M59.8 195.1h0M10.1 211.7h0M28.8 196.1h0M45.5 192.9h0M33.0 206.9h0M21.8 197.4h0M35.4 209.1h0M13.5 199.2h0M29.4 183.5h0M61.9 176.3h0M42.8 178.4h0M15.4 194.2h0M28.5 214.4h0M29.1 200.2h0M48.6 195.4h0M29.2 214.3h0M31.3 214.4h0M44.2 189.9h0M51.3 205.8h0M31.8 205.0h0M20.8 206.1h0M17.1 212.5h0M20.4 191.4h0M3.5 205.9h0M44.1 194.1h0M29.5 208.5h0M39.6 193.4h0M58.2 187.3h0M53.8 200.9h0M26.1 218.5h0M49.1 201.0h0M54.8 203.6h0M23.9 200.4h0M21.7 202.5h0M34.9 202.9h0M13.5 206.4h0M51.6 186.4h0M11.1 228.0h0M20.1 204.3h0M27.7 192.8h0M34.1 205.0h0M44.5 214.3h0M38.8 198.6h0M37.2 211.4h0M47.7 189.0h0M5.9 207.9h0M32.2 193.6h0M25.4 202.5h0M44.1 214.5h0M33.2 188.2h0M30.0 219.0h0M22.8 194.6h0M44.1 192.8h0M42.8 204.6h0M28.9 209.0h0M62.0 189.9h0M57.7 171.6h0M17.9 211.3h0M34.7 188.9h0M77.1 206.8h0M44.1 193.0h0M38.6 199.8h0M27.8 190.9h0M26.2 198.6h0M27.1 189.6h0M32.0 211.2h0M43.4 192.8h0M32.2 206.7h0M26.7 196.2h0M17.7 202.3h0M39.5 210.9h0M19.8 196.4h0M25.5 185.1h0M49.8 196.8h0M35.1 187.5h0M39.6 192.7h0M43.2 205.2h0M32.5 192.1h0M36.9 207.8h0M28.4 195.5h0M50.6 207.8h0M26.6 217.3h0M50.1 187.5h0M34.6 197.5h0M22.2 196.8h0M29.6 204.1h0M31.0 213.4h0M31.2 186.1h0M29.6 211.6h0M44.2 181.3h0M21.6 196.7h0M34.2 221.9h0M9.8 211.9h0M35.5 201.8h0M45.7 187.4h0M47.5 204.9h0M9.6 189.3h0M25.4 204.2h0M66.4 208.0h0M37.5 194.3h0M35.1 199.6h0M51.1 199.0h0M62.9 178.0h0M51.5 192.0h0M40.6 206.9h0M40.3 199.1h0M44.3 199.0h0M25.8 200.1h0M22.8 208.5h0M35.9 199.7h0M28.8 217.6h0M37.1 206.1h0M35.2 196.8h0M54.9 164.6h0M27.1 210.7h0M36.5 206.7h0M29.2 192.6h0M32.5 179.7h0M43.7 183.5h0M32.5 210.4h0M20.3 195.2h0M12.3 205.3h0M24.1 206.9h0M46.7 206.9h0M35.5 199.1h0M21.7 204.6h0M28.1 197.0h0M41.9 213.4h0M45.7 205.7h0M27.1 202.2h0M26.2 189.0h0M8.8 203.5h0M22.7 211.3h0M52.6 183.7h0M10.8 220.1h0M32.2 204.6h0M39.0 200.7h0M32.9 207.3h0M26.7 208.6h0M30.8 192.5h0M33.6 196.7h0M43.4 220.1h0M6.3 200.2h0M31.2 196.3h0M28.4 213.7h0M27.4 201.4h0M34.6 191.2h0M37.8 184.3h0M48.5 198.8h0M32.8 211.2h0M52.3 206.1h0M50.1 193.0h0M53.6 201.8h0M48.5 182.4h0M33.8 201.8h0M30.1 194.7h0M46.2 196.1h0M20.7 214.0h0M42.0 207.5h0M24.3 194.1h0M35.4 212.6h0M11.0 205.7h0M19.6 195.9h0M34.1 198.2h0M40.4 181.7h0M47.6 193.7h0M35.1 202.5h0M31.8 198.9h0M26.6 209.0h0M38.8 194.4h0M31.9 201.0h0M36.9 183.5h0M57.4 189.5h0M31.2 192.4h0M14.2 204.5h0M23.7 203.8h0M17.3 209.8h0M13.2 192.4h0M45.3 178.3h0M36.7 195.6h0M17.6 212.6h0M44.7 198.7h0M54.6 199.7h0M35.7 212.8h0M28.4 207.8h0M30.6 201.3h0M34.5 188.9h0M39.3 187.6h0M48.1 188.5h0M51.5 194.6h0M50.9 194.4h0M52.3 191.5h0M42.8 194.3h0M18.1 214.0h0M34.2 202.1h0M40.2 200.2h0M31.4 204.4h0M44.4 189.4h0M26.3 192.8h0M25.2 209.2h0M55.0 194.5h0M42.6 193.7h0M36.1 194.6h0M55.9 213.6h0M45.4 186.7h0M38.5 195.6h0M4.9 216.3h0M21.8 193.6h0M29.7 203.2h0M29.7 220.8h0M41.3 206.4h0M52.7 197.9h0M31.2 207.5h0M21.1 207.2h0M64.6 195.8h0M28.6 200.8h0M17.7 203.2h0M38.4 199.0h0M44.0 204.8h0M27.4 206.5h0M47.7 200.6h0M20.7 185.0h0M28.1 215.2h0M46.7 218.6h0M50.1 206.4h0M25.7 200.5h0M35.8 190.2h0M34.9 202.4h0M66.9 174.3h0M28.9 209.9h0M50.5 186.8h0M38.2 208.1h0M38.9 212.0h0M36.0 177.7h0M47.5 196.7h0M48.3 186.0h0M33.5 185.4h0M24.9 197.7h0M27.3 200.8h0M45.6 205.4h0M36.3 183.0h0M57.0 200.3h0M48.4 214.4h0M50.9 198.4h0M56.4 195.2h0M37.0 198.4h0M11.4 198.2h0M22.2 211.1h0M18.3 211.3h0M58.1 196.4h0M34.6 226.6h0M53.6 198.5h0M44.1 199.7h0M63.0 202.8h0M42.3 182.0h0M29.1 190.3h0M31.0 197.5h0M33.5 193.4h0M40.0 204.4h0M27.0 199.9h0M41.6 214.7h0M61.5 203.1h0M16.5 216.2h0M36.7 194.6h0M26.0 210.2h0M40.6 205.4h0M41.4 185.3h0M35.7 202.8h0M47.6 201.0h0M15.7 210.8h0M55.4 206.5h0M32.2 213.5h0M39.6 188.7h0M37.8 199.5h0M27.7 209.0h0M34.3 190.7h0M58.4 198.3h0M40.2 201.1h0M42.2 206.3h0M16.5 206.6h0M47.3 178.5h0M65.0 204.0h0M34.7 197.8h0M37.7 212.7h0M16.2 212.8h0M48.9 200.1h0M76.6 199.3h0M45.5 198.2h0M56.7 204.1h0M35.9 183.5h0M26.0 212.8h0M51.0 189.5h0M18.8 205.7h0M32.4 200.8h0M39.9 200.8h0M52.9 208.5h0M32.8 181.1h0M40.1 197.6h0M22.5 197.8h0M23.3 217.2h0M34.1 195.5h0M27.8 207.6h0M16.8 203.8h0M21.6 212.7h0M32.9 211.1h0M9.9 207.0h0M18.1 207.9h0M8.6 196.9h0M38.5 201.1h0M43.6 204.5h0M58.2 182.8h0M20.5 218.0h0M18.1 185.7h0M39.1 178.2h0M26.7 188.8h0M28.9 197.3h0M56.8 189.5h0M30.4 200.8h0M20.1 205.8h0M21.2 213.5h0M37.4 193.4h0M33.8 186.8h0M12.6 196.9h0M31.0 223.5h0M32.3 176.1h0M41.6 194.6h0M32.7 215.9h0M44.8 200.0h0M38.9 189.0h0M12.4 210.1h0M34.5 208.8h0M45.1 207.4h0M24.1 195.1h0M10.9 218.7h0M32.4 203.3h0M49.0 204.6h0M60.6 202.1h0M5.8 209.5h0M62.3 171.6h0M22.3 209.6h0M54.3 209.1h0M53.4 198.1h0M48.4 195.7h0M46.5 219.3h0M16.1 197.4h0M46.6 203.6h0M23.6 198.8h0M3.2 214.9h0M71.3 183.5h0M50.1 208.4h0M54.3 180.7h0M21.3 200.3h0M47.2 177.1h0M57.1 194.3h0M52.9 186.4h0M36.4 203.3h0M15.4 197.4h0M31.3 197.5h0M11.2 221.5h0M12.7 208.1h0M38.7 204.3h0M24.5 209.9h0M31.5 197.4h0M27.4 186.7h0M63.5 196.6h0M52.2 193.3h0M38.4 208.2h0M42.3 175.0h0M18.5 189.9h0M22.1 183.0h0M43.0 186.6h0M23.4 215.8h0M33.7 206.0h0M18.1 207.0h0M37.0 199.9h0M58.8 196.4h0M24.2 201.3h0M39.5 201.6h0M24.2 206.0h0M11.6 187.5h0M17.8 203.5h0M58.9 202.6h0M63.4 182.1h0M40.6 195.4h0M23.5 198.5h0M42.0 191.2h0M35.3 211.2h0M44.1 192.5h0M34.6 189.0h0M26.1 171.1h0M40.4 191.0h0M19.8 186.0h0M22.5 186.2h0M16.4 216.5h0M32.2 208.2h0M9.3 191.4h0M36.6 207.7h0M24.7 209.1h0M33.1 192.2h0M43.7 203.1h0M10.5 193.9h0M19.8 193.9h0M17.3 192.7h0M40.0 185.5h0M60.2 197.0h0M40.5 183.0h0M25.9 191.7h0M49.8 182.6h0M16.6 210.1h0M52.7 187.7h0M30.1 210.8h0M63.5 172.7h0M53.0 185.8h0M22.0 205.9h0M33.4 190.5h0M33.4 203.1h0M43.6 214.5h0M13.8 203.2h0M26.5 203.8h0M46.3 208.3h0M35.2 192.5h0M46.8 185.0h0M31.6 189.5h0M66.4 188.9h0M27.9 208.0h0M37.6 196.6h0M10.8 211.1h0M24.1 217.7h0M55.3 199.0h0M17.3 192.9h0M41.6 196.1h0M34.6 200.6h0M24.5 211.7h0M29.6 199.4h0M25.8 196.8h0M26.9 198.2h0M37.3 179.5h0M43.1 195.2h0M25.2 197.5h0M25.3 208.6h0M34.3 188.7h0M31.9 196.1h0M44.0 184.7h0M64.3 174.3h0M48.4 200.3h0M32.6 195.4h0M34.5 204.0h0M19.5 194.6h0M23.7 205.4h0M15.3 190.6h0M27.9 197.4h0M27.4 197.4h0M46.6 199.8h0M30.5 203.1h0M31.6 198.8h0M22.7 213.6h0M56.5 191.1h0M43.4 200.8h0M60.6 195.1h0M44.7 193.8h0M52.6 187.8h0M33.0 203.4h0M42.3 191.3h0M70.7 186.4h0M23.7 215.9h0M53.2 199.5h0M54.8 185.8h0M35.0 185.6h0M44.3 194.1h0M50.6 190.5h0M30.7 212.6h0M38.6 193.3h0M22.7 202.6h0M29.0 209.5h0M24.9 198.7h0M32.3 198.6h0M43.6 212.9h0M46.7 209.2h0M18.9 213.1h0M61.6 189.4h0M45.9 183.8h0M46.5 199.5h0M30.4 201.8h0M34.5 201.5h0M39.9 191.3h0M40.1 196.5h0M12.2 207.7h0M45.7 197.3h0M78.4 193.7h0M12.2 213.4h0M41.1 178.8h0M35.7 188.5h0M27.0 186.2h0M49.5 183.9h0M21.7 211.1h0M38.5 201.5h0M51.5 185.1h0M33.3 202.6h0M26.3 195.1h0M30.6 186.2h0M23.4 189.7h0M51.5 182.3h0M28.7 216.8h0M40.8 182.3h0M23.5 217.4h0M48.8 206.4h0M32.7 198.2h0M0.9 214.4h0M32.3 193.8h0M20.8 205.4h0M31.6 207.4h0M54.9 189.8h0M24.2 214.4h0M25.7 215.7h0M55.0 193.3h0M37.6 201.2h0M54.7 189.2h0M40.4 200.1h0M18.8 194.9h0M35.6 202.9h0M51.7 193.3h0M43.6 185.9h0M43.4 217.5h0M31.5 190.4h0M29.8 192.3h0M28.4 205.0h0M52.2 170.7h0M31.7 192.2h0M13.9 192.8h0M24.7 193.6h0M43.7 193.5h0M44.4 197.9h0M37.4 209.4h0M29.3 210.0h0M39.8 209.1h0M15.3 214.3h0M15.9 202.9h0M49.7 203.8h0M26.6 197.8h0M37.2 191.5h0M56.8 204.8h0M46.4 201.9h0M35.9 200.8h0M65.6 192.6h0M47.0 202.5h0M24.7 189.5h0M44.0 193.8h0M35.4 186.4h0M24.1 205.3h0M33.0 192.8h0M38.1 211.7h0M11.2 215.4h0M29.3 193.1h0M31.0 200.6h0M24.2 191.3h0M13.5 209.4h0M32.3 205.9h0M35.3 201.5h0M28.4 181.8h0M18.6 203.0h0M45.1 199.5h0M20.1 209.0h0M36.5 210.3h0M46.6 180.0h0M27.8 207.7h0M25.5 196.5h0M49.6 194.2h0M31.4 204.8h0M33.7 206.7h0M35.3 192.7h0M49.2 194.2h0M1.3 202.4h0M18.3 191.9h0M23.9 209.9h0M20.4 205.1h0M17.1 190.3h0M20.4 196.8h0M38.8 197.3h0M29.4 217.8h0M40.6 207.3h0M43.2 203.4h0M18.1 188.1h0M36.1 197.4h0M58.0 193.2h0M40.5 200.4h0M28.2 206.4h0M33.0 197.4h0M29.9 219.7h0M44.2 210.1h0M45.6 193.0h0M20.2 195.5h0M40.3 217.9h0M47.0 187.5h0M33.1 212.3h0M44.9 214.3h0M17.7 197.1h0M25.3 206.4h0M26.7 199.1h0M64.4 190.6h0M30.9 204.2h0M35.9 218.9h0M30.0 207.4h0M32.6 199.9h0M47.6 204.8h0M36.1 195.5h0M59.4 183.7h0M46.5 217.0h0M49.8 183.4h0M36.3 193.1h0M42.6 195.8h0M12.2 198.4h0M24.7 181.6h0M38.1 208.5h0M28.5 193.7h0M5.3 207.1h0M44.4 190.6h0M25.9 192.8h0M24.9 192.3h0M32.2 201.9h0M41.5 221.0h0M42.9 202.9h0M21.6 212.9h0M16.9 191.5h0M38.4 197.1h0M31.9 187.9h0M33.1 207.9h0M26.6 200.4h0M24.3 204.3h0M33.7 198.6h0M47.4 187.0h0M15.2 192.2h0M56.4 195.0h0M39.9 182.1h0M24.3 191.5h0M43.5 191.8h0M13.3 201.6h0M13.8 211.5h0M22.5 215.3h0M30.6 203.6h0M31.4 202.6h0M28.3 202.2h0M39.5 205.8h0M42.5 199.2h0M13.0 199.4h0M21.4 192.3h0M29.5 201.5h0M18.5 202.5h0M19.7 212.1h0M26.4 214.4h0M25.3 179.0h0M42.0 194.9h0M49.8 212.5h0M25.6 212.3h0M30.5 216.1h0M23.5 205.3h0M34.7 184.0h0M4.4 201.4h0M53.3 197.8h0M32.5 210.1h0M21.9 197.3h0M38.0 194.7h0M48.9 195.1h0M32.1 181.9h0M46.7 189.8h0M43.0 212.1h0M59.1 210.5h0M50.1 190.7h0M40.9 215.4h0M50.9 186.0h0M33.6 191.0h0M26.9 179.2h0M26.9 212.7h0M29.6 197.5h0M54.0 214.5h0M19.4 209.6h0M43.8 196.8h0M31.9 181.4h0M44.3 210.3h0M5.3 208.9h0M32.8 198.2h0M34.1 176.2h0M28.8 211.5h0M39.9 207.0h0M2.2 207.9h0M43.7 195.8h0M27.9 206.3h0M49.7 202.1h0M11.8 210.8h0M50.5 209.7h0M30.8 198.3h0M42.6 189.0h0M21.2 200.5h0M16.7 180.8h0M60.0 178.8h0M28.3 212.6h0M26.9 205.5h0M28.0 193.6h0M23.2 208.1h0M41.8 174.6h0M55.5 186.4h0M28.0 207.7h0M15.7 215.2h0M46.5 185.4h0M52.5 200.3h0M52.7 210.3h0M47.7 188.5h0M26.7 210.5h0M26.4 186.6h0M9.3 190.3h0M19.2 212.7h0M47.4 193.6h0M27.1 204.7h0M61.4 180.5h0M34.5 196.1h0M29.9 209.8h0M51.8 209.1h0M56.8 186.5h0M34.3 182.0h0M24.5 217.2h0M41.9 202.0h0M55.0 196.8h0M29.3 203.5h0M34.3 223.6h0M48.0 193.7h0M38.6 202.7h0M13.4 189.6h0M27.6 196.3h0M22.4 197.6h0M38.4 197.0h0M37.6 201.4h0M46.4 185.8h0M50.8 209.8h0M10.7 199.1h0M38.1 192.8h0M47.1 195.8h0M35.6 185.6h0M50.2 197.9h0M30.4 207.8h0M21.6 202.2h0M54.3 210.0h0M21.6 206.1h0M8.5 214.3h0M43.9 184.7h0M18.9 188.9h0M28.4 195.4h0M15.8 204.6h0M16.1 203.0h0M23.2 212.5h0M20.6 180.6h0M34.9 187.1h0M49.7 206.2h0M17.5 201.2h0M19.2 200.9h0M39.0 185.6h0M37.5 207.3h0M13.6 204.6h0M59.1 190.1h0M15.7 186.6h0M42.6 207.7h0M38.9 201.3h0M54.9 195.5h0M34.0 212.4h0M46.8 191.4h0M24.7 202.0h0M51.9 198.6h0M26.8 207.3h0M29.2 199.1h0M59.0 188.2h0M36.8 192.9h0M39.1 204.6h0M67.0 193.9h0M39.4 197.0h0M32.0 220.1h0M37.9 181.5h0M18.9 204.1h0M56.0 207.2h0M48.4 188.3h0M21.1 188.7h0M32.5 214.8h0M39.2 202.7h0M30.2 188.7h0M25.5 211.6h0M37.9 186.9h0M3.5 199.6h0M28.7 200.3h0M27.7 197.3h0M26.9 191.2h0M37.2 194.1h0M15.2 197.7h0M42.5 196.1h0M32.4 200.0h0M29.6 209.4h0M15.6 203.3h0M14.4 194.6h0M34.1 185.6h0M21.6 202.7h0M41.8 212.0h0M51.7 200.1h0M45.3 187.4h0M58.4 198.0h0M26.4 190.8h0M25.1 214.3h0M46.2 189.8h0M41.8 203.9h0M51.6 197.8h0M33.8 196.6h0M51.3 194.8h0M41.3 184.9h0M43.6 194.2h0M45.6 205.5h0M40.6 203.8h0M38.0 198.5h0M43.3 184.5h0M32.6 211.3h0M50.2 174.5h0M30.2 192.8h0M48.8 196.4h0M28.8 189.2h0M37.9 213.9h0M65.0 196.5h0M28.6 196.0h0M16.4 201.9h0M20.4 191.9h0M25.1 188.9h0M63.9 190.2h0M39.9 203.3h0M48.1 196.6h0M23.2 207.3h0M37.0 192.2h0M44.8 198.2h0M51.7 175.7h0M26.0 203.3h0M48.4 208.3h0M44.0 208.7h0M20.0 201.1h0M33.2 196.3h0M37.0 212.6h0M12.5 228.3h0M36.4 182.6h0M40.0 192.2h0M30.2 203.7h0M22.7 217.6h0M50.2 183.1h0M40.8 203.1h0M46.5 190.5h0M62.3 211.3h0M29.9 205.9h0M44.6 193.1h0M30.4 197.6h0M38.3 208.6h0M36.5 205.5h0M30.4 189.8h0M49.8 194.4h0M31.0 186.8h0M29.8 193.5h0M26.1 189.6h0M33.8 185.6h0M20.7 198.5h0M24.5 193.6h0M36.3 204.0h0M30.9 209.3h0M32.4 197.7h0M22.6 193.1h0M63.5 194.2h0M43.5 173.8h0M32.7 179.8h0M37.1 205.7h0M65.3 191.8h0M42.8 205.6h0M32.8 197.8h0M33.6 186.4h0M36.6 192.9h0M55.0 195.7h0M31.5 192.6h0M58.6 180.6h0M18.0 192.3h0M38.9 184.9h0M25.5 212.3h0M59.7 192.3h0M25.9 191.0h0M29.7 190.1h0M44.3 188.8h0M53.0 196.4h0M16.0 195.6h0M29.7 199.7h0M8.5 188.8h0M31.5 187.4h0M35.2 203.4h0M34.0 208.9h0M21.5 193.2h0M26.8 194.7h0M28.6 210.4h0M40.0 192.6h0M51.9 185.5h0M12.4 215.0h0M34.1 201.5h0M34.0 211.2h0M44.3 203.1h0M20.4 199.8h0M32.5 199.0h0M21.4 204.8h0M38.2 183.3h0M32.2 190.1h0M36.7 208.5h0M33.1 183.2h0M35.7 209.2h0M16.3 210.8h0M41.8 194.4h0M40.7 202.1h0M34.8 204.2h0M52.2 203.8h0M48.7 188.5h0M20.0 203.6h0M23.9 201.6h0M62.0 206.2h0M56.6 198.9h0M21.7 195.5h0M18.5 203.2h0M23.9 196.8h0M28.6 202.2h0M15.6 210.4h0M44.5 218.8h0M11.2 191.0h0M23.6 215.2h0M48.2 197.5h0M23.3 197.1h0M33.3 198.3h0M40.8 191.2h0M45.4 194.8h0M34.6 209.9h0M29.3 185.8h0M29.7 215.4h0M55.5 185.6h0M49.1 208.3h0M22.5 209.3h0M39.9 209.8h0M46.2 199.8h0M45.3 205.7h0M58.3 188.8h0M48.9 183.9h0M30.7 208.2h0M36.6 205.9h0M27.0 224.9h0M30.0 180.4h0M36.0 196.6h0M73.4 192.4h0M31.1 187.8h0M7.4 209.6h0M34.9 221.5h0M42.0 210.8h0M15.4 199.0h0M29.6 216.7h0M35.0 211.6h0M42.3 203.9h0M34.3 203.5h0M24.5 206.5h0M41.4 187.1h0M25.9 198.0h0M31.5 208.5h0M17.9 208.6h0M32.3 219.8h0M41.8 192.5h0M4.7 188.1h0M32.6 196.8h0M45.1 197.4h0M31.6 204.8h0M38.2 198.4h0M17.4 198.8h0M57.5 204.4h0M46.2 187.0h0M40.7 204.0h0M11.5 207.2h0M16.8 195.1h0M53.0 205.7h0M46.5 167.5h0M35.2 190.2h0M52.5 195.6h0M25.7 199.8h0M35.5 206.9h0M34.5 198.4h0M38.4 192.9h0M24.2 227.0h0M46.0 191.8h0M51.0 190.1h0M16.0 196.8h0M14.7 200.9h0M42.0 202.8h0M28.9 208.0h0M4.8 213.4h0M42.4 188.5h0M39.6 204.3h0M22.0 187.5h0M60.4 183.9h0M35.7 196.3h0M22.0 196.5h0M36.8 200.1h0M19.0 199.7h0M22.0 196.9h0M47.1 212.6h0M30.9 209.0h0M34.0 212.4h0M56.3 189.9h0M49.7 202.6h0M48.3 201.4h0M46.5 206.7h0M50.6 216.9h0M52.5 188.8h0M35.7 201.7h0M58.3 188.0h0M8.8 174.8h0M26.1 188.9h0M17.5 207.7h0M33.1 206.9h0M39.2 191.4h0M57.9 200.6h0M31.7 214.4h0M33.4 195.9h0M36.1 213.8h0M32.6 218.9h0M21.8 210.5h0M31.8 190.6h0M18.9 222.4h0M35.7 197.4h0M33.7 196.1h0M27.1 204.4h0M20.0 200.8h0M21.7 216.9h0M61.9 195.1h0M22.9 217.9h0M57.1 195.3h0M39.4 189.1h0M29.7 200.3h0M23.8 213.9h0M46.6 189.8h0M68.7 214.4h0M22.2 202.9h0M28.9 196.2h0M53.0 203.2h0M42.3 204.0h0M60.3 187.4h0M26.8 200.9h0M43.6 200.0h0M22.5 214.1h0M64.7 193.7h0M24.5 201.2h0M8.7 216.3h0M36.8 207.5h0M36.3 206.9h0M46.9 161.6h0M27.1 193.8h0M31.7 192.9h0M41.6 194.0h0M55.8 191.7h0M37.9 207.8h0M50.7 198.7h0M41.1 195.3h0M31.3 201.5h0M43.0 214.2h0M32.9 194.1h0M24.6 207.5h0M56.7 205.8h0M18.8 210.7h0M41.7 175.0h0M48.6 197.1h0M32.3 196.7h0M24.8 203.1h0M36.3 209.9h0M42.9 200.7h0M43.4 192.8h0M42.2 205.5h0M49.3 197.4h0M28.3 203.7h0M39.2 200.7h0M16.1 211.0h0M43.3 192.1h0M35.1 194.6h0M29.8 202.2h0M45.9 184.4h0M38.7 184.6h0M4.5 227.4h0M34.5 197.2h0M16.4 207.9h0M48.0 192.0h0M66.7 185.0h0M28.5 202.8h0M36.2 199.6h0M28.6 194.1h0M43.2 205.4h0M40.4 189.7h0M55.5 200.8h0M14.8 188.8h0M50.7 181.1h0M27.2 213.6h0M37.9 196.6h0M47.0 186.9h0M45.6 198.5h0M18.9 196.1h0M26.4 204.3h0M20.2 183.2h0M32.5 195.9h0M46.9 187.1h0M20.8 211.8h0M44.4 204.3h0M39.3 188.5h0M48.5 210.0h0M38.5 191.6h0M46.0 172.8h0M31.6 176.1h0M52.1 207.7h0M41.8 195.4h0M55.2 183.3h0M7.9 204.3h0M46.9 182.5h0M37.1 212.7h0M31.1 200.4h0M29.9 220.6h0M10.5 208.8h0M20.7 181.5h0M29.7 210.8h0M39.8 193.4h0M15.4 206.2h0M59.5 204.5h0M37.4 195.6h0M36.5 211.0h0M26.0 203.7h0M22.0 197.7h0M22.7 210.6h0M25.7 197.5h0M40.0 210.0h0M36.6 208.8h0M17.3 208.4h0M34.1 206.3h0M25.9 209.6h0M35.9 196.2h0M62.3 196.2h0M42.0 193.8h0M33.5 206.7h0M10.6 200.9h0M17.5 208.7h0M15.3 213.1h0M41.0 188.4h0M23.6 200.5h0M33.7 194.6h0M30.0 209.5h0M33.3 192.8h0M54.6 195.0h0M32.4 216.7h0M32.1 204.6h0M18.3 190.4h0M46.6 195.5h0M26.2 214.6h0M19.5 203.8h0M21.9 217.3h0M19.6 213.2h0M42.7 200.4h0M66.6 182.1h0M20.3 201.0h0M46.1 191.7h0M38.5 198.6h0M23.2 210.6h0M33.2 204.8h0M30.9 198.4h0M26.5 204.2h0M61.1 191.5h0M4.3 196.9h0M36.8 190.7h0M36.0 190.8h0M26.9 201.3h0M35.8 196.3h0M45.2 192.2h0M33.5 191.2h0M43.0 202.9h0M45.0 197.9h0M2.7 197.5h0M53.9 191.0h0M59.4 176.4h0M54.3 208.5h0M46.1 189.7h0M15.6 204.6h0M33.9 201.1h0M24.0 202.7h0M27.4 202.6h0M53.5 207.2h0M25.8 206.3h0M36.8 207.6h0M15.4 220.6h0M29.1 192.2h0M43.0 213.7h0M28.9 209.7h0M29.8 212.1h0M55.5 181.1h0M23.0 213.8h0M23.4 209.4h0M22.7 199.8h0M59.4 212.2h0M64.0 192.1h0M38.3 195.6h0M26.8 205.6h0M33.3 210.0h0M53.1 203.1h0M25.9 210.1h0M58.4 201.5h0M59.0 203.9h0M31.0 188.6h0M41.3 191.7h0M40.8 187.1h0M55.2 191.3h0M27.5 218.3h0M52.7 198.3h0M26.1 192.9h0M24.2 201.7h0M40.5 207.9h0M30.2 196.4h0M22.2 204.7h0M16.0 211.7h0M15.8 189.6h0M56.6 197.8h0M61.4 191.0h0M45.6 200.7h0M46.2 184.2h0M25.4 196.1h0M31.7 195.0h0M39.7 200.2h0M21.6 206.7h0M23.0 206.6h0M43.5 214.5h0M36.3 212.8h0M18.7 199.8h0M37.4 191.8h0M38.6 216.0h0M46.8 190.9h0M40.6 211.6h0M37.7 215.2h0M34.5 194.2h0M31.8 198.4h0M26.9 204.3h0M26.5 194.6h0M40.7 186.8h0M41.7 192.4h0M54.8 199.4h0M11.8 205.8h0M29.3 200.2h0M28.0 198.1h0M31.8 186.9h0M35.3 215.1h0M19.2 182.5h0M42.4 189.4h0M39.6 203.4h0M14.7 194.6h0M54.4 197.0h0M52.8 204.6h0M24.3 195.7h0M46.5 196.5h0M21.3 194.5h0M51.4 197.4h0M32.7 201.7h0M25.8 206.3h0M35.8 213.6h0M27.3 208.3h0M42.9 210.1h0M39.8 204.1h0M30.7 189.1h0M29.1 205.2h0M30.5 186.7h0M16.4 222.4h0M38.4 198.8h0M50.9 196.1h0M35.0 190.3h0M30.4 202.6h0M34.0 203.3h0M32.1 197.6h0M28.4 203.6h0M19.2 184.9h0M28.8 216.9h0M45.7 183.0h0M26.1 181.0h0M43.4 185.7h0M28.6 194.0h0M38.2 203.9h0M29.2 192.8h0M42.1 199.4h0M41.7 186.5h0M47.0 217.2h0M28.7 208.3h0M33.0 221.1h0M52.1 181.1h0M34.2 207.0h0M27.5 193.1h0M56.0 196.0h0M51.6 199.1h0M35.4 182.8h0M25.4 192.2h0M60.2 175.7h0M34.0 184.4h0M39.1 190.1h0M29.0 192.4h0M11.3 195.6h0M18.5 208.4h0M42.4 201.9h0M34.8 186.0h0M29.8 196.3h0M20.2 206.6h0M15.8 206.2h0M28.1 195.5h0M19.8 215.2h0M49.9 201.6h0M52.4 198.6h0M70.1 181.1h0M54.2 211.5h0M34.5 218.1h0M22.4 201.3h0M32.3 213.4h0M29.6 193.8h0M48.9 197.3h0M43.0 196.4h0M39.7 190.1h0M36.8 196.3h0M37.1 182.1h0M51.2 186.3h0M13.5 188.7h0M38.4 221.9h0M23.5 220.8h0M60.5 200.6h0M52.7 194.5h0M48.6 203.7h0M24.9 217.6h0M41.3 207.3h0M35.7 208.9h0M32.4 191.2h0M34.4 204.4h0M39.5 191.9h0M25.3 191.7h0M41.3 184.7h0M39.8 201.8h0M35.5 210.3h0M28.1 188.4h0M36.4 217.2h0M51.2 207.4h0M30.0 197.9h0M36.9 193.8h0M29.7 201.2h0M20.1 216.8h0M45.0 190.9h0M17.1 196.3h0M45.0 198.5h0M32.0 179.3h0M14.6 210.5h0M27.7 215.1h0M29.7 205.2h0M27.7 211.1h0M22.0 210.8h0M47.3 201.4h0M32.5 202.2h0M36.6 190.1h0M28.6 200.1h0M38.6 197.1h0M30.5 214.8h0M41.2 213.7h0M44.1 199.7h0M32.5 192.8h0M26.3 195.9h0M20.5 204.3h0M42.7 210.5h0M40.7 200.3h0M31.5 200.6h0M22.2 197.5h0M45.4 203.9h0M67.7 187.3h0M31.0 200.9h0M39.7 198.4h0M46.6 211.8h0M1.8 213.3h0M43.4 213.3h0M31.0 214.4h0M52.8 191.8h0M35.3 208.6h0M24.6 203.0h0M28.9 193.7h0M36.0 196.2h0M24.3 195.0h0M36.4 204.2h0M17.9 207.6h0M34.4 205.7h0M48.2 202.0h0M47.5 161.0h0M45.2 198.0h0M31.2 182.4h0M50.7 193.9h0M44.4 185.9h0M56.5 190.6h0M54.2 204.9h0M26.6 185.5h0M39.0 199.6h0M37.0 197.8h0M31.2 181.4h0M40.1 203.9h0M25.2 204.4h0M6.3 207.6h0M23.6 197.3h0M34.3 195.7h0M27.8 184.0h0M10.0 201.4h0M42.3 192.3h0M44.5 191.1h0M35.9 198.3h0M52.0 180.6h0M60.9 193.1h0M17.8 202.5h0M42.7 181.7h0M37.3 189.9h0M38.8 193.7h0M50.3 201.3h0M27.8 207.9h0M26.1 200.1h0M24.6 204.6h0M26.3 205.8h0M41.9 217.6h0M14.1 202.8h0M23.6 209.7h0M45.2 202.3h0M30.3 191.7h0M40.6 198.9h0M11.7 212.1h0M23.2 200.1h0M30.2 207.7h0M39.5 208.2h0M32.1 212.7h0M46.1 192.3h0M35.0 201.5h0M44.7 219.6h0M30.7 189.9h0M44.9 197.2h0M32.6 210.0h0M49.8 194.2h0M43.5 202.4h0M37.6 200.1h0M38.6 205.7h0M46.8 207.5h0M47.0 191.6h0M47.8 195.6h0M39.5 196.8h0M44.5 190.8h0M36.4 198.6h0M46.3 182.3h0M37.7 206.1h0M15.5 226.4h0M58.8 206.3h0M41.5 209.8h0M16.3 198.1h0M38.6 213.8h0M20.9 198.6h0M61.4 186.6h0M48.7 212.5h0M10.8 199.6h0M45.3 203.5h0M31.1 204.3h0M58.7 186.8h0M18.1 198.2h0M8.2 216.4h0M34.0 195.1h0M34.8 210.6h0M34.6 212.5h0M2.3 200.3h0M38.4 192.6h0M55.0 186.9h0M6.0 200.6h0M45.4 182.9h0M28.1 203.6h0M64.0 183.8h0M33.9 182.7h0M30.5 196.0h0M51.1 197.4h0M36.8 186.0h0M23.8 195.1h0M50.4 209.0h0M33.8 213.9h0M5.8 196.1h0M55.4 175.8h0M32.1 204.8h0M22.5 192.8h0M38.3 195.3h0M13.4 204.8h0M20.1 212.3h0M18.5 180.7h0M19.6 183.6h0M31.0 188.5h0M53.3 201.6h0M28.4 201.0h0M34.4 181.9h0M44.6 200.2h0M24.1 212.0h0M36.9 196.0h0M21.7 202.2h0M50.3 197.0h0M45.6 207.2h0M35.8 200.7h0M20.1 212.0h0M36.3 198.4h0M23.7 200.8h0M40.3 187.4h0M34.5 202.4h0M23.5 201.7h0M45.8 191.9h0M47.9 203.2h0M29.4 207.2h0M53.2 200.1h0M24.9 187.7h0M33.3 206.1h0M34.2 193.7h0M22.2 197.0h0M26.0 194.8h0M37.8 210.9h0M57.7 197.6h0M51.1 184.5h0M27.1 191.2h0M55.5 190.1h0M32.6 195.8h0M46.5 211.5h0M40.3 181.7h0M31.4 182.0h0M64.6 183.0h0M38.1 198.2h0M20.3 207.7h0M54.6 198.3h0M38.1 219.8h0M29.8 198.4h0M40.6 178.4h0M46.4 196.8h0M48.6 202.1h0M46.4 191.5h0M61.2 199.7h0M34.5 200.0h0M53.0 207.0h0M26.9 206.8h0M26.3 192.5h0M45.9 187.8h0M33.8 184.0h0M11.1 192.4h0M40.7 199.7h0M36.2 208.1h0M32.5 221.2h0M40.3 196.5h0M28.9 199.9h0M10.6 199.2h0M24.9 214.6h0M59.0 192.4h0M13.4 203.3h0M40.6 204.1h0M45.0 200.7h0M35.6 179.6h0M22.4 213.1h0M31.5 202.6h0M35.2 195.3h0M43.5 191.2h0M33.8 218.4h0M26.4 219.6h0M55.1 209.3h0M44.4 183.1h0M37.1 191.7h0M30.9 210.9h0M35.3 186.7h0M33.5 192.7h0M38.4 179.0h0M26.6 222.8h0M40.7 208.0h0M34.8 204.4h0M21.8 208.0h0M36.1 194.6h0M33.8 195.9h0M32.3 207.2h0M37.2 191.0h0M21.9 218.5h0M32.3 195.6h0M37.0 189.4h0M43.8 209.0h0M48.1 191.9h0M22.0 211.4h0M14.2 204.8h0M29.0 178.7h0M43.0 201.5h0M56.5 175.4h0M47.2 205.2h0M17.7 191.3h0M37.7 178.7h0M25.5 207.2h0M17.9 212.0h0M68.5 185.0h0M34.3 187.1h0M47.6 202.9h0M36.3 183.6h0M56.1 184.8h0M35.4 191.0h0M48.9 189.0h0M25.4 212.9h0M14.8 202.3h0M55.4 195.9h0M56.5 196.8h0M34.6 181.7h0M33.2 188.1h0M35.6 195.2h0M23.9 198.5h0M55.8 193.0h0M35.6 179.0h0M44.3 202.7h0M42.8 203.7h0M47.6 191.9h0M35.9 184.6h0M44.5 195.1h0M18.0 201.8h0M43.7 201.4h0M62.4 185.8h0M31.3 208.8h0M31.6 196.5h0M52.1 206.6h0M37.9 174.0h0M38.8 187.1h0M16.4 213.3h0M35.3 183.5h0M22.9 212.8h0M19.7 193.9h0M42.3 197.1h0M27.6 193.4h0M43.5 190.9h0M75.6 182.4h0M44.4 194.0h0M42.6 191.9h0M32.3 223.3h0M26.9 203.4h0M17.6 197.4h0M32.0 210.6h0M24.4 213.0h0M31.5 213.9h0M39.5 216.1h0M18.5 197.3h0M21.2 217.0h0M22.3 217.4h0M40.8 196.8h0M36.7 201.3h0M36.0 167.6h0M45.9 188.4h0M37.9 216.9h0M36.3 180.2h0M14.6 203.4h0M65.1 188.5h0M52.5 197.4h0M38.8 214.8h0M13.2 191.2h0M40.0 197.6h0M14.7 218.0h0M19.8 192.8h0M44.3 194.7h0M43.5 215.3h0M34.1 213.7h0M49.2 198.5h0M11.3 183.1h0M38.1 196.7h0M30.2 205.8h0M23.0 201.9h0M40.6 196.2h0M58.3 186.4h0M23.7 194.6h0M61.2 189.8h0M19.9 203.3h0M41.4 193.2h0M19.4 205.8h0M21.1 214.1h0M38.0 200.6h0M38.8 185.1h0M18.3 205.9h0M51.9 196.6h0M23.0 200.2h0M41.3 208.6h0M42.9 203.9h0M38.6 187.5h0M13.5 212.9h0M63.5 207.0h0M48.4 209.6h0M29.4 201.5h0M25.6 213.3h0M10.8 203.7h0M11.9 195.1h0M44.1 201.0h0M31.7 203.6h0M22.7 210.6h0M28.2 202.4h0M56.2 193.1h0M28.7 197.0h0M29.5 207.0h0M55.5 198.7h0M40.6 196.3h0M38.8 206.2h0M20.2 187.8h0M12.1 201.9h0M25.9 218.9h0M36.0 217.5h0M33.2 203.0h0M39.1 196.5h0M36.9 185.3h0M39.3 201.3h0M40.9 204.9h0M16.3 192.7h0M9.9 217.1h0M30.4 206.8h0M24.7 208.9h0M22.2 193.7h0M33.7 205.8h0M13.2 194.0h0M26.9 218.9h0M34.3 201.3h0M31.8 188.8h0M32.1 215.0h0M46.0 206.5h0M29.6 195.2h0M30.9 224.5h0M31.5 190.6h0M60.1 191.1h0M31.2 213.7h0M40.7 173.1h0M56.5 200.0h0M53.7 190.1h0M24.5 204.2h0M56.2 178.3h0M37.8 201.7h0M27.3 191.4h0M28.2 192.5h0M40.8 192.1h0M30.7 188.6h0M39.1 214.1h0M46.0 180.5h0M22.8 197.3h0M20.5 202.9h0M45.1 194.8h0M47.1 202.2h0M52.2 200.1h0M20.2 203.2h0M47.2 189.8h0M41.3 196.9h0M60.7 196.1h0M22.0 212.9h0M35.7 193.8h0M23.2 183.4h0M23.4 227.4h0M29.7 211.9h0M50.4 195.1h0M30.4 205.2h0M23.7 199.3h0M42.0 185.7h0" stroke="#f00" stroke-width="1.05" stroke-linecap="square" fill="none"/>
<rect x="0.5" y="203.6" width="24" height="25" fill="#fff" opacity="0.82"/>
</svg>
<rect x="79.5" y="1036.4" width="231.2" height="230.6" fill="none" stroke="#7a7a7a" stroke-width="1"/>
<line x1="157.2" y1="1036.4" x2="157.2" y2="1267.0" stroke="#111" stroke-width="1.6"/>
<line x1="79.5" y1="1181.6" x2="310.7" y2="1181.6" stroke="#111" stroke-width="1.6"/>
<path d="M73.5 1058.3H79.5M73.5 1110.7H79.5M73.5 1165.0H79.5M73.5 1220.0H79.5M76.7 1042.2H79.5M76.7 1094.6H79.5M76.7 1085.2H79.5M76.7 1078.5H79.5M76.7 1073.3H79.5M76.7 1069.1H79.5M76.7 1065.5H79.5M76.7 1062.4H79.5M76.7 1059.6H79.5M76.7 1148.9H79.5M76.7 1139.5H79.5M76.7 1132.8H79.5M76.7 1127.6H79.5M76.7 1123.4H79.5M76.7 1119.8H79.5M76.7 1116.7H79.5M76.7 1113.9H79.5M76.7 1203.9H79.5M76.7 1194.5H79.5M76.7 1187.8H79.5M76.7 1182.6H79.5M76.7 1178.4H79.5M76.7 1174.8H79.5M76.7 1171.7H79.5M76.7 1168.9H79.5M76.7 1228.4H79.5M76.7 1234.4H79.5M76.7 1239.4H79.5M76.7 1244.4H79.5M76.7 1249.4H79.5M76.7 1254.4H79.5M76.7 1259.4H79.5M76.7 1264.4H79.5" stroke="#222" stroke-width="1" fill="none"/>
<path d="M73.5 1058.3H79.5M73.5 1110.7H79.5M73.5 1165.0H79.5M73.5 1220.0H79.5M73.5 1265.9H79.5M75.5 1240.4H79.5M75.5 1242.4H79.5" stroke="#111" stroke-width="1.8" fill="none"/>
<path d="M183.3 1267.0v5M235.4 1267.0v5M288.0 1267.0v5M144.1 1267.0v2.8M153.3 1267.0v2.8M159.9 1267.0v2.8M165.0 1267.0v2.8M169.2 1267.0v2.8M172.7 1267.0v2.8M175.7 1267.0v2.8M178.4 1267.0v2.8M199.1 1267.0v2.8M208.3 1267.0v2.8M214.9 1267.0v2.8M220.0 1267.0v2.8M224.2 1267.0v2.8M227.7 1267.0v2.8M230.7 1267.0v2.8M233.4 1267.0v2.8M251.2 1267.0v2.8M260.4 1267.0v2.8M267.0 1267.0v2.8M272.1 1267.0v2.8M276.3 1267.0v2.8M279.8 1267.0v2.8M282.8 1267.0v2.8M285.5 1267.0v2.8M82.5 1267.0v2.8M87.5 1267.0v2.8M92.5 1267.0v2.8M97.5 1267.0v2.8M102.5 1267.0v2.8M107.5 1267.0v2.8M112.5 1267.0v2.8M117.5 1267.0v2.8M122.5 1267.0v2.8M300.5 1267.0v2.8" stroke="#222" stroke-width="1" fill="none"/>
<path d="M128.3 1267.0v6M183.3 1267.0v5.5M235.4 1267.0v5.5M288.0 1267.0v5.5M91.5 1267.0v5M93.5 1267.0v5M95.5 1267.0v5M98.0 1267.0v5M100.5 1267.0v5" stroke="#111" stroke-width="1.6" fill="none"/>
<g font-family='"Liberation Sans", Arial, sans-serif' font-size="8.2" fill="#222"><text x="51.0" y="1057.5">10<tspan font-size="7.6" dy="-5">5</tspan></text><text x="51.0" y="1109.9">10<tspan font-size="7.6" dy="-5">4</tspan></text><text x="51.0" y="1164.2">10<tspan font-size="7.6" dy="-5">3</tspan></text><text x="51.0" y="1219.2">10<tspan font-size="7.6" dy="-5">2</tspan></text><text x="55.0" y="1240.9">0</text><text x="44.0" y="1262.4">-10<tspan font-size="7.6" dy="-5">2</tspan></text><text x="91.0" y="1282.0">0</text><text x="179.3" y="1282.0">10<tspan font-size="7.6" dy="-5">3</tspan></text><text x="231.4" y="1282.0">10<tspan font-size="7.6" dy="-5">4</tspan></text><text x="284.0" y="1282.0">10<tspan font-size="7.6" dy="-5">5</tspan></text></g>
<text x="82.4" y="1055.7" font-size="16.8" text-anchor="start" font-weight="normal" fill="#000" font-family='"Liberation Sans", Arial, sans-serif' textLength="35.2" lengthAdjust="spacingAndGlyphs">0.85</text>
<text x="290.4" y="1055.7" font-size="16.8" text-anchor="end" font-weight="normal" fill="#000" font-family='"Liberation Sans", Arial, sans-serif' textLength="35.2" lengthAdjust="spacingAndGlyphs">6.58</text>
<text x="84.2" y="1253.8" font-size="16.8" text-anchor="start" font-weight="normal" fill="#000" font-family='"Liberation Sans", Arial, sans-serif' textLength="35.2" lengthAdjust="spacingAndGlyphs">90.0</text>
<text x="295.6" y="1251.5" font-size="16.8" text-anchor="end" font-weight="normal" fill="#000" font-family='"Liberation Sans", Arial, sans-serif' textLength="35.2" lengthAdjust="spacingAndGlyphs">2.57</text>
<svg x="389.4" y="1036.4" width="231.2" height="230.6" overflow="hidden">
<ellipse cx="36.5" cy="201" rx="21" ry="13.5" transform="rotate(-25 36.5 201)" fill="#f00" opacity="1.0" filter="url(#soft2)"/>
<path d="M36.9 195.1h0M63.0 197.8h0M59.7 194.5h0M13.5 185.0h0M37.1 193.6h0M27.3 175.7h0M29.8 207.1h0M18.7 220.9h0M2.2 204.8h0M46.5 217.8h0M34.0 181.2h0M67.2 191.3h0M49.8 202.5h0M31.7 190.3h0M40.7 197.9h0M39.5 202.4h0M18.5 227.3h0M23.1 193.0h0M42.1 200.9h0M19.7 198.1h0M27.4 219.8h0M23.6 210.6h0M28.4 199.6h0M45.7 210.6h0M51.5 197.4h0M19.6 198.1h0M39.5 183.5h0M27.4 189.0h0M53.5 193.1h0M50.0 177.9h0M30.2 186.7h0M24.6 191.2h0M40.9 203.4h0M37.0 187.1h0M21.2 215.0h0M34.3 210.0h0M46.3 175.2h0M64.4 188.5h0M36.4 204.2h0M40.0 190.6h0M50.2 207.6h0M35.8 197.9h0M41.9 189.6h0M42.0 181.0h0M30.7 203.6h0M50.8 199.9h0M40.1 183.5h0M13.4 188.3h0M38.0 186.2h0M75.2 172.1h0M29.2 204.0h0M42.8 196.3h0M47.1 173.5h0M42.2 179.6h0M14.6 204.3h0M45.4 194.0h0M39.5 198.9h0M30.9 206.2h0M74.2 165.5h0M39.2 212.2h0M51.7 181.0h0M33.6 173.6h0M23.1 198.2h0M18.4 210.4h0M34.7 222.2h0M42.3 216.7h0M40.7 221.2h0M64.3 189.6h0M51.1 176.5h0M19.6 229.5h0M50.1 209.1h0M22.2 209.8h0M70.1 198.9h0M41.5 190.6h0M63.9 180.4h0M74.6 180.4h0M62.6 179.6h0M17.2 206.0h0M19.5 197.6h0M27.1 215.9h0M52.0 205.3h0M39.6 199.3h0M35.0 222.3h0M79.6 176.2h0M37.7 209.2h0M34.1 205.0h0M22.8 213.4h0M43.4 211.6h0M32.3 209.8h0M43.3 179.4h0M51.8 204.3h0M54.5 201.0h0M37.2 208.9h0M64.9 199.6h0M27.4 189.7h0M34.6 205.2h0M61.1 195.4h0M55.1 176.7h0M56.5 181.6h0M32.5 220.9h0M26.9 203.5h0M33.3 192.6h0M55.8 195.4h0M59.6 184.3h0M20.6 202.4h0M61.9 183.4h0M29.2 203.2h0M25.9 195.9h0M55.6 196.3h0M27.7 212.9h0M72.8 180.8h0M33.5 196.9h0M26.8 178.3h0M62.0 204.8h0M41.7 197.9h0M31.0 204.1h0M54.5 182.1h0M59.4 213.1h0M25.0 219.5h0M22.3 207.3h0M57.3 194.8h0M82.2 191.6h0M28.9 203.3h0M62.0 175.7h0M15.7 208.4h0M42.1 204.6h0M43.0 197.4h0M40.7 198.8h0M40.8 213.4h0M32.7 206.5h0M15.4 192.5h0M67.8 185.5h0M27.9 217.2h0M22.3 178.6h0M63.8 197.9h0M16.3 179.9h0M27.6 225.0h0M28.4 205.6h0M38.4 194.3h0M36.6 201.3h0M41.7 201.4h0M62.8 176.7h0M38.8 199.6h0M37.4 190.9h0M43.2 206.0h0M42.3 200.2h0M48.8 214.7h0M37.5 213.5h0M1.9 193.9h0M76.1 201.6h0M12.5 201.9h0M59.7 186.0h0M15.1 215.6h0M35.5 187.9h0M24.3 205.5h0M38.7 196.5h0M53.4 174.5h0M36.9 205.2h0M76.0 164.3h0M3.4 217.1h0M19.2 213.7h0M41.8 198.9h0M8.3 196.8h0M42.3 177.4h0M48.5 196.9h0M35.5 222.0h0M27.7 215.4h0M45.0 188.1h0M42.6 204.3h0M65.8 203.4h0M60.6 195.4h0M40.3 210.6h0M27.7 211.5h0M38.7 184.6h0M37.6 204.2h0M69.5 198.2h0M31.5 206.7h0M44.9 154.9h0M18.3 169.2h0M42.8 220.2h0M79.1 199.3h0M22.7 211.6h0M25.0 195.0h0M74.4 168.3h0M49.5 163.7h0M47.5 212.4h0M66.1 192.2h0M32.9 215.2h0M64.3 185.5h0M35.1 185.4h0M18.7 194.8h0M48.1 167.6h0M66.4 183.0h0M33.1 193.3h0M56.5 187.2h0M34.0 211.6h0M59.5 192.5h0M67.7 169.1h0M53.3 191.9h0M39.7 201.6h0M36.2 220.4h0M52.1 185.3h0M80.5 190.3h0M59.7 197.6h0M68.4 188.4h0M19.1 201.0h0M8.2 195.5h0M40.7 192.0h0M24.3 203.3h0M14.6 207.0h0M33.8 190.8h0M49.9 206.0h0M32.1 189.9h0M31.9 202.9h0M59.3 212.0h0M23.4 198.7h0M68.3 173.7h0M29.7 182.8h0M16.7 206.3h0M16.3 196.4h0M46.0 193.8h0M48.5 208.5h0M46.8 199.6h0M30.6 177.0h0M55.4 191.6h0M26.7 170.3h0M8.8 193.3h0M48.9 183.7h0M18.7 203.3h0M55.5 211.9h0M61.4 190.0h0M51.6 195.9h0M34.6 210.2h0M37.6 187.9h0M30.2 189.4h0M29.3 196.9h0M10.6 186.6h0M49.3 206.7h0M52.8 175.6h0M65.3 190.7h0M50.3 215.3h0M12.4 214.9h0M18.9 206.9h0M44.3 199.7h0M33.3 194.2h0M68.0 181.3h0M45.6 213.7h0M36.4 184.9h0M31.9 201.8h0M73.1 180.7h0M36.0 187.9h0M44.3 187.3h0M35.5 173.1h0M5.6 210.6h0M8.6 218.2h0M42.9 185.7h0M17.8 216.3h0M15.1 205.8h0M50.5 193.9h0M20.8 191.6h0M6.4 198.6h0M24.4 195.9h0M25.9 201.1h0M23.0 195.5h0M46.4 209.1h0M59.7 199.5h0M34.4 192.8h0M37.4 192.1h0M45.2 196.4h0M36.5 200.9h0M18.2 221.7h0M68.5 202.5h0M38.1 209.9h0M48.5 194.0h0M12.2 210.5h0M47.0 203.5h0M27.8 195.5h0M49.2 209.2h0M61.9 191.7h0M56.4 170.4h0M19.7 225.8h0M51.8 202.0h0M46.1 211.9h0M26.2 200.3h0M72.0 170.3h0M27.5 182.2h0M6.1 222.8h0M7.2 197.4h0M33.2 189.7h0M58.4 188.6h0M41.0 195.0h0M15.9 201.2h0M10.0 206.9h0M56.9 181.9h0M69.7 175.9h0M18.6 195.0h0M41.2 207.4h0M40.2 196.1h0M53.5 191.8h0M45.6 188.4h0M32.3 210.3h0M31.5 182.7h0M19.7 202.8h0M43.9 206.4h0M50.3 197.6h0M12.2 196.7h0M63.1 188.0h0M19.5 216.0h0M82.3 197.4h0M52.7 183.2h0M12.4 198.6h0M46.3 194.4h0M52.8 186.6h0M56.8 191.2h0M32.8 184.7h0M21.2 192.2h0M34.2 187.4h0M29.5 213.0h0M72.9 180.6h0M36.1 209.5h0M65.9 207.0h0M54.5 176.0h0M47.9 208.6h0M28.6 191.4h0M12.4 210.4h0M17.3 218.2h0M1.8 200.0h0M41.0 213.9h0M24.5 216.4h0M18.9 206.1h0M43.0 213.2h0M29.0 192.7h0M18.5 216.0h0M7.0 198.8h0M70.1 177.7h0M2.9 202.2h0M23.1 196.8h0M46.8 207.2h0M32.9 178.2h0M57.5 183.5h0M44.5 211.7h0M30.6 212.2h0M65.6 181.5h0M41.3 198.1h0M41.9 201.7h0M43.9 182.7h0M38.0 194.2h0M79.5 188.4h0M22.4 228.0h0M42.6 196.5h0M74.5 199.5h0M16.2 220.2h0M22.3 188.2h0M43.4 204.8h0M28.3 185.8h0M27.4 192.5h0M16.1 215.9h0M34.4 202.4h0M33.0 205.8h0M22.3 219.3h0M35.4 196.1h0M16.9 196.2h0M40.1 198.6h0M19.6 203.1h0M41.0 180.2h0M10.3 219.5h0M42.3 198.6h0M45.3 195.1h0M25.1 203.8h0M31.7 208.0h0M39.0 178.6h0M68.9 196.2h0M37.6 194.3h0M32.1 192.6h0M33.3 163.2h0M4.3 213.5h0M26.2 215.8h0M36.4 179.3h0M68.2 174.5h0M44.1 190.9h0M54.9 182.6h0M27.2 205.0h0M80.9 181.8h0M28.3 192.4h0M28.8 204.6h0M46.4 197.5h0M15.8 184.1h0M42.7 198.7h0M57.6 206.3h0M63.9 168.6h0M79.6 171.8h0M70.7 207.6h0M59.4 190.3h0M47.7 210.3h0M31.0 193.8h0M65.2 190.6h0M40.8 189.0h0M48.0 192.0h0M53.5 210.3h0M72.1 200.8h0M19.5 197.5h0M29.1 225.3h0M31.2 207.9h0M4.9 217.0h0M46.7 198.1h0M28.6 203.1h0M49.6 190.3h0M47.1 182.9h0M15.4 188.7h0M39.2 183.4h0M17.3 205.1h0M32.0 201.1h0M17.1 197.7h0M3.5 202.1h0M48.3 180.7h0M31.2 191.6h0M36.9 208.5h0M58.1 216.5h0M56.9 202.3h0M31.1 210.4h0M52.5 192.5h0M34.8 191.7h0M28.7 202.4h0M37.4 203.7h0M29.0 180.8h0M71.4 180.0h0M42.5 202.9h0M76.7 215.0h0M49.1 183.4h0M43.3 210.3h0M52.2 209.1h0M32.4 213.0h0M38.2 223.5h0M57.3 170.4h0M68.4 172.3h0M75.0 171.4h0M69.4 169.2h0M66.6 173.4h0M58.4 173.8h0M71.4 174.4h0M70.9 164.9h0M71.6 165.6h0M65.1 181.9h0M73.9 165.5h0M68.4 160.4h0M54.1 186.8h0M59.2 182.6h0M56.2 168.6h0M66.2 170.9h0M70.3 156.7h0M69.9 174.0h0M58.5 164.6h0M64.1 174.4h0M74.2 164.7h0M77.4 160.4h0M77.9 177.9h0M70.5 169.8h0M69.2 169.7h0M63.6 172.0h0M70.4 177.5h0M63.5 164.0h0M66.4 172.5h0M74.0 167.8h0M70.7 166.4h0M57.7 176.5h0M67.2 163.0h0M70.5 165.7h0M74.5 164.3h0M63.6 169.4h0M67.0 171.4h0M63.9 173.1h0M72.1 163.8h0M74.8 173.1h0M70.3 165.3h0M66.7 169.0h0M67.9 162.4h0M73.4 168.0h0M77.1 166.2h0M74.4 164.8h0M61.0 173.9h0M69.8 168.6h0M74.3 175.7h0M67.7 177.5h0M67.6 177.4h0M74.3 166.6h0M69.4 169.8h0M79.8 171.6h0M65.9 174.9h0M72.7 161.3h0M59.4 170.9h0M66.5 163.8h0M58.9 168.7h0M70.8 167.7h0M68.2 173.1h0M73.0 173.8h0M69.2 173.2h0M63.8 167.4h0M58.6 195.4h0M67.4 172.4h0M67.7 172.8h0M75.0 162.0h0M74.5 161.2h0M65.8 170.9h0M62.5 175.3h0M73.0 171.9h0M69.2 162.9h0M73.5 162.3h0M70.3 166.9h0M62.3 164.7h0M73.0 159.3h0M49.5 178.4h0M71.8 167.9h0M65.2 178.6h0M63.3 168.1h0M70.7 180.6h0M70.1 171.4h0M66.2 170.2h0M55.8 178.7h0M84.5 162.2h0M67.3 170.1h0M61.2 176.1h0M70.6 160.3h0M66.6 173.2h0M61.9 172.6h0M71.4 165.0h0M75.8 155.1h0M69.2 170.3h0M70.2 169.8h0M73.4 169.2h0M68.8 163.1h0M77.2 177.3h0M61.4 154.4h0M73.4 168.6h0M120.8 100.5h0M128.3 106.7h0M100.1 105.8h0M106.6 109.6h0M86.0 97.0h0M138.0 104.3h0M107.5 105.5h0M88.0 100.3h0M70.8 110.7h0M110.0 93.4h0M95.7 104.0h0M92.3 98.2h0M116.1 97.9h0M104.5 95.5h0M126.0 108.3h0M114.3 98.2h0M102.8 99.6h0M113.9 97.6h0M121.4 105.9h0M129.9 87.5h0M117.6 98.2h0M118.2 103.4h0M103.3 99.5h0M119.9 95.4h0M89.8 93.7h0M112.5 105.3h0M118.6 89.6h0M99.6 98.8h0M97.5 89.7h0M137.4 96.5h0M108.9 102.9h0M113.3 101.1h0M104.4 93.2h0M110.7 99.2h0M95.9 102.2h0M97.8 100.5h0M99.2 102.5h0M116.1 98.1h0M112.2 104.6h0M143.2 97.4h0M115.6 93.4h0M90.9 96.7h0M126.9 104.3h0M115.0 91.9h0M137.3 93.4h0M120.8 98.8h0M127.0 102.9h0M122.0 105.0h0M131.4 89.1h0M108.0 86.5h0M121.2 100.8h0M124.9 101.8h0M87.9 97.5h0M119.2 113.8h0M109.8 75.2h0M80.5 99.6h0M85.8 114.3h0M138.6 104.2h0M106.5 102.6h0M94.8 100.2h0M127.8 100.8h0M128.7 103.1h0M107.0 100.1h0M100.2 92.4h0M97.1 101.8h0M108.9 99.6h0M96.4 101.6h0M135.3 108.7h0M123.2 96.2h0M136.8 91.2h0M109.7 95.1h0M146.0 105.8h0M99.8 90.1h0M84.3 101.6h0M118.4 107.7h0M123.5 103.1h0M103.3 106.4h0M106.4 97.8h0M123.0 103.2h0M105.2 103.4h0M102.4 92.7h0M123.2 95.3h0M95.0 96.6h0M98.9 95.8h0M113.5 99.0h0M118.4 102.5h0M136.9 104.5h0M89.0 98.8h0M111.5 105.1h0M111.7 87.8h0M108.6 111.2h0M119.1 97.9h0M114.3 109.1h0M94.0 103.9h0M126.1 97.0h0M102.1 105.6h0M133.4 101.8h0M96.6 106.1h0M124.1 115.4h0M106.6 93.8h0M105.5 96.9h0M134.1 92.0h0M120.5 104.9h0M108.8 89.8h0M134.8 97.5h0M104.5 97.7h0M113.2 86.7h0M123.6 102.1h0M114.9 113.6h0M109.3 109.6h0M118.1 91.5h0M108.0 100.4h0M107.2 86.7h0M80.4 95.1h0M144.5 96.4h0M110.8 93.4h0M108.3 97.4h0M144.5 108.1h0M116.6 91.1h0M111.3 93.4h0M135.9 94.4h0M131.9 96.3h0M101.1 108.0h0M121.9 89.8h0M132.7 104.5h0M130.4 105.8h0M125.7 108.0h0M85.0 77.4h0M102.2 94.4h0M111.3 95.3h0M119.7 99.7h0M107.1 95.8h0M101.2 99.9h0M114.9 96.7h0M161.2 95.6h0M114.4 110.8h0M125.4 96.7h0M127.2 103.9h0M127.4 92.1h0M113.8 99.8h0M146.6 104.7h0M90.7 96.8h0M99.2 104.4h0M118.0 95.0h0M122.7 101.2h0M130.5 92.6h0M122.1 85.7h0M100.0 94.5h0M108.6 113.6h0M111.5 99.2h0M115.6 102.0h0M126.0 109.0h0M98.9 99.9h0M102.0 98.2h0M114.8 94.3h0M100.8 102.6h0M132.2 101.5h0M99.5 96.8h0M104.9 94.3h0M117.5 104.1h0M83.7 95.5h0M153.0 84.9h0M93.7 105.9h0M111.6 84.7h0M105.5 96.7h0M95.5 103.5h0M91.9 90.5h0M107.0 101.9h0M132.1 96.2h0M132.2 107.4h0M99.8 111.8h0M116.5 111.9h0M75.4 106.2h0M109.0 99.7h0M105.3 97.6h0M104.4 95.4h0M133.0 79.8h0M116.3 86.6h0M114.7 85.5h0M118.4 100.9h0M115.5 108.6h0M125.2 92.0h0M113.7 103.4h0M117.9 100.1h0M102.3 96.8h0M112.1 101.3h0M115.6 100.5h0M102.4 106.8h0M146.7 105.2h0M125.6 101.7h0M114.2 94.5h0M103.5 107.7h0M125.2 101.9h0M115.3 88.4h0M105.7 102.7h0M100.5 98.0h0M112.2 111.5h0M146.6 113.9h0M94.7 100.6h0M117.8 97.0h0M130.9 104.3h0M122.3 102.7h0M126.3 95.0h0M137.5 99.9h0M118.7 100.9h0M112.1 98.1h0M116.8 102.9h0M140.6 95.0h0M125.4 105.2h0M117.5 111.2h0M92.6 103.8h0M123.6 103.6h0M116.8 110.8h0M119.0 91.1h0M112.3 101.5h0M122.0 103.9h0M121.5 100.7h0M112.6 107.4h0M121.7 98.4h0M102.4 99.5h0M103.8 103.6h0M115.9 116.5h0M113.1 88.7h0M109.3 97.0h0M138.4 103.7h0M122.2 95.7h0M123.5 100.2h0M104.8 96.9h0M100.9 102.7h0M161.1 106.1h0M104.9 102.2h0M94.5 106.1h0M107.6 101.2h0M127.1 105.5h0M142.9 104.4h0M136.0 100.9h0M120.2 101.5h0M80.7 88.5h0M100.7 109.8h0M110.2 101.0h0M112.8 93.9h0M107.8 107.1h0M140.4 110.4h0M126.5 95.1h0M122.6 112.6h0M127.1 101.9h0M120.9 102.5h0M95.2 116.3h0M94.7 109.0h0M126.2 95.6h0M119.7 99.0h0M120.2 107.5h0M132.8 98.3h0M103.5 106.9h0M101.7 100.6h0M119.6 104.2h0M126.7 105.8h0M118.4 92.7h0M102.4 114.7h0M100.3 88.0h0M139.6 108.1h0M132.1 104.6h0M111.5 112.0h0M124.2 101.5h0M90.2 99.6h0M107.4 96.3h0M105.5 107.3h0M109.4 102.5h0M128.7 89.3h0M108.8 107.0h0M136.0 96.6h0M80.0 104.2h0M79.1 102.5h0M133.5 105.7h0M127.7 95.2h0M107.8 97.2h0M162.5 110.1h0M106.6 91.2h0M120.9 104.6h0M96.0 109.2h0M97.9 91.6h0M116.0 107.5h0M109.4 89.0h0M134.1 98.9h0M113.0 96.5h0M119.8 96.0h0M116.8 107.3h0M138.1 86.5h0M133.3 95.5h0M139.1 100.0h0M112.0 101.7h0M94.1 99.2h0M132.4 98.9h0M87.6 96.7h0M114.0 89.3h0M100.8 110.1h0M106.3 102.6h0M110.4 81.9h0M111.3 99.4h0M117.0 99.5h0M128.1 99.6h0M119.5 100.1h0M114.3 100.6h0M115.2 108.3h0M96.3 99.9h0M107.9 114.6h0M136.6 94.5h0M130.5 96.0h0M90.1 99.1h0M95.2 101.7h0M107.8 85.2h0M114.8 96.4h0M104.5 100.5h0M112.7 100.3h0M111.1 103.9h0M93.3 111.0h0M116.4 103.9h0M108.2 99.7h0M97.2 94.4h0M125.8 115.0h0M112.1 93.6h0M114.4 100.0h0M105.7 92.4h0M127.2 102.4h0M105.6 95.2h0M106.1 93.1h0M118.1 105.2h0M105.9 103.1h0M105.7 106.0h0M120.0 95.5h0M120.2 101.3h0M116.8 91.7h0M133.2 80.4h0M92.6 90.6h0M101.9 94.0h0M97.1 88.6h0M83.6 96.6h0M105.1 90.6h0M105.6 98.0h0M96.9 106.4h0M134.5 107.1h0M102.5 105.1h0M122.6 106.5h0M103.0 108.6h0M103.0 92.8h0M118.6 100.9h0M124.4 102.9h0M136.6 109.8h0M122.6 114.5h0M99.4 95.8h0M116.6 97.1h0M134.3 103.0h0M105.9 90.2h0M130.3 95.0h0M123.2 105.2h0M114.9 106.9h0M130.6 98.1h0M106.6 93.3h0M128.7 90.8h0M122.7 106.6h0M120.9 111.5h0M125.6 95.1h0M114.4 101.3h0M140.1 99.9h0M156.6 101.6h0M140.2 100.4h0M100.0 99.4h0M97.7 102.6h0M118.0 96.4h0M101.1 101.8h0M118.6 102.6h0M120.6 112.7h0M110.1 112.8h0M106.3 99.5h0M110.0 96.4h0M103.6 102.8h0M101.8 95.9h0M130.5 98.5h0M100.1 102.5h0M105.3 104.0h0M138.8 98.1h0M156.1 91.0h0M90.8 105.3h0M73.5 105.3h0M115.5 115.9h0M130.0 107.2h0M151.7 105.2h0M102.2 88.1h0M87.7 93.6h0M83.6 99.2h0M119.6 100.7h0M82.8 95.5h0M100.7 109.1h0M94.2 83.1h0M167.3 83.0h0M136.4 93.3h0M91.1 100.1h0M155.6 100.3h0M140.0 99.3h0M86.1 112.3h0M148.8 92.6h0M76.6 90.3h0M109.3 105.4h0M144.0 93.8h0M117.4 83.2h0M114.6 92.0h0M100.6 116.9h0M100.0 97.9h0M120.0 103.7h0M38.8 111.6h0M137.6 70.2h0M180.0 97.8h0M141.8 101.3h0M72.4 81.6h0M135.7 72.4h0M86.2 85.9h0M94.2 104.1h0M112.8 125.3h0M144.2 83.9h0M137.4 131.2h0M124.4 119.5h0M94.1 92.3h0M128.9 111.3h0M157.5 115.5h0M138.5 125.0h0M114.9 92.6h0M131.3 81.0h0M115.1 108.7h0M113.1 100.0h0M87.2 90.6h0M57.3 100.6h0M40.4 98.1h0M151.5 125.5h0M137.7 96.9h0M145.7 106.3h0M70.7 108.2h0M157.4 118.4h0M88.7 94.5h0M67.0 107.1h0M128.3 122.8h0M98.0 89.1h0M136.1 99.2h0M99.2 87.7h0M120.4 103.4h0M146.8 90.1h0M112.5 79.8h0M120.6 91.8h0M69.2 107.9h0M144.7 107.7h0M47.9 96.4h0M107.8 118.5h0M149.1 134.3h0M77.1 100.7h0M137.9 88.2h0M149.0 107.0h0M5.9 112.2h0M101.5 98.3h0M110.2 94.1h0M93.1 100.8h0M73.4 91.6h0M88.2 96.5h0M81.4 116.0h0M133.9 114.2h0M63.7 89.1h0M101.8 99.3h0M76.1 84.9h0M50.7 93.2h0M140.2 124.3h0M180.0 88.7h0M139.8 113.3h0M116.8 118.3h0M83.9 89.0h0M119.7 109.9h0M125.5 113.8h0M121.5 107.2h0M47.4 81.2h0M140.2 103.7h0M116.0 118.8h0M151.7 115.9h0M119.0 91.0h0M147.7 109.2h0M55.8 110.6h0M112.2 87.8h0M141.3 91.3h0M135.6 101.0h0M120.1 103.1h0M45.3 108.3h0M104.7 112.2h0M109.7 117.9h0M75.4 104.2h0M111.8 142.9h0M76.8 87.6h0M151.6 119.2h0M85.5 123.6h0M169.9 119.4h0M59.8 75.4h0M112.9 105.7h0M77.5 108.8h0M113.8 87.1h0M132.6 85.6h0M168.2 106.4h0M148.1 105.8h0M92.0 91.8h0M107.8 111.0h0M110.1 94.2h0M129.2 93.9h0M131.1 99.2h0M158.0 116.0h0M176.9 78.7h0M101.5 96.0h0M91.9 107.1h0M140.9 135.5h0M124.0 103.9h0M146.6 105.5h0M113.8 116.6h0M104.0 91.4h0M62.8 98.8h0M132.2 103.4h0M65.8 110.4h0M107.4 117.5h0M134.3 87.4h0M117.6 78.9h0M126.5 100.5h0M121.3 110.8h0M133.6 91.8h0M79.4 104.3h0M132.3 103.1h0M99.5 97.7h0M48.7 117.5h0M119.5 94.2h0M139.9 101.8h0M169.8 72.6h0M132.3 95.1h0M121.4 119.4h0M99.7 107.2h0M80.3 95.1h0M103.6 98.6h0M94.3 95.0h0M114.0 110.2h0M145.8 87.5h0M99.6 113.4h0M135.0 104.3h0M155.6 99.3h0M110.1 128.0h0M108.8 98.2h0M146.3 106.9h0M83.6 89.7h0M124.1 111.3h0M169.5 86.5h0M123.4 108.3h0M43.1 113.3h0M109.9 122.5h0M104.4 83.8h0M141.7 101.6h0M152.3 64.8h0M78.3 91.6h0M83.8 115.5h0M135.4 88.8h0M105.7 84.4h0M107.9 85.4h0M103.0 113.2h0M121.0 94.8h0M141.0 111.2h0M144.1 82.7h0M97.0 74.1h0M188.9 98.5h0M75.1 110.1h0M84.5 122.6h0M84.9 109.8h0M99.6 105.2h0M110.8 96.8h0M98.2 74.0h0M111.6 129.5h0M111.2 106.8h0M51.5 109.1h0M97.2 97.8h0M120.3 105.8h0M118.4 97.3h0M101.3 124.0h0M95.3 93.4h0M83.6 93.9h0M95.3 72.7h0M88.9 113.1h0M158.9 114.0h0M44.4 92.6h0M125.7 93.0h0M166.0 105.2h0M147.7 104.2h0M113.6 98.9h0M127.2 85.7h0M149.6 83.0h0M167.1 100.9h0M90.9 88.5h0M153.6 117.7h0M124.7 87.2h0M115.8 101.3h0M154.7 114.6h0M116.2 97.2h0M58.3 133.5h0M126.4 115.7h0M95.9 75.6h0M94.2 86.6h0M112.8 86.9h0M71.0 94.3h0M97.1 97.0h0M91.3 88.4h0M106.5 104.5h0M126.5 87.3h0M99.4 80.4h0M106.1 89.1h0M171.3 123.1h0M78.1 85.0h0M48.0 81.7h0M89.9 83.4h0M96.9 112.2h0M99.4 140.1h0M135.2 123.4h0M116.5 93.2h0M59.3 130.6h0M140.9 95.9h0M145.9 125.4h0M122.0 117.8h0M155.6 120.0h0M93.1 108.7h0M76.1 93.0h0M94.2 87.1h0M153.5 96.5h0M108.0 111.2h0M133.0 86.3h0M93.1 111.1h0M157.4 106.3h0M79.9 107.7h0M117.5 112.8h0M107.8 72.7h0M109.0 128.4h0M125.2 97.9h0M127.2 92.3h0M90.1 100.1h0M97.5 97.7h0M140.3 106.0h0M124.1 88.4h0M122.3 103.0h0M105.3 116.1h0M94.4 102.8h0M89.4 91.6h0M101.6 84.7h0M143.2 103.3h0M122.2 98.5h0M123.1 109.7h0M51.5 85.0h0M155.8 112.1h0M81.7 98.1h0M120.8 99.3h0M132.1 107.0h0M84.2 88.3h0M143.1 95.9h0M106.7 118.0h0M133.1 114.8h0M38.3 69.1h0M195.1 151.1h0M108.3 107.4h0M127.7 117.2h0M115.7 109.0h0M116.6 107.4h0M65.7 104.9h0M69.9 110.7h0M124.0 105.6h0M77.8 115.8h0M129.7 109.0h0M179.4 85.8h0M104.7 130.8h0M88.3 101.6h0M54.5 91.6h0M72.9 116.5h0M113.9 88.4h0M63.3 94.2h0M98.9 91.7h0M167.2 119.7h0M109.8 116.9h0M118.7 150.4h0M103.5 155.5h0M81.8 152.5h0M97.9 186.2h0M114.6 184.5h0M98.6 145.2h0M115.6 182.4h0M116.1 175.3h0M89.9 169.3h0M105.7 151.1h0M117.8 170.6h0M114.7 145.2h0M101.6 152.6h0M113.4 183.9h0M107.3 197.9h0M85.6 166.9h0M98.9 154.5h0M105.0 161.9h0M89.1 188.7h0M92.6 165.3h0M115.8 193.7h0M95.8 183.2h0M104.0 185.5h0M115.4 151.2h0M112.0 181.5h0" stroke="#d42020" stroke-width="1.05" stroke-linecap="square" fill="none"/>
<path d="M12.2 202.5h0M26.9 221.4h0M16.9 200.9h0M37.7 214.5h0M8.8 212.8h0M31.6 196.3h0M24.9 205.7h0M46.3 194.5h0M47.2 194.6h0M56.7 201.6h0M39.0 182.7h0M36.9 203.6h0M46.4 195.8h0M55.7 195.8h0M25.9 198.3h0M50.5 212.2h0M37.4 204.2h0M49.9 185.4h0M24.9 201.9h0M31.9 200.5h0M38.9 194.9h0M43.1 207.2h0M12.9 200.9h0M50.4 219.7h0M33.3 197.8h0M33.0 200.9h0M34.0 200.4h0M41.3 204.5h0M6.9 193.4h0M54.6 192.0h0M29.2 211.8h0M8.7 210.2h0M37.1 204.9h0M60.4 207.4h0M26.3 195.1h0M51.5 185.6h0M54.7 192.2h0M27.0 207.2h0M7.2 213.9h0M18.5 200.5h0M47.7 188.5h0M24.9 201.2h0M20.4 212.9h0M30.4 229.1h0M36.9 201.8h0M30.3 188.6h0M53.3 210.1h0M46.6 192.3h0M28.5 212.6h0M36.3 205.5h0M22.8 206.6h0M37.8 201.6h0M14.8 189.8h0M26.3 216.1h0M52.0 168.9h0M42.5 212.9h0M43.6 196.5h0M58.9 171.0h0M47.1 199.6h0M42.0 216.3h0M43.8 214.9h0M29.9 209.8h0M51.8 200.2h0M33.8 205.5h0M60.9 199.1h0M31.8 201.5h0M35.3 209.2h0M27.2 193.9h0M45.7 201.5h0M33.8 189.5h0M48.5 184.5h0M35.6 216.0h0M41.1 201.9h0M67.2 207.2h0M30.0 194.4h0M35.8 183.1h0M51.1 184.1h0M46.7 205.9h0M32.0 210.8h0M6.8 200.8h0M62.6 183.5h0M42.2 199.9h0M49.7 190.5h0M22.6 185.9h0M68.1 212.9h0M50.9 215.9h0M40.4 207.8h0M21.9 197.5h0M34.0 184.4h0M33.9 210.3h0M36.2 207.1h0M21.9 219.5h0M35.8 214.7h0M37.4 198.0h0M20.6 205.4h0M38.0 202.0h0M43.3 195.2h0M28.3 192.9h0M29.2 204.5h0M34.3 215.3h0M47.9 196.5h0M19.8 212.3h0M40.5 218.9h0M29.3 198.5h0M38.3 200.4h0M34.8 199.5h0M23.4 206.9h0M62.1 193.1h0M34.7 191.6h0M20.2 207.3h0M34.9 225.0h0M33.6 191.7h0M45.0 200.3h0M26.3 220.5h0M53.1 214.8h0M23.7 215.8h0M23.4 197.3h0M45.5 194.2h0M61.8 203.0h0M40.7 212.5h0M30.8 198.3h0M51.4 193.9h0M29.5 219.0h0M35.9 191.1h0M45.3 212.7h0M41.2 180.0h0M35.8 190.4h0M35.7 207.5h0M45.7 201.9h0M19.1 198.4h0M53.4 212.1h0M25.5 198.1h0M27.4 209.4h0M39.6 218.9h0M39.2 205.5h0M49.7 207.4h0M29.6 192.7h0M43.2 192.6h0M43.1 185.1h0M36.3 203.8h0M24.8 206.2h0M44.6 190.1h0M42.4 205.1h0M9.8 208.9h0M29.8 217.0h0M40.2 204.4h0M18.4 204.3h0M31.5 211.3h0M17.2 212.4h0M47.5 212.2h0M35.5 191.4h0M42.9 209.2h0M53.1 192.2h0M29.2 196.2h0M37.0 211.0h0M56.4 181.6h0M20.3 206.2h0M45.9 198.8h0M24.1 214.9h0M40.1 201.4h0M58.2 182.4h0M41.5 203.3h0M21.3 192.2h0M58.3 174.4h0M25.9 195.1h0M36.5 207.3h0M36.8 192.4h0M21.9 210.9h0M49.0 193.4h0M53.4 187.5h0M44.9 195.6h0M47.4 214.3h0M38.7 210.3h0M47.0 196.2h0M27.0 184.4h0M44.5 210.2h0M13.9 213.7h0M44.5 205.0h0M40.7 213.9h0M34.5 197.8h0M44.6 215.3h0M36.9 184.2h0M40.1 194.6h0M21.0 199.6h0M32.2 195.4h0M39.6 213.2h0M39.7 206.8h0M32.8 211.2h0M45.5 190.4h0M53.4 197.1h0M48.1 179.0h0M61.6 196.2h0M48.3 180.4h0M28.6 198.1h0M24.9 195.0h0M33.4 206.7h0M38.7 188.5h0M36.8 205.6h0M50.2 199.9h0M50.0 179.1h0M36.7 214.7h0M50.4 200.8h0M29.4 198.0h0M19.4 203.4h0M20.9 206.6h0M33.8 205.0h0M14.8 212.9h0M39.3 191.7h0M57.1 198.8h0M20.9 203.5h0M31.6 200.8h0M51.8 186.3h0M43.8 206.0h0M41.9 206.5h0M38.1 212.4h0M45.7 189.5h0M40.4 199.2h0M26.0 211.8h0M3.8 205.8h0M46.1 201.3h0M29.7 194.6h0M52.5 190.8h0M39.0 190.7h0M26.5 218.8h0M42.6 205.2h0M51.7 196.8h0M29.7 214.2h0M31.0 204.9h0M55.0 187.2h0M24.3 228.6h0M21.5 202.4h0M62.6 224.7h0M36.7 195.3h0M26.2 214.0h0M12.8 195.0h0M43.8 202.4h0M49.7 192.0h0M44.6 193.0h0M40.6 197.2h0M52.7 189.7h0M42.5 204.2h0M33.8 220.9h0M58.1 184.9h0M14.9 192.7h0M31.9 195.4h0M35.0 200.0h0M49.7 185.4h0M28.9 208.1h0M31.0 197.6h0M19.5 219.4h0M41.3 200.8h0M43.6 202.5h0M42.6 194.0h0M26.1 207.1h0M36.5 193.7h0M28.7 211.5h0M30.9 203.7h0M31.8 193.4h0M56.7 204.5h0M29.8 200.2h0M41.1 205.6h0M26.8 206.2h0M35.2 215.8h0M27.2 202.7h0M33.8 200.3h0M46.5 199.1h0M19.3 198.3h0M44.8 196.8h0M27.3 210.8h0M39.1 196.4h0M29.3 202.8h0M31.5 199.9h0M34.0 208.0h0M50.8 198.2h0M42.9 207.4h0M47.4 191.8h0M37.0 213.8h0M32.5 200.4h0M56.9 195.7h0M13.1 202.2h0M19.8 192.9h0M36.5 207.2h0M53.2 181.5h0M34.0 215.2h0M39.8 184.5h0M49.6 181.1h0M27.9 190.6h0M34.7 203.3h0M52.1 183.8h0M26.3 196.9h0M26.1 211.8h0M41.6 187.2h0M31.0 205.9h0M57.8 207.5h0M38.5 189.5h0M8.1 194.9h0M44.5 210.4h0M38.5 205.7h0M21.3 189.7h0M49.6 195.8h0M7.2 193.5h0M24.3 214.1h0M34.2 212.1h0M40.8 186.6h0M21.9 218.0h0M29.8 207.2h0M30.9 211.9h0M21.6 216.6h0M29.6 199.2h0M25.3 213.5h0M31.2 204.6h0M41.8 204.8h0M21.9 199.0h0M17.4 188.2h0M35.2 229.9h0M23.5 200.7h0M15.4 205.4h0M15.0 192.5h0M43.0 212.6h0M20.4 195.0h0M68.1 169.3h0M23.6 199.7h0M42.4 200.8h0M18.0 209.2h0M24.7 185.4h0M34.2 214.3h0M41.0 214.5h0M54.3 199.5h0M33.8 201.6h0M22.7 209.9h0M46.4 219.7h0M21.5 199.8h0M36.9 206.6h0M55.4 193.2h0M45.6 192.0h0M48.8 194.5h0M42.0 196.7h0M44.1 218.3h0M21.6 217.0h0M27.2 196.1h0M26.0 195.2h0M43.6 195.5h0M52.8 205.4h0M43.2 200.7h0M30.0 211.7h0M63.2 201.4h0M52.2 191.1h0M37.6 210.1h0M40.6 203.7h0M49.2 208.5h0M39.5 204.3h0M43.3 218.7h0M42.0 197.6h0M37.6 203.0h0M36.4 194.4h0M20.0 215.2h0M18.9 212.8h0M48.8 173.8h0M11.7 194.7h0M37.7 188.6h0M37.5 193.3h0M45.6 213.7h0M28.0 204.1h0M48.1 194.6h0M42.4 202.8h0M33.7 205.5h0M24.5 218.4h0M33.2 201.0h0M26.9 198.9h0M23.5 211.8h0M45.2 207.8h0M43.9 198.8h0M43.7 190.8h0M38.9 202.4h0M32.8 200.3h0M47.0 188.3h0M50.2 206.3h0M61.1 182.4h0M41.4 193.7h0M21.6 197.3h0M47.2 193.6h0M67.2 194.2h0M35.6 190.0h0M36.2 205.1h0M29.1 202.5h0M56.3 183.7h0M44.8 223.4h0M34.6 203.4h0M41.8 201.9h0M14.0 195.4h0M43.6 223.4h0M23.2 210.2h0M36.4 203.8h0M47.5 208.0h0M47.7 195.1h0M32.5 203.9h0M42.1 186.3h0M30.4 198.6h0M15.6 205.6h0M47.5 205.3h0M40.8 214.9h0M34.1 190.8h0M10.0 223.2h0M42.6 205.6h0M40.7 200.4h0M40.1 199.2h0M50.8 197.6h0M32.5 201.5h0M70.4 205.2h0M40.9 185.6h0M44.7 199.4h0M12.5 224.1h0M16.8 217.0h0M56.2 194.6h0M47.0 208.8h0M51.1 200.8h0M38.6 214.4h0M40.3 210.1h0M45.6 199.5h0M29.8 207.9h0M55.7 198.2h0M19.9 196.3h0M40.0 198.2h0M38.2 209.4h0M41.1 196.3h0M53.8 195.9h0M25.2 207.5h0M44.7 200.6h0M35.6 191.3h0M48.7 197.1h0M41.3 207.8h0M25.4 188.1h0M35.5 179.1h0M53.1 191.1h0M48.0 196.1h0M41.4 202.1h0M46.9 205.5h0M16.7 201.4h0M33.3 206.2h0M38.1 207.7h0M34.2 207.9h0M26.8 197.1h0M35.2 195.0h0M42.6 197.1h0M62.7 193.0h0M30.2 204.4h0M23.5 196.4h0M54.3 203.8h0M45.4 210.7h0M35.9 222.5h0M54.8 188.5h0M35.4 200.6h0M36.6 206.6h0M26.1 193.1h0M23.7 197.5h0M35.1 190.4h0M30.9 214.0h0M68.8 190.4h0M39.8 193.5h0M29.8 190.1h0M27.2 200.8h0M45.5 208.5h0M49.9 195.3h0M44.9 207.9h0M24.4 206.4h0M40.9 213.9h0M16.0 205.9h0M54.1 191.1h0M46.2 197.3h0M37.6 193.6h0M40.3 196.7h0M30.1 201.4h0M33.1 194.9h0M54.4 206.4h0M38.7 203.8h0M41.0 189.3h0M37.0 191.9h0M40.6 199.3h0M38.1 191.2h0M55.1 205.5h0M38.2 210.1h0M44.6 194.0h0M32.4 213.0h0M28.2 197.6h0M29.3 204.0h0M48.4 196.7h0M26.9 186.0h0M54.4 198.0h0M28.6 211.8h0M40.0 193.0h0M30.2 219.2h0M51.9 195.8h0M28.0 200.4h0M50.1 212.2h0M33.8 212.6h0M28.2 202.9h0M48.5 215.4h0M25.2 225.7h0M23.3 205.5h0M59.0 198.9h0M36.4 222.3h0M37.5 174.3h0M34.1 218.5h0M16.6 205.0h0M27.8 191.4h0M54.3 208.8h0M35.1 195.0h0M27.4 186.8h0M51.0 202.1h0M23.1 191.9h0M47.2 198.0h0M40.4 196.2h0M27.1 208.9h0M48.2 194.1h0M46.5 184.6h0M33.9 199.6h0M39.4 200.1h0M35.9 204.9h0M25.6 208.9h0M44.7 190.9h0M23.3 200.6h0M43.7 197.1h0M30.9 202.2h0M47.6 203.0h0M42.4 203.4h0M63.2 198.6h0M38.7 204.9h0M45.8 213.3h0M37.7 197.0h0M35.6 203.8h0M49.1 184.6h0M56.6 194.9h0M44.1 193.4h0M17.4 187.9h0M39.9 191.2h0M43.2 210.5h0M34.1 206.6h0M21.7 213.8h0M46.8 192.6h0M58.9 209.0h0M43.8 203.8h0M38.9 188.8h0M56.1 185.7h0M65.0 199.4h0M37.5 193.1h0M8.5 225.4h0M52.5 210.1h0M33.9 187.4h0M44.1 193.0h0M32.3 204.7h0M26.1 206.3h0M44.1 198.5h0M38.0 210.2h0M43.4 209.5h0M45.0 203.3h0M38.0 198.1h0M22.3 211.7h0M46.1 201.0h0M31.7 202.8h0M32.9 196.9h0M39.5 191.7h0M23.2 214.5h0M34.9 203.2h0M13.7 205.9h0M29.8 201.5h0M47.2 211.3h0M32.3 194.3h0M33.7 201.9h0M48.1 206.6h0M32.7 203.8h0M11.6 195.4h0M51.6 199.6h0M36.1 193.0h0M46.8 198.4h0M31.3 202.0h0M38.2 217.6h0M28.6 206.8h0M10.9 205.3h0M31.5 205.0h0M29.3 204.4h0M54.1 190.8h0M20.5 225.8h0M39.4 207.1h0M34.7 203.7h0M29.0 188.5h0M31.2 195.8h0M46.9 218.1h0M50.3 206.0h0M19.8 217.8h0M47.9 201.7h0M27.0 191.4h0M24.6 208.1h0M17.8 220.3h0M16.0 215.5h0M32.9 198.3h0M24.4 212.4h0M25.8 215.5h0M25.5 195.5h0M31.3 192.3h0M27.0 198.0h0M15.5 193.7h0M23.2 194.5h0M28.8 192.8h0M17.3 194.8h0M43.4 190.8h0M44.5 181.9h0M46.2 184.6h0M34.2 208.3h0M31.0 202.1h0M24.2 205.0h0M50.3 190.6h0M29.0 201.6h0M61.4 189.7h0M16.9 223.5h0M36.0 195.0h0M39.1 193.0h0M34.5 198.3h0M45.3 203.8h0M58.8 189.1h0M40.2 211.8h0M47.9 201.8h0M30.6 203.6h0M24.6 215.2h0M27.7 215.8h0M41.9 188.1h0M44.0 208.5h0M21.0 213.0h0M34.7 188.6h0M39.8 190.5h0M37.5 189.1h0M52.5 201.6h0M22.4 216.3h0M31.4 219.6h0M23.0 205.5h0M49.5 225.0h0M54.5 199.9h0M30.5 201.9h0M39.6 197.3h0M46.2 195.5h0M27.5 196.0h0M48.9 203.0h0M33.4 198.0h0M58.0 192.9h0M58.3 204.6h0M33.6 208.4h0M32.5 208.5h0M56.5 186.9h0M31.7 216.9h0M49.0 191.7h0M32.1 203.5h0M30.7 223.3h0M49.8 175.8h0M44.9 204.9h0M24.3 205.8h0M28.1 189.4h0M27.8 203.9h0M28.6 212.9h0M34.3 198.7h0M53.7 203.5h0M18.8 205.6h0M44.9 203.0h0M17.2 203.5h0M26.7 181.5h0M18.8 206.7h0M11.8 188.5h0M29.2 206.1h0M51.1 201.6h0M54.1 213.1h0M36.7 205.8h0M30.0 197.0h0M44.0 213.6h0M68.9 184.1h0M45.6 210.1h0M34.5 200.9h0M24.9 191.2h0M29.7 196.2h0M40.6 191.0h0M44.4 200.5h0M10.4 218.7h0M58.3 183.4h0M39.7 194.6h0M29.7 189.7h0M68.0 186.4h0M16.9 206.8h0M14.5 192.6h0M51.7 199.5h0M39.8 208.3h0M46.0 194.4h0M55.4 204.0h0M65.6 207.4h0M52.9 215.9h0M31.1 209.2h0M17.4 211.8h0M41.2 207.1h0M21.7 223.5h0M39.0 204.7h0M30.0 211.9h0M37.2 191.0h0M47.7 203.9h0M38.5 206.9h0M20.1 208.5h0M37.5 198.9h0M26.9 202.9h0M41.7 202.9h0M30.6 202.7h0M65.5 191.5h0M33.0 210.6h0M12.7 209.7h0M27.6 210.3h0M35.2 196.0h0M67.3 181.6h0M51.8 190.8h0M26.7 198.6h0M35.3 198.5h0M23.6 210.7h0M19.3 209.7h0M44.2 188.9h0M42.8 202.1h0M28.1 206.6h0M31.3 212.4h0M40.4 196.7h0M45.3 199.2h0M24.4 200.3h0M13.3 204.7h0M49.5 201.6h0M29.8 209.7h0M15.4 212.7h0M30.0 193.2h0M46.2 215.6h0M47.4 194.9h0M30.7 202.4h0M44.3 209.5h0M14.5 193.5h0M45.0 205.3h0M17.3 207.9h0M41.5 193.3h0M42.5 209.0h0M13.0 198.2h0M25.0 196.1h0M61.1 202.7h0M14.1 186.1h0M15.3 206.8h0M29.7 195.7h0M37.5 198.4h0M44.4 193.1h0M32.6 197.6h0M33.3 209.0h0M33.7 202.7h0M45.0 195.7h0M28.5 189.9h0M45.1 202.5h0M18.7 218.6h0M29.9 198.3h0M37.5 206.3h0M47.8 193.7h0M41.1 197.0h0M44.8 212.5h0M52.8 202.8h0M41.2 206.0h0M72.2 180.4h0M24.3 203.3h0M32.7 189.3h0M56.4 186.8h0M45.9 197.0h0M36.8 192.1h0M54.0 207.2h0M33.7 209.4h0M40.0 204.8h0M36.9 196.2h0M66.8 205.7h0M39.9 198.0h0M59.2 185.2h0M39.1 207.0h0M42.1 204.5h0M18.1 214.0h0M44.6 198.7h0M13.9 213.6h0M42.5 192.8h0M47.9 194.7h0M46.4 209.4h0M24.3 207.0h0M34.2 204.6h0M9.9 226.0h0M27.7 204.3h0M42.0 205.5h0M33.8 195.1h0M36.8 213.1h0M56.2 203.0h0M44.2 207.0h0M40.4 209.6h0M38.0 198.6h0M27.1 214.1h0M29.7 192.3h0M7.8 200.6h0M1.4 211.8h0M27.4 193.1h0M47.2 196.0h0M28.9 219.7h0M37.7 192.4h0M13.9 207.6h0M31.8 192.6h0M39.2 207.1h0M39.1 207.8h0M21.1 213.6h0M42.4 197.5h0M45.9 200.6h0M48.0 209.8h0M68.9 200.9h0M37.1 213.9h0M39.5 202.1h0M50.3 193.4h0M15.5 197.9h0M26.4 208.1h0M47.0 189.9h0M28.8 195.6h0M29.5 211.1h0M43.0 200.1h0M20.6 209.2h0M41.5 207.4h0M22.9 204.1h0M21.8 189.9h0M7.0 220.1h0M42.2 206.8h0M32.7 185.5h0M38.1 210.1h0M23.4 193.7h0M37.2 195.5h0M56.4 198.2h0M47.5 197.6h0M34.4 218.6h0M42.9 207.1h0M31.7 198.4h0M41.1 194.1h0M29.5 210.7h0M48.5 180.5h0M32.0 215.3h0M24.9 206.8h0M43.2 204.4h0M55.6 190.9h0M14.3 205.0h0M41.6 209.6h0M44.4 198.1h0M74.4 198.3h0M24.2 220.7h0M59.7 215.3h0M27.2 203.2h0M35.6 208.7h0M52.2 204.7h0M41.7 209.9h0M22.1 211.7h0M28.3 189.6h0M36.0 211.3h0M39.0 200.4h0M19.6 193.4h0M31.2 210.7h0M29.4 196.1h0M31.4 189.2h0M34.7 202.4h0M43.5 202.8h0M43.3 195.8h0M40.2 198.8h0M28.2 203.8h0M17.8 209.0h0M27.2 208.8h0M29.9 208.3h0M37.9 212.7h0M39.1 179.1h0M35.4 202.0h0M21.9 200.3h0M19.8 207.1h0M35.4 203.8h0M35.6 208.7h0M28.5 218.6h0M15.4 208.4h0M28.0 195.5h0M38.9 196.4h0M40.9 206.2h0M21.8 216.6h0M34.6 212.6h0M33.6 203.1h0M26.3 211.3h0M38.3 210.0h0M32.4 214.5h0M44.7 192.4h0M24.9 198.7h0M48.9 179.9h0M43.1 186.0h0M40.4 199.2h0M38.0 197.6h0M53.5 195.3h0M34.2 208.2h0M36.8 189.4h0M34.8 205.6h0M56.2 196.5h0M36.0 209.6h0M24.5 183.4h0M8.8 223.2h0M38.2 197.4h0M23.3 184.2h0M38.9 189.2h0M23.0 217.7h0M27.0 207.9h0M52.5 195.6h0M30.6 212.4h0M43.8 211.0h0M46.6 195.0h0M30.5 186.3h0M36.7 200.1h0M55.2 204.3h0M26.8 197.0h0M42.1 195.7h0M29.3 194.1h0M24.0 209.1h0M30.2 186.3h0M54.9 199.8h0M36.9 207.2h0M34.6 218.5h0M35.3 205.0h0M28.9 199.8h0M42.1 197.4h0M26.4 210.3h0M47.5 197.0h0M49.3 215.8h0M58.5 210.5h0M29.3 199.7h0M48.0 196.7h0M19.2 194.7h0M44.3 199.2h0M37.6 210.3h0M21.3 202.9h0M37.7 179.3h0M57.1 200.4h0M53.4 182.2h0M46.5 208.5h0M26.1 186.0h0M56.2 197.8h0M31.4 219.1h0M39.6 203.2h0M17.9 206.6h0M38.6 201.1h0M32.9 185.3h0M28.5 196.4h0M52.3 202.6h0M39.2 210.7h0M38.3 190.1h0M39.6 190.9h0M38.7 209.4h0M36.2 213.1h0M39.1 201.7h0M26.3 210.5h0M37.2 200.9h0M20.5 212.9h0M38.6 186.4h0M41.2 192.1h0M46.8 210.8h0M32.7 208.1h0M34.4 187.7h0M25.3 216.2h0M28.1 207.4h0M48.1 213.1h0M28.5 205.2h0M33.8 203.4h0M30.0 188.3h0M53.4 205.1h0M26.3 200.6h0M26.7 197.9h0M27.7 204.5h0M11.9 200.1h0M38.3 200.0h0M13.1 215.6h0M26.3 205.1h0M53.8 199.1h0M40.8 211.1h0M10.7 216.6h0M20.1 198.0h0M58.5 198.0h0M37.8 213.8h0M61.9 199.7h0M28.4 202.1h0M9.1 218.8h0M45.9 214.4h0M32.9 202.0h0M38.3 197.7h0M18.9 197.2h0M22.6 205.9h0M33.8 215.0h0M20.7 201.5h0M38.0 179.6h0M45.1 186.6h0M35.0 206.1h0M41.9 185.1h0M25.8 201.1h0M37.6 214.5h0M16.2 210.7h0M58.3 210.7h0M31.2 207.7h0M53.7 200.7h0M46.3 184.8h0M42.6 199.2h0M34.1 189.8h0M17.6 193.1h0M53.2 211.1h0M40.8 191.8h0M44.7 184.9h0M42.9 204.2h0M17.3 197.9h0M23.0 207.1h0M44.2 188.7h0M59.2 199.2h0M29.2 193.2h0M36.3 202.8h0M37.0 192.1h0M41.6 205.6h0M34.3 187.0h0M25.4 185.3h0M41.6 206.2h0M23.3 190.5h0M38.2 208.4h0M42.4 193.5h0M34.7 195.9h0M35.2 218.2h0M37.4 194.5h0M23.2 207.0h0M28.3 204.3h0M25.1 209.6h0M38.5 197.5h0M48.9 208.6h0M33.3 206.3h0M26.8 208.5h0M39.5 193.9h0M46.6 215.9h0M15.3 204.8h0M48.5 198.0h0M47.3 196.8h0M31.7 199.7h0M37.4 206.4h0M35.3 202.9h0M33.7 211.0h0M42.7 202.4h0M25.3 200.9h0M32.3 203.0h0M35.5 196.1h0M20.2 219.8h0M29.0 202.8h0M22.4 211.4h0M26.7 196.6h0M33.8 213.6h0M33.5 203.4h0M42.1 211.9h0M17.7 195.5h0M35.7 193.9h0M13.2 207.5h0M40.7 185.2h0M35.3 205.0h0M41.7 192.1h0M13.7 215.1h0M49.1 190.0h0M28.7 197.6h0M37.0 196.3h0M29.1 186.2h0M32.6 199.2h0M31.7 209.4h0M5.5 200.4h0M41.0 176.6h0M52.7 182.4h0M28.3 206.1h0M49.5 191.2h0M47.6 199.5h0M34.3 188.8h0M26.6 187.1h0M41.2 195.8h0M29.8 209.3h0M32.9 206.4h0M26.2 198.1h0M29.4 211.4h0M24.9 195.7h0M42.4 197.8h0M47.5 206.5h0M23.4 200.3h0M32.0 195.9h0M44.2 225.7h0M9.5 199.0h0M55.4 209.2h0M19.1 199.5h0M43.2 182.4h0M6.5 210.4h0M28.1 208.9h0M47.3 202.6h0M36.6 189.4h0M36.4 186.9h0M36.0 202.8h0M56.1 181.0h0M43.6 215.5h0M40.4 200.2h0M31.0 212.7h0M23.7 199.2h0M52.0 193.0h0M57.3 204.1h0M35.3 216.2h0M53.5 199.6h0M38.9 204.0h0M45.3 190.4h0M10.6 201.6h0M44.4 212.6h0M40.9 210.2h0M37.4 201.0h0M36.1 220.3h0M34.9 198.9h0M55.1 186.2h0M22.8 205.0h0M40.2 211.0h0M33.4 203.9h0M31.3 198.2h0M63.2 202.3h0M57.8 197.5h0M33.1 205.1h0M37.0 185.6h0M27.1 206.0h0M37.2 192.3h0M30.3 199.0h0M55.7 196.1h0M37.4 188.7h0M28.0 215.2h0M16.6 213.9h0M11.3 181.5h0M66.8 200.0h0M23.4 202.9h0M22.9 215.8h0M24.5 196.1h0M38.6 220.5h0M51.1 213.0h0M28.2 206.6h0M51.9 182.1h0M31.8 190.4h0M33.4 184.6h0M50.4 186.1h0M37.8 197.9h0M39.3 196.7h0M46.5 202.2h0M28.6 206.2h0M38.4 221.3h0M41.5 190.1h0M23.5 197.0h0M31.2 207.1h0M57.4 216.3h0M43.1 196.2h0M39.6 196.7h0M24.4 209.9h0M60.4 190.6h0M36.9 206.1h0M27.1 190.4h0M32.4 197.5h0M24.6 201.2h0M33.5 202.9h0M64.0 197.7h0M11.5 194.1h0M63.0 188.2h0M27.5 211.1h0M23.8 203.3h0M53.5 195.0h0M57.8 187.2h0M24.3 187.3h0M45.5 194.7h0M26.1 203.3h0M33.8 206.8h0M28.9 208.7h0M35.4 195.5h0M31.8 212.0h0M38.9 203.3h0M31.0 201.4h0M27.2 182.5h0M45.8 220.5h0M29.6 208.9h0M26.4 193.3h0M22.8 209.5h0M39.2 193.4h0M43.4 195.2h0M31.3 203.7h0M37.6 214.9h0M31.8 210.7h0M30.9 206.0h0M36.4 199.2h0M17.9 216.3h0M24.7 223.9h0M35.1 199.0h0M49.3 204.3h0M23.8 198.5h0M48.4 205.3h0M53.1 210.6h0M38.1 204.4h0M58.3 182.3h0M30.4 194.9h0M32.6 191.8h0M21.9 208.2h0M22.1 205.2h0M38.8 206.0h0M38.0 189.9h0M35.2 208.3h0M33.0 198.9h0M29.9 187.5h0M46.2 202.3h0M13.9 208.9h0M47.9 205.2h0M23.6 203.6h0M42.4 203.0h0M42.0 193.1h0M22.3 218.5h0M50.9 202.3h0M39.7 211.0h0M30.8 210.5h0M57.0 195.2h0M20.8 211.8h0M21.9 221.7h0M32.6 192.4h0M39.5 199.6h0M29.9 199.4h0M39.3 195.0h0M43.3 190.5h0M41.4 211.7h0M17.8 199.6h0M19.5 206.9h0M41.6 202.9h0M32.6 185.6h0M24.5 200.5h0M39.8 209.6h0M37.3 206.3h0M43.0 186.3h0M29.9 219.9h0M34.2 169.1h0M37.2 203.3h0M40.9 212.7h0M38.6 192.7h0M30.0 205.4h0M18.0 208.6h0M20.5 220.4h0M50.4 202.8h0M12.0 205.2h0M53.2 207.9h0M26.8 205.1h0M47.7 194.3h0M19.6 196.2h0M36.1 193.6h0M39.8 205.3h0M52.3 213.6h0M27.5 196.5h0M38.2 193.4h0M48.2 180.0h0M20.7 211.7h0M58.8 219.3h0M24.9 211.0h0M43.2 187.6h0M29.9 200.6h0M52.7 193.2h0M29.4 195.4h0M28.4 200.9h0M44.7 188.0h0M33.2 203.0h0M35.8 207.2h0M47.7 197.0h0M56.8 201.8h0M36.4 175.2h0M12.3 208.6h0M37.7 193.8h0M42.4 205.1h0M48.8 200.9h0M44.7 186.1h0M51.3 201.0h0M41.4 196.0h0M59.2 186.5h0M36.0 203.5h0M29.6 205.5h0M15.2 192.7h0M21.8 179.8h0M51.3 207.1h0M36.6 198.4h0M51.2 187.3h0M38.3 202.9h0M38.7 220.1h0M46.6 173.4h0M34.7 200.9h0M55.0 202.8h0M13.4 217.7h0M19.8 202.9h0M34.2 209.5h0M29.2 214.7h0M39.7 197.7h0M43.7 211.5h0M37.7 194.1h0M22.1 194.8h0M32.4 216.2h0M30.2 205.0h0M56.2 195.1h0M30.4 194.6h0M45.6 190.5h0M26.5 203.3h0M22.3 212.9h0M45.7 215.8h0M54.5 209.2h0M23.1 223.0h0M31.1 205.6h0M44.0 197.7h0M32.1 199.9h0M32.7 202.3h0M42.7 190.9h0M41.6 207.4h0M46.1 216.5h0M36.9 217.8h0M34.5 188.7h0M30.5 204.2h0M56.7 201.3h0M1.1 220.5h0M35.5 196.0h0M37.0 180.3h0M15.2 185.1h0M44.8 201.1h0M24.4 197.5h0M45.0 198.4h0M59.6 200.1h0M32.0 199.2h0M65.4 195.0h0M32.2 193.2h0M2.5 203.1h0M33.2 207.2h0M32.1 188.3h0M48.9 221.6h0M37.0 203.4h0M41.7 201.4h0M37.1 209.3h0M51.9 194.2h0M37.3 193.9h0M37.8 209.1h0M57.8 191.3h0M18.2 202.3h0M11.5 206.6h0M31.3 212.3h0M7.5 218.7h0M39.5 193.2h0M35.5 209.6h0M65.0 198.7h0M21.3 198.4h0M22.5 209.0h0M47.6 205.2h0M49.6 211.0h0M46.0 202.2h0M24.2 193.9h0M27.3 200.8h0M39.4 191.8h0M35.7 205.5h0M39.5 191.1h0M51.0 198.8h0M34.9 207.7h0M45.0 202.9h0M13.2 211.5h0M48.9 179.8h0M66.6 219.6h0M43.5 211.4h0M34.1 203.2h0M40.3 204.8h0M39.9 200.3h0M34.9 199.1h0M23.1 191.6h0M42.9 205.0h0M55.3 203.1h0M13.4 209.4h0M28.0 197.4h0M31.9 215.5h0M24.5 209.5h0M31.5 190.2h0M10.1 211.3h0M32.6 205.2h0M50.8 205.4h0M50.4 203.1h0M44.4 196.9h0M50.4 220.2h0M42.9 188.9h0M35.3 193.1h0M38.2 188.9h0M51.3 209.4h0M62.0 208.7h0M54.3 206.2h0M49.7 200.4h0M23.5 217.4h0M39.2 196.9h0M38.8 199.3h0M37.5 218.2h0M24.7 206.0h0M40.8 188.9h0M35.3 194.7h0M30.9 197.2h0M23.3 205.4h0M34.9 219.8h0M35.0 213.0h0M47.3 214.0h0M55.9 191.6h0M35.1 191.6h0M15.0 215.8h0M45.6 207.3h0M40.9 196.1h0M18.2 193.1h0M22.1 211.0h0M39.8 208.1h0M43.3 193.2h0M35.3 186.4h0M56.4 196.7h0M39.9 213.3h0M32.7 193.6h0M27.8 210.4h0M49.7 200.7h0M37.6 198.5h0M45.3 204.4h0M5.6 206.1h0M17.1 216.1h0M36.4 191.7h0M40.7 193.5h0M36.9 217.2h0M32.7 204.8h0M38.5 185.5h0M31.3 217.6h0M37.2 204.7h0M17.3 191.9h0M33.4 215.2h0M46.9 200.7h0M15.6 212.6h0M26.5 205.4h0M10.1 223.9h0M37.1 195.4h0M38.6 202.3h0M74.5 196.7h0M24.8 190.9h0M33.7 190.7h0M49.0 196.8h0M39.9 189.9h0M30.6 199.5h0M51.3 197.1h0M41.1 198.4h0M26.7 205.3h0M29.6 212.7h0M17.7 195.6h0M38.5 197.7h0M18.4 196.7h0M31.4 188.4h0M55.5 191.5h0M29.5 211.2h0M37.7 203.7h0M31.1 211.1h0M19.6 208.7h0M36.2 185.8h0M56.2 208.9h0M26.7 204.1h0M42.8 216.5h0M31.5 198.2h0M21.4 195.0h0M37.9 182.2h0M17.7 225.9h0M49.8 187.4h0M32.1 212.0h0M54.0 188.0h0M42.8 203.0h0M38.7 212.1h0M12.5 205.1h0M23.2 217.1h0M44.0 200.5h0M25.9 205.2h0M42.6 190.9h0M16.5 201.9h0M43.0 186.3h0M30.0 192.2h0M40.0 200.7h0M24.6 207.3h0M34.8 215.1h0M41.7 201.3h0M31.1 189.3h0M23.7 208.2h0M35.2 196.8h0M20.9 218.1h0M57.0 187.9h0M42.4 201.3h0M26.6 200.3h0M36.8 216.1h0M16.8 195.4h0M36.9 204.5h0M3.7 220.6h0M26.7 186.1h0M53.3 190.2h0M1.5 196.2h0M39.3 207.2h0M25.5 200.0h0M30.7 199.3h0M21.4 210.2h0M47.5 199.6h0M17.3 205.0h0M43.5 191.4h0M44.4 190.0h0M37.1 200.6h0M40.7 196.6h0M9.8 208.8h0M29.6 211.1h0M3.1 210.9h0M44.9 204.2h0M40.9 179.4h0M17.3 210.6h0M42.4 211.8h0M30.9 200.6h0M17.0 222.3h0M32.1 206.8h0M31.4 191.7h0M49.4 201.9h0M29.3 192.9h0M41.3 194.9h0M59.6 194.3h0M51.6 201.3h0M28.8 211.6h0M40.9 196.5h0M51.3 182.4h0M69.0 187.7h0M39.8 185.1h0M49.7 193.8h0M50.2 203.0h0M63.9 196.3h0M46.1 192.5h0M52.0 200.4h0M33.2 204.0h0M21.5 216.4h0M25.4 204.7h0M41.4 201.7h0M45.8 186.2h0M51.5 199.7h0M43.7 201.1h0M62.2 188.3h0M19.1 202.5h0M35.6 199.1h0M47.3 177.2h0M45.9 208.5h0M43.3 209.3h0M49.2 197.0h0M20.1 187.1h0M30.8 209.5h0M34.1 206.5h0M62.1 197.3h0M22.2 209.0h0M26.9 198.3h0M68.5 197.8h0M40.4 195.8h0M29.2 192.4h0M13.6 208.8h0M38.0 198.2h0M31.0 189.5h0M47.8 194.6h0M23.5 198.6h0M26.4 199.8h0M42.7 187.2h0M23.0 201.5h0M54.2 188.8h0M35.8 204.2h0M45.9 207.3h0M31.2 207.2h0M64.6 208.0h0M36.8 219.0h0M56.6 202.1h0M29.3 200.6h0M40.2 195.6h0M22.7 197.3h0M52.1 209.4h0M51.5 183.1h0M36.5 215.8h0M59.5 191.9h0M36.6 196.9h0M29.3 207.2h0M37.6 193.6h0M32.3 204.7h0M39.6 199.0h0M30.6 202.4h0M22.1 217.9h0M56.4 203.7h0M36.5 192.4h0M35.4 208.1h0M44.6 198.4h0M17.3 201.3h0M27.7 188.3h0M48.1 202.8h0M52.2 190.3h0M38.9 199.0h0M53.1 208.6h0M17.7 213.7h0M35.3 197.8h0M52.0 206.0h0M49.7 186.8h0M29.7 221.7h0M56.5 193.1h0M60.3 173.5h0M40.8 202.5h0M19.9 217.2h0M46.6 200.1h0M43.3 193.7h0M33.2 206.3h0M57.5 201.4h0M61.2 196.7h0M25.2 207.0h0M28.2 214.8h0M36.5 192.3h0M53.6 199.5h0M20.5 205.3h0M31.9 215.7h0M35.7 208.1h0M30.7 214.8h0M32.0 199.6h0M44.2 187.5h0M27.4 210.3h0M42.4 192.1h0M32.1 192.7h0M31.1 199.1h0M18.1 206.2h0M40.8 204.0h0M47.6 209.1h0M29.0 211.0h0M51.1 204.7h0M48.6 196.5h0M38.8 201.7h0M26.5 207.6h0M34.5 200.5h0M44.9 190.0h0M47.6 196.6h0M37.0 205.1h0M25.5 184.2h0M43.3 192.3h0M48.4 205.5h0M46.0 189.4h0M29.0 218.9h0M32.7 196.4h0M46.1 193.5h0M26.4 201.7h0M41.5 207.4h0M27.8 204.7h0M50.1 199.5h0M47.3 182.1h0M35.1 213.4h0M66.4 190.4h0M46.3 194.7h0M30.6 196.6h0M38.0 186.5h0M34.2 208.8h0M55.5 207.9h0M35.5 202.0h0M24.2 200.1h0M33.2 200.2h0M20.0 203.6h0M10.9 215.9h0M22.0 213.1h0M41.0 193.3h0M31.7 208.0h0M43.6 204.1h0M34.3 210.9h0M34.4 198.4h0M40.7 200.7h0M48.6 200.4h0M20.6 197.3h0M24.8 202.5h0M39.3 205.3h0M53.5 188.2h0M37.2 193.8h0M30.1 192.9h0M35.9 204.5h0M32.9 200.8h0M30.5 207.1h0M43.7 188.8h0M60.8 194.7h0M40.8 201.3h0M20.0 210.1h0M13.6 208.0h0M58.8 188.1h0M16.7 212.1h0M68.9 196.8h0M40.3 193.9h0M32.5 196.1h0M52.1 207.6h0M37.1 200.7h0M63.0 205.4h0M33.9 210.0h0M47.2 213.6h0M24.8 191.8h0M43.0 198.0h0M43.2 189.4h0M24.6 215.6h0M11.4 197.2h0M46.6 191.0h0M40.1 183.9h0M42.2 198.1h0M22.9 193.2h0M21.7 204.9h0M23.5 204.1h0M39.3 206.1h0M26.9 210.4h0M24.2 204.9h0M40.9 198.5h0M53.9 185.5h0M66.3 203.9h0M42.7 205.6h0M52.6 198.6h0M38.9 189.8h0M43.6 203.4h0M41.6 213.2h0M33.9 213.4h0M33.6 210.1h0M43.3 206.7h0M62.8 211.0h0M21.8 210.2h0M34.2 212.2h0M22.0 204.7h0M50.5 208.8h0M67.3 189.5h0M36.1 183.8h0M16.3 197.2h0M42.3 197.4h0M60.9 190.3h0M19.6 188.5h0M11.9 218.7h0M7.0 199.7h0M43.0 200.1h0M10.0 203.4h0M58.5 199.6h0M10.4 220.2h0M37.4 208.1h0M19.4 205.1h0M51.0 205.4h0M39.8 197.0h0M43.3 196.0h0M39.6 184.8h0M27.6 207.5h0M40.4 206.6h0M26.7 209.0h0M34.1 207.8h0M41.1 205.4h0M29.1 198.4h0M27.0 225.0h0M25.0 218.3h0M24.4 212.6h0M23.8 209.0h0M24.0 211.1h0M47.6 182.5h0M41.9 187.1h0M37.0 193.2h0M49.4 185.5h0M39.7 192.0h0M25.3 192.6h0M52.3 199.2h0M47.3 208.6h0M14.4 219.9h0M64.1 189.7h0M32.8 197.5h0M13.1 206.1h0M56.7 203.2h0M38.3 201.4h0M37.2 198.0h0M55.2 196.6h0M49.3 201.4h0M41.2 200.9h0M42.3 206.5h0M30.2 184.5h0M37.9 209.6h0M12.8 193.4h0M46.3 188.2h0M35.9 199.7h0M23.8 177.3h0M52.6 212.1h0M23.2 194.2h0M30.1 200.4h0M43.3 194.4h0M32.9 200.6h0M23.3 207.5h0M29.6 219.5h0M69.6 180.8h0M34.8 215.1h0M57.3 176.2h0M26.1 202.0h0M44.5 207.1h0M26.5 194.4h0M23.3 210.2h0M30.7 199.5h0M64.5 196.0h0M29.0 210.1h0M21.9 202.5h0M42.9 203.0h0M22.8 204.6h0M20.5 193.5h0M13.1 197.5h0M49.8 200.0h0M42.7 194.1h0M6.3 212.9h0M47.8 205.1h0M33.5 203.5h0M43.1 219.3h0M21.2 193.3h0M42.5 208.6h0M38.7 187.4h0M20.6 194.1h0M41.0 212.7h0M32.2 195.1h0M24.9 203.3h0M28.5 202.8h0M34.9 202.8h0M41.7 187.8h0M28.5 206.5h0M41.1 212.1h0M43.6 186.2h0M47.2 182.0h0M14.2 200.2h0M41.6 206.7h0M27.8 191.3h0M23.2 191.0h0M32.2 215.7h0M55.1 189.3h0M43.4 185.7h0M31.1 198.9h0M33.2 191.9h0M36.1 203.7h0M25.3 184.4h0M47.1 199.3h0M32.8 208.8h0M45.2 198.0h0M24.7 221.3h0M34.5 189.6h0M31.0 193.7h0M22.8 190.1h0M48.3 213.7h0M41.6 208.3h0M34.6 207.3h0M49.7 188.1h0M39.5 211.6h0M34.3 202.3h0M29.4 202.5h0M47.7 190.9h0M43.9 187.4h0M4.9 206.3h0M21.9 198.1h0M42.4 202.7h0M49.1 198.3h0M42.3 197.4h0M32.2 194.6h0M56.2 197.4h0M33.2 209.4h0M35.7 195.5h0M34.3 195.3h0M42.0 207.9h0M26.4 207.4h0M30.3 195.1h0M45.5 197.6h0M49.7 197.0h0M49.0 201.0h0M42.7 198.3h0M32.8 200.0h0M46.7 201.5h0M38.7 205.5h0M36.9 196.2h0M40.8 195.1h0M24.5 199.4h0M40.0 189.7h0M48.3 190.3h0M17.2 208.2h0M41.1 219.4h0M38.2 214.8h0M55.3 191.0h0M37.2 198.0h0M38.8 186.0h0M43.0 191.1h0M29.7 209.5h0M21.8 209.4h0M44.9 183.5h0M53.8 197.5h0M48.2 198.2h0M46.0 195.2h0M31.7 212.0h0M33.0 215.0h0M34.6 196.0h0M43.6 195.3h0M30.1 196.7h0M33.1 202.4h0M41.2 195.3h0M57.3 195.8h0M17.3 207.9h0M34.8 203.8h0M21.1 213.6h0M12.6 205.2h0M54.3 204.1h0M25.8 209.2h0M41.6 200.2h0M49.5 193.8h0M45.5 198.5h0M22.1 200.3h0M39.4 195.3h0M40.2 210.9h0M25.5 199.0h0M40.7 219.6h0M32.9 209.5h0M50.3 198.9h0M39.7 208.2h0M30.0 199.6h0M35.0 185.1h0M38.8 193.4h0M44.5 199.5h0M52.3 203.9h0M23.6 196.2h0M27.0 197.3h0M51.2 197.5h0M34.8 218.4h0M49.6 207.2h0M10.0 212.1h0M40.3 209.8h0M28.1 209.5h0M36.9 208.3h0M38.9 193.7h0M11.5 208.2h0M13.6 199.2h0M35.6 200.2h0M23.0 208.7h0M40.2 202.3h0M33.8 193.4h0M32.8 225.6h0M45.4 192.0h0M43.5 194.4h0M42.2 200.2h0M23.7 191.6h0M23.1 189.5h0M24.8 219.8h0M11.4 211.3h0M23.2 184.4h0M47.7 203.2h0M32.8 201.4h0M42.3 195.9h0M30.3 205.5h0M29.9 201.4h0M28.1 196.7h0M59.4 213.3h0M23.4 208.8h0M27.3 203.0h0M43.9 193.8h0M49.3 198.6h0M42.1 194.4h0M66.1 183.9h0M38.4 209.0h0M30.3 187.1h0M28.1 200.5h0M36.5 210.8h0M59.4 195.7h0M46.1 188.9h0M32.9 203.4h0M52.1 193.7h0M26.8 208.6h0M60.2 195.0h0M30.8 200.0h0M44.0 191.5h0M22.3 210.4h0M46.2 216.2h0M28.9 197.0h0M38.9 212.8h0M29.2 188.3h0M19.1 215.2h0M14.2 203.8h0M52.6 192.7h0M23.4 208.7h0M7.4 207.2h0M41.9 198.7h0M37.0 201.7h0M39.8 202.9h0M32.9 207.0h0M47.2 202.9h0M45.7 192.3h0M34.1 202.3h0M45.2 206.8h0M10.8 205.8h0M37.1 210.3h0M23.5 201.1h0M19.3 199.4h0M48.2 196.6h0M11.9 214.4h0M41.3 203.8h0M24.9 218.9h0M49.6 195.2h0M32.2 187.7h0M51.4 205.3h0M31.1 197.7h0M15.3 200.3h0M62.8 183.0h0M37.8 209.3h0M19.1 198.6h0M51.3 198.6h0M59.3 184.8h0M36.8 200.7h0M28.5 198.2h0M40.3 188.2h0M43.3 187.6h0M46.4 191.8h0M34.1 204.3h0M36.1 199.7h0M46.8 207.8h0M64.6 198.5h0M52.3 193.9h0M32.6 209.2h0M44.3 202.9h0M44.9 191.4h0M32.3 209.1h0M39.7 202.9h0M22.9 187.1h0M43.7 207.3h0M40.7 196.8h0M37.6 197.2h0M33.9 192.9h0M51.8 198.2h0M30.9 200.9h0M27.2 225.6h0M5.1 202.5h0M42.0 193.9h0M27.7 222.2h0M33.7 197.9h0M39.4 203.1h0M46.8 195.7h0M50.5 201.5h0M40.5 205.3h0M41.9 208.3h0M56.8 190.1h0M15.6 219.8h0M35.5 203.0h0M30.3 210.3h0M33.7 197.0h0M49.9 171.7h0M25.7 190.5h0M25.1 212.6h0M19.1 206.1h0M33.7 193.2h0M31.2 209.0h0M27.7 212.0h0M51.8 194.7h0M55.8 174.4h0M34.7 210.1h0M24.6 200.1h0M42.7 192.3h0M31.7 199.3h0M47.7 196.1h0M45.1 181.8h0M42.8 196.4h0M34.3 188.4h0M23.0 196.7h0M43.6 182.3h0M51.8 192.9h0M19.7 204.6h0M33.6 209.2h0M40.8 190.2h0M42.7 202.2h0M51.7 192.7h0M29.5 213.2h0M31.1 193.1h0M33.2 190.9h0M38.3 200.9h0M52.7 197.7h0M49.9 200.6h0M60.3 202.2h0M40.0 206.1h0M34.4 208.6h0M56.3 213.4h0M42.8 197.4h0M29.7 217.5h0M23.3 205.2h0M42.8 204.3h0M50.0 195.9h0M26.0 205.7h0M64.6 202.3h0M50.8 209.8h0M38.2 200.5h0M51.4 192.6h0M37.8 197.9h0M14.6 195.6h0M36.8 213.4h0M48.2 196.5h0M51.8 203.5h0M36.6 212.8h0M34.6 199.2h0M39.2 206.2h0M11.5 205.4h0M22.4 192.3h0M26.8 199.0h0M45.2 193.8h0M21.4 208.6h0M44.8 194.0h0M30.8 194.6h0M31.0 194.8h0M14.9 212.7h0M50.1 181.5h0M64.0 188.7h0M17.3 208.4h0M31.7 205.0h0M41.3 211.3h0M29.4 182.4h0M39.7 202.2h0M17.0 204.7h0M60.3 187.5h0M45.9 192.1h0M15.7 208.9h0M24.5 200.4h0M37.5 212.8h0M39.5 210.3h0M61.5 201.3h0M24.7 210.4h0M28.1 201.0h0M42.3 223.0h0M33.8 204.3h0M29.5 188.8h0M47.2 213.6h0M66.2 207.2h0M48.6 182.8h0M42.9 200.9h0M17.8 206.4h0M29.8 216.7h0M18.2 191.6h0M33.5 199.5h0M22.7 207.9h0M30.0 207.3h0M42.6 188.1h0M56.1 202.6h0M29.5 191.6h0M56.9 197.8h0M27.7 182.8h0M31.1 208.1h0M49.8 205.6h0M28.7 188.7h0M40.6 202.3h0M42.2 197.2h0M32.6 198.4h0M38.7 186.6h0M28.8 198.8h0M20.4 205.3h0M21.9 190.4h0M30.7 183.1h0M26.0 194.1h0M23.6 196.6h0M13.9 207.0h0M25.3 206.1h0M45.3 200.4h0M39.1 194.3h0M48.5 202.6h0M32.6 206.0h0M32.1 198.6h0M47.7 202.7h0M23.3 207.8h0M73.9 186.3h0M30.2 220.8h0M38.0 186.5h0M53.9 187.6h0M26.7 202.2h0M7.7 220.0h0M12.8 198.8h0M5.5 205.3h0M2.1 200.3h0M49.5 170.9h0M43.4 186.8h0M40.6 183.7h0M24.1 204.7h0M40.3 208.0h0M31.1 204.9h0M27.8 191.8h0M37.1 211.0h0M54.7 206.5h0M41.7 202.0h0M39.7 202.6h0M31.8 197.7h0M20.2 217.8h0M47.1 209.7h0M34.3 193.7h0M62.8 199.6h0M11.3 205.9h0M22.3 202.6h0M47.1 222.4h0M45.2 206.1h0M49.5 212.9h0M29.9 189.5h0M34.9 216.5h0M46.5 219.6h0M57.2 187.7h0M50.9 201.6h0M20.2 205.6h0M30.4 204.5h0M11.9 202.9h0M26.4 216.1h0M47.6 196.1h0M48.8 185.6h0M28.0 204.0h0M40.8 187.5h0M21.5 206.8h0M48.2 193.7h0M27.7 194.4h0M31.7 196.1h0M37.5 228.5h0M33.3 212.2h0M59.2 189.7h0M33.9 181.8h0M43.8 195.9h0M24.4 185.4h0M38.1 213.6h0M32.9 204.1h0M33.3 222.7h0M47.9 202.9h0M25.2 209.0h0M45.1 197.8h0M50.8 185.1h0M47.2 197.6h0M15.8 189.6h0M55.1 188.7h0M35.2 225.1h0M30.1 194.7h0M32.6 208.6h0M29.2 213.9h0M19.1 196.6h0M35.0 212.4h0M33.6 195.6h0M38.3 199.7h0M12.3 194.7h0M49.3 179.7h0M38.5 197.0h0M35.8 195.0h0M34.6 192.3h0M50.9 206.2h0M42.3 197.0h0M34.9 188.4h0M22.2 195.4h0M40.9 187.8h0M39.9 207.8h0M36.6 200.6h0M34.3 205.9h0M39.6 194.6h0M41.7 197.0h0M40.6 198.4h0M60.1 197.9h0M47.7 196.8h0M38.3 200.6h0M46.6 206.5h0M16.4 208.8h0M50.8 203.2h0M30.8 202.0h0M30.0 210.2h0M40.9 190.4h0M25.0 208.2h0M47.2 201.5h0M26.3 199.2h0M20.2 209.5h0M35.1 203.5h0M43.5 189.3h0M27.5 199.1h0M40.8 189.6h0M39.7 209.9h0M37.7 202.1h0M51.1 200.8h0M34.5 194.6h0M69.0 181.7h0M32.7 202.0h0M28.9 211.9h0M8.5 202.6h0M18.0 199.8h0M39.4 209.1h0M11.6 204.2h0M18.6 208.8h0M40.1 195.4h0M38.2 214.1h0M24.7 206.4h0M11.9 203.3h0M30.7 215.3h0M32.0 199.0h0M33.3 204.6h0M30.3 196.0h0M27.1 192.2h0M32.1 206.2h0M39.4 197.8h0M52.5 206.7h0M43.2 195.9h0M26.6 198.0h0M51.6 207.6h0M43.3 200.6h0M40.1 193.8h0M47.5 204.3h0M42.7 194.6h0M28.8 219.2h0M40.4 209.8h0M31.9 203.3h0M23.7 206.6h0M70.6 182.0h0M32.1 201.1h0M24.0 199.1h0M44.3 201.6h0M25.2 184.9h0M33.5 210.9h0M37.4 195.1h0M45.5 199.3h0M42.0 199.9h0M46.8 198.4h0M37.6 229.4h0M18.0 190.2h0M48.9 183.7h0M23.2 205.6h0M45.8 203.5h0M26.6 192.7h0M25.9 221.4h0M38.0 185.7h0M44.7 193.5h0M8.3 213.2h0M25.0 203.0h0M38.6 203.0h0M16.0 220.9h0M41.3 196.8h0M12.8 219.0h0M57.4 202.1h0M21.3 203.3h0M37.9 201.6h0M12.3 194.8h0M50.1 190.7h0M31.1 205.7h0M30.8 219.0h0M28.8 182.1h0M33.2 204.2h0M23.8 194.3h0M34.9 192.3h0M24.7 206.3h0M41.7 207.6h0M30.9 198.7h0M48.8 203.8h0M26.2 196.6h0M51.8 187.6h0M29.6 205.8h0M37.3 205.7h0M33.1 208.9h0M18.8 199.9h0M36.3 205.4h0M28.0 203.9h0M50.3 205.4h0M34.3 199.6h0M50.0 201.6h0M49.9 202.0h0M31.9 204.5h0M28.1 188.1h0M61.4 170.4h0M46.2 190.5h0M39.6 198.3h0M57.8 191.5h0M26.1 199.4h0M12.3 197.1h0M50.0 197.9h0M26.9 191.3h0M18.1 211.5h0M34.6 219.6h0M37.6 200.1h0M30.1 219.2h0M36.1 196.9h0M44.1 195.2h0M46.6 206.0h0M50.4 195.1h0M21.7 214.4h0M60.0 179.7h0M9.3 209.1h0M28.3 206.9h0M19.6 202.5h0M45.9 201.9h0M47.3 216.0h0M51.8 190.6h0M48.2 193.9h0M49.8 203.5h0M33.4 194.7h0M43.5 202.4h0M32.9 201.3h0M51.2 197.0h0M50.8 208.4h0M47.8 182.9h0M41.0 203.4h0M36.6 204.0h0M45.1 198.6h0M32.4 204.7h0M40.9 215.8h0M33.1 219.9h0M46.3 203.3h0M40.5 200.4h0M26.6 198.8h0M60.7 188.2h0M42.2 193.9h0M37.1 208.0h0M23.6 200.4h0M29.7 211.6h0M35.1 201.2h0M11.7 198.5h0M28.3 210.8h0M40.7 202.9h0M49.9 202.6h0M19.3 200.5h0M53.4 200.7h0M45.7 195.4h0M20.1 198.4h0M23.5 218.0h0M45.5 202.0h0M38.8 186.0h0M42.6 221.8h0M49.5 205.6h0M73.3 181.6h0M32.9 193.9h0M51.7 189.2h0M30.9 204.2h0M26.9 223.6h0M22.3 202.3h0M13.0 199.7h0M45.9 188.5h0M39.2 199.0h0M35.1 183.7h0M41.4 192.9h0M26.8 201.5h0M39.8 204.3h0M28.3 197.7h0M27.6 193.2h0M23.0 205.8h0M17.5 209.3h0M39.5 207.5h0M30.2 212.8h0M28.6 206.4h0M48.0 195.6h0M35.3 193.6h0M42.6 214.9h0M37.1 208.9h0M32.4 195.2h0M53.6 205.7h0M32.7 203.7h0M53.9 185.5h0M50.4 186.6h0M20.6 206.5h0M37.1 213.0h0M48.6 198.1h0M26.0 202.3h0M15.1 205.3h0M34.4 187.7h0M52.6 192.2h0M18.6 213.8h0M49.3 196.0h0M29.1 227.2h0M25.4 205.0h0M38.8 193.7h0M26.1 190.8h0M33.9 213.5h0M27.7 195.6h0M11.5 206.4h0M53.2 193.5h0M32.9 208.8h0M31.9 225.9h0M19.7 202.7h0M41.1 196.2h0M36.6 194.3h0M11.1 203.4h0M33.6 212.6h0M20.1 213.3h0M37.9 194.4h0M27.5 204.5h0M50.0 213.7h0M43.9 199.0h0M58.9 217.3h0M29.0 198.9h0M23.8 190.3h0M35.2 195.0h0M45.9 193.6h0M29.7 199.8h0M27.9 198.3h0M47.5 195.5h0M12.3 206.5h0M48.2 181.5h0M40.2 213.8h0M37.3 193.1h0M50.3 197.2h0M21.8 196.1h0M44.4 210.7h0M52.7 199.2h0M34.0 186.3h0M41.2 187.7h0M28.2 204.2h0M42.1 190.1h0M36.6 194.7h0M30.5 200.6h0M23.5 213.5h0M43.9 203.2h0M25.2 209.4h0M38.8 195.6h0M47.2 178.6h0M33.2 204.8h0M40.5 197.9h0M23.6 207.2h0M53.8 214.1h0M12.0 212.9h0M36.9 201.8h0M26.4 215.7h0M24.9 207.0h0" stroke="#f00" stroke-width="1.05" stroke-linecap="square" fill="none"/>
<rect x="0.5" y="203.6" width="24" height="25" fill="#fff" opacity="0.82"/>
</svg>
<rect x="389.4" y="1036.4" width="231.2" height="230.6" fill="none" stroke="#7a7a7a" stroke-width="1"/>
<line x1="467.1" y1="1036.4" x2="467.1" y2="1267.0" stroke="#111" stroke-width="1.6"/>
<line x1="389.4" y1="1181.6" x2="620.6" y2="1181.6" stroke="#111" stroke-width="1.6"/>
<path d="M383.4 1058.3H389.4M383.4 1110.7H389.4M383.4 1165.0H389.4M383.4 1220.0H389.4M386.6 1042.2H389.4M386.6 1094.6H389.4M386.6 1085.2H389.4M386.6 1078.5H389.4M386.6 1073.3H389.4M386.6 1069.1H389.4M386.6 1065.5H389.4M386.6 1062.4H389.4M386.6 1059.6H389.4M386.6 1148.9H389.4M386.6 1139.5H389.4M386.6 1132.8H389.4M386.6 1127.6H389.4M386.6 1123.4H389.4M386.6 1119.8H389.4M386.6 1116.7H389.4M386.6 1113.9H389.4M386.6 1203.9H389.4M386.6 1194.5H389.4M386.6 1187.8H389.4M386.6 1182.6H389.4M386.6 1178.4H389.4M386.6 1174.8H389.4M386.6 1171.7H389.4M386.6 1168.9H389.4M386.6 1228.4H389.4M386.6 1234.4H389.4M386.6 1239.4H389.4M386.6 1244.4H389.4M386.6 1249.4H389.4M386.6 1254.4H389.4M386.6 1259.4H389.4M386.6 1264.4H389.4" stroke="#222" stroke-width="1" fill="none"/>
<path d="M383.4 1058.3H389.4M383.4 1110.7H389.4M383.4 1165.0H389.4M383.4 1220.0H389.4M383.4 1265.9H389.4M385.4 1240.4H389.4M385.4 1242.4H389.4" stroke="#111" stroke-width="1.8" fill="none"/>
<path d="M493.2 1267.0v5M545.3 1267.0v5M597.9 1267.0v5M454.0 1267.0v2.8M463.2 1267.0v2.8M469.8 1267.0v2.8M474.9 1267.0v2.8M479.1 1267.0v2.8M482.6 1267.0v2.8M485.6 1267.0v2.8M488.3 1267.0v2.8M509.0 1267.0v2.8M518.2 1267.0v2.8M524.8 1267.0v2.8M529.9 1267.0v2.8M534.1 1267.0v2.8M537.6 1267.0v2.8M540.6 1267.0v2.8M543.3 1267.0v2.8M561.1 1267.0v2.8M570.3 1267.0v2.8M576.9 1267.0v2.8M582.0 1267.0v2.8M586.2 1267.0v2.8M589.7 1267.0v2.8M592.7 1267.0v2.8M595.4 1267.0v2.8M392.4 1267.0v2.8M397.4 1267.0v2.8M402.4 1267.0v2.8M407.4 1267.0v2.8M412.4 1267.0v2.8M417.4 1267.0v2.8M422.4 1267.0v2.8M427.4 1267.0v2.8M432.4 1267.0v2.8M610.4 1267.0v2.8" stroke="#222" stroke-width="1" fill="none"/>
<path d="M438.2 1267.0v6M493.2 1267.0v5.5M545.3 1267.0v5.5M597.9 1267.0v5.5M401.4 1267.0v5M403.4 1267.0v5M405.4 1267.0v5M407.9 1267.0v5M410.4 1267.0v5" stroke="#111" stroke-width="1.6" fill="none"/>
<g font-family='"Liberation Sans", Arial, sans-serif' font-size="8.2" fill="#222"><text x="360.9" y="1057.5">10<tspan font-size="7.6" dy="-5">5</tspan></text><text x="360.9" y="1109.9">10<tspan font-size="7.6" dy="-5">4</tspan></text><text x="360.9" y="1164.2">10<tspan font-size="7.6" dy="-5">3</tspan></text><text x="360.9" y="1219.2">10<tspan font-size="7.6" dy="-5">2</tspan></text><text x="364.9" y="1240.9">0</text><text x="353.9" y="1262.4">-10<tspan font-size="7.6" dy="-5">2</tspan></text><text x="400.9" y="1282.0">0</text><text x="489.2" y="1282.0">10<tspan font-size="7.6" dy="-5">3</tspan></text><text x="541.3" y="1282.0">10<tspan font-size="7.6" dy="-5">4</tspan></text><text x="593.9" y="1282.0">10<tspan font-size="7.6" dy="-5">5</tspan></text></g>
<text x="392.3" y="1057.3" font-size="16.8" text-anchor="start" font-weight="normal" fill="#000" font-family='"Liberation Sans", Arial, sans-serif' textLength="35.2" lengthAdjust="spacingAndGlyphs">1.30</text>
<text x="605.2" y="1057.3" font-size="16.8" text-anchor="end" font-weight="normal" fill="#000" font-family='"Liberation Sans", Arial, sans-serif' textLength="35.2" lengthAdjust="spacingAndGlyphs">9.41</text>
<text x="393.4" y="1250.7" font-size="16.8" text-anchor="start" font-weight="normal" fill="#000" font-family='"Liberation Sans", Arial, sans-serif' textLength="35.2" lengthAdjust="spacingAndGlyphs">88.3</text>
<text x="611.2" y="1250.7" font-size="16.8" text-anchor="end" font-weight="normal" fill="#000" font-family='"Liberation Sans", Arial, sans-serif' textLength="35.2" lengthAdjust="spacingAndGlyphs">0.96</text>
<svg x="699.4" y="1036.4" width="231.2" height="230.6" overflow="hidden">
<ellipse cx="33" cy="202" rx="22" ry="14" transform="rotate(-25 33 202)" fill="#f00" opacity="1.0" filter="url(#soft2)"/>
<path d="M40.8 208.0h0M36.1 201.8h0M24.4 200.9h0M28.8 203.6h0M22.7 219.9h0M0.6 198.1h0M14.2 189.1h0M7.9 199.4h0M29.4 186.9h0M60.3 199.0h0M35.6 201.5h0M27.2 191.2h0M53.0 191.3h0M17.9 212.7h0M9.3 198.1h0M25.3 203.8h0M31.4 208.2h0M36.0 208.8h0M17.9 184.0h0M32.7 211.2h0M39.5 176.7h0M21.3 217.1h0M20.9 169.4h0M33.8 191.8h0M35.1 192.3h0M29.6 211.8h0M37.4 197.0h0M29.3 177.9h0M15.3 228.5h0M54.6 193.5h0M56.8 175.0h0M19.9 181.4h0M42.6 199.6h0M40.4 205.5h0M14.7 198.9h0M35.5 211.3h0M77.2 195.3h0M30.0 196.7h0M37.5 191.5h0M57.0 195.8h0M53.3 163.0h0M52.7 200.7h0M64.2 208.7h0M34.7 195.1h0M49.0 190.8h0M62.9 221.8h0M52.0 196.7h0M29.8 213.4h0M43.5 197.6h0M18.7 196.1h0M83.8 167.2h0M33.4 179.4h0M31.1 182.4h0M28.2 218.5h0M58.1 201.5h0M45.9 197.5h0M41.3 210.0h0M44.5 182.6h0M39.7 182.6h0M37.2 194.7h0M19.8 197.7h0M20.6 229.0h0M12.3 208.0h0M30.2 174.5h0M19.4 223.1h0M48.1 164.5h0M23.7 183.9h0M62.6 195.1h0M43.6 214.4h0M21.0 180.2h0M30.2 195.8h0M33.8 222.3h0M44.6 197.3h0M4.2 184.9h0M32.3 207.7h0M28.8 192.3h0M24.9 196.1h0M37.1 211.2h0M53.1 187.0h0M44.0 199.4h0M25.7 194.8h0M40.6 188.3h0M21.9 197.3h0M37.8 197.7h0M30.4 224.6h0M28.8 209.4h0M48.1 191.4h0M36.7 194.3h0M51.0 189.3h0M49.1 209.3h0M22.9 190.9h0M36.8 184.1h0M40.8 169.2h0M36.5 195.8h0M36.9 198.1h0M35.4 188.3h0M15.4 228.0h0M30.5 204.5h0M43.7 182.8h0M40.4 213.1h0M29.4 227.9h0M4.7 211.5h0M49.8 203.9h0M59.5 203.2h0M10.0 197.2h0M27.2 202.4h0M19.2 202.2h0M48.3 207.9h0M31.9 196.4h0M37.3 191.5h0M17.6 194.0h0M50.7 207.8h0M12.7 203.1h0M28.8 208.2h0M11.7 195.1h0M15.3 221.0h0M34.5 196.4h0M60.7 192.1h0M36.7 199.9h0M42.8 200.0h0M8.7 226.9h0M54.7 193.2h0M17.0 223.4h0M46.8 196.5h0M27.9 192.9h0M37.4 188.5h0M27.2 200.2h0M44.1 188.5h0M26.9 211.6h0M58.8 201.4h0M38.0 198.0h0M27.1 195.4h0M54.1 208.8h0M25.9 202.9h0M43.8 221.1h0M22.4 216.5h0M58.0 162.0h0M50.0 187.5h0M41.8 202.9h0M14.1 198.0h0M25.8 199.0h0M23.2 162.2h0M19.6 201.5h0M4.9 212.7h0M40.4 180.9h0M90.0 167.7h0M37.5 180.7h0M52.4 185.1h0M10.9 212.3h0M36.4 206.8h0M12.4 225.1h0M25.1 191.8h0M35.7 199.2h0M61.9 179.8h0M5.4 182.1h0M1.8 211.2h0M32.6 182.7h0M42.3 214.0h0M25.5 210.7h0M6.5 195.2h0M37.1 197.5h0M27.4 204.4h0M42.0 193.0h0M48.2 179.7h0M30.1 190.0h0M4.3 203.2h0M60.3 200.6h0M8.2 190.8h0M18.8 207.9h0M30.2 175.6h0M33.0 196.2h0M60.1 176.1h0M56.5 222.9h0M32.3 184.2h0M51.5 198.4h0M45.5 184.2h0M22.2 183.1h0M69.4 178.7h0M52.3 198.0h0M24.4 176.2h0M41.3 204.1h0M47.5 196.6h0M40.5 207.0h0M33.4 182.6h0M43.8 218.8h0M57.9 199.8h0M24.3 223.7h0M38.0 209.1h0M27.6 214.9h0M70.7 170.5h0M84.8 186.3h0M34.9 177.8h0M36.0 203.2h0M36.6 191.2h0M18.6 210.5h0M42.5 206.9h0M36.4 203.6h0M36.7 200.8h0M39.6 201.2h0M53.4 194.5h0M63.6 168.3h0M103.7 180.5h0M21.5 190.6h0M40.2 201.6h0M9.2 208.6h0M16.2 203.1h0M30.3 202.8h0M38.3 195.2h0M41.2 209.1h0M17.1 195.1h0M35.7 190.2h0M52.8 189.3h0M50.0 186.2h0M2.6 217.5h0M43.6 206.7h0M44.0 194.2h0M55.3 197.8h0M34.1 204.5h0M36.4 207.7h0M36.6 202.0h0M24.5 202.7h0M21.7 193.4h0M74.1 179.6h0M9.6 221.4h0M51.5 196.0h0M51.5 199.3h0M54.4 201.8h0M11.5 203.5h0M38.5 193.6h0M23.8 192.5h0M34.5 188.7h0M52.2 214.0h0M17.4 208.8h0M37.4 187.2h0M35.7 208.1h0M3.3 209.4h0M75.1 163.5h0M14.7 204.7h0M59.1 198.0h0M22.4 209.2h0M33.7 200.3h0M38.1 197.1h0M36.2 185.1h0M66.9 191.9h0M26.5 186.6h0M66.4 187.6h0M48.6 224.9h0M6.7 189.0h0M52.5 208.6h0M26.5 215.6h0M62.3 181.1h0M50.7 199.8h0M48.1 184.4h0M11.0 209.8h0M46.9 204.5h0M23.7 209.0h0M23.9 219.8h0M12.4 209.5h0M56.0 192.8h0M5.0 188.9h0M63.3 179.8h0M36.7 219.1h0M37.0 192.3h0M15.5 209.5h0M45.8 191.1h0M38.2 204.1h0M72.6 182.0h0M27.2 202.1h0M31.6 198.8h0M63.0 199.7h0M35.3 189.6h0M0.9 197.8h0M33.0 203.7h0M37.1 209.6h0M52.9 175.7h0M4.7 207.0h0M26.4 200.7h0M20.8 211.4h0M25.6 200.4h0M15.8 198.8h0M21.6 220.9h0M56.1 195.8h0M32.7 194.4h0M48.2 193.4h0M18.7 220.3h0M22.9 198.3h0M77.5 211.0h0M30.3 200.2h0M35.0 209.3h0M37.8 193.5h0M45.6 206.0h0M39.7 190.8h0M29.8 211.6h0M15.0 217.8h0M25.2 203.0h0M4.5 195.3h0M37.7 189.1h0M2.2 215.0h0M20.0 209.7h0M59.3 168.5h0M32.3 215.9h0M35.8 207.2h0M32.0 211.6h0M49.5 191.1h0M56.7 183.2h0M33.6 211.5h0M18.2 214.3h0M30.7 176.8h0M51.0 221.2h0M45.1 194.5h0M39.0 200.2h0M34.9 193.8h0M49.7 212.0h0M12.4 211.2h0M46.0 200.6h0M15.1 212.3h0M35.7 186.4h0M32.5 195.3h0M17.9 198.1h0M27.7 212.7h0M7.4 228.1h0M44.6 186.8h0M8.1 204.6h0M36.1 207.8h0M79.1 171.7h0M37.7 203.3h0M28.2 213.0h0M16.6 204.9h0M76.0 191.6h0M64.3 171.4h0M22.4 202.3h0M91.1 166.3h0M19.1 205.5h0M45.6 203.6h0M23.1 222.3h0M9.6 225.3h0M43.1 180.8h0M48.0 222.1h0M60.4 173.4h0M27.4 194.2h0M34.2 187.4h0M37.1 205.3h0M32.0 194.5h0M29.7 220.6h0M24.7 214.9h0M45.3 201.7h0M30.2 219.0h0M47.4 219.1h0M45.7 194.8h0M65.3 180.2h0M25.6 202.5h0M27.8 196.6h0M59.5 182.9h0M18.0 193.0h0M40.7 178.0h0M55.1 181.6h0M22.8 195.8h0M59.6 191.1h0M50.2 200.8h0M9.4 216.6h0M0.9 200.0h0M37.1 223.9h0M16.0 218.6h0M77.0 197.8h0M27.8 216.3h0M47.9 201.0h0M57.0 195.9h0M23.2 207.3h0M38.4 194.3h0M43.4 187.8h0M29.9 189.8h0M19.2 221.0h0M65.2 202.4h0M8.9 202.5h0M55.8 199.9h0M30.6 192.8h0M43.6 213.5h0M42.6 199.2h0M12.6 200.6h0M22.4 203.2h0M14.1 189.2h0M16.9 207.2h0M28.5 201.4h0M38.2 168.6h0M17.4 202.0h0M24.1 211.3h0M19.1 195.9h0M24.0 209.7h0M28.4 194.5h0M20.0 202.6h0M48.7 197.5h0M32.9 177.0h0M59.1 183.5h0M20.7 208.9h0M47.6 181.6h0M8.0 198.8h0M44.2 193.9h0M26.6 191.1h0M33.1 176.0h0M18.1 211.7h0M38.3 195.3h0M44.0 214.4h0M12.2 209.4h0M3.4 196.9h0M57.3 216.1h0M64.7 158.6h0M23.6 211.0h0M60.5 198.5h0M17.1 193.4h0M25.6 184.1h0M41.8 185.9h0M37.2 180.5h0M15.8 187.3h0M36.0 183.6h0M28.2 206.4h0M59.5 164.3h0M29.8 224.2h0M27.0 195.8h0M24.5 191.8h0M56.3 186.1h0M10.4 202.5h0M47.8 201.9h0M49.9 219.7h0M33.0 204.5h0M34.3 191.2h0M65.3 166.2h0M64.5 167.9h0M73.7 192.0h0M64.5 177.0h0M59.0 169.1h0M68.1 173.5h0M72.8 165.4h0M72.3 161.6h0M52.1 166.3h0M76.8 174.7h0M54.7 181.3h0M64.8 172.4h0M67.7 166.7h0M49.3 175.9h0M68.4 164.6h0M75.9 162.0h0M63.1 172.1h0M57.5 173.7h0M68.2 180.5h0M58.5 169.1h0M61.3 170.0h0M68.1 165.9h0M73.5 186.7h0M50.9 174.9h0M58.6 185.5h0M67.4 166.9h0M79.6 166.3h0M64.3 167.7h0M67.5 164.3h0M72.0 177.5h0M70.3 170.5h0M64.6 176.6h0M71.0 172.9h0M64.8 167.2h0M71.4 180.4h0M61.5 167.2h0M68.1 167.9h0M67.2 169.3h0M58.4 169.4h0M63.9 185.0h0M61.2 181.5h0M74.6 167.2h0M60.1 168.6h0M72.6 165.6h0M58.5 163.1h0M65.9 153.3h0M69.1 176.0h0M75.3 174.5h0M69.6 171.4h0M67.4 167.4h0M66.5 182.3h0M67.1 167.5h0M69.5 175.3h0M77.3 169.2h0M61.1 178.5h0M69.1 186.4h0M62.3 171.2h0M56.8 173.5h0M68.1 173.2h0M56.9 180.1h0M60.7 162.0h0M53.4 176.5h0M73.5 172.9h0M66.0 178.4h0M77.4 162.2h0M63.1 167.5h0M68.6 179.4h0M57.2 165.2h0M60.0 172.9h0M73.8 167.0h0M62.9 171.2h0M60.8 165.8h0M61.3 158.4h0M69.3 177.5h0M60.8 174.3h0M67.8 178.8h0M69.9 181.2h0M66.8 166.3h0M70.2 164.9h0M67.3 167.6h0M72.4 173.4h0M67.6 178.2h0M61.7 175.6h0M61.8 167.2h0M73.4 166.8h0M69.9 170.2h0M61.0 165.9h0M67.9 175.8h0M57.1 168.6h0M76.0 169.2h0M56.8 171.1h0M69.6 175.9h0M67.0 171.4h0M74.3 161.9h0M74.0 160.5h0M64.3 181.6h0M54.1 176.6h0M63.6 178.1h0M68.5 170.5h0M67.5 167.7h0M138.3 107.9h0M130.3 104.7h0M96.4 114.5h0M150.0 91.9h0M113.1 106.8h0M139.4 102.6h0M105.8 104.2h0M108.8 110.0h0M98.3 89.2h0M114.2 97.4h0M120.9 100.0h0M114.6 92.4h0M131.7 86.1h0M118.8 102.1h0M137.1 89.1h0M121.0 115.0h0M116.5 112.8h0M99.4 97.7h0M108.1 92.0h0M121.1 95.8h0M110.4 104.4h0M103.0 98.3h0M129.6 98.8h0M103.6 103.3h0M111.1 111.9h0M106.4 99.4h0M131.4 96.9h0M112.1 111.8h0M148.6 96.3h0M139.7 101.5h0M115.0 113.8h0M110.3 78.0h0M118.1 92.2h0M92.0 106.0h0M143.9 105.4h0M112.6 95.4h0M95.8 93.9h0M104.8 102.3h0M95.6 102.1h0M110.3 101.4h0M110.3 110.4h0M142.2 104.9h0M146.3 86.7h0M134.8 97.3h0M111.9 104.0h0M100.2 97.4h0M107.0 101.7h0M99.1 104.4h0M104.2 98.8h0M124.4 93.8h0M118.0 101.1h0M101.0 104.7h0M120.0 115.8h0M141.8 101.8h0M178.2 91.4h0M124.0 93.1h0M112.3 95.8h0M102.7 98.9h0M139.2 93.2h0M122.2 107.7h0M113.9 93.4h0M109.3 89.4h0M127.3 108.6h0M111.2 105.8h0M137.7 95.3h0M112.4 85.5h0M110.5 99.2h0M119.6 97.4h0M134.0 96.4h0M89.8 86.4h0M122.4 90.7h0M106.5 100.3h0M110.5 91.7h0M137.6 109.8h0M97.7 96.9h0M99.5 100.9h0M135.7 89.4h0M125.3 114.8h0M138.9 101.0h0M115.3 100.5h0M101.7 91.5h0M100.2 101.0h0M127.8 96.6h0M126.8 93.4h0M107.9 103.8h0M104.1 103.4h0M109.1 97.8h0M120.5 117.2h0M131.1 118.4h0M132.7 109.9h0M92.5 109.8h0M93.5 86.8h0M121.7 103.8h0M97.9 98.7h0M123.3 93.3h0M119.5 103.0h0M110.8 98.5h0M130.7 109.2h0M124.5 104.5h0M116.3 112.9h0M89.4 102.0h0M118.6 105.7h0M131.8 99.1h0M92.3 98.3h0M131.7 93.1h0M121.5 96.6h0M121.9 96.3h0M91.4 105.7h0M133.2 94.1h0M99.6 100.5h0M92.6 90.1h0M111.6 100.8h0M125.6 100.2h0M117.4 102.6h0M113.7 103.5h0M102.1 104.9h0M118.6 89.0h0M135.1 98.2h0M126.8 108.6h0M119.7 95.0h0M135.1 93.4h0M106.8 101.1h0M122.1 102.7h0M93.3 99.4h0M143.9 94.1h0M135.0 105.7h0M117.9 93.2h0M104.9 115.7h0M124.7 109.5h0M94.6 103.8h0M80.5 99.9h0M125.9 107.3h0M106.2 107.4h0M114.0 98.2h0M123.0 104.6h0M127.1 113.3h0M95.8 84.9h0M105.1 85.9h0M105.6 88.0h0M123.7 104.9h0M102.3 94.7h0M146.8 102.3h0M116.6 86.1h0M95.1 100.5h0M131.6 104.1h0M99.0 75.6h0M139.1 99.1h0M103.6 99.8h0M114.2 107.2h0M121.3 106.0h0M92.3 100.2h0M87.1 104.9h0M115.0 94.7h0M107.2 105.6h0M86.6 89.5h0M90.3 91.2h0M130.3 85.4h0M109.9 91.8h0M115.4 99.7h0M129.0 106.1h0M98.2 114.5h0M134.0 93.1h0M119.4 101.9h0M124.0 102.3h0M128.5 110.6h0M97.7 97.6h0M95.7 102.9h0M115.9 103.3h0M147.7 99.0h0M101.8 104.5h0M118.4 104.2h0M99.3 106.2h0M151.4 101.7h0M128.7 92.2h0M103.3 93.1h0M104.5 89.5h0M96.4 111.0h0M108.3 101.1h0M114.0 95.4h0M96.4 100.3h0M120.0 90.9h0M106.9 99.4h0M111.7 102.4h0M131.5 93.1h0M117.9 82.4h0M133.6 89.8h0M97.2 103.9h0M134.6 94.7h0M97.3 95.6h0M126.5 115.1h0M109.6 117.3h0M103.4 93.3h0M130.3 106.2h0M124.9 107.3h0M111.9 105.6h0M133.6 98.2h0M92.6 106.1h0M121.8 105.6h0M94.3 91.2h0M110.4 94.9h0M103.4 113.9h0M119.1 101.0h0M127.7 95.9h0M114.7 99.0h0M143.3 86.7h0M95.2 94.8h0M144.3 96.8h0M81.1 115.5h0M127.4 112.4h0M97.6 97.5h0M118.1 93.2h0M118.4 113.1h0M99.9 107.2h0M125.2 97.5h0M127.5 102.3h0M118.4 101.0h0M125.6 89.5h0M108.0 108.4h0M132.6 96.4h0M122.9 89.8h0M99.0 106.5h0M101.2 103.1h0M117.3 111.7h0M100.1 81.2h0M91.6 119.0h0M110.1 92.0h0M111.9 94.1h0M107.7 93.0h0M140.0 91.2h0M100.6 98.1h0M138.9 103.2h0M92.9 101.9h0M136.6 94.7h0M106.9 96.8h0M104.5 98.1h0M129.4 114.8h0M108.2 95.8h0M120.9 104.2h0M122.5 102.7h0M119.3 117.6h0M90.2 115.4h0M70.5 100.6h0M105.5 112.7h0M118.0 100.9h0M132.1 102.8h0M100.9 101.2h0M122.5 113.3h0M86.8 110.4h0M132.5 106.5h0M111.3 98.9h0M142.2 101.3h0M106.7 99.4h0M110.7 103.2h0M139.2 95.0h0M121.9 101.9h0M149.3 86.4h0M119.0 97.2h0M104.8 94.1h0M102.5 101.1h0M125.5 101.0h0M128.1 88.6h0M102.2 92.7h0M136.2 107.9h0M133.1 96.2h0M113.7 100.9h0M94.0 92.6h0M88.8 92.8h0M104.7 103.6h0M107.1 100.5h0M96.1 105.0h0M120.2 94.8h0M127.1 95.3h0M100.4 89.7h0M94.4 98.5h0M87.8 99.4h0M92.1 107.0h0M101.5 94.4h0M120.3 88.2h0M111.1 99.1h0M128.2 94.0h0M108.3 106.4h0M106.8 99.3h0M133.2 95.3h0M121.1 102.5h0M117.9 105.5h0M131.7 102.6h0M94.1 99.6h0M109.9 93.7h0M156.6 93.3h0M109.0 89.1h0M112.7 102.3h0M108.1 106.9h0M126.5 109.0h0M88.6 103.7h0M131.9 86.2h0M135.0 98.9h0M108.1 107.4h0M120.4 95.7h0M114.9 91.2h0M115.0 97.2h0M122.3 101.3h0M97.8 103.0h0M99.5 93.4h0M126.8 81.1h0M91.4 102.5h0M113.4 101.5h0M122.0 109.3h0M124.4 88.0h0M91.5 97.9h0M120.9 98.9h0M99.5 106.3h0M109.9 105.7h0M87.8 91.9h0M100.2 110.7h0M102.7 113.4h0M117.6 103.2h0M123.7 100.7h0M122.9 102.3h0M114.8 96.9h0M102.8 100.1h0M97.5 89.8h0M110.1 96.3h0M97.0 111.2h0M111.5 97.0h0M99.8 111.6h0M105.8 96.4h0M92.7 101.6h0M98.4 89.3h0M115.2 122.6h0M123.8 83.9h0M107.9 106.1h0M114.4 93.0h0M120.6 105.7h0M122.2 103.1h0M131.9 88.4h0M119.6 95.0h0M134.1 99.3h0M139.4 104.7h0M119.5 110.7h0M103.2 104.8h0M124.1 86.4h0M137.2 105.5h0M112.4 103.4h0M114.4 111.7h0M100.5 99.5h0M113.1 105.7h0M119.2 107.1h0M127.5 94.8h0M102.2 98.3h0M116.4 101.3h0M106.8 84.4h0M103.7 103.1h0M135.2 109.0h0M90.7 83.4h0M135.8 87.9h0M105.7 89.9h0M131.0 85.0h0M149.2 97.0h0M121.8 101.9h0M92.3 97.8h0M113.2 93.6h0M150.2 96.4h0M82.2 96.5h0M99.7 90.9h0M103.1 99.1h0M133.1 100.9h0M116.8 94.9h0M117.8 100.7h0M99.6 107.9h0M104.8 100.2h0M120.3 102.1h0M96.8 99.3h0M85.2 93.5h0M108.1 107.0h0M121.5 86.3h0M123.3 113.2h0M114.7 93.8h0M118.2 105.2h0M106.1 105.3h0M81.8 102.6h0M89.8 64.5h0M70.6 115.4h0M142.7 70.1h0M144.1 116.7h0M156.1 81.7h0M81.3 101.9h0M130.4 97.2h0M30.7 91.5h0M71.4 78.0h0M82.2 125.7h0M116.3 110.7h0M89.6 104.1h0M122.2 120.1h0M151.6 98.0h0M48.8 98.1h0M134.0 93.1h0M117.5 122.0h0M102.7 100.3h0M117.0 111.1h0M126.5 81.2h0M147.4 68.9h0M133.4 77.2h0M73.9 87.7h0M40.4 113.4h0M131.9 132.8h0M161.8 135.3h0M128.0 105.3h0M79.9 83.8h0M59.5 84.8h0M112.5 109.9h0M143.5 141.3h0M100.0 103.5h0M70.9 92.7h0M134.9 114.6h0M133.3 92.7h0M111.6 104.2h0M117.1 90.9h0M96.8 88.8h0M132.1 83.9h0M71.3 116.2h0M135.5 108.1h0M137.6 110.8h0M77.4 142.0h0M77.0 98.3h0M85.4 118.0h0M138.6 69.2h0M55.6 118.6h0M74.4 127.7h0M150.1 95.6h0M114.8 105.0h0M126.2 111.7h0M89.3 107.9h0M101.9 117.7h0M146.3 99.0h0M95.5 73.5h0M121.4 104.8h0M92.5 119.9h0M86.0 119.4h0M50.0 106.4h0M75.1 93.7h0M101.1 117.3h0M150.4 108.3h0M116.8 99.3h0M96.7 98.6h0M77.5 89.9h0M126.5 104.0h0M154.0 102.2h0M111.0 103.4h0M126.1 126.1h0M128.1 90.2h0M116.1 88.4h0M57.1 119.4h0M110.9 74.9h0M90.9 95.3h0M108.9 129.8h0M95.7 104.4h0M56.4 111.1h0M75.1 72.2h0M172.8 106.0h0M163.7 110.4h0M104.9 123.4h0M83.3 110.0h0M161.1 129.2h0M69.2 100.4h0M85.3 115.5h0M137.5 85.9h0M131.4 102.9h0M114.7 108.6h0M70.7 110.7h0M137.7 95.9h0M85.0 88.6h0M115.8 117.9h0M132.6 142.3h0M152.6 100.9h0M121.6 91.0h0M114.3 78.8h0M88.2 88.9h0M137.4 82.2h0M157.9 81.5h0M116.5 124.1h0M100.0 117.8h0M102.2 88.9h0M129.4 101.5h0M85.9 104.8h0M115.5 96.3h0M115.5 91.4h0M112.6 97.8h0M62.0 83.9h0M89.0 85.4h0M105.5 111.3h0M117.0 88.4h0M105.6 108.4h0M133.7 91.0h0M78.7 94.3h0M75.2 88.8h0M78.7 121.0h0M175.9 130.6h0M122.2 66.0h0M147.8 98.0h0M102.3 103.7h0M102.9 118.5h0M87.7 110.3h0M80.7 83.3h0M62.7 109.4h0M115.5 91.3h0M114.7 90.4h0M126.4 82.6h0M138.2 82.6h0M107.0 100.4h0M105.3 96.8h0M104.5 85.1h0M89.7 83.0h0M129.1 95.3h0M111.0 111.9h0M126.4 89.7h0M89.6 120.9h0M88.0 114.9h0M111.1 114.0h0M142.3 92.4h0M80.2 96.3h0M122.8 133.3h0M103.8 117.6h0M64.2 102.8h0M90.1 88.8h0M121.9 118.5h0M140.2 131.1h0M150.3 98.0h0M123.7 116.3h0M111.1 72.1h0M125.0 80.4h0M163.3 111.6h0M64.0 119.1h0M122.6 128.7h0M107.6 109.7h0M215.7 111.2h0M165.2 70.6h0M131.8 119.0h0M104.0 107.9h0M126.1 93.9h0M106.5 87.2h0M85.2 116.6h0M120.9 88.3h0M146.9 104.5h0M90.8 112.1h0M112.5 92.7h0M57.5 79.9h0M102.5 102.4h0M89.5 126.0h0M120.0 131.1h0M132.9 105.7h0M83.4 101.5h0M97.3 104.5h0M151.3 104.3h0M115.7 109.8h0M124.6 97.0h0M91.8 107.4h0M173.2 98.6h0M142.4 90.7h0M130.7 102.0h0M100.1 85.5h0M129.3 105.1h0M92.5 104.6h0M141.2 111.5h0M102.1 111.8h0M52.7 109.1h0M97.8 145.0h0M83.3 71.2h0M130.2 102.8h0M108.5 97.3h0M88.2 101.1h0M111.0 105.9h0M78.1 70.9h0M74.3 110.9h0M124.2 75.9h0M120.4 91.5h0M115.8 115.5h0M100.8 106.8h0M101.3 108.9h0M66.9 103.6h0M68.4 111.6h0M172.7 115.8h0M144.6 97.0h0M142.3 94.0h0M62.9 120.0h0M75.2 100.9h0M77.2 96.8h0M133.6 140.9h0M106.4 93.1h0M127.1 110.7h0M107.9 97.2h0M125.4 109.7h0M106.5 93.4h0M77.5 106.5h0M114.7 67.1h0M139.5 82.8h0M130.0 97.7h0M71.6 111.9h0M146.6 95.7h0M104.9 92.1h0M108.5 108.7h0M112.1 79.8h0M99.3 98.9h0M76.4 105.0h0M155.3 104.8h0M108.7 96.0h0M51.2 81.6h0M147.8 123.7h0M161.9 99.1h0M127.4 60.8h0M104.2 113.3h0M103.2 103.9h0M64.3 133.8h0M107.8 112.7h0M110.8 95.3h0M109.6 84.1h0M127.2 65.1h0M145.4 93.0h0M140.8 91.9h0M51.0 96.0h0M57.6 118.8h0M24.3 108.1h0M50.1 92.3h0M124.5 96.3h0M157.5 108.6h0M91.6 97.3h0M173.4 78.6h0M72.3 92.5h0M152.1 102.2h0M117.6 118.7h0M88.0 97.6h0M145.1 93.8h0M186.6 97.0h0M142.1 83.3h0M62.9 117.7h0M53.1 123.0h0M102.6 103.1h0M92.0 102.6h0M114.8 95.0h0M98.0 99.4h0M111.5 84.1h0M145.6 109.8h0M93.9 119.5h0M104.6 91.3h0M141.4 118.2h0M117.6 88.7h0M123.5 89.8h0M126.7 124.7h0M108.5 99.4h0M130.3 105.4h0M109.6 78.6h0M145.1 95.5h0M162.6 85.7h0M125.0 107.7h0M149.6 118.8h0M81.3 96.4h0M78.3 108.2h0M180.0 113.9h0M128.3 108.6h0M152.8 112.0h0M95.6 105.6h0M95.9 95.0h0M120.6 112.0h0M142.5 116.9h0M178.8 120.6h0M157.1 109.0h0M127.6 107.3h0M119.8 96.6h0M99.0 75.2h0M95.8 104.0h0M76.7 103.0h0M144.6 122.4h0M133.4 112.9h0M85.0 83.9h0M72.0 94.8h0M120.0 95.8h0M133.1 97.8h0M123.9 96.4h0M128.8 105.9h0M136.8 98.4h0M59.6 158.4h0M137.8 162.8h0M104.1 174.5h0M133.9 196.4h0M111.2 176.1h0M109.2 212.5h0M91.7 183.3h0M133.9 212.5h0M104.9 162.7h0M131.1 184.4h0M94.3 202.1h0M123.8 140.8h0M97.0 160.6h0M135.8 203.0h0M109.8 190.5h0M85.1 162.3h0M95.7 181.6h0M113.2 171.5h0M109.5 155.9h0M112.8 192.1h0M95.7 163.4h0" stroke="#d42020" stroke-width="1.05" stroke-linecap="square" fill="none"/>
<path d="M28.6 218.3h0M31.0 189.9h0M13.1 212.2h0M37.2 190.1h0M60.4 224.2h0M28.8 207.5h0M40.1 203.5h0M29.9 187.4h0M22.2 191.5h0M16.8 194.7h0M5.7 208.3h0M56.5 207.4h0M36.0 209.9h0M63.6 187.1h0M41.5 193.8h0M34.8 197.0h0M28.0 212.2h0M49.9 193.7h0M30.5 212.9h0M53.7 196.3h0M26.9 201.7h0M36.2 203.0h0M13.5 208.8h0M58.2 181.3h0M26.7 191.5h0M28.7 205.0h0M48.6 209.5h0M21.0 204.7h0M48.9 211.5h0M15.7 202.4h0M38.0 195.4h0M25.6 219.5h0M10.2 211.9h0M24.9 203.6h0M16.8 213.9h0M40.0 199.3h0M33.0 201.2h0M41.1 203.0h0M38.6 211.0h0M24.0 194.1h0M38.0 211.8h0M39.0 181.4h0M31.6 204.8h0M22.4 203.6h0M23.8 213.2h0M37.0 217.7h0M27.8 214.7h0M57.1 193.6h0M18.9 209.5h0M23.1 215.3h0M24.9 194.5h0M35.6 186.9h0M27.4 198.6h0M14.7 193.3h0M27.3 215.6h0M37.4 222.6h0M45.6 197.9h0M16.9 198.8h0M29.2 196.9h0M18.1 189.6h0M34.6 195.0h0M44.6 214.2h0M19.5 219.8h0M65.2 194.8h0M39.0 208.8h0M22.3 195.3h0M19.8 202.2h0M33.8 212.1h0M35.8 206.9h0M43.9 206.4h0M31.9 199.5h0M34.5 189.7h0M18.4 222.1h0M23.3 205.2h0M15.9 197.5h0M42.0 216.0h0M35.7 193.1h0M13.9 207.9h0M37.9 217.9h0M44.5 203.4h0M42.4 192.9h0M19.2 208.1h0M36.6 191.7h0M35.7 196.9h0M32.5 214.8h0M45.7 166.5h0M16.2 201.6h0M32.3 209.4h0M30.1 181.3h0M34.6 197.6h0M38.8 219.9h0M57.8 211.2h0M48.3 188.5h0M43.4 195.2h0M47.6 201.3h0M25.3 187.3h0M13.0 196.4h0M53.4 175.9h0M22.1 209.2h0M54.5 176.9h0M35.7 212.0h0M32.8 194.2h0M27.1 194.8h0M46.5 200.3h0M20.6 191.6h0M53.9 188.0h0M39.0 197.7h0M34.0 198.5h0M32.0 218.1h0M39.8 207.6h0M38.7 214.4h0M55.1 188.8h0M37.7 182.2h0M11.6 205.8h0M55.0 200.3h0M8.8 225.9h0M50.1 189.4h0M4.9 202.1h0M30.6 196.9h0M35.5 181.4h0M32.0 200.0h0M14.4 197.1h0M40.8 179.4h0M2.9 194.2h0M19.7 220.2h0M46.5 186.7h0M24.0 210.2h0M38.2 205.2h0M44.4 200.6h0M31.0 201.1h0M26.2 178.6h0M28.7 188.9h0M29.0 186.6h0M50.5 201.6h0M47.0 202.2h0M37.8 201.9h0M42.2 192.4h0M30.3 213.4h0M25.2 209.6h0M23.8 214.2h0M40.8 193.6h0M51.0 188.8h0M31.2 195.5h0M6.1 207.6h0M20.7 192.0h0M34.8 190.9h0M32.2 190.8h0M39.5 212.9h0M48.9 204.4h0M47.5 203.5h0M12.0 199.8h0M36.6 195.8h0M26.9 212.5h0M34.9 198.6h0M44.1 186.0h0M56.6 194.0h0M44.8 205.0h0M32.4 216.9h0M31.0 208.9h0M36.9 193.4h0M23.2 212.6h0M33.6 205.5h0M30.9 178.2h0M48.9 206.8h0M31.9 209.2h0M38.4 201.7h0M56.7 209.4h0M38.8 204.7h0M16.5 221.5h0M38.6 207.2h0M32.1 192.0h0M27.1 202.9h0M33.7 202.0h0M14.4 209.3h0M53.9 207.1h0M31.2 184.8h0M26.5 205.5h0M29.5 187.0h0M41.2 215.3h0M25.6 213.7h0M4.2 225.5h0M58.1 191.2h0M20.2 210.4h0M22.8 189.5h0M45.7 211.0h0M38.0 224.3h0M44.9 189.5h0M22.8 210.5h0M33.5 185.1h0M5.2 209.1h0M44.4 203.7h0M41.4 198.0h0M41.4 208.3h0M34.3 195.3h0M38.8 205.8h0M33.1 174.6h0M38.2 182.3h0M19.0 202.1h0M43.3 190.3h0M27.2 219.9h0M39.0 209.6h0M28.4 200.2h0M34.8 190.6h0M24.4 194.3h0M35.6 194.6h0M25.3 200.8h0M22.0 209.1h0M43.1 189.6h0M34.4 186.8h0M38.2 196.8h0M46.8 201.1h0M19.1 206.1h0M45.3 199.2h0M16.1 199.6h0M41.1 207.2h0M31.9 205.4h0M43.5 215.8h0M41.2 197.2h0M38.2 212.5h0M19.1 201.6h0M46.8 201.9h0M44.7 189.5h0M35.4 185.2h0M43.5 191.3h0M7.8 204.3h0M34.1 202.1h0M32.2 203.9h0M7.2 209.0h0M26.4 184.5h0M35.5 207.1h0M17.4 216.7h0M16.9 194.3h0M31.7 196.4h0M44.9 208.4h0M41.0 196.6h0M17.4 203.9h0M26.1 221.7h0M26.5 204.1h0M35.1 208.0h0M27.6 208.7h0M30.1 202.0h0M39.6 193.4h0M38.1 191.1h0M36.1 204.3h0M18.8 208.0h0M27.0 204.7h0M32.8 183.6h0M40.9 191.1h0M40.6 184.4h0M21.9 212.1h0M22.8 194.9h0M13.1 198.1h0M22.3 213.9h0M13.2 216.1h0M50.6 195.1h0M39.2 200.2h0M22.4 199.8h0M30.2 193.9h0M36.5 196.2h0M53.5 190.0h0M40.7 193.6h0M58.7 208.2h0M42.2 206.1h0M53.8 204.9h0M51.5 195.4h0M43.8 195.2h0M26.9 187.8h0M42.7 187.6h0M30.8 209.6h0M53.3 199.6h0M31.8 208.0h0M25.2 206.8h0M65.4 211.1h0M28.5 205.3h0M36.7 204.4h0M21.0 198.5h0M24.5 194.4h0M22.0 209.8h0M51.5 202.4h0M16.3 189.1h0M20.7 215.5h0M49.9 202.4h0M47.8 210.8h0M11.5 230.0h0M20.1 192.3h0M40.8 186.7h0M17.3 192.6h0M31.6 207.7h0M20.4 182.3h0M8.2 220.7h0M24.1 211.0h0M39.2 190.4h0M48.8 189.2h0M27.6 192.5h0M27.1 192.3h0M39.1 196.9h0M38.3 207.5h0M44.7 210.3h0M27.7 218.0h0M28.5 191.0h0M30.5 179.8h0M41.5 200.5h0M15.8 214.3h0M39.5 189.1h0M38.8 210.2h0M43.4 218.8h0M7.3 202.8h0M31.3 196.3h0M12.4 207.7h0M37.3 207.6h0M30.7 196.6h0M41.7 218.1h0M43.0 217.0h0M29.2 193.0h0M42.7 186.8h0M43.1 196.8h0M62.3 211.9h0M64.0 186.7h0M48.2 208.7h0M45.7 202.4h0M57.5 192.5h0M27.4 216.5h0M34.7 214.7h0M34.8 196.2h0M16.4 214.6h0M44.1 193.6h0M48.6 183.6h0M23.2 219.9h0M18.1 194.6h0M43.9 195.2h0M56.5 207.9h0M20.8 227.5h0M38.3 195.1h0M32.4 206.3h0M8.2 207.1h0M22.7 192.9h0M24.0 200.4h0M32.6 197.2h0M39.4 214.2h0M32.0 208.4h0M29.6 198.7h0M32.8 206.5h0M41.7 204.2h0M50.3 208.0h0M44.2 195.1h0M24.9 213.0h0M31.0 223.0h0M29.7 216.4h0M53.3 200.1h0M35.1 191.2h0M27.2 214.0h0M14.8 199.9h0M14.8 195.1h0M34.3 203.8h0M20.9 211.3h0M34.2 204.8h0M48.6 192.4h0M24.7 192.3h0M43.7 197.6h0M19.1 220.8h0M42.9 211.9h0M44.5 217.3h0M19.9 203.4h0M48.8 191.9h0M25.9 187.0h0M29.6 216.7h0M29.7 204.4h0M50.5 209.1h0M15.8 208.9h0M33.9 199.2h0M25.8 217.3h0M36.8 203.0h0M21.0 193.2h0M37.9 214.9h0M52.1 218.7h0M32.5 199.6h0M33.7 185.9h0M44.7 204.8h0M36.0 195.5h0M38.2 205.8h0M31.7 197.8h0M39.6 195.8h0M44.8 188.8h0M53.6 187.3h0M49.7 181.6h0M20.2 206.3h0M30.7 187.6h0M40.4 202.3h0M53.6 207.4h0M45.1 194.1h0M12.3 203.3h0M28.2 183.0h0M12.8 213.2h0M31.1 213.0h0M16.7 196.7h0M30.7 216.6h0M49.4 186.7h0M30.0 212.8h0M21.8 194.0h0M34.8 202.0h0M50.8 206.1h0M11.1 209.5h0M51.3 189.3h0M20.5 199.5h0M22.0 210.3h0M27.9 187.1h0M37.9 191.1h0M61.4 176.6h0M41.7 192.1h0M29.0 212.6h0M25.4 192.3h0M15.4 195.0h0M40.9 198.2h0M41.0 192.8h0M24.0 193.7h0M46.0 194.0h0M1.1 187.7h0M25.6 201.8h0M24.0 212.5h0M26.8 207.8h0M14.8 215.6h0M43.7 194.7h0M20.0 205.0h0M31.9 204.3h0M42.4 184.6h0M52.7 193.1h0M43.0 186.1h0M6.4 216.6h0M27.9 201.1h0M29.1 205.3h0M20.7 198.0h0M18.6 196.7h0M29.6 212.9h0M45.3 210.1h0M24.0 197.9h0M13.4 203.4h0M14.6 213.4h0M36.2 204.6h0M17.8 224.9h0M40.6 196.3h0M30.7 213.3h0M23.4 198.0h0M28.2 184.6h0M29.4 206.1h0M36.8 187.7h0M19.9 215.3h0M16.4 224.7h0M50.4 176.8h0M34.5 199.9h0M5.2 225.2h0M50.3 184.9h0M20.3 220.2h0M57.7 189.4h0M55.8 192.7h0M39.6 188.1h0M29.8 195.1h0M23.9 210.4h0M47.8 203.1h0M31.3 211.2h0M46.9 196.9h0M25.4 194.6h0M15.9 215.9h0M33.8 201.6h0M28.6 208.2h0M38.5 209.2h0M17.9 199.2h0M48.4 183.2h0M28.2 208.3h0M32.8 184.7h0M14.9 216.7h0M51.2 214.1h0M55.4 200.0h0M39.1 195.5h0M29.2 201.4h0M21.5 206.9h0M38.3 193.5h0M37.7 193.0h0M19.7 214.8h0M35.1 205.4h0M38.7 196.3h0M28.3 216.4h0M36.6 189.7h0M29.0 201.6h0M48.7 188.5h0M17.0 207.9h0M37.7 194.7h0M35.2 202.4h0M10.6 213.6h0M17.3 197.6h0M24.3 210.3h0M44.0 195.2h0M25.7 197.5h0M35.1 206.4h0M36.8 204.8h0M69.8 197.6h0M19.6 180.6h0M56.6 190.2h0M29.8 200.7h0M9.1 200.9h0M16.4 192.1h0M8.8 189.7h0M31.7 210.7h0M12.1 203.8h0M26.6 217.3h0M56.1 189.9h0M40.3 209.8h0M36.4 198.3h0M57.5 196.0h0M11.6 208.7h0M36.3 190.7h0M25.9 201.7h0M32.0 200.7h0M25.6 207.7h0M40.3 213.6h0M50.1 198.9h0M52.0 203.8h0M38.0 204.4h0M40.7 191.8h0M23.4 219.4h0M53.4 212.1h0M57.4 189.0h0M46.1 214.9h0M21.9 197.7h0M36.2 207.1h0M47.8 194.3h0M17.1 205.1h0M32.6 198.6h0M39.7 196.4h0M21.6 210.2h0M57.4 187.1h0M40.2 191.0h0M47.9 180.5h0M13.5 194.4h0M36.3 201.9h0M53.0 195.6h0M39.4 201.1h0M43.9 184.7h0M14.0 220.3h0M32.1 202.8h0M29.1 209.5h0M35.8 198.5h0M33.5 206.6h0M12.8 199.0h0M32.5 191.3h0M40.2 196.4h0M30.7 200.1h0M40.9 192.8h0M46.3 193.9h0M51.8 202.5h0M32.6 211.9h0M46.1 213.4h0M22.2 199.2h0M31.4 201.3h0M45.9 195.4h0M34.6 208.7h0M34.6 219.9h0M24.1 201.8h0M38.4 197.1h0M47.9 182.2h0M44.3 196.5h0M27.3 197.0h0M36.4 183.6h0M46.3 200.0h0M48.7 188.7h0M27.9 212.7h0M39.5 195.5h0M25.0 197.7h0M23.3 198.5h0M45.9 189.6h0M36.7 192.4h0M26.0 184.4h0M48.4 191.5h0M37.1 205.5h0M32.4 229.0h0M50.0 209.4h0M26.2 217.0h0M22.9 208.1h0M23.6 195.1h0M33.0 207.0h0M40.7 189.9h0M24.5 195.1h0M12.7 216.6h0M25.6 204.3h0M30.3 186.3h0M27.2 193.3h0M24.4 187.4h0M18.8 210.6h0M23.4 193.9h0M36.6 191.3h0M30.2 177.0h0M26.1 213.8h0M17.1 191.0h0M18.9 202.6h0M47.4 203.0h0M27.5 214.1h0M34.7 214.3h0M27.6 216.7h0M21.5 206.4h0M25.3 189.7h0M47.3 204.0h0M35.3 225.3h0M41.4 182.7h0M29.9 197.2h0M44.2 202.9h0M63.6 188.5h0M66.8 202.0h0M35.4 197.9h0M31.4 196.0h0M31.4 203.2h0M36.2 186.1h0M6.3 204.4h0M28.8 215.5h0M28.9 197.5h0M31.8 223.8h0M24.3 215.1h0M43.2 182.4h0M19.3 219.2h0M28.6 206.3h0M22.9 198.9h0M38.1 227.8h0M23.7 215.6h0M37.2 186.6h0M32.7 205.0h0M54.7 193.0h0M20.4 218.6h0M32.4 196.7h0M11.9 197.6h0M37.9 205.2h0M52.2 206.0h0M13.7 197.0h0M46.2 198.7h0M25.2 211.3h0M22.1 215.3h0M31.5 188.3h0M37.9 188.6h0M36.6 205.5h0M36.5 199.5h0M35.4 208.2h0M26.6 204.5h0M10.6 222.6h0M23.8 194.1h0M19.8 196.3h0M34.1 186.7h0M21.8 204.5h0M62.1 200.2h0M42.4 202.3h0M30.3 209.6h0M38.0 191.8h0M34.7 213.5h0M53.1 204.0h0M29.0 206.9h0M54.8 202.9h0M14.1 195.5h0M25.6 182.6h0M26.1 189.2h0M14.5 190.9h0M26.6 198.4h0M38.9 214.2h0M14.0 199.0h0M24.4 210.7h0M31.5 183.1h0M13.2 184.0h0M54.5 197.3h0M51.5 191.0h0M22.6 194.7h0M43.0 211.8h0M35.8 190.7h0M42.0 198.2h0M26.6 205.1h0M44.7 203.2h0M26.3 204.4h0M34.4 208.0h0M50.3 199.2h0M33.1 204.7h0M22.3 209.6h0M31.9 217.9h0M43.3 213.7h0M15.7 189.2h0M17.8 200.5h0M34.8 200.9h0M19.6 203.3h0M56.5 185.2h0M29.6 216.1h0M49.0 214.1h0M19.6 220.0h0M28.0 201.9h0M39.5 189.6h0M30.8 180.0h0M30.1 175.1h0M30.1 214.0h0M33.5 196.8h0M24.0 188.9h0M10.1 197.8h0M42.8 186.4h0M31.2 219.7h0M29.1 201.0h0M43.3 196.6h0M44.4 205.3h0M58.9 174.6h0M34.7 207.8h0M56.3 205.9h0M31.0 201.0h0M31.6 197.8h0M51.6 207.2h0M41.0 197.6h0M28.6 208.3h0M30.4 198.8h0M31.8 193.3h0M54.4 193.6h0M32.7 225.5h0M33.8 196.1h0M34.1 184.5h0M32.3 195.7h0M26.2 203.3h0M45.7 202.2h0M19.2 201.7h0M56.2 189.4h0M6.1 227.9h0M13.3 221.6h0M24.5 178.3h0M39.8 195.7h0M31.8 184.3h0M19.4 191.2h0M35.8 212.4h0M24.7 183.1h0M19.2 200.2h0M36.0 220.0h0M13.4 189.9h0M46.7 193.9h0M31.0 184.0h0M23.2 194.3h0M29.1 205.2h0M23.2 195.1h0M30.8 207.0h0M26.9 179.9h0M22.9 191.3h0M28.4 208.0h0M39.4 203.0h0M37.2 215.9h0M32.4 200.2h0M27.1 186.5h0M28.4 197.5h0M15.7 200.2h0M28.5 199.7h0M53.7 207.5h0M24.7 211.1h0M21.2 202.6h0M27.1 202.4h0M30.2 207.8h0M53.2 200.7h0M27.9 200.2h0M46.3 193.2h0M48.6 209.6h0M47.8 210.1h0M37.2 190.3h0M37.3 199.5h0M38.2 195.9h0M49.9 198.9h0M2.8 202.0h0M36.7 198.0h0M45.8 191.8h0M28.4 212.6h0M31.2 199.1h0M46.4 202.8h0M11.4 211.5h0M39.8 206.8h0M19.9 208.6h0M35.4 199.5h0M40.5 205.9h0M40.8 210.8h0M19.3 204.9h0M24.7 183.9h0M26.0 207.1h0M37.8 202.4h0M26.3 199.4h0M17.3 195.1h0M39.8 186.6h0M18.0 208.8h0M29.5 210.5h0M50.5 204.7h0M36.9 198.8h0M47.6 205.4h0M24.3 215.1h0M37.8 206.6h0M24.7 212.3h0M11.0 211.4h0M42.7 204.1h0M22.0 211.4h0M35.2 203.3h0M30.6 227.5h0M39.2 197.7h0M45.6 210.8h0M12.9 191.4h0M25.9 219.6h0M3.6 224.2h0M25.7 201.7h0M29.4 202.0h0M29.3 218.0h0M43.9 203.4h0M31.7 202.2h0M32.1 200.3h0M25.4 206.1h0M16.6 215.4h0M40.6 216.8h0M40.0 190.2h0M48.0 195.7h0M38.4 208.4h0M20.2 215.3h0M26.2 198.4h0M36.7 205.5h0M10.3 189.0h0M30.5 208.9h0M24.6 205.0h0M18.9 198.1h0M19.1 205.3h0M31.7 189.7h0M41.5 203.3h0M47.7 194.7h0M28.9 202.1h0M38.5 212.1h0M7.3 202.5h0M34.5 196.5h0M52.0 199.5h0M27.2 214.9h0M44.9 212.1h0M20.2 191.6h0M40.9 202.7h0M42.5 199.4h0M18.2 217.0h0M21.0 205.4h0M18.3 194.8h0M30.8 204.2h0M43.1 182.0h0M25.8 185.6h0M33.4 199.0h0M38.7 208.5h0M33.9 225.1h0M43.7 190.7h0M38.4 197.3h0M43.1 198.7h0M38.4 205.6h0M22.4 223.4h0M43.0 206.6h0M25.8 207.1h0M23.3 210.7h0M66.1 187.1h0M42.2 192.5h0M27.7 204.2h0M36.6 183.4h0M57.1 218.3h0M39.2 208.3h0M31.1 210.8h0M49.6 206.2h0M41.0 194.9h0M42.0 199.3h0M15.1 217.3h0M45.4 214.6h0M62.8 199.9h0M15.0 198.3h0M26.8 202.0h0M22.5 204.9h0M26.2 203.8h0M36.4 214.3h0M57.5 189.9h0M25.9 196.8h0M52.6 192.7h0M24.2 213.8h0M39.7 196.2h0M33.0 203.9h0M27.5 203.8h0M42.5 213.4h0M51.3 198.2h0M43.1 211.0h0M38.5 192.4h0M30.3 193.5h0M39.5 200.1h0M36.5 196.1h0M42.9 196.2h0M29.8 198.6h0M26.8 207.3h0M27.5 204.8h0M22.0 193.6h0M40.9 200.9h0M19.2 197.5h0M44.1 201.9h0M42.5 213.9h0M53.6 204.8h0M34.0 196.6h0M38.9 179.2h0M47.3 217.8h0M37.7 205.3h0M26.5 196.8h0M32.0 183.8h0M34.1 200.4h0M28.7 212.1h0M28.4 207.1h0M12.0 218.6h0M54.0 208.9h0M42.9 185.7h0M25.0 199.5h0M17.6 209.0h0M43.4 202.0h0M46.5 194.4h0M33.9 204.3h0M26.5 208.8h0M51.8 200.9h0M39.7 187.4h0M42.0 187.6h0M53.4 184.3h0M29.5 195.0h0M43.2 218.0h0M56.6 187.4h0M45.8 201.7h0M62.3 184.6h0M16.0 214.3h0M45.8 210.3h0M40.9 203.9h0M15.9 202.2h0M14.3 192.3h0M22.3 207.9h0M37.2 191.6h0M12.6 205.2h0M29.6 201.0h0M20.5 201.5h0M33.1 195.4h0M53.9 189.6h0M30.7 205.8h0M33.8 181.7h0M25.4 186.7h0M34.8 214.5h0M16.3 222.1h0M29.1 202.0h0M12.8 226.2h0M28.8 215.7h0M36.0 206.9h0M39.1 212.6h0M17.0 196.4h0M28.5 200.2h0M12.2 193.6h0M40.0 195.2h0M17.3 207.8h0M68.8 192.6h0M44.1 200.9h0M30.2 199.9h0M58.1 199.4h0M17.6 199.6h0M43.7 186.0h0M26.3 208.8h0M35.7 206.7h0M23.4 199.6h0M22.8 205.2h0M28.8 212.3h0M37.4 206.0h0M22.5 190.0h0M53.5 187.6h0M28.3 190.0h0M22.3 204.2h0M29.7 205.5h0M44.6 219.0h0M32.5 183.8h0M8.1 192.8h0M28.6 188.8h0M23.1 210.9h0M32.3 200.9h0M28.4 204.3h0M51.8 205.5h0M43.7 195.8h0M44.4 180.6h0M18.8 200.0h0M22.6 199.9h0M31.5 201.1h0M21.1 198.2h0M18.0 193.9h0M31.5 186.3h0M53.8 179.8h0M36.9 203.5h0M46.2 183.8h0M8.0 197.8h0M62.6 204.7h0M57.5 187.7h0M31.6 196.7h0M28.5 212.0h0M47.8 217.4h0M5.2 199.1h0M40.2 211.3h0M10.0 212.4h0M47.6 185.8h0M32.0 204.5h0M18.3 197.8h0M48.9 193.0h0M38.5 213.7h0M21.9 198.5h0M40.4 182.5h0M10.7 199.9h0M50.1 206.2h0M48.4 195.1h0M35.6 218.2h0M45.1 191.1h0M52.3 190.6h0M17.3 193.3h0M27.4 213.3h0M45.1 202.5h0M48.5 211.6h0M25.1 210.4h0M7.8 197.9h0M47.7 194.6h0M25.0 201.3h0M13.9 191.5h0M31.6 187.4h0M8.7 206.7h0M58.3 185.5h0M8.1 211.2h0M38.3 220.1h0M29.1 181.8h0M39.8 197.4h0M14.7 198.8h0M32.9 213.2h0M51.4 208.8h0M31.7 195.3h0M42.7 201.4h0M39.5 211.3h0M32.8 195.6h0M26.4 215.7h0M17.8 207.6h0M27.9 200.2h0M15.4 200.4h0M47.3 187.1h0M39.3 192.9h0M51.0 201.4h0M8.8 198.0h0M13.6 202.5h0M43.3 203.6h0M28.6 187.8h0M42.4 215.1h0M48.2 204.0h0M22.0 211.0h0M11.0 195.9h0M18.1 197.9h0M61.7 197.3h0M35.2 209.2h0M24.3 209.2h0M51.3 195.7h0M40.1 189.6h0M38.3 186.3h0M33.9 185.0h0M30.4 204.2h0M62.1 208.8h0M45.5 203.0h0M23.8 221.0h0M25.6 223.1h0M24.0 204.3h0M40.6 191.8h0M27.0 209.7h0M27.7 200.0h0M23.5 197.1h0M34.8 204.3h0M45.5 190.2h0M27.8 205.5h0M30.1 196.0h0M48.4 180.8h0M8.1 198.1h0M35.6 197.7h0M36.9 204.5h0M35.2 209.2h0M49.0 204.0h0M61.1 192.5h0M29.1 193.3h0M35.8 209.3h0M42.3 201.3h0M17.7 206.4h0M26.6 199.4h0M38.5 203.7h0M40.5 211.0h0M28.9 216.5h0M50.6 204.6h0M13.6 196.4h0M26.7 210.5h0M18.9 203.7h0M39.5 203.4h0M39.7 190.3h0M36.9 213.4h0M45.7 192.2h0M22.4 192.2h0M35.4 203.9h0M36.5 202.3h0M34.2 205.4h0M37.2 205.0h0M27.9 223.2h0M9.5 217.8h0M23.1 197.8h0M32.6 212.9h0M27.4 197.3h0M19.8 206.7h0M18.1 209.8h0M50.9 176.2h0M47.1 208.0h0M33.4 192.0h0M34.4 199.4h0M30.1 215.7h0M37.2 215.1h0M43.6 188.1h0M47.7 201.4h0M24.3 201.1h0M25.2 200.5h0M25.2 201.7h0M28.2 213.9h0M50.0 209.0h0M30.8 176.4h0M36.1 198.4h0M29.2 212.6h0M46.8 191.3h0M32.3 199.4h0M6.3 224.2h0M56.5 211.8h0M32.7 193.7h0M26.5 206.8h0M48.4 193.0h0M22.7 200.7h0M41.8 199.0h0M24.0 205.4h0M59.9 194.6h0M58.9 194.1h0M32.4 191.5h0M34.6 198.0h0M47.8 178.5h0M41.0 198.8h0M19.6 206.0h0M37.4 219.0h0M24.5 211.2h0M44.5 206.6h0M32.9 195.6h0M50.3 193.6h0M33.6 194.2h0M33.0 225.7h0M20.9 210.9h0M54.6 199.2h0M46.3 189.0h0M21.7 203.5h0M14.0 207.6h0M9.8 201.6h0M41.9 188.6h0M33.0 213.2h0M60.5 202.2h0M27.1 201.7h0M21.1 185.0h0M31.1 205.0h0M42.7 202.1h0M59.6 202.3h0M19.3 201.6h0M42.5 195.9h0M50.6 193.6h0M30.2 199.4h0M25.8 197.4h0M46.1 193.5h0M25.0 202.4h0M26.0 194.1h0M16.1 194.1h0M27.4 204.7h0M40.2 206.9h0M28.3 178.2h0M21.7 183.0h0M31.5 194.1h0M11.9 196.6h0M55.3 181.9h0M24.3 216.3h0M36.2 190.9h0M26.3 211.7h0M29.7 193.7h0M13.0 222.9h0M26.6 209.5h0M22.2 217.6h0M32.4 189.9h0M38.9 211.0h0M22.1 207.8h0M18.9 203.1h0M36.3 195.7h0M28.0 207.0h0M39.4 196.9h0M36.8 201.0h0M27.3 204.8h0M24.1 191.8h0M11.6 215.4h0M33.5 203.8h0M32.3 208.1h0M34.3 205.7h0M52.7 197.7h0M31.6 194.7h0M34.4 204.5h0M29.3 194.1h0M25.1 198.6h0M51.9 197.1h0M35.9 209.1h0M50.2 198.3h0M49.7 215.0h0M28.0 214.6h0M39.9 209.5h0M47.0 196.0h0M24.7 195.4h0M36.8 207.0h0M25.1 191.6h0M33.8 209.4h0M39.1 189.7h0M26.2 213.0h0M31.2 207.9h0M36.3 203.5h0M4.5 224.0h0M32.5 210.6h0M31.0 194.2h0M41.8 208.2h0M27.1 209.7h0M21.8 207.9h0M46.3 202.7h0M24.0 204.5h0M43.5 210.4h0M38.4 210.8h0M24.9 208.5h0M22.5 194.6h0M23.3 206.2h0M45.3 196.8h0M37.1 204.7h0M15.2 218.6h0M56.8 193.9h0M57.5 209.9h0M53.2 204.5h0M16.2 194.8h0M26.0 202.7h0M32.1 218.3h0M53.8 199.7h0M36.4 206.1h0M33.9 194.3h0M28.3 199.2h0M18.0 213.5h0M45.4 199.6h0M52.0 170.8h0M33.6 211.3h0M26.8 216.5h0M26.6 209.0h0M20.1 194.0h0M17.0 213.9h0M27.8 206.9h0M25.5 196.1h0M16.1 213.3h0M25.7 172.4h0M30.5 210.5h0M21.0 212.6h0M30.8 195.6h0M53.2 193.9h0M50.9 195.2h0M45.9 192.9h0M53.4 209.0h0M51.9 210.2h0M39.7 192.0h0M47.0 202.8h0M63.9 202.5h0M36.9 221.2h0M46.9 204.0h0M21.0 218.2h0M48.9 213.4h0M60.3 214.4h0M32.5 210.1h0M50.6 183.4h0M21.1 204.8h0M56.7 201.5h0M32.5 207.1h0M32.9 187.8h0M27.9 201.3h0M47.5 211.1h0M32.2 203.6h0M43.7 187.3h0M39.0 212.4h0M35.8 198.0h0M26.1 193.5h0M37.3 195.8h0M30.7 210.1h0M29.0 199.2h0M14.3 204.3h0M28.4 205.3h0M33.4 213.9h0M32.2 203.4h0M37.5 208.4h0M13.1 206.9h0M38.7 187.3h0M64.5 196.8h0M34.3 202.2h0M6.9 206.8h0M39.3 188.7h0M39.2 213.6h0M28.7 197.7h0M33.9 197.2h0M37.4 209.2h0M27.0 194.0h0M45.9 210.0h0M33.0 191.9h0M32.2 208.4h0M43.3 199.5h0M45.5 186.5h0M50.6 196.4h0M19.6 202.4h0M36.2 204.5h0M43.4 201.9h0M31.9 191.7h0M34.1 205.4h0M50.8 200.5h0M41.3 205.9h0M40.5 200.3h0M12.9 203.7h0M13.7 203.0h0M33.4 215.7h0M39.8 207.9h0M42.0 188.8h0M25.0 206.7h0M49.0 182.9h0M38.9 205.8h0M23.8 194.3h0M39.1 186.7h0M59.8 210.7h0M29.3 188.7h0M27.3 185.1h0M36.3 197.1h0M42.2 193.8h0M30.0 199.6h0M38.5 211.9h0M40.8 210.4h0M34.7 207.3h0M37.2 196.6h0M18.0 189.2h0M13.1 218.9h0M28.5 206.6h0M29.6 204.3h0M51.8 180.2h0M46.2 194.5h0M43.7 210.6h0M36.4 222.9h0M18.1 205.5h0M27.4 209.3h0M42.3 204.6h0M29.7 198.0h0M25.5 217.4h0M41.8 213.7h0M21.1 197.0h0M48.0 219.0h0M59.0 196.5h0M51.5 212.9h0M50.2 202.3h0M26.0 202.9h0M37.1 201.2h0M39.2 203.6h0M41.5 211.7h0M9.4 207.1h0M50.3 198.1h0M27.0 218.5h0M16.8 195.1h0M40.4 209.4h0M41.6 197.0h0M23.1 198.0h0M13.9 210.5h0M33.0 187.5h0M36.3 217.2h0M40.7 190.3h0M43.8 184.9h0M16.9 205.8h0M17.9 209.0h0M28.7 197.0h0M29.0 219.9h0M58.7 202.1h0M31.3 193.5h0M26.6 182.9h0M43.2 214.6h0M50.0 189.5h0M35.1 191.0h0M51.1 212.7h0M25.7 206.2h0M38.9 188.7h0M25.5 196.1h0M34.7 221.2h0M32.2 216.6h0M48.5 195.3h0M33.1 210.8h0M38.1 198.4h0M34.3 199.7h0M42.8 205.1h0M27.4 206.9h0M20.3 215.6h0M33.2 211.3h0M39.5 211.4h0M17.2 194.0h0M26.8 188.5h0M40.9 196.5h0M1.8 198.1h0M51.7 193.4h0M46.6 198.1h0M38.1 201.8h0M53.3 206.6h0M4.0 202.4h0M29.5 187.5h0M40.3 203.5h0M37.4 193.9h0M39.4 199.5h0M60.6 200.8h0M45.1 203.7h0M25.3 203.2h0M23.8 226.6h0M17.4 197.6h0M28.9 203.4h0M31.5 190.3h0M34.0 202.9h0M37.7 202.5h0M22.7 196.7h0M34.4 216.2h0M41.8 207.0h0M33.3 208.8h0M29.6 214.9h0M35.2 220.3h0M38.0 197.0h0M21.6 193.4h0M27.2 198.7h0M50.2 180.1h0M35.8 211.2h0M32.2 193.3h0M48.9 200.0h0M50.6 183.7h0M42.7 200.1h0M11.1 195.7h0M63.9 191.3h0M21.9 206.6h0M16.5 203.4h0M27.4 215.5h0M50.6 192.7h0M31.1 199.0h0M12.6 218.9h0M58.6 196.7h0M13.6 210.2h0M65.4 211.4h0M6.3 225.7h0M35.1 210.5h0M34.7 204.7h0M23.0 199.5h0M37.8 214.4h0M43.8 190.7h0M38.1 206.5h0M42.7 199.5h0M34.8 201.7h0M31.3 191.8h0M30.9 215.7h0M40.2 219.1h0M44.5 197.4h0M44.2 190.2h0M18.2 207.2h0M27.6 210.0h0M35.9 202.2h0M38.7 218.0h0M23.6 207.4h0M7.6 213.1h0M41.3 210.6h0M17.2 190.1h0M54.6 182.1h0M42.9 185.2h0M38.1 198.7h0M13.3 201.2h0M23.8 205.0h0M43.3 187.8h0M31.8 224.2h0M29.7 202.4h0M35.8 193.6h0M39.9 196.8h0M32.8 212.4h0M43.7 208.0h0M9.2 204.0h0M35.3 206.6h0M28.0 194.7h0M55.8 196.5h0M46.7 217.4h0M5.7 214.6h0M56.7 202.9h0M68.9 191.3h0M40.7 199.8h0M39.4 192.9h0M50.6 187.9h0M34.7 205.3h0M32.1 201.0h0M36.3 200.7h0M15.7 182.6h0M47.9 212.0h0M35.3 187.2h0M12.2 206.3h0M26.4 195.7h0M26.6 206.2h0M24.8 207.6h0M48.1 204.3h0M20.2 203.2h0M24.0 190.0h0M40.6 198.0h0M24.0 212.8h0M25.8 187.8h0M21.8 210.8h0M36.7 211.8h0M43.0 228.1h0M40.2 198.3h0M25.5 202.0h0M27.6 201.0h0M11.7 209.4h0M29.6 216.6h0M20.6 210.4h0M16.7 210.5h0M24.6 197.5h0M33.2 204.5h0M32.2 204.2h0M48.6 201.7h0M26.1 206.6h0M29.5 219.9h0M0.7 203.4h0M57.6 220.0h0M45.7 207.9h0M42.9 203.8h0M24.6 209.9h0M23.8 202.9h0M20.5 194.7h0M19.9 217.0h0M36.7 199.0h0M37.8 216.7h0M52.9 206.5h0M32.8 196.6h0M23.5 189.2h0M44.8 206.9h0M38.7 192.2h0M21.5 213.3h0M11.6 209.0h0M25.8 225.1h0M50.8 211.5h0M45.3 208.7h0M45.8 186.9h0M39.9 215.3h0M36.7 198.2h0M27.3 203.0h0M59.5 196.3h0M40.5 196.2h0M44.5 177.3h0M38.6 198.7h0M25.7 211.0h0M42.1 189.9h0M8.5 198.5h0M40.8 193.2h0M27.3 194.0h0M41.3 207.2h0M17.4 207.3h0M30.6 194.7h0M19.4 193.3h0M28.7 220.4h0M59.9 215.0h0M44.2 209.7h0M38.1 225.1h0M20.9 197.6h0M24.8 196.9h0M38.4 208.6h0M35.6 197.3h0M31.3 195.8h0M4.8 197.0h0M33.3 202.4h0M41.2 212.2h0M29.2 170.5h0M32.9 203.1h0M31.9 205.0h0M37.2 209.3h0M31.8 217.1h0M54.4 182.0h0M32.6 225.9h0M20.3 206.2h0M38.7 205.9h0M42.5 214.5h0M45.5 208.9h0M31.0 203.9h0M29.5 213.1h0M20.1 202.9h0M31.3 198.8h0M37.7 204.2h0M26.9 191.1h0M15.4 203.9h0M18.7 213.7h0M50.2 204.4h0M42.5 222.1h0M23.1 187.1h0M55.9 194.6h0M41.6 191.7h0M10.6 196.9h0M33.9 214.3h0M42.6 192.5h0M45.1 208.6h0M33.7 194.2h0M50.1 188.4h0M13.5 203.2h0M46.5 205.0h0M27.7 207.2h0M44.8 188.3h0M32.0 201.2h0M7.5 198.2h0M36.2 200.3h0M52.0 207.0h0M35.7 196.4h0M53.0 206.2h0M32.1 189.4h0M32.3 193.3h0M50.8 192.3h0M46.2 203.1h0M19.9 218.8h0M24.4 198.7h0M56.1 202.3h0M19.4 209.4h0M25.4 225.0h0M29.4 220.1h0M17.3 215.5h0M38.8 210.1h0M30.0 202.3h0M39.3 183.8h0M30.6 206.4h0M47.5 182.4h0M28.1 201.4h0M38.8 186.0h0M50.4 202.1h0M34.7 194.0h0M27.6 197.1h0M9.2 194.4h0M14.0 197.0h0M40.6 201.5h0M29.2 207.2h0M40.7 200.1h0M25.1 208.1h0M36.3 209.9h0M33.7 202.5h0M37.4 189.1h0M29.6 207.2h0M40.4 196.0h0M18.7 225.2h0M9.2 193.2h0M32.9 199.8h0M29.7 201.1h0M47.1 218.2h0M11.1 208.0h0M28.6 184.7h0M12.1 212.6h0M42.7 181.8h0M28.2 216.1h0M28.9 208.8h0M39.4 198.7h0M37.3 200.2h0M25.4 203.9h0M30.9 204.0h0M48.3 181.2h0M15.1 194.2h0M51.9 193.5h0M29.0 210.8h0M27.0 227.6h0M51.1 199.6h0M40.4 197.1h0M34.0 200.3h0M48.8 202.0h0M34.5 208.6h0M29.1 206.2h0M46.8 211.7h0M38.6 202.3h0M20.4 193.4h0M48.5 191.8h0M37.5 194.3h0M52.6 188.2h0M86.3 201.8h0M12.9 194.7h0M36.8 187.6h0M42.7 205.9h0M17.0 200.1h0M44.5 205.3h0M8.7 226.7h0M15.7 199.5h0M44.3 197.9h0M17.5 210.4h0M18.4 189.8h0M32.5 201.9h0M21.3 217.0h0M20.4 195.9h0M43.6 213.0h0M30.4 193.2h0M36.9 217.8h0M46.7 189.3h0M29.3 200.2h0M39.6 191.3h0M39.4 212.6h0M18.0 212.9h0M20.8 205.0h0M41.8 203.3h0M11.8 201.4h0M34.5 198.2h0M46.5 209.4h0M22.3 213.6h0M9.9 209.7h0M45.5 193.1h0M57.1 198.1h0M34.5 197.0h0M51.6 186.5h0M40.2 197.9h0M31.1 214.6h0M34.8 199.9h0M39.3 192.9h0M43.0 214.1h0M57.2 213.2h0M41.6 196.5h0M32.7 211.6h0M27.9 200.0h0M17.0 227.1h0M41.1 192.3h0M7.2 216.5h0M39.7 191.0h0M34.5 192.3h0M35.1 219.0h0M42.4 205.3h0M51.6 210.6h0M25.9 202.7h0M16.9 210.3h0M44.4 196.7h0M35.9 210.6h0M39.4 206.9h0M21.9 212.8h0M54.2 201.8h0M47.8 204.8h0M23.2 223.7h0M14.6 221.5h0M29.8 186.8h0M27.5 196.0h0M28.4 212.7h0M24.9 207.8h0M32.2 203.6h0M35.7 203.2h0M35.0 200.5h0M49.6 183.0h0M55.6 200.1h0M45.6 200.2h0M47.8 189.2h0M10.0 204.1h0M20.9 196.1h0M29.2 207.8h0M46.6 206.4h0M40.3 204.4h0M35.4 196.9h0M33.3 195.6h0M40.4 186.9h0M37.2 199.7h0M17.7 199.4h0M20.8 206.0h0M22.9 200.6h0M51.2 182.0h0M39.2 202.1h0M44.7 202.6h0M59.2 202.2h0M33.3 188.7h0M6.8 208.3h0M34.8 194.4h0M23.4 199.3h0M17.1 183.9h0M21.6 199.2h0M31.2 201.8h0M19.6 211.3h0M51.8 209.9h0M34.9 184.2h0M36.4 194.1h0M36.4 196.0h0M21.1 209.3h0M40.4 188.7h0M20.3 205.2h0M7.2 198.2h0M24.7 193.8h0M37.3 205.8h0M34.4 197.9h0M43.0 187.5h0M25.6 197.1h0M49.7 196.9h0M46.2 178.3h0M51.0 227.4h0M21.2 207.8h0M47.7 188.2h0M28.5 189.5h0M42.0 213.7h0M17.1 211.7h0M7.1 202.9h0M50.1 185.7h0M39.3 187.6h0M20.9 198.5h0M23.6 193.8h0M23.1 217.2h0M38.0 211.0h0M10.6 217.8h0M36.6 181.6h0M35.5 192.2h0M52.4 205.7h0M31.9 194.9h0M45.7 207.2h0M39.7 200.3h0M36.1 190.1h0M29.8 212.2h0M48.6 198.3h0M19.5 213.4h0M30.6 212.5h0M37.0 211.5h0M57.0 178.3h0M20.0 204.2h0M33.9 193.3h0M30.6 182.0h0M12.8 210.6h0M68.4 198.7h0M44.7 192.1h0M44.9 216.2h0M32.1 205.5h0M45.5 202.5h0M7.1 218.9h0M51.5 188.3h0M33.8 213.3h0M47.5 199.3h0M15.2 195.8h0M25.3 204.7h0M5.5 218.8h0M31.3 207.3h0M36.4 211.3h0M22.8 202.4h0M57.1 203.0h0M32.9 206.6h0M36.6 213.7h0M17.8 200.2h0M39.3 197.0h0M17.9 185.6h0M33.3 206.8h0M24.3 216.5h0M39.3 178.5h0M51.3 197.0h0M31.9 209.3h0M39.7 203.3h0M26.3 207.6h0M42.3 190.5h0M41.3 189.7h0M22.1 200.8h0M43.5 204.4h0M14.1 218.8h0M32.1 203.4h0M25.0 217.6h0M40.0 210.1h0M37.8 204.4h0M19.6 215.8h0M11.4 192.0h0M30.0 211.5h0M31.7 209.6h0M32.0 208.3h0M38.0 209.1h0M26.4 202.3h0M62.9 202.7h0M42.7 208.8h0M24.5 203.8h0M53.0 205.0h0M41.8 199.2h0M45.0 189.6h0M48.1 196.3h0M20.6 208.4h0M18.9 182.2h0M29.8 197.3h0M9.3 198.0h0M45.1 208.1h0M22.1 200.7h0M43.2 200.6h0M49.8 212.2h0M27.4 201.2h0M12.4 216.7h0M41.5 196.9h0M20.7 198.7h0M39.9 195.7h0M10.8 214.9h0M54.7 200.4h0M35.9 200.1h0M44.3 199.9h0M31.5 191.9h0M46.7 184.2h0M61.1 207.5h0M24.8 204.8h0M30.6 205.8h0M37.6 191.3h0M37.2 180.4h0M4.4 204.9h0M40.6 207.0h0M14.1 202.6h0M52.1 199.9h0M38.5 197.0h0M24.8 210.1h0M19.5 196.7h0M55.8 193.7h0M55.1 185.0h0M36.8 207.2h0M24.4 192.1h0M45.5 203.2h0M23.8 208.2h0M25.9 184.7h0M43.2 205.7h0M38.2 194.3h0M42.5 199.4h0M27.6 190.9h0M27.8 194.1h0M26.5 224.5h0M8.8 207.2h0M41.5 202.0h0M39.2 217.3h0M49.8 186.1h0M36.1 186.7h0M19.3 221.2h0M43.5 192.0h0M28.2 214.6h0M24.2 189.5h0M20.8 194.5h0M13.9 222.1h0M50.6 188.7h0M39.4 219.1h0M35.0 192.6h0M28.8 205.6h0M16.7 197.7h0M23.2 200.2h0M52.9 188.5h0M24.6 201.6h0M14.2 197.8h0M61.3 197.3h0M30.6 207.2h0M25.4 208.9h0M50.3 202.5h0M26.0 212.2h0M43.5 211.4h0M31.6 198.9h0M26.6 215.5h0M13.2 200.2h0M52.4 201.3h0M44.9 197.2h0M56.7 188.8h0M36.0 203.2h0M35.7 209.0h0M41.9 210.1h0M28.4 171.9h0M46.6 189.4h0M9.7 211.5h0M41.3 185.0h0M29.5 202.6h0M49.4 225.2h0M27.6 211.8h0M32.3 196.1h0M55.4 191.0h0M10.0 214.3h0M41.7 203.9h0M31.6 195.3h0M33.4 209.8h0M28.6 190.3h0M50.7 223.0h0M34.9 217.0h0M35.1 205.5h0M35.6 210.4h0M37.7 202.5h0M31.1 206.2h0M30.2 197.1h0M43.7 196.3h0M34.9 189.7h0M49.2 191.0h0M35.3 216.4h0M5.7 202.4h0M42.7 223.0h0M19.6 200.7h0M23.1 210.8h0M33.2 193.0h0M28.7 201.9h0M39.8 204.0h0M48.2 179.9h0M53.4 187.9h0M35.2 191.4h0M40.4 193.9h0M44.2 194.3h0M46.6 189.0h0M13.3 200.0h0M9.8 203.6h0M42.1 173.9h0M27.8 215.0h0M10.0 214.1h0M39.0 215.8h0M25.7 216.7h0M45.0 188.5h0M37.6 170.8h0M42.3 208.6h0M33.5 208.9h0M35.0 201.8h0M21.5 193.5h0M36.2 206.7h0M33.8 196.7h0M23.9 198.3h0M21.9 190.3h0M27.4 202.5h0M56.0 197.4h0M38.3 212.2h0M16.9 198.9h0M49.7 199.9h0M28.8 199.1h0M22.6 196.2h0M0.9 220.5h0M26.6 217.4h0M9.0 195.8h0M38.5 219.0h0M24.7 197.8h0M32.1 196.3h0M38.8 208.0h0M30.4 229.9h0M7.0 219.3h0M40.4 205.2h0M26.3 202.3h0M19.9 202.4h0M24.7 224.1h0M26.1 221.7h0M64.4 186.1h0M25.5 201.7h0M36.3 193.5h0M21.7 201.6h0M16.9 217.0h0M42.5 191.3h0M48.2 193.0h0M49.5 185.4h0M39.0 210.7h0M31.7 207.9h0M53.2 208.9h0M36.0 193.9h0M45.6 187.6h0M44.8 197.5h0M68.3 204.8h0M34.0 200.8h0M41.1 204.4h0M10.3 196.5h0M43.0 188.3h0M25.1 198.6h0M52.6 205.0h0M14.7 196.5h0M32.4 185.5h0M23.4 208.5h0M17.6 198.5h0M26.4 203.4h0M73.4 185.2h0M31.0 196.8h0M19.5 216.5h0M49.0 203.4h0M38.4 207.5h0M28.0 219.1h0M48.6 195.1h0M21.7 211.8h0M23.7 213.8h0M14.6 214.7h0M34.6 205.4h0M22.8 198.1h0M43.7 211.5h0M53.5 185.7h0M13.7 203.6h0M25.7 194.2h0M33.7 204.6h0M42.0 191.1h0M28.4 198.5h0M27.1 211.7h0M36.5 185.6h0M30.6 214.2h0M34.0 206.8h0M35.0 182.7h0M40.5 213.7h0M48.8 191.4h0M48.1 200.6h0M24.6 209.8h0M28.4 179.6h0M39.9 210.9h0M19.5 198.0h0M32.6 201.7h0M40.3 194.8h0M47.7 216.1h0M48.6 211.2h0M25.5 209.8h0M31.6 207.2h0M40.3 195.8h0M19.0 204.6h0M19.9 195.8h0M44.7 187.0h0M22.7 202.8h0M20.7 186.0h0M57.3 196.4h0M21.1 187.3h0M38.0 211.9h0M22.3 220.9h0M29.5 203.3h0M31.1 214.7h0M22.7 220.8h0M7.4 207.4h0M27.9 208.1h0M28.9 210.0h0M34.8 197.6h0M44.5 180.9h0M35.7 201.6h0M41.1 203.3h0M24.8 208.5h0M34.2 212.5h0M44.8 202.9h0M46.8 183.2h0M13.7 204.1h0M37.5 206.5h0M50.4 208.1h0M35.1 218.5h0M48.8 190.8h0M36.2 227.5h0M26.3 191.2h0M36.6 196.2h0M11.8 193.6h0M22.3 195.9h0M43.3 219.4h0M36.1 207.9h0M48.3 192.3h0M29.8 205.0h0M27.5 192.0h0M28.1 214.9h0M27.8 211.4h0M37.8 185.1h0M43.8 192.4h0M47.4 222.0h0M29.7 181.8h0M28.0 208.3h0M31.2 191.3h0M57.2 195.0h0M51.3 186.8h0M5.1 215.4h0M36.8 194.5h0M45.7 182.9h0M20.5 203.9h0M38.7 188.9h0M49.5 193.7h0M19.9 214.2h0M30.1 192.8h0M41.0 209.6h0M28.4 197.9h0M10.4 211.2h0M36.7 197.8h0M41.1 183.6h0M13.2 189.4h0M20.1 213.3h0M44.7 199.7h0M24.5 214.0h0M36.9 214.8h0M38.5 200.9h0M16.9 189.6h0M31.2 191.3h0M36.3 196.6h0M21.7 187.9h0M5.5 215.3h0M19.7 204.6h0M31.7 194.0h0M15.5 215.1h0M6.6 198.2h0M33.8 202.7h0M37.8 205.6h0M10.9 196.3h0M39.9 194.9h0M36.5 203.2h0M18.6 217.9h0M44.0 205.7h0M5.9 198.2h0M32.3 208.0h0M43.9 203.3h0M31.1 194.2h0M25.0 211.9h0M22.0 203.7h0M55.6 193.2h0M23.7 211.9h0M46.4 194.8h0M35.7 209.9h0M36.0 218.2h0M35.6 213.5h0M50.5 180.3h0M19.6 203.6h0M36.2 196.4h0M36.6 206.8h0M45.6 209.1h0M11.6 204.7h0M40.0 203.2h0M28.5 181.1h0M28.4 200.6h0M46.2 206.3h0M11.2 216.1h0M14.4 210.8h0M29.1 209.8h0M52.4 193.8h0M34.5 207.8h0M33.5 205.1h0M51.7 204.1h0M41.2 213.3h0M26.5 203.5h0M56.2 190.2h0M50.4 215.3h0M43.0 209.0h0M27.2 202.5h0M40.7 200.4h0M16.5 210.7h0M36.2 206.4h0M28.3 177.8h0M46.6 194.4h0M51.0 196.6h0M39.8 200.3h0M48.7 197.8h0M26.0 201.7h0M32.9 205.9h0M36.3 197.7h0M48.9 194.9h0M33.9 180.2h0M18.0 212.8h0M5.1 208.7h0M42.1 212.7h0M21.4 214.4h0M19.3 205.9h0M35.1 190.0h0M38.3 209.2h0M49.4 194.5h0M21.2 201.4h0M20.8 199.9h0M34.5 185.2h0M42.2 169.4h0M47.5 184.3h0M17.8 213.0h0M19.5 191.4h0M50.3 216.1h0M43.0 194.4h0M24.9 196.8h0M29.7 225.1h0M28.7 215.8h0M55.0 193.9h0M39.3 197.2h0M39.2 197.8h0M21.0 207.7h0M41.0 207.6h0M26.9 202.0h0M20.9 204.3h0M36.2 199.0h0M26.8 226.0h0M42.3 198.5h0M23.9 213.9h0M19.5 206.4h0M18.2 204.8h0M28.0 185.9h0M50.5 195.7h0M33.9 201.9h0M43.5 196.5h0M18.8 197.7h0M49.1 191.8h0M17.0 193.7h0M21.4 213.1h0M42.3 196.8h0M46.1 203.6h0M56.4 200.9h0M73.9 187.9h0M21.7 187.5h0M46.2 191.5h0M18.0 197.8h0M35.1 193.3h0M14.9 209.4h0M64.7 201.0h0M43.3 206.4h0M33.2 193.3h0M24.3 201.8h0M35.0 196.8h0M33.6 205.5h0M44.6 191.6h0M30.4 201.7h0M18.2 202.8h0M47.9 212.1h0M36.5 201.7h0M35.9 209.8h0M49.9 198.8h0M13.9 190.9h0M29.1 207.0h0M33.8 190.0h0M34.4 194.9h0M22.6 200.8h0M17.3 205.0h0M47.8 203.7h0M42.8 190.6h0M60.2 189.0h0M32.9 206.0h0M33.3 189.2h0M36.0 210.6h0M36.6 193.3h0M46.9 204.9h0M53.0 211.0h0M46.9 186.5h0M49.9 215.1h0M39.8 207.8h0M52.2 209.4h0M32.1 215.7h0M30.8 174.9h0M25.0 180.5h0M51.6 188.1h0M49.8 199.5h0M44.0 184.4h0M37.1 204.0h0M23.2 204.9h0M27.7 206.8h0M30.8 206.8h0M35.6 196.0h0M39.8 215.0h0M39.9 211.9h0M45.2 198.7h0M47.6 201.3h0M35.7 186.2h0M25.8 182.6h0M47.8 195.2h0M22.8 195.1h0M36.8 201.5h0M22.6 192.1h0M35.2 190.8h0M17.7 218.0h0M29.7 186.2h0M23.3 214.8h0M13.8 208.3h0M20.7 189.8h0M31.3 188.2h0M20.1 181.5h0M41.3 185.4h0M49.6 200.6h0M12.6 190.1h0M11.6 210.4h0M25.7 221.7h0M43.4 186.7h0M30.1 217.9h0M27.4 187.0h0M52.3 200.8h0M22.7 204.1h0M27.3 203.9h0M36.6 204.7h0M30.7 195.1h0M35.5 194.3h0M28.1 203.5h0M32.1 222.2h0M37.5 229.7h0M18.4 205.2h0M43.2 199.1h0M30.8 192.6h0M37.5 224.9h0M62.0 186.5h0M26.0 216.8h0M18.2 201.6h0M17.9 204.6h0M21.7 203.9h0M34.8 192.5h0M36.6 205.8h0M20.0 215.5h0M44.2 210.9h0M56.2 183.5h0M38.2 185.5h0M45.6 203.2h0M37.9 200.2h0M21.6 203.5h0M63.8 195.5h0M45.8 211.4h0M63.5 200.2h0M41.0 190.2h0M50.5 194.2h0M32.0 187.3h0M33.7 194.1h0M8.7 204.9h0M40.9 173.8h0M45.3 189.0h0M30.7 206.9h0M28.7 186.7h0M40.0 209.1h0M32.2 199.8h0M25.3 186.2h0M43.4 196.6h0M32.9 206.4h0M42.6 204.1h0M46.9 201.0h0M27.9 214.1h0M42.2 200.9h0M37.3 199.8h0M40.9 195.2h0M28.4 190.1h0M32.1 219.6h0M48.3 202.4h0M15.6 211.0h0M12.1 216.8h0M51.4 197.0h0M33.1 191.4h0M9.8 197.2h0M21.0 220.5h0M30.0 208.7h0M12.1 214.5h0M51.0 207.1h0M10.9 219.0h0M18.8 210.9h0M26.1 208.0h0M32.0 205.6h0M10.7 224.3h0M12.4 225.0h0M38.3 196.6h0M45.7 190.8h0M29.1 205.9h0M19.7 204.4h0M50.8 200.6h0M54.5 179.3h0M39.8 201.0h0M14.3 209.0h0M26.8 203.0h0M31.0 191.2h0M20.1 218.2h0M39.2 200.4h0M37.7 210.5h0M44.3 197.9h0M36.8 195.9h0M56.1 197.3h0M56.8 201.4h0M22.1 201.1h0M52.1 190.2h0M37.2 191.9h0M33.8 206.3h0M13.1 195.5h0M21.2 216.4h0M35.1 202.9h0M49.1 195.9h0M29.1 216.4h0M29.2 225.2h0M10.6 216.6h0M47.2 187.0h0M14.5 206.4h0M27.7 207.8h0M35.5 212.8h0M32.0 196.4h0M36.3 202.0h0M50.2 209.0h0M23.2 202.1h0M40.4 215.6h0M38.6 193.8h0M33.6 198.2h0M20.5 188.9h0M38.2 198.7h0M34.6 194.5h0M30.3 216.0h0M30.7 204.0h0M27.9 195.9h0M25.2 186.6h0M50.9 179.3h0M21.2 225.7h0M60.8 213.2h0M39.8 212.8h0M38.1 184.6h0M36.8 209.5h0M15.2 211.2h0M41.7 204.9h0M29.3 194.8h0M58.6 189.9h0M7.3 217.8h0M56.2 181.1h0M16.4 217.6h0M13.0 200.0h0M29.9 208.4h0M41.8 204.4h0M46.9 191.1h0M42.7 180.8h0M36.7 191.3h0M38.1 203.3h0M21.2 213.0h0M47.2 195.7h0M35.7 205.1h0M6.8 199.1h0M16.6 220.5h0M46.8 179.0h0M20.5 213.8h0M30.0 200.0h0M12.2 203.1h0M40.9 199.9h0M18.6 199.9h0M34.4 197.9h0M32.4 195.4h0M49.6 208.4h0M28.8 207.6h0M18.7 211.5h0M50.3 202.0h0M18.0 217.0h0M34.8 201.3h0M29.8 192.1h0M29.4 201.7h0M34.1 214.2h0" stroke="#f00" stroke-width="1.05" stroke-linecap="square" fill="none"/>
<rect x="0.5" y="203.6" width="24" height="25" fill="#fff" opacity="0.82"/>
</svg>
<rect x="699.4" y="1036.4" width="231.2" height="230.6" fill="none" stroke="#7a7a7a" stroke-width="1"/>
<line x1="777.1" y1="1036.4" x2="777.1" y2="1267.0" stroke="#111" stroke-width="1.6"/>
<line x1="699.4" y1="1181.6" x2="930.6" y2="1181.6" stroke="#111" stroke-width="1.6"/>
<path d="M693.4 1058.3H699.4M693.4 1110.7H699.4M693.4 1165.0H699.4M693.4 1220.0H699.4M696.6 1042.2H699.4M696.6 1094.6H699.4M696.6 1085.2H699.4M696.6 1078.5H699.4M696.6 1073.3H699.4M696.6 1069.1H699.4M696.6 1065.5H699.4M696.6 1062.4H699.4M696.6 1059.6H699.4M696.6 1148.9H699.4M696.6 1139.5H699.4M696.6 1132.8H699.4M696.6 1127.6H699.4M696.6 1123.4H699.4M696.6 1119.8H699.4M696.6 1116.7H699.4M696.6 1113.9H699.4M696.6 1203.9H699.4M696.6 1194.5H699.4M696.6 1187.8H699.4M696.6 1182.6H699.4M696.6 1178.4H699.4M696.6 1174.8H699.4M696.6 1171.7H699.4M696.6 1168.9H699.4M696.6 1228.4H699.4M696.6 1234.4H699.4M696.6 1239.4H699.4M696.6 1244.4H699.4M696.6 1249.4H699.4M696.6 1254.4H699.4M696.6 1259.4H699.4M696.6 1264.4H699.4" stroke="#222" stroke-width="1" fill="none"/>
<path d="M693.4 1058.3H699.4M693.4 1110.7H699.4M693.4 1165.0H699.4M693.4 1220.0H699.4M693.4 1265.9H699.4M695.4 1240.4H699.4M695.4 1242.4H699.4" stroke="#111" stroke-width="1.8" fill="none"/>
<path d="M803.2 1267.0v5M855.3 1267.0v5M907.9 1267.0v5M764.0 1267.0v2.8M773.2 1267.0v2.8M779.8 1267.0v2.8M784.9 1267.0v2.8M789.1 1267.0v2.8M792.6 1267.0v2.8M795.6 1267.0v2.8M798.3 1267.0v2.8M819.0 1267.0v2.8M828.2 1267.0v2.8M834.8 1267.0v2.8M839.9 1267.0v2.8M844.1 1267.0v2.8M847.6 1267.0v2.8M850.6 1267.0v2.8M853.3 1267.0v2.8M871.1 1267.0v2.8M880.3 1267.0v2.8M886.9 1267.0v2.8M892.0 1267.0v2.8M896.2 1267.0v2.8M899.7 1267.0v2.8M902.7 1267.0v2.8M905.4 1267.0v2.8M702.4 1267.0v2.8M707.4 1267.0v2.8M712.4 1267.0v2.8M717.4 1267.0v2.8M722.4 1267.0v2.8M727.4 1267.0v2.8M732.4 1267.0v2.8M737.4 1267.0v2.8M742.4 1267.0v2.8M920.4 1267.0v2.8" stroke="#222" stroke-width="1" fill="none"/>
<path d="M748.2 1267.0v6M803.2 1267.0v5.5M855.3 1267.0v5.5M907.9 1267.0v5.5M711.4 1267.0v5M713.4 1267.0v5M715.4 1267.0v5M717.9 1267.0v5M720.4 1267.0v5" stroke="#111" stroke-width="1.6" fill="none"/>
<g font-family='"Liberation Sans", Arial, sans-serif' font-size="8.2" fill="#222"><text x="670.9" y="1057.5">10<tspan font-size="7.6" dy="-5">5</tspan></text><text x="670.9" y="1109.9">10<tspan font-size="7.6" dy="-5">4</tspan></text><text x="670.9" y="1164.2">10<tspan font-size="7.6" dy="-5">3</tspan></text><text x="670.9" y="1219.2">10<tspan font-size="7.6" dy="-5">2</tspan></text><text x="674.9" y="1240.9">0</text><text x="663.9" y="1262.4">-10<tspan font-size="7.6" dy="-5">2</tspan></text><text x="710.9" y="1282.0">0</text><text x="799.2" y="1282.0">10<tspan font-size="7.6" dy="-5">3</tspan></text><text x="851.3" y="1282.0">10<tspan font-size="7.6" dy="-5">4</tspan></text><text x="903.9" y="1282.0">10<tspan font-size="7.6" dy="-5">5</tspan></text></g>
<text x="708.0" y="1059.0" font-size="16.8" text-anchor="start" font-weight="normal" fill="#000" font-family='"Liberation Sans", Arial, sans-serif' textLength="35.2" lengthAdjust="spacingAndGlyphs">1.22</text>
<text x="918.6" y="1058.3" font-size="16.8" text-anchor="end" font-weight="normal" fill="#000" font-family='"Liberation Sans", Arial, sans-serif' textLength="35.2" lengthAdjust="spacingAndGlyphs">10.0</text>
<text x="705.0" y="1252.8" font-size="16.8" text-anchor="start" font-weight="normal" fill="#000" font-family='"Liberation Sans", Arial, sans-serif' textLength="35.2" lengthAdjust="spacingAndGlyphs">88.1</text>
<text x="920.7" y="1252.8" font-size="16.8" text-anchor="end" font-weight="normal" fill="#000" font-family='"Liberation Sans", Arial, sans-serif' textLength="35.2" lengthAdjust="spacingAndGlyphs">0.68</text>
<svg x="1013.7" y="1036.4" width="231.2" height="230.6" overflow="hidden">
<ellipse cx="48" cy="89" rx="14" ry="10" transform="rotate(-40 48 89)" fill="#f00" opacity="1.0" filter="url(#soft2)"/>
<ellipse cx="106" cy="100" rx="22" ry="8.5" transform="rotate(-3 106 100)" fill="#f00" opacity="0.9" filter="url(#soft2)"/>
<path d="M53.2 73.4h0M62.2 62.9h0M75.0 80.2h0M66.8 84.8h0M59.5 76.3h0M54.5 73.9h0M71.9 78.9h0M56.8 61.8h0M64.0 73.6h0M55.3 75.5h0M53.6 90.8h0M46.2 58.9h0M57.1 75.8h0M65.4 81.6h0M66.3 66.5h0M63.0 73.0h0M58.5 70.4h0M56.2 53.2h0M51.6 60.8h0M61.3 72.2h0M58.0 89.4h0M55.1 51.8h0M49.3 69.1h0M60.3 85.2h0M59.3 71.5h0M62.2 70.5h0M60.0 70.0h0M57.5 61.1h0M56.0 50.2h0M62.8 75.4h0M67.6 79.0h0M69.6 90.7h0M65.0 80.3h0M37.8 46.2h0M68.9 67.9h0M55.9 62.0h0M55.7 74.5h0M69.8 74.5h0M56.6 56.0h0M56.8 79.4h0M58.2 72.6h0M66.0 77.9h0M61.1 76.0h0M70.0 73.8h0M56.1 57.9h0M44.5 74.8h0M70.2 75.8h0M49.3 69.8h0M49.7 88.2h0M49.0 58.9h0M62.4 69.0h0M51.9 80.6h0M59.4 85.7h0M64.0 64.6h0M79.5 98.7h0M66.0 73.1h0M52.0 62.8h0M54.5 55.3h0M62.3 57.3h0M57.0 66.5h0M65.2 70.9h0M58.7 66.5h0M52.2 94.8h0M59.9 88.6h0M68.5 80.0h0M63.8 92.6h0M50.5 67.6h0M61.4 64.2h0M55.7 74.3h0M67.2 68.7h0M54.9 74.6h0M69.7 89.1h0M61.6 89.3h0M66.4 70.6h0M51.7 63.5h0M53.7 54.4h0M59.7 82.3h0M71.1 94.9h0M61.5 77.7h0M62.2 66.4h0M57.0 66.0h0M54.0 63.8h0M69.1 74.1h0M61.5 66.8h0M73.0 81.2h0M45.4 49.9h0M67.9 62.9h0M62.1 76.8h0M56.5 67.0h0M51.1 69.2h0M52.1 75.8h0M61.2 70.7h0M59.4 55.3h0M60.1 69.8h0M61.5 62.4h0M53.6 76.1h0M54.6 54.2h0M57.6 70.5h0M62.2 51.5h0M45.8 57.6h0M50.5 70.7h0M58.4 67.0h0M66.7 89.0h0M57.5 71.6h0M65.4 83.8h0M69.4 88.2h0M52.1 60.7h0M73.0 73.5h0M52.0 74.7h0M59.3 54.7h0M42.4 76.8h0M63.1 61.7h0M46.2 54.0h0M62.3 74.9h0M60.6 73.8h0M53.8 72.4h0M56.6 68.8h0M55.8 72.4h0M58.1 76.0h0M56.6 47.8h0M51.6 82.8h0M59.0 58.3h0M58.4 83.8h0M63.2 67.0h0M60.1 67.4h0M62.7 67.5h0M65.3 89.0h0M66.6 84.1h0M56.4 67.9h0M59.1 69.5h0M64.5 74.6h0M66.2 66.0h0M62.7 69.3h0M54.6 65.2h0M55.8 91.0h0M52.2 57.7h0M53.8 53.9h0M53.2 58.9h0M64.1 61.4h0M66.3 65.9h0M59.1 64.2h0M57.2 86.6h0M55.5 55.2h0M53.5 63.0h0M52.5 86.5h0M56.4 68.0h0M56.6 74.2h0M67.0 82.6h0M44.8 69.0h0M49.3 77.8h0M57.9 63.6h0M63.1 51.6h0M57.5 63.0h0M59.5 69.0h0M64.8 81.5h0M59.0 79.9h0M50.0 81.8h0M60.5 77.1h0M55.8 69.2h0M51.5 73.6h0M70.6 63.3h0M53.2 74.9h0M71.3 89.5h0M74.9 67.8h0M59.3 71.6h0M60.1 80.0h0M56.5 74.1h0M60.0 57.9h0M60.3 68.5h0M64.1 80.4h0M45.9 80.2h0M60.9 69.1h0M55.3 64.5h0M60.4 62.0h0M50.3 70.1h0M59.0 71.5h0M57.0 60.9h0M63.0 73.4h0M66.6 78.5h0M39.0 36.7h0M69.6 81.2h0M65.1 73.5h0M52.2 75.6h0M62.2 77.9h0M56.0 58.4h0M61.2 76.9h0M42.4 62.4h0M60.3 68.7h0M64.0 61.8h0M51.5 81.2h0M63.4 73.6h0M72.6 68.5h0M58.7 76.6h0M74.0 80.4h0M76.7 70.1h0M60.5 70.5h0M70.9 79.6h0M68.2 66.4h0M54.7 67.3h0M65.0 78.4h0M68.6 74.5h0M70.0 81.4h0M56.6 61.6h0M54.4 64.4h0M67.7 63.7h0M78.1 75.4h0M70.1 83.4h0M67.8 77.7h0M53.3 71.8h0M51.6 66.6h0M53.5 64.2h0M52.9 39.0h0M66.5 71.4h0M54.5 51.1h0M52.6 59.0h0M57.7 64.7h0M67.0 80.6h0M56.7 67.8h0M57.0 76.4h0M79.1 83.8h0M53.0 73.1h0M55.9 61.6h0M73.9 77.2h0M63.0 78.6h0M66.4 61.9h0M71.7 89.7h0M53.9 68.0h0M59.3 73.7h0M54.7 76.2h0M58.4 58.2h0M61.4 61.5h0M54.8 71.0h0M67.0 77.9h0M59.5 79.4h0M42.7 81.2h0M39.4 57.5h0M64.0 70.4h0M68.8 67.6h0M76.8 79.2h0M52.5 74.0h0M71.1 86.8h0M62.5 79.9h0M60.3 73.9h0M46.1 70.0h0M66.0 71.4h0M57.1 64.1h0M62.4 77.9h0M59.0 50.9h0M59.9 65.3h0M51.1 71.9h0M63.1 47.2h0M48.7 76.8h0M61.8 77.5h0M58.8 76.5h0M70.2 67.6h0M51.7 64.7h0M46.2 66.0h0M62.4 70.0h0M54.6 81.7h0M43.9 77.0h0M45.7 55.6h0M57.5 66.5h0M51.8 69.1h0M71.8 69.2h0M49.5 64.7h0M54.1 71.9h0M55.7 72.6h0M60.5 66.7h0M69.5 82.2h0M58.1 75.6h0M62.7 78.1h0M45.9 68.7h0M66.5 71.4h0M54.0 49.3h0M66.8 86.9h0M63.9 65.2h0M64.4 77.1h0M49.8 59.9h0M62.3 89.1h0M57.9 56.7h0M63.9 60.1h0M50.6 71.0h0M59.4 67.7h0M47.6 63.0h0M67.8 63.9h0M71.0 81.5h0M53.3 75.7h0M73.4 80.3h0M57.2 85.0h0M57.3 72.3h0M65.2 73.3h0M71.4 69.2h0M49.1 64.8h0M68.1 69.4h0M62.4 76.9h0M55.7 68.2h0M58.0 73.7h0M55.2 58.7h0M62.0 82.7h0M55.4 67.1h0M17.3 80.0h0M65.7 85.6h0M61.3 79.1h0M46.8 79.2h0M36.5 47.6h0M70.7 105.1h0M46.1 83.6h0M63.8 105.5h0M52.5 93.4h0M72.0 70.1h0M42.7 83.7h0M22.8 108.1h0M52.9 103.8h0M73.0 64.1h0M42.4 106.7h0M18.6 82.1h0M45.6 91.9h0M87.1 85.7h0M46.8 124.9h0M71.8 126.4h0M12.5 108.5h0M43.5 83.0h0M25.9 86.0h0M63.0 61.7h0M14.6 87.6h0M50.0 106.8h0M36.5 102.2h0M73.5 89.7h0M68.0 67.2h0M45.9 101.7h0M54.3 92.2h0M54.9 101.5h0M57.6 84.5h0M35.2 99.5h0M12.1 103.1h0M52.5 106.7h0M38.0 94.0h0M33.2 87.2h0M24.2 71.2h0M34.0 112.1h0M50.1 76.9h0M53.8 91.7h0M45.9 91.4h0M55.9 116.0h0M36.1 89.5h0M32.8 102.5h0M74.9 106.5h0M66.5 74.3h0M36.2 103.2h0M31.5 83.0h0M33.0 119.0h0M57.2 98.4h0M70.0 77.5h0M58.6 106.0h0M64.9 86.2h0M23.7 131.6h0M79.7 94.5h0M33.6 101.4h0M56.2 122.6h0M48.9 111.4h0M82.2 84.9h0M48.5 115.7h0M21.2 89.5h0M81.8 81.2h0M54.0 99.3h0M36.1 69.0h0M27.0 104.9h0M71.7 98.8h0M60.8 95.0h0M47.8 92.8h0M48.6 112.9h0M61.8 85.8h0M56.5 99.9h0M33.7 76.5h0M27.2 111.4h0M55.3 92.9h0M68.1 49.8h0M38.4 74.2h0M68.9 100.1h0M47.4 88.0h0M57.5 110.0h0M68.6 99.6h0M35.9 87.8h0M28.8 83.0h0M28.7 101.3h0M56.6 83.5h0M67.1 64.1h0M27.8 107.7h0M52.1 101.1h0M54.2 123.5h0M45.7 91.6h0M49.8 90.5h0M60.6 111.1h0M68.3 107.0h0M51.1 89.3h0M54.3 81.7h0M27.4 93.8h0M70.1 93.1h0M39.6 92.7h0M42.1 85.2h0M49.5 89.2h0M48.9 103.9h0M49.6 97.1h0M65.3 90.8h0M76.0 100.6h0M55.6 85.4h0M53.2 79.7h0M44.8 132.6h0M49.5 83.1h0M22.3 111.7h0M11.7 83.1h0M34.9 107.5h0M95.2 67.0h0M62.7 121.8h0M20.2 88.8h0M47.1 52.1h0M57.0 69.0h0M48.1 78.7h0M48.8 67.2h0M39.1 108.6h0M70.2 90.1h0M20.5 95.5h0M41.6 102.9h0M42.0 90.4h0M27.6 106.7h0M36.4 92.8h0M89.1 89.0h0M25.9 101.1h0M69.9 82.7h0M31.5 116.2h0M37.9 95.1h0M76.9 74.8h0M80.8 103.6h0M38.4 113.0h0M74.7 90.1h0M40.5 89.9h0M73.1 97.8h0M67.0 97.4h0M55.1 95.3h0M54.3 97.1h0M41.5 93.1h0M89.4 98.1h0M39.3 83.9h0M40.6 110.0h0M52.8 80.0h0M29.8 92.5h0M47.8 93.1h0M59.5 94.2h0M49.2 103.9h0M36.0 98.8h0M50.0 90.1h0M62.2 116.7h0M37.6 84.6h0M35.6 96.8h0M68.3 92.3h0M65.7 78.3h0M52.5 102.3h0M28.1 80.5h0M46.0 92.8h0M26.2 93.3h0M47.6 102.0h0M44.9 85.2h0M55.9 112.1h0M46.6 93.9h0M50.9 109.4h0M75.3 81.3h0M54.6 120.3h0M33.3 91.8h0M77.6 59.8h0M22.7 115.3h0M57.5 60.3h0M40.2 87.9h0M65.9 67.9h0M83.0 67.3h0M63.6 74.1h0M27.5 75.4h0M31.3 80.0h0M35.0 109.2h0M61.9 101.3h0M59.6 66.7h0M37.5 94.9h0M91.9 79.8h0M46.0 98.1h0M32.7 128.4h0M77.1 95.0h0M50.9 67.5h0M70.5 94.2h0M33.4 109.2h0M56.6 97.3h0M53.0 111.4h0M76.6 97.5h0M67.9 87.7h0M44.2 92.8h0M50.5 87.1h0M24.0 115.8h0M43.8 95.1h0M58.8 110.1h0M58.7 90.9h0M62.5 76.3h0M30.1 96.8h0M57.5 108.2h0M89.9 91.2h0M65.2 61.0h0M54.5 51.9h0M47.0 103.8h0M29.1 98.3h0M44.1 81.0h0M28.6 76.9h0M60.0 93.6h0M61.0 88.8h0M82.1 80.8h0M27.3 73.1h0M70.7 85.8h0M74.5 71.2h0M53.6 87.2h0M46.3 79.8h0M61.4 88.0h0M57.8 84.6h0M77.7 76.5h0M42.8 113.4h0M51.0 87.4h0M31.7 84.2h0M30.7 102.7h0M109.1 62.3h0M45.4 93.4h0M81.0 76.8h0M9.1 115.1h0M61.7 87.0h0M31.2 81.9h0M60.8 78.2h0M46.0 93.7h0M47.3 88.6h0M47.4 84.6h0M47.0 98.2h0M42.4 62.5h0M52.3 73.6h0M77.5 96.7h0M46.8 79.6h0M54.3 94.6h0M52.4 92.4h0M42.7 82.8h0M34.2 113.4h0M39.2 101.2h0M55.7 83.9h0M71.6 95.3h0M52.4 94.3h0M59.7 77.5h0M18.4 100.3h0M78.2 119.2h0M62.7 113.2h0M50.2 97.5h0M31.6 69.0h0M42.8 96.6h0M43.9 75.3h0M70.4 95.2h0M65.1 90.2h0M58.7 89.9h0M44.6 115.7h0M15.4 82.7h0M78.6 95.3h0M26.6 110.5h0M25.8 87.9h0M41.6 111.0h0M55.7 98.2h0M51.8 106.6h0M45.3 95.2h0M27.2 98.3h0M8.0 106.7h0M82.5 103.3h0M69.8 89.2h0M47.3 99.0h0M50.9 81.0h0M43.8 110.4h0M69.5 97.5h0M57.4 53.2h0M66.3 106.3h0M21.9 92.9h0M76.4 61.5h0M77.1 94.4h0M34.5 115.0h0M59.0 75.1h0M28.3 115.3h0M42.0 86.6h0M34.2 98.2h0M43.4 56.1h0M66.0 93.6h0M28.3 88.0h0M52.0 96.8h0M70.0 92.3h0M80.0 64.5h0M46.8 69.0h0M61.2 85.9h0M44.4 113.5h0M51.6 100.0h0M80.3 68.6h0M65.7 98.2h0M50.4 85.7h0M49.5 89.4h0M82.6 79.0h0M51.7 98.3h0M23.9 81.1h0M47.6 99.7h0M57.2 91.8h0M50.4 78.3h0M19.5 66.1h0M59.1 75.0h0M67.0 103.4h0M85.3 110.0h0M61.6 98.9h0M36.1 121.9h0M37.9 101.4h0M61.7 88.9h0M36.0 106.8h0M41.8 76.4h0M33.2 101.0h0M50.5 97.1h0M86.2 71.8h0M19.3 111.4h0M59.9 82.5h0M75.5 72.9h0M49.2 97.1h0M61.6 81.0h0M67.2 93.0h0M51.0 97.8h0M30.5 87.5h0M35.0 109.4h0M60.0 90.6h0M62.6 71.8h0M43.5 89.1h0M40.2 108.3h0M50.5 67.8h0M47.6 105.4h0M59.2 109.9h0M60.1 78.1h0M45.7 115.6h0M56.6 91.7h0M14.2 109.8h0M71.4 89.9h0M52.4 86.3h0M28.0 102.4h0M42.2 64.4h0M59.6 106.9h0M42.4 79.4h0M28.1 88.4h0M76.6 84.0h0M35.5 97.0h0M46.1 79.4h0M54.6 91.6h0M30.4 93.9h0M53.7 86.8h0M54.8 89.9h0M45.9 91.6h0M49.1 61.6h0M48.5 98.4h0M37.3 90.4h0M86.0 77.3h0M44.8 82.8h0M50.4 87.5h0M56.9 104.2h0M45.9 68.8h0M18.2 82.3h0M19.6 99.6h0M43.8 98.0h0M46.2 95.1h0M46.6 103.2h0M39.0 93.3h0M72.8 96.1h0M31.0 83.0h0M74.4 81.6h0M61.4 108.2h0M56.8 91.7h0M48.2 75.8h0M41.7 97.9h0M32.5 88.2h0M53.3 81.8h0M44.5 80.4h0M61.9 67.5h0M37.8 72.0h0M50.6 111.2h0M50.2 109.6h0M48.4 84.0h0M39.0 65.4h0M51.1 105.2h0M45.3 64.6h0M71.9 69.7h0M60.1 95.2h0M38.6 89.6h0M55.4 109.0h0M42.3 90.8h0M20.2 101.7h0M44.4 90.4h0M60.9 90.9h0M37.3 87.3h0M23.0 87.3h0M28.0 87.3h0M74.4 73.9h0M50.1 71.8h0M19.9 75.5h0M58.4 88.9h0M42.0 106.9h0M55.9 77.1h0M25.9 105.6h0M50.6 85.7h0M57.5 80.9h0M56.6 66.4h0M38.5 85.8h0M29.8 96.1h0M53.8 90.2h0M56.9 83.6h0M51.7 129.4h0M46.6 91.9h0M48.6 116.4h0M75.1 96.9h0M34.0 86.5h0M56.8 67.9h0M48.9 119.9h0M56.5 63.8h0M52.4 64.8h0M31.3 118.5h0M31.3 101.4h0M48.4 96.4h0M28.0 103.5h0M27.5 92.0h0M39.6 78.1h0M61.1 106.0h0M73.0 87.8h0M25.9 116.1h0M53.9 61.1h0M41.2 95.5h0M29.2 104.1h0M48.2 105.8h0M76.5 92.1h0M22.8 97.9h0M54.2 88.4h0M29.8 107.7h0M19.2 123.5h0M54.0 84.5h0M30.9 65.9h0M77.5 91.1h0M34.1 75.3h0M13.2 96.5h0M68.7 86.7h0M58.2 92.2h0M69.2 130.4h0M58.7 90.3h0M81.3 103.0h0M58.8 76.5h0M36.6 118.9h0M35.9 84.6h0M57.3 98.6h0M37.7 75.1h0M42.4 78.4h0M41.0 85.6h0M21.1 101.0h0M46.0 65.1h0M36.0 76.3h0M24.5 107.2h0M77.9 86.5h0M33.8 81.6h0M67.6 108.1h0M36.0 104.8h0M51.8 94.1h0M40.9 88.5h0M84.1 89.7h0M23.6 104.6h0M44.4 68.1h0M59.5 119.3h0M62.9 95.6h0M53.0 96.0h0M19.4 61.6h0M55.3 76.3h0M45.3 89.8h0M68.0 92.6h0M59.5 95.4h0M34.0 89.3h0M58.3 82.9h0M2.7 83.2h0M37.9 94.6h0M50.3 79.2h0M67.8 79.8h0M57.3 132.9h0M40.8 117.6h0M77.6 94.9h0M72.9 87.9h0M53.7 84.9h0M50.2 91.3h0M45.8 116.9h0M44.2 67.3h0M36.5 98.1h0M21.4 104.0h0M17.2 134.3h0M64.8 101.1h0M46.1 79.9h0M17.9 122.7h0M34.5 99.6h0M27.3 93.4h0M29.4 101.1h0M157.5 95.9h0M126.5 91.8h0M76.6 113.6h0M124.0 77.4h0M79.9 100.1h0M130.6 90.3h0M95.5 113.3h0M94.5 96.4h0M91.9 107.5h0M82.4 87.1h0M73.8 123.6h0M100.9 82.2h0M117.9 98.1h0M65.3 96.0h0M100.0 128.5h0M114.5 84.8h0M96.6 113.0h0M109.5 111.2h0M135.4 79.2h0M152.6 110.1h0M111.8 106.9h0M64.3 102.5h0M92.6 98.2h0M46.8 117.2h0M118.7 86.0h0M114.4 103.6h0M33.9 100.4h0M152.2 78.5h0M70.3 68.8h0M84.4 87.7h0M116.9 92.1h0M51.5 93.6h0M104.8 97.7h0M141.4 83.3h0M176.2 83.6h0M85.1 97.9h0M160.3 95.5h0M120.6 86.7h0M91.6 103.3h0M85.1 101.2h0M127.4 108.1h0M159.0 112.1h0M54.2 106.0h0M174.5 114.6h0M202.4 88.8h0M136.5 67.9h0M105.0 120.2h0M161.4 93.6h0M146.9 77.5h0M111.9 119.7h0M177.4 101.4h0M53.2 85.7h0M70.8 112.7h0M171.9 100.9h0M78.3 108.6h0M150.0 91.0h0M62.6 101.7h0M119.1 124.9h0M128.7 103.0h0M98.8 123.1h0M95.5 100.8h0M82.7 120.4h0M189.3 99.3h0M130.1 91.1h0M148.9 77.5h0M154.5 116.2h0M123.5 75.8h0M36.5 87.6h0M71.1 125.2h0M130.9 89.8h0M82.9 102.7h0M150.9 70.7h0M105.8 126.6h0M135.0 107.1h0M151.9 99.6h0M125.7 105.4h0M86.9 98.8h0M135.1 75.7h0M85.0 109.2h0M108.4 104.4h0M111.3 94.3h0M125.1 111.4h0M85.7 113.1h0M98.1 109.5h0M114.3 115.3h0M102.2 80.7h0M126.0 101.9h0M60.0 95.4h0M119.5 90.6h0M126.2 96.8h0M63.1 91.6h0M142.7 65.6h0M45.8 111.8h0M140.3 76.1h0M140.9 87.9h0M113.0 110.9h0M47.4 99.7h0M185.2 95.7h0M160.5 107.7h0M133.7 88.3h0M149.4 116.1h0M79.0 93.3h0M158.3 132.9h0M139.0 89.8h0M190.4 103.2h0M112.7 95.8h0M100.4 110.0h0M69.2 106.4h0M130.9 100.5h0M103.1 107.8h0M97.9 98.0h0M70.1 108.8h0M94.1 112.4h0M172.0 92.7h0M117.2 104.7h0M127.9 91.5h0M108.1 88.0h0M99.6 140.1h0M147.7 133.4h0M142.3 87.1h0M111.8 97.1h0M143.5 109.1h0M82.6 84.7h0M166.3 91.7h0M108.5 73.0h0M124.0 114.4h0M86.1 83.3h0M121.0 125.9h0M83.1 120.4h0M146.7 101.7h0M92.1 104.5h0M122.3 105.6h0M100.0 122.3h0M119.0 88.9h0M83.1 126.3h0M94.2 102.1h0M133.0 94.0h0M128.6 117.5h0M131.3 97.0h0M208.8 93.5h0M95.8 86.1h0M36.7 96.5h0M64.4 138.8h0M126.0 81.9h0M137.7 93.7h0M32.1 99.6h0M85.6 101.1h0M139.9 99.9h0M163.9 78.2h0M77.6 109.2h0M146.9 113.9h0M89.3 131.0h0M132.9 84.2h0M132.1 111.5h0M155.0 66.2h0M132.7 98.8h0M111.5 104.9h0M83.2 79.8h0M106.0 83.1h0M95.8 104.2h0M177.9 98.7h0M148.0 63.7h0M31.0 103.6h0M109.4 135.6h0M121.4 101.5h0M60.0 120.4h0M158.9 104.1h0M182.0 60.5h0M121.7 96.7h0M96.8 96.6h0M116.8 108.3h0M208.0 86.7h0M179.6 81.2h0M87.6 94.7h0M143.4 94.7h0M112.7 99.8h0M136.9 78.9h0M201.3 103.1h0M72.7 102.9h0M146.7 71.7h0M139.8 101.5h0M137.4 97.3h0M48.0 105.8h0M169.9 76.8h0M170.4 93.1h0M131.4 94.9h0M129.5 97.9h0M112.3 87.8h0M155.2 130.6h0M135.6 76.6h0M134.8 117.7h0M131.6 80.9h0M176.8 82.3h0M64.2 93.4h0M92.4 128.4h0M167.5 116.2h0M71.6 94.0h0M113.1 114.9h0M135.3 106.6h0M36.7 124.7h0M94.8 115.9h0M98.4 99.5h0M148.1 97.3h0M127.7 92.8h0M185.8 76.7h0M112.9 80.7h0M102.1 109.7h0M70.3 67.6h0M80.6 98.0h0M90.5 112.8h0M87.5 92.2h0M95.2 110.5h0M157.6 85.4h0M92.5 112.3h0M109.1 78.0h0M82.1 126.0h0M72.6 93.2h0M159.9 112.7h0M128.1 78.0h0M127.8 106.1h0M106.4 106.0h0M116.5 72.5h0M157.1 113.3h0M132.4 103.5h0M134.6 78.9h0M161.6 78.1h0M126.9 72.9h0M169.6 113.5h0M87.4 87.2h0M149.3 98.9h0M131.7 97.0h0M123.3 103.7h0M99.9 91.0h0M179.4 101.5h0M98.1 127.0h0M84.8 105.7h0M127.6 93.4h0M144.1 104.6h0M82.2 96.5h0M131.6 117.5h0M144.9 134.7h0M128.7 110.4h0M99.2 115.9h0M65.3 78.8h0M125.2 111.7h0M151.8 90.3h0M149.7 70.2h0M178.0 92.0h0M124.6 110.9h0M165.7 99.3h0M84.4 113.5h0M105.6 85.1h0M157.6 78.7h0M157.0 124.3h0M139.3 103.8h0M72.8 115.7h0M137.0 116.2h0M128.3 86.9h0M150.2 92.6h0M98.4 100.2h0M86.6 119.6h0M45.3 107.4h0M205.8 124.7h0M133.6 93.5h0M187.6 110.1h0M84.4 105.7h0M88.3 122.2h0M161.9 93.4h0M170.1 93.7h0M128.4 88.5h0M97.6 128.0h0M103.4 116.8h0M83.5 91.5h0M44.8 117.7h0M133.7 106.0h0M102.9 97.8h0M168.2 82.6h0M133.6 104.2h0M90.4 102.7h0M66.4 120.8h0M130.4 115.6h0M83.4 74.4h0M127.5 98.9h0M167.9 116.5h0M156.2 87.4h0M110.9 87.8h0M87.1 94.5h0M99.8 87.7h0M129.4 110.6h0M141.7 107.9h0M103.7 107.8h0M134.6 103.8h0M135.2 95.4h0M129.7 119.3h0M144.1 124.3h0M24.0 127.2h0M132.3 105.4h0M135.3 122.9h0M192.5 118.5h0M48.3 92.8h0M125.1 108.8h0M150.6 127.0h0M80.7 96.1h0M152.6 82.2h0M161.4 88.7h0M126.1 91.3h0M119.9 101.3h0M176.4 106.4h0M121.3 123.4h0M144.5 116.4h0M110.9 76.1h0M141.2 93.7h0M103.0 105.9h0M145.3 120.6h0M164.1 85.4h0M159.7 133.9h0M35.3 85.5h0M44.9 95.6h0M112.7 120.2h0M106.1 85.5h0M18.3 97.7h0M194.5 66.0h0M103.3 107.7h0M46.6 129.3h0M83.8 108.9h0M129.0 94.6h0M119.4 119.4h0M125.2 111.7h0M170.2 103.7h0M72.0 95.5h0M138.4 99.4h0M96.7 95.7h0M136.7 88.9h0M132.9 101.6h0M25.6 113.6h0M151.8 94.4h0M100.0 100.8h0M121.7 117.3h0M170.0 106.9h0M79.7 101.2h0M92.3 81.9h0M93.8 100.7h0M147.5 104.0h0M46.2 95.8h0M172.0 84.4h0M69.4 105.6h0M116.6 95.9h0M135.1 95.4h0M151.3 118.2h0M180.4 97.3h0M123.0 97.2h0M99.4 125.6h0M99.8 92.9h0M163.0 99.2h0M61.1 113.9h0M183.1 95.6h0M167.6 86.1h0M109.4 84.6h0M115.6 132.9h0M40.1 97.5h0M128.8 113.5h0M179.6 111.0h0M132.0 97.9h0M33.8 100.6h0M174.6 91.4h0M143.4 81.2h0M127.1 84.3h0M109.8 98.2h0M137.3 96.1h0M53.4 103.6h0M134.3 105.0h0M100.4 104.5h0M161.5 111.7h0M81.2 85.8h0M98.9 54.8h0M38.4 130.3h0M157.5 90.7h0M121.3 102.6h0M118.1 107.2h0M118.0 105.1h0M129.0 109.1h0M143.5 106.3h0M134.6 122.9h0M135.5 102.3h0M70.9 113.8h0M92.7 107.9h0M103.6 108.3h0M133.7 131.4h0M103.8 89.3h0M93.5 99.6h0M145.1 68.0h0M107.8 123.9h0M143.5 114.7h0M98.0 114.1h0M84.3 103.7h0M133.0 101.0h0M99.8 117.7h0M120.4 99.9h0M151.6 75.9h0M116.1 72.9h0M178.8 92.5h0M71.3 79.1h0M107.5 97.1h0M137.3 113.9h0M61.0 96.5h0M67.2 115.2h0M112.9 63.7h0M77.5 83.6h0M127.4 123.7h0M149.8 106.0h0M79.4 110.5h0M133.6 83.3h0M75.8 106.3h0M119.6 123.9h0M192.0 112.6h0M133.1 108.6h0M89.6 99.0h0M107.8 75.5h0M173.1 90.2h0M112.6 94.6h0M129.5 104.5h0M90.3 97.2h0M137.6 100.5h0M89.0 94.8h0M126.7 87.8h0M118.9 99.7h0M42.3 80.1h0M117.2 71.9h0M142.7 97.0h0M117.9 117.5h0M135.4 81.2h0M78.2 113.1h0M193.6 126.7h0M111.8 90.0h0M111.6 75.1h0M112.3 91.2h0M56.9 110.4h0M147.8 107.7h0M161.4 101.1h0M135.7 91.3h0M158.0 107.0h0M103.6 90.5h0M101.7 101.2h0M97.8 104.5h0M69.9 133.2h0M88.8 99.9h0M67.8 102.5h0M161.7 104.7h0M50.1 131.0h0M118.2 85.8h0M21.5 124.8h0M116.8 89.5h0M158.5 81.6h0M134.4 94.7h0M98.5 75.6h0M159.1 80.9h0M176.7 99.7h0M128.7 101.2h0M75.7 103.8h0M88.6 126.4h0M119.3 67.6h0M147.8 99.2h0M98.4 112.5h0M105.3 113.9h0M140.3 89.7h0M119.0 110.3h0M97.6 85.5h0M99.6 98.3h0M47.2 121.1h0M63.4 100.9h0M30.5 107.2h0M94.3 123.1h0M95.9 80.4h0M118.2 102.0h0M99.6 100.4h0M108.3 95.0h0M140.6 88.2h0M147.0 96.3h0M177.0 93.5h0M110.1 113.1h0M70.5 97.0h0M107.9 122.5h0M166.4 94.2h0M166.7 109.9h0M132.0 113.8h0M126.2 95.7h0M106.3 113.7h0M123.4 81.5h0M83.0 90.1h0M103.9 96.3h0M142.0 116.6h0M116.2 96.4h0M93.0 84.3h0M104.0 109.3h0M71.1 109.9h0M130.4 91.9h0M107.6 100.0h0M115.5 91.2h0M121.9 119.2h0M137.5 103.2h0M80.9 105.7h0M137.6 87.2h0M111.6 118.2h0M114.2 95.7h0M160.7 63.8h0M106.4 127.9h0M104.6 116.5h0M115.2 100.3h0M125.8 53.3h0M141.8 116.6h0M118.3 82.8h0M48.3 69.9h0M50.5 52.4h0M188.8 122.7h0M127.1 113.3h0M165.6 119.6h0M86.2 90.9h0M159.4 124.8h0M109.3 115.9h0M130.1 96.3h0M118.1 82.0h0M154.7 117.2h0M142.4 106.8h0M143.1 108.0h0M64.5 95.8h0M71.8 101.0h0M149.7 97.3h0M84.5 96.9h0M155.3 111.0h0M118.2 111.3h0M111.3 64.8h0M218.2 94.4h0M68.2 104.4h0M93.5 106.8h0M96.6 116.1h0M173.5 99.8h0M113.6 93.0h0M121.8 101.7h0M118.2 88.7h0M87.0 89.9h0M128.1 87.6h0M143.8 79.4h0M166.7 128.4h0M82.1 133.3h0M146.6 129.0h0M137.2 130.7h0M114.9 97.1h0M153.2 71.7h0M137.0 85.1h0M149.1 72.1h0M143.9 112.5h0M136.3 102.9h0M106.6 111.4h0M128.1 97.0h0M107.7 76.8h0M174.8 81.3h0M144.1 91.6h0M161.1 105.5h0M122.1 83.2h0M147.9 90.3h0M107.5 131.6h0M149.8 128.8h0M174.9 102.7h0M110.8 125.9h0M174.7 89.3h0M70.7 54.3h0M122.9 119.9h0M164.8 98.0h0M103.3 110.5h0M111.1 91.4h0M124.5 100.0h0M152.5 98.6h0M131.7 82.9h0M68.0 87.7h0M109.6 79.9h0M147.4 104.5h0M68.1 75.8h0M123.7 120.9h0M76.7 116.7h0M59.0 77.9h0M102.7 93.4h0M61.9 97.3h0M96.7 122.4h0M167.6 95.7h0M169.2 81.7h0M90.2 106.0h0M80.9 118.0h0M110.9 98.3h0M163.9 96.1h0M107.9 105.1h0M106.8 139.0h0M119.7 86.5h0M71.2 125.0h0M115.3 93.4h0M108.5 98.1h0M127.6 117.4h0M82.8 124.4h0M109.8 112.5h0M109.5 103.5h0M110.2 72.0h0M102.6 121.5h0M68.4 105.6h0M82.2 100.3h0M108.6 89.7h0M91.4 118.8h0M139.5 98.9h0M150.5 89.2h0M90.8 108.6h0M133.7 98.0h0M130.5 116.6h0M133.8 102.2h0M121.5 112.1h0M122.9 115.7h0M98.3 109.5h0M117.6 92.2h0M86.9 101.5h0M75.7 91.4h0M113.0 103.6h0M80.3 110.7h0M97.0 99.6h0M156.0 91.4h0M155.8 91.6h0M157.3 98.3h0M158.7 88.4h0M119.5 97.3h0M73.2 96.5h0M149.7 108.6h0M100.1 97.4h0M74.8 130.4h0M71.9 100.9h0M60.1 103.8h0M165.5 87.5h0M78.4 83.5h0M121.5 74.8h0M105.9 100.8h0M167.2 105.6h0M103.8 112.8h0M126.9 115.8h0M99.3 95.7h0M62.1 84.8h0M134.5 86.9h0M45.3 138.0h0M184.0 91.1h0M171.0 110.2h0M124.1 87.3h0M101.8 90.4h0M112.9 118.6h0M71.5 106.3h0M50.0 102.3h0M140.8 108.5h0M96.4 125.0h0M109.0 125.7h0M119.1 108.8h0M132.0 113.1h0M131.0 121.2h0M106.6 99.5h0M120.3 106.4h0M115.2 89.9h0M114.6 112.3h0M39.3 116.5h0M121.9 105.7h0M138.4 116.8h0M79.7 106.9h0M126.3 105.1h0M119.3 99.8h0M89.0 99.2h0M126.3 122.9h0M162.8 97.8h0M91.2 120.7h0M105.0 132.0h0M141.1 93.6h0M79.9 102.4h0M128.7 124.2h0M110.2 115.1h0M153.2 114.3h0M122.6 102.4h0M186.3 75.3h0M113.8 117.6h0M110.9 114.4h0M90.3 88.0h0M122.3 77.5h0M146.8 65.4h0M96.2 79.0h0M188.9 84.0h0M109.1 87.0h0M171.2 101.3h0M125.4 74.0h0M170.1 67.7h0M54.8 103.6h0M140.3 83.7h0M140.7 103.8h0M113.7 104.6h0M93.4 97.3h0M139.0 98.9h0M143.0 93.0h0M45.0 98.1h0M46.5 93.3h0M113.9 105.0h0M118.3 84.2h0M142.1 114.4h0M60.2 127.3h0M59.4 113.4h0M111.3 72.3h0M127.0 103.8h0M147.7 95.9h0M139.9 79.5h0M95.9 106.4h0M73.0 118.5h0M141.2 89.3h0M141.3 75.9h0M111.9 95.2h0M118.6 126.6h0M137.9 85.0h0M113.5 64.7h0M87.7 106.0h0M46.4 87.6h0M106.1 106.6h0M62.1 100.0h0M67.2 120.1h0M50.1 99.4h0M186.5 112.8h0M66.2 104.4h0M136.5 112.5h0M126.9 65.0h0M85.7 87.9h0M159.2 126.2h0M153.5 91.2h0M111.4 74.1h0M99.6 108.6h0M118.9 90.0h0M106.4 89.0h0M101.6 91.4h0M108.3 86.7h0M161.8 79.7h0M129.2 102.4h0M108.0 115.9h0M142.7 145.6h0M89.8 94.5h0M105.0 108.5h0M97.7 134.7h0M117.0 89.9h0M109.0 110.6h0M43.9 91.0h0M95.7 138.0h0M146.4 72.7h0M129.0 131.3h0M152.0 83.6h0M132.2 102.3h0M108.3 99.9h0M70.4 110.3h0M110.5 109.7h0M137.6 85.3h0M168.1 106.1h0M113.9 100.7h0M102.4 101.6h0M118.2 112.6h0M128.7 99.2h0M140.3 101.3h0M169.9 99.1h0M146.2 143.7h0M69.5 125.0h0M132.6 91.0h0M151.8 78.2h0M71.5 116.8h0M66.5 112.5h0M106.7 85.9h0M170.8 134.4h0M198.8 92.3h0M158.7 104.4h0M121.6 97.7h0M134.9 105.7h0M109.3 128.1h0M145.3 78.6h0M81.9 60.6h0M92.7 80.3h0M49.1 79.3h0M143.3 112.6h0M159.9 79.4h0M120.7 88.8h0M128.2 98.5h0M164.2 113.4h0M96.5 117.9h0M158.2 95.5h0M121.3 113.4h0M113.1 97.3h0M113.4 118.9h0M176.5 92.0h0M65.5 59.7h0M145.9 86.2h0M86.2 82.0h0M121.1 107.5h0M66.4 129.7h0M107.2 101.7h0M143.1 80.5h0M98.8 132.1h0M103.1 98.1h0M104.6 114.7h0M95.6 102.6h0M150.2 81.2h0M61.4 222.6h0M60.5 214.5h0M66.1 173.3h0M58.2 176.2h0M64.1 195.7h0M62.2 186.8h0M57.6 155.3h0M64.3 192.5h0M66.3 184.7h0M50.1 153.7h0M52.5 210.8h0M61.7 138.1h0M83.7 110.4h0M66.9 165.5h0M51.8 119.9h0M60.9 182.2h0M60.3 141.8h0M74.7 145.2h0M54.6 152.5h0M70.7 158.6h0M53.4 202.5h0M70.2 125.9h0M69.8 132.5h0M62.8 184.9h0M59.5 190.4h0M49.1 184.1h0M67.7 185.0h0M72.6 170.3h0M65.8 186.3h0M65.6 185.1h0M52.5 138.0h0M66.9 217.7h0M66.7 166.8h0M61.0 151.0h0M65.9 143.2h0M62.0 188.5h0M55.1 133.0h0M54.2 161.9h0M61.5 158.9h0M34.5 211.6h0M50.2 191.9h0M62.5 176.9h0M50.5 172.5h0M64.3 141.1h0M66.1 134.1h0M68.3 167.6h0M64.9 162.6h0M61.8 171.3h0M57.9 169.0h0M67.0 151.2h0M65.0 209.2h0M64.8 151.7h0M78.9 150.2h0M63.5 182.2h0M56.1 194.0h0M61.0 115.4h0M59.9 198.6h0M63.9 175.7h0M53.9 225.5h0M65.0 210.4h0M47.8 172.8h0M55.6 113.7h0M58.2 156.4h0M67.7 187.1h0M64.2 130.0h0M63.6 194.4h0M66.5 168.4h0M61.9 177.6h0M54.3 214.7h0M72.0 196.5h0M49.4 146.6h0M61.5 185.5h0M63.8 158.2h0M77.5 133.9h0M74.9 182.9h0M61.7 123.0h0M68.0 95.5h0M67.7 195.5h0M73.0 128.8h0M60.6 143.7h0M71.0 123.2h0M58.6 162.6h0M64.4 162.8h0M71.4 120.2h0M51.7 170.2h0M60.6 146.0h0M59.1 176.3h0M64.6 165.0h0M57.5 189.6h0M70.3 208.2h0M53.9 182.5h0M64.1 169.1h0M52.7 174.0h0M53.5 161.8h0M62.4 222.6h0M62.9 168.4h0M61.0 163.9h0M69.1 190.4h0M43.7 159.3h0M56.3 176.6h0M57.8 169.8h0M69.6 141.4h0M55.3 170.0h0M67.8 161.6h0M42.9 197.9h0M55.2 218.9h0M46.4 140.5h0M66.7 186.7h0M50.0 196.4h0M70.0 147.7h0M62.3 204.6h0M49.9 90.4h0M53.3 146.8h0M64.0 198.8h0M70.3 173.9h0M51.8 161.4h0M64.3 199.5h0M57.9 185.1h0M50.4 148.1h0M58.0 191.9h0M59.1 161.8h0M68.3 146.9h0M66.4 163.6h0M57.0 197.9h0M70.6 137.3h0M63.1 155.3h0M49.6 186.0h0M64.5 190.3h0M71.2 181.1h0M66.4 121.1h0M72.2 153.9h0M52.3 194.8h0M56.9 165.6h0M65.5 156.5h0M68.7 168.3h0M63.3 137.7h0M72.8 160.0h0M55.9 205.1h0M66.2 112.2h0M70.6 163.5h0M64.7 137.0h0M54.6 209.3h0M45.4 193.1h0M51.0 144.1h0M55.1 155.6h0M65.8 134.8h0M44.2 173.9h0M3.4 227.1h0M57.9 135.7h0M16.3 129.8h0M97.0 188.0h0M39.8 177.0h0M74.3 161.6h0M52.2 222.7h0M11.1 174.5h0M42.2 119.1h0M52.8 172.5h0M44.4 162.9h0M65.0 157.3h0M63.5 154.5h0M25.2 136.2h0M36.9 175.9h0M22.4 182.1h0M87.3 195.5h0M27.8 194.5h0M59.8 144.9h0M5.8 185.3h0M39.3 168.6h0M81.0 146.0h0M40.4 184.8h0M24.0 189.5h0M61.2 142.5h0M54.0 199.8h0M59.3 114.3h0M15.1 132.6h0M34.4 187.1h0M27.2 148.9h0M38.1 164.4h0M39.2 171.1h0M25.2 133.3h0M17.3 148.1h0M74.4 142.9h0M73.5 173.7h0M11.4 159.6h0M61.1 190.4h0M4.1 208.0h0M6.6 152.1h0M25.8 146.7h0M42.8 133.1h0M37.6 129.8h0M44.4 177.8h0M59.6 166.7h0M34.5 141.9h0M35.6 124.8h0M31.8 206.5h0M51.2 98.7h0M52.1 162.0h0M45.6 142.4h0M68.0 176.4h0M53.3 201.7h0M80.0 204.4h0M11.3 187.3h0M6.3 147.0h0M21.7 123.3h0M4.9 160.1h0M6.2 155.1h0M18.7 122.0h0M69.0 202.6h0M49.2 208.2h0M47.9 156.8h0M121.8 167.6h0M22.6 171.8h0M38.3 198.0h0M22.1 179.5h0M66.6 122.8h0M23.8 209.0h0M58.0 185.7h0M59.5 151.7h0M60.2 212.5h0M21.4 184.1h0M72.2 167.3h0M19.4 174.2h0M7.5 126.2h0M47.5 118.0h0M69.4 141.7h0M9.6 185.4h0M26.5 131.3h0M35.4 172.2h0M62.2 118.2h0M11.6 165.8h0M19.8 175.4h0M37.0 148.5h0M47.6 199.1h0M3.2 147.2h0M46.3 137.9h0M25.6 180.1h0M74.3 169.0h0M16.8 159.8h0M54.0 144.6h0M49.5 141.6h0M38.1 154.2h0M41.2 218.6h0M56.7 215.8h0M15.2 163.4h0M6.3 207.7h0M56.0 174.2h0M73.1 179.4h0M32.5 118.0h0M83.8 152.9h0M58.0 162.3h0M109.0 153.0h0M19.0 206.7h0M72.8 165.8h0M43.4 193.4h0M25.8 204.0h0M17.1 170.2h0M68.7 156.3h0M34.6 140.7h0M32.6 180.9h0M47.3 161.2h0M36.4 167.1h0M45.1 127.0h0M68.0 179.3h0M33.4 164.5h0M43.9 163.4h0M15.8 176.8h0M33.6 183.9h0M61.3 155.7h0M31.4 179.2h0M35.7 173.8h0M2.8 170.1h0M48.9 174.8h0M55.5 159.9h0M45.6 174.5h0M44.3 202.0h0M44.2 189.8h0M26.7 159.1h0M55.0 162.2h0M19.4 189.7h0M49.7 139.5h0M95.2 158.6h0M92.2 177.6h0M59.0 141.8h0M61.0 194.9h0M25.4 220.5h0M13.5 209.7h0M17.5 218.3h0M23.1 205.5h0M104.5 140.0h0M11.8 188.7h0M62.3 147.5h0M47.5 125.0h0M15.4 143.8h0M44.6 203.9h0M65.0 206.2h0M54.5 162.4h0M68.6 190.7h0M55.2 130.6h0M51.0 115.3h0M5.9 201.9h0M107.4 166.3h0M51.1 138.2h0M39.0 209.6h0M21.4 155.7h0M64.0 196.8h0M76.3 140.4h0M59.4 206.0h0M47.9 139.5h0M18.1 185.8h0M54.2 109.4h0M2.9 191.2h0M27.9 198.5h0M46.9 141.9h0M64.5 208.3h0M3.3 146.0h0M84.3 152.7h0M50.3 168.7h0M39.7 150.1h0M37.2 156.1h0M2.1 221.7h0M13.8 153.2h0M19.0 149.0h0M12.1 156.8h0M60.3 142.7h0M35.7 202.6h0M87.0 156.4h0M11.0 180.5h0M62.0 158.7h0M17.7 165.2h0M52.8 212.1h0M50.0 132.5h0M90.7 120.6h0M52.2 124.9h0M30.4 121.2h0M48.0 160.4h0M63.6 169.3h0M52.5 158.4h0M17.4 202.8h0M45.8 178.3h0M35.1 186.4h0M131.6 160.3h0M19.2 196.4h0M113.0 210.0h0M30.0 147.9h0M36.7 149.9h0M97.6 224.7h0M29.7 150.0h0M108.4 225.7h0M48.8 217.5h0M90.5 105.9h0M26.1 137.4h0M13.9 138.0h0M55.4 183.4h0M69.0 148.4h0M59.6 161.8h0M24.8 178.2h0M11.6 188.1h0M11.9 173.9h0M33.0 186.9h0M24.5 138.1h0M91.9 145.4h0M42.9 217.0h0M135.5 138.0h0M29.2 198.7h0M146.0 184.2h0M55.0 153.9h0M145.2 208.2h0M149.9 162.8h0M145.0 128.2h0M98.7 177.4h0M49.9 207.4h0M58.0 142.9h0M41.7 212.4h0M135.4 122.6h0M107.2 201.6h0M70.9 205.8h0M27.6 181.0h0M45.5 140.8h0M92.8 214.9h0M83.7 139.2h0M141.2 225.2h0M16.9 121.7h0M74.3 224.2h0M98.6 186.7h0M56.9 138.1h0M92.2 128.3h0M41.5 155.8h0M18.2 196.7h0M105.2 123.3h0M91.9 163.9h0M88.1 170.9h0M21.7 203.8h0M144.6 212.6h0M136.1 169.1h0M126.3 158.6h0M55.7 159.6h0M96.1 142.6h0M16.5 164.8h0M21.0 179.3h0M101.3 142.8h0M70.4 192.1h0M115.8 181.5h0M81.6 162.3h0M132.4 216.9h0M83.7 213.3h0M144.9 128.0h0M94.2 150.1h0M59.5 152.7h0M106.9 160.3h0M13.5 142.0h0M59.8 122.3h0M101.9 187.7h0M133.0 130.0h0M39.7 212.9h0M149.3 215.1h0M134.9 181.1h0M49.4 226.9h0M91.9 178.4h0M14.8 136.7h0M97.9 226.6h0M49.7 156.5h0M15.7 226.7h0M55.8 193.6h0M134.5 172.4h0M124.3 225.0h0M34.2 153.1h0M3.1 124.7h0M123.5 219.3h0M57.4 204.9h0M51.8 197.8h0M35.3 188.1h0M134.6 136.1h0M89.6 229.5h0M80.0 217.1h0M11.0 225.4h0M96.1 228.6h0M138.8 213.4h0M142.7 168.4h0M128.8 206.4h0M17.2 129.1h0M112.5 179.7h0M63.7 175.5h0M100.5 131.1h0M57.9 178.9h0M17.5 131.0h0M108.9 153.9h0M74.6 208.8h0M37.2 149.6h0M103.8 228.9h0M61.3 175.6h0M127.7 176.6h0M96.5 213.5h0M29.3 201.8h0M51.5 183.1h0M93.4 185.0h0M15.2 166.6h0M89.7 227.7h0M39.9 229.8h0M79.8 224.9h0M75.3 184.2h0M4.6 221.7h0M37.5 130.1h0M124.8 226.7h0M108.7 130.5h0M115.2 209.7h0M52.9 190.6h0M52.4 151.0h0M123.5 194.6h0M35.0 141.5h0M92.0 177.4h0M5.3 134.7h0M67.1 165.1h0M115.1 183.2h0M122.3 188.7h0M127.1 216.5h0M91.6 223.7h0M89.7 188.7h0M63.6 215.5h0M25.0 132.2h0M117.4 177.7h0M122.9 157.7h0M117.5 144.8h0" stroke="#d42020" stroke-width="1.05" stroke-linecap="square" fill="none"/>
<path d="M37.0 94.3h0M47.1 98.8h0M43.3 95.9h0M38.0 75.1h0M49.9 94.6h0M59.3 98.4h0M57.1 85.5h0M58.8 87.1h0M52.6 86.6h0M47.8 95.5h0M39.6 91.8h0M51.6 104.7h0M58.9 105.0h0M43.9 85.7h0M44.0 99.4h0M37.8 95.7h0M60.0 96.4h0M36.2 104.7h0M52.1 95.7h0M50.7 85.4h0M47.6 103.2h0M44.9 102.4h0M45.1 97.4h0M56.8 88.1h0M39.6 82.5h0M39.7 108.5h0M39.9 87.2h0M53.0 79.0h0M56.2 82.6h0M57.5 89.2h0M51.9 96.4h0M36.6 105.0h0M51.3 89.8h0M51.4 95.0h0M44.6 84.4h0M60.3 78.4h0M46.2 84.5h0M40.9 77.8h0M46.5 78.5h0M52.8 97.6h0M40.2 91.0h0M33.6 85.6h0M54.3 83.9h0M48.7 82.2h0M42.0 90.3h0M55.0 78.9h0M51.2 89.5h0M39.5 100.4h0M51.9 83.9h0M48.3 91.4h0M37.8 98.6h0M54.1 87.4h0M49.7 95.9h0M45.0 91.8h0M63.8 96.1h0M26.5 100.1h0M36.1 96.1h0M44.2 91.5h0M57.8 95.1h0M49.3 100.1h0M43.3 99.1h0M36.4 93.0h0M50.4 93.1h0M53.6 84.5h0M36.3 98.9h0M40.2 112.1h0M55.2 100.6h0M47.9 94.6h0M38.6 93.1h0M54.8 86.8h0M49.4 78.4h0M36.2 85.6h0M35.8 81.9h0M51.2 83.7h0M43.4 90.7h0M33.5 95.3h0M44.6 86.6h0M39.5 93.9h0M44.3 80.5h0M46.2 94.7h0M55.3 99.1h0M50.4 83.7h0M37.4 80.2h0M42.8 93.2h0M41.5 97.4h0M64.1 79.5h0M62.1 86.6h0M41.3 104.6h0M46.2 102.8h0M52.1 84.4h0M45.8 95.5h0M44.3 85.1h0M51.5 80.4h0M53.4 92.5h0M45.9 88.8h0M36.4 84.4h0M36.6 78.9h0M54.8 90.1h0M58.8 74.0h0M52.8 78.0h0M42.0 85.9h0M57.0 84.3h0M48.3 87.5h0M35.4 98.4h0M45.4 88.0h0M54.3 80.5h0M48.5 98.3h0M55.9 83.0h0M52.9 98.4h0M37.5 78.1h0M35.0 93.7h0M67.8 78.1h0M47.2 81.5h0M54.3 80.4h0M42.5 90.2h0M37.6 100.3h0M58.6 81.6h0M53.5 105.1h0M65.7 82.2h0M47.6 91.2h0M62.9 79.8h0M45.5 97.3h0M34.8 102.0h0M49.8 80.4h0M50.0 92.0h0M51.7 92.7h0M52.0 77.4h0M40.8 94.9h0M40.7 101.0h0M41.5 99.8h0M44.9 110.9h0M33.3 101.1h0M34.6 94.7h0M43.4 98.9h0M39.0 86.9h0M37.8 96.8h0M36.5 79.7h0M55.8 86.0h0M58.8 103.6h0M48.5 83.9h0M38.9 94.1h0M52.9 90.4h0M56.4 91.4h0M33.7 85.4h0M34.6 99.6h0M46.4 91.6h0M47.2 89.9h0M59.1 80.8h0M42.9 92.0h0M57.5 76.5h0M22.9 101.6h0M53.7 101.7h0M43.1 93.9h0M50.0 99.3h0M42.3 93.8h0M46.8 91.3h0M57.8 77.4h0M48.6 94.7h0M55.5 81.8h0M37.3 82.6h0M61.8 104.1h0M30.2 109.0h0M43.3 85.9h0M42.7 77.7h0M33.7 94.4h0M40.7 93.6h0M35.1 91.6h0M65.3 78.1h0M31.0 89.4h0M41.8 96.4h0M27.9 111.7h0M29.3 96.4h0M42.0 83.0h0M32.4 95.2h0M26.8 111.4h0M42.2 90.6h0M44.9 87.6h0M49.8 90.0h0M55.3 94.0h0M38.5 91.6h0M60.4 63.5h0M41.4 93.8h0M48.9 86.6h0M43.8 106.7h0M46.7 100.0h0M36.2 102.8h0M44.3 85.4h0M51.0 101.1h0M36.3 95.2h0M34.9 108.5h0M54.0 90.1h0M58.3 90.4h0M49.9 81.8h0M55.6 101.0h0M58.3 92.2h0M52.9 83.6h0M50.4 86.9h0M48.0 70.9h0M48.2 94.5h0M52.4 93.2h0M31.8 97.8h0M63.1 76.1h0M36.3 90.9h0M64.1 102.8h0M49.1 83.3h0M42.2 97.4h0M50.2 94.1h0M50.7 83.8h0M49.3 93.8h0M50.5 98.0h0M56.4 104.1h0M48.7 102.1h0M58.9 104.4h0M44.3 81.8h0M47.0 83.2h0M49.7 76.5h0M48.1 90.1h0M41.3 91.6h0M51.5 81.8h0M50.7 88.2h0M56.6 84.6h0M44.3 84.1h0M52.4 87.1h0M50.5 87.3h0M52.1 83.9h0M47.4 104.2h0M37.3 81.3h0M46.3 86.1h0M57.3 74.5h0M44.7 88.1h0M48.4 84.1h0M42.2 87.2h0M29.2 101.9h0M59.8 83.9h0M55.2 87.7h0M49.7 73.8h0M27.4 89.8h0M46.0 84.2h0M39.2 79.0h0M37.0 102.4h0M52.3 87.8h0M32.6 83.9h0M53.9 89.0h0M34.5 101.2h0M34.9 90.2h0M48.0 100.8h0M48.5 113.3h0M47.4 89.0h0M58.7 81.8h0M42.0 84.6h0M54.9 88.0h0M56.4 77.2h0M55.4 89.6h0M44.2 92.1h0M35.6 106.1h0M47.8 84.9h0M37.7 84.9h0M46.8 95.8h0M63.0 94.6h0M39.0 73.2h0M38.0 103.4h0M44.3 83.0h0M37.9 84.9h0M55.4 85.2h0M47.1 89.7h0M55.6 84.2h0M45.1 97.1h0M34.7 82.8h0M52.2 102.4h0M54.1 99.0h0M42.7 88.5h0M56.4 81.2h0M33.8 90.5h0M49.6 90.6h0M39.6 99.0h0M38.3 101.8h0M42.0 93.0h0M39.6 104.0h0M49.4 89.0h0M41.2 94.2h0M45.2 95.3h0M54.3 89.9h0M62.8 82.2h0M46.0 96.1h0M40.8 111.8h0M42.8 90.9h0M54.8 97.1h0M53.7 79.2h0M45.4 88.2h0M39.3 94.5h0M59.6 88.1h0M53.4 79.5h0M40.9 85.7h0M52.3 90.1h0M46.2 82.8h0M65.6 69.4h0M43.2 93.9h0M45.2 93.0h0M52.7 95.9h0M52.3 83.4h0M38.4 84.5h0M55.9 90.0h0M50.2 78.6h0M56.1 68.6h0M44.4 88.2h0M49.5 95.7h0M37.8 84.3h0M29.8 98.6h0M44.5 103.4h0M58.3 97.7h0M49.1 88.4h0M71.5 75.0h0M58.2 81.5h0M53.4 83.5h0M53.2 73.1h0M43.8 94.8h0M40.7 90.6h0M41.0 93.5h0M47.2 91.0h0M65.4 75.2h0M41.0 86.3h0M40.3 91.2h0M51.9 92.7h0M62.9 92.0h0M51.8 86.2h0M58.4 87.2h0M43.2 102.4h0M39.0 93.1h0M50.4 95.1h0M44.8 84.8h0M50.7 71.9h0M35.7 95.7h0M55.0 86.8h0M42.0 86.6h0M57.1 89.3h0M39.4 90.4h0M40.9 102.7h0M55.7 79.5h0M57.6 94.5h0M31.9 101.8h0M52.6 83.5h0M39.9 96.0h0M41.7 84.5h0M50.3 91.7h0M33.3 94.4h0M51.5 76.5h0M42.1 91.1h0M57.9 75.2h0M59.2 93.3h0M49.2 82.9h0M57.3 94.6h0M50.4 62.6h0M44.1 100.4h0M41.2 94.0h0M52.9 103.9h0M50.4 74.6h0M55.4 81.1h0M48.8 88.8h0M36.6 73.8h0M34.8 100.3h0M73.7 93.0h0M46.4 90.8h0M52.9 92.3h0M44.6 90.3h0M60.4 91.9h0M42.0 86.4h0M43.1 82.5h0M52.6 92.4h0M37.2 85.9h0M43.5 93.7h0M39.9 75.2h0M54.0 89.4h0M50.5 80.7h0M58.8 78.4h0M39.1 98.5h0M35.5 103.9h0M42.3 89.3h0M53.9 76.1h0M51.7 93.4h0M40.4 108.4h0M51.1 68.6h0M47.4 81.1h0M34.2 97.4h0M37.8 91.2h0M53.5 93.1h0M43.2 92.5h0M44.8 87.9h0M53.3 86.7h0M54.8 95.8h0M46.9 67.3h0M49.0 92.8h0M57.5 76.5h0M41.2 90.9h0M38.5 96.8h0M21.2 93.3h0M40.7 94.6h0M50.1 89.8h0M52.5 79.4h0M15.3 107.2h0M43.4 85.1h0M44.5 100.0h0M61.8 92.4h0M43.9 92.6h0M53.6 90.3h0M67.8 82.2h0M50.3 89.7h0M41.6 85.2h0M56.7 83.3h0M59.2 95.9h0M42.9 87.0h0M33.5 98.4h0M38.7 85.1h0M36.1 101.9h0M44.1 82.2h0M56.4 89.0h0M52.8 93.1h0M58.3 72.2h0M37.5 95.6h0M50.9 86.1h0M42.2 82.8h0M35.9 94.5h0M61.2 95.0h0M53.9 82.9h0M38.7 63.3h0M53.7 97.4h0M52.6 84.4h0M42.7 93.7h0M66.5 85.7h0M68.2 82.9h0M55.2 94.0h0M56.7 94.4h0M30.5 87.3h0M52.7 93.4h0M41.4 87.9h0M48.7 86.4h0M43.0 104.8h0M66.2 81.0h0M51.0 89.1h0M52.7 77.6h0M57.5 91.1h0M43.7 88.9h0M63.0 75.5h0M57.4 81.8h0M39.2 102.0h0M42.2 83.5h0M49.8 94.2h0M44.5 97.3h0M60.8 69.8h0M40.9 99.8h0M65.8 84.2h0M28.4 94.7h0M57.0 77.6h0M39.2 87.9h0M28.4 102.5h0M54.2 91.0h0M49.5 83.3h0M37.2 91.5h0M61.7 86.6h0M38.1 103.8h0M60.7 84.8h0M64.7 96.8h0M59.6 73.9h0M35.4 82.1h0M65.7 93.4h0M43.6 93.0h0M55.2 83.7h0M54.3 91.3h0M57.1 85.9h0M31.9 91.5h0M46.3 79.7h0M45.1 80.3h0M55.3 73.7h0M45.8 91.5h0M49.9 93.2h0M56.2 87.3h0M46.6 79.4h0M29.0 106.9h0M42.0 86.8h0M51.8 79.8h0M49.2 95.1h0M35.0 103.1h0M40.3 86.1h0M50.4 91.5h0M43.2 98.3h0M50.8 90.4h0M39.7 96.8h0M46.9 90.6h0M53.9 93.6h0M59.5 74.2h0M52.8 88.6h0M53.9 76.1h0M53.7 91.4h0M47.3 105.0h0M38.9 96.9h0M55.1 84.4h0M37.6 102.2h0M35.5 100.0h0M63.3 90.9h0M42.9 96.0h0M32.9 90.9h0M65.6 82.3h0M38.6 92.6h0M57.6 89.7h0M36.3 77.9h0M54.9 94.1h0M42.9 83.3h0M53.5 79.7h0M60.1 79.3h0M43.9 98.8h0M53.3 71.9h0M49.6 93.9h0M50.8 94.4h0M52.8 83.8h0M44.1 93.3h0M47.4 102.2h0M56.2 74.9h0M46.8 96.4h0M33.4 105.8h0M23.3 113.0h0M46.6 83.0h0M40.7 84.1h0M63.3 79.0h0M42.7 101.1h0M43.3 102.4h0M47.4 88.0h0M59.1 80.5h0M59.0 79.3h0M50.3 90.9h0M42.4 93.0h0M55.8 94.9h0M56.8 75.4h0M40.7 82.9h0M44.3 91.9h0M49.5 84.0h0M60.3 98.4h0M45.7 85.0h0M57.9 68.3h0M59.4 90.5h0M58.9 98.1h0M57.1 103.1h0M42.6 87.5h0M47.5 80.9h0M68.3 98.5h0M42.3 92.5h0M37.7 86.3h0M49.7 94.5h0M29.0 83.6h0M45.4 70.1h0M39.5 93.6h0M51.9 90.5h0M54.7 81.0h0M42.4 97.7h0M47.6 100.9h0M56.0 98.8h0M47.3 80.6h0M45.3 83.4h0M49.9 89.9h0M54.7 77.0h0M39.4 88.6h0M41.9 92.6h0M46.9 78.0h0M49.7 88.7h0M59.2 86.0h0M55.1 79.9h0M36.8 93.7h0M25.5 97.0h0M47.5 80.1h0M42.8 84.2h0M58.8 95.4h0M52.6 106.6h0M52.1 81.1h0M48.0 92.1h0M64.1 96.7h0M50.2 77.5h0M61.0 100.2h0M45.2 87.2h0M38.9 89.8h0M80.5 81.5h0M35.7 96.6h0M55.7 86.0h0M42.4 105.4h0M42.7 95.6h0M53.6 73.6h0M40.7 92.2h0M60.7 85.8h0M53.9 100.3h0M58.7 86.5h0M29.6 91.2h0M43.0 100.5h0M56.2 75.5h0M58.3 94.2h0M45.8 102.0h0M42.0 90.1h0M22.5 104.5h0M42.8 88.5h0M39.6 100.2h0M44.7 100.1h0M54.9 73.8h0M44.0 93.2h0M51.6 102.0h0M47.8 105.4h0M49.4 80.7h0M61.4 94.5h0M48.2 101.9h0M37.8 103.6h0M51.4 95.8h0M44.3 83.7h0M34.6 105.3h0M59.0 83.4h0M44.9 99.8h0M44.1 84.0h0M48.9 101.8h0M42.8 95.5h0M49.3 77.1h0M58.1 98.1h0M44.7 108.6h0M51.0 87.4h0M51.0 80.2h0M48.8 92.8h0M49.6 75.1h0M30.0 85.2h0M65.2 92.7h0M64.9 103.2h0M52.9 92.0h0M60.1 81.3h0M49.3 80.4h0M39.1 85.2h0M46.1 80.1h0M46.9 98.4h0M51.3 85.3h0M57.1 79.1h0M61.2 84.6h0M41.0 92.8h0M51.6 96.5h0M38.3 70.3h0M51.7 84.5h0M47.9 100.5h0M59.4 97.7h0M54.4 90.1h0M64.5 83.4h0M35.9 73.9h0M50.0 92.6h0M40.1 97.6h0M31.7 93.5h0M54.8 82.6h0M48.5 89.0h0M42.5 90.6h0M58.2 85.3h0M59.1 93.4h0M50.9 94.0h0M56.7 87.6h0M39.8 87.3h0M55.5 86.4h0M51.6 87.4h0M46.8 94.5h0M51.1 98.3h0M43.4 95.7h0M49.4 77.6h0M50.7 94.0h0M36.8 93.3h0M51.8 82.6h0M49.7 83.9h0M47.8 89.0h0M35.6 73.9h0M40.1 86.9h0M43.0 93.1h0M53.8 82.5h0M38.1 96.1h0M36.8 101.0h0M39.4 100.7h0M48.4 77.2h0M47.7 105.1h0M44.4 90.1h0M42.8 95.1h0M38.8 95.6h0M38.8 83.1h0M39.3 82.9h0M60.8 73.7h0M53.4 100.2h0M43.6 81.5h0M63.8 75.7h0M51.8 72.6h0M52.5 84.8h0M48.5 76.7h0M40.4 82.3h0M47.1 76.2h0M45.2 82.6h0M40.9 94.3h0M58.0 73.7h0M43.0 84.3h0M54.3 87.1h0M46.2 95.0h0M37.8 96.9h0M38.2 105.4h0M22.6 112.6h0M45.4 77.8h0M40.9 108.0h0M42.0 91.2h0M45.2 86.7h0M47.5 110.9h0M35.5 84.6h0M45.3 81.2h0M41.3 86.3h0M57.9 91.0h0M32.3 113.0h0M55.9 88.7h0M50.1 78.9h0M34.2 95.5h0M47.4 77.5h0M49.2 96.5h0M40.6 85.8h0M48.4 81.7h0M28.3 91.7h0M56.4 85.7h0M40.7 92.9h0M62.0 91.9h0M50.1 92.6h0M44.9 82.2h0M32.6 86.2h0M39.8 81.8h0M39.5 98.1h0M40.2 91.8h0M34.7 97.0h0M47.7 90.2h0M31.7 87.9h0M56.4 63.3h0M37.0 91.6h0M28.2 101.8h0M47.2 72.4h0M51.3 98.4h0M48.4 82.7h0M38.1 78.9h0M42.3 95.6h0M47.4 97.9h0M52.8 110.4h0M55.1 75.9h0M52.9 84.9h0M31.8 92.9h0M49.4 76.7h0M38.4 71.5h0M32.9 98.7h0M42.2 96.1h0M40.9 76.8h0M54.2 91.8h0M79.5 91.0h0M36.0 77.9h0M55.0 82.8h0M40.3 89.4h0M45.7 89.2h0M45.7 87.5h0M56.5 99.3h0M50.8 89.6h0M50.0 90.7h0M43.8 109.9h0M51.6 83.2h0M48.7 107.5h0M48.6 78.4h0M47.8 80.2h0M53.9 85.6h0M41.9 92.6h0M48.8 86.5h0M50.6 81.8h0M32.9 82.6h0M39.6 103.3h0M58.1 74.5h0M47.2 92.4h0M41.6 90.6h0M41.3 97.8h0M28.8 88.8h0M23.6 105.1h0M36.4 94.1h0M38.8 96.6h0M47.1 101.7h0M64.9 77.9h0M55.2 98.6h0M53.1 100.5h0M47.1 87.6h0M48.6 101.6h0M60.6 82.9h0M46.6 69.7h0M40.8 93.3h0M63.1 89.7h0M63.6 93.5h0M66.0 67.8h0M53.0 75.5h0M40.1 101.9h0M44.7 91.8h0M52.1 81.1h0M53.6 86.1h0M47.7 70.1h0M50.3 93.3h0M55.6 92.7h0M57.7 76.8h0M47.3 79.4h0M48.8 90.1h0M68.6 74.0h0M45.0 87.0h0M50.5 88.8h0M34.8 88.3h0M37.4 74.2h0M38.6 104.9h0M60.0 77.9h0M33.1 106.7h0M42.0 69.8h0M37.5 91.0h0M53.5 89.1h0M49.8 68.3h0M43.8 84.6h0M42.8 76.3h0M46.1 96.6h0M46.2 91.8h0M62.9 85.8h0M31.3 83.2h0M52.4 80.4h0M44.0 82.2h0M54.4 101.3h0M55.2 81.9h0M39.6 94.6h0M47.7 83.8h0M32.1 92.8h0M39.7 84.5h0M35.1 95.2h0M50.3 88.7h0M48.6 76.3h0M62.4 88.6h0M52.0 86.6h0M49.3 86.9h0M48.5 96.3h0M44.5 91.2h0M34.0 89.2h0M75.0 85.7h0M29.5 72.0h0M46.1 89.4h0M51.9 91.1h0M42.6 96.0h0M52.9 69.9h0M41.1 89.0h0M36.5 92.4h0M59.1 73.9h0M54.2 77.6h0M56.5 87.9h0M41.9 90.1h0M52.3 72.0h0M50.1 91.2h0M52.6 89.9h0M64.0 88.2h0M41.0 79.7h0M41.1 89.2h0M25.6 98.9h0M55.6 80.1h0M26.4 101.3h0M46.2 99.3h0M40.3 95.8h0M39.9 90.3h0M47.2 95.8h0M50.5 86.3h0M47.9 95.6h0M38.5 123.0h0M42.5 86.0h0M34.4 95.5h0M37.4 87.1h0M41.1 103.8h0M48.1 93.7h0M45.0 92.9h0M55.1 87.1h0M44.8 81.9h0M58.4 87.9h0M34.4 99.7h0M60.7 83.9h0M39.7 90.8h0M50.9 88.0h0M47.6 81.1h0M56.4 88.5h0M48.3 93.5h0M36.3 100.2h0M55.1 85.9h0M54.5 78.5h0M51.9 77.0h0M63.4 88.9h0M64.5 82.9h0M58.9 87.4h0M45.4 93.4h0M57.4 88.5h0M53.8 112.1h0M34.6 77.5h0M51.7 92.1h0M61.4 87.1h0M42.3 88.8h0M45.7 91.0h0M44.2 94.2h0M59.7 94.7h0M32.2 99.8h0M29.7 105.2h0M67.3 84.9h0M57.8 82.0h0M47.3 79.8h0M43.1 80.0h0M54.5 105.6h0M38.6 103.1h0M55.2 91.2h0M39.2 98.1h0M55.5 83.9h0M41.0 79.6h0M44.2 107.2h0M41.8 80.4h0M27.1 95.3h0M36.5 89.5h0M58.1 86.4h0M40.0 92.7h0M54.3 101.0h0M35.5 87.3h0M50.1 100.1h0M53.4 81.4h0M46.4 81.8h0M51.5 86.0h0M40.0 104.4h0M43.4 88.9h0M48.1 100.7h0M50.7 90.0h0M42.2 98.4h0M48.4 75.2h0M64.5 66.1h0M41.7 80.5h0M41.7 90.8h0M57.8 86.9h0M42.9 107.5h0M36.4 84.9h0M44.3 72.2h0M47.4 93.5h0M46.6 87.7h0M52.2 72.6h0M54.3 91.5h0M48.3 80.4h0M37.1 91.7h0M62.1 71.3h0M44.0 89.8h0M59.8 93.4h0M49.5 88.6h0M51.6 92.5h0M35.5 93.9h0M38.5 82.6h0M58.0 96.5h0M68.9 88.6h0M46.7 84.2h0M37.5 83.7h0M41.0 78.0h0M45.4 82.8h0M37.2 78.4h0M59.0 95.1h0M50.5 66.5h0M51.6 91.3h0M37.9 96.5h0M36.6 84.3h0M44.4 88.5h0M48.4 98.7h0M45.0 82.5h0M57.4 83.3h0M25.8 94.2h0M37.7 93.6h0M42.4 89.1h0M51.8 82.2h0M45.1 111.2h0M52.0 77.2h0M55.3 72.9h0M55.1 77.5h0M45.5 81.7h0M40.7 99.5h0M53.3 100.5h0M63.7 112.9h0M55.7 93.9h0M52.3 78.8h0M63.1 94.5h0M32.1 84.7h0M69.1 94.6h0M52.2 74.6h0M39.1 92.7h0M37.9 91.6h0M49.0 95.5h0M47.0 81.7h0M43.3 97.6h0M60.3 82.5h0M48.8 85.8h0M56.8 84.4h0M42.7 90.5h0M55.2 107.4h0M57.6 91.0h0M66.1 75.3h0M47.2 74.8h0M61.4 80.6h0M39.6 84.8h0M40.3 87.7h0M57.2 96.1h0M53.9 83.7h0M42.9 81.1h0M46.5 102.8h0M50.1 112.1h0M42.7 77.9h0M44.5 86.1h0M67.4 66.9h0M47.7 95.6h0M38.9 92.3h0M49.8 79.0h0M41.6 86.0h0M53.4 92.8h0M51.7 77.2h0M44.0 99.0h0M38.7 86.0h0M42.7 93.0h0M33.9 84.9h0M37.4 88.2h0M45.6 91.0h0M57.6 78.7h0M43.5 87.2h0M47.8 103.7h0M54.4 97.6h0M41.7 93.0h0M41.9 81.8h0M42.3 84.3h0M38.0 90.7h0M45.7 91.4h0M54.3 87.0h0M63.9 85.6h0M50.8 93.3h0M66.3 87.3h0M54.3 80.0h0M28.3 88.9h0M41.1 89.8h0M27.4 116.2h0M48.5 105.7h0M45.9 91.0h0M46.7 101.1h0M49.7 90.6h0M56.7 103.8h0M34.5 71.2h0M39.1 88.1h0M49.2 84.6h0M52.4 92.2h0M48.5 86.5h0M50.5 78.3h0M41.2 93.8h0M62.7 77.4h0M45.8 86.5h0M41.8 77.4h0M43.2 86.4h0M39.8 86.1h0M42.9 102.9h0M40.7 87.8h0M38.9 100.2h0M40.1 99.3h0M56.3 74.5h0M49.7 90.2h0M48.0 92.8h0M53.4 109.0h0M42.7 83.9h0M47.9 88.7h0M56.9 88.8h0M44.1 87.2h0M45.6 84.2h0M55.1 78.3h0M57.4 90.8h0M72.5 98.0h0M31.0 96.0h0M34.1 79.4h0M59.0 82.6h0M42.8 81.5h0M49.6 69.5h0M39.0 84.1h0M43.8 67.6h0M44.3 112.5h0M51.4 103.4h0M56.2 94.5h0M44.7 103.0h0M34.4 105.4h0M50.4 79.3h0M54.0 68.9h0M52.3 88.9h0M50.6 111.3h0M58.7 100.4h0M36.7 97.8h0M38.5 110.7h0M51.0 84.1h0M58.3 91.7h0M47.2 87.2h0M31.9 92.8h0M20.4 99.8h0M54.1 87.1h0M50.5 93.3h0M54.5 81.0h0M27.9 93.7h0M21.9 99.3h0M47.9 76.1h0M67.0 86.1h0M42.0 68.3h0M49.4 82.0h0M45.4 85.2h0M51.1 83.7h0M36.3 87.5h0M68.1 78.3h0M59.5 77.9h0M30.9 99.7h0M55.1 79.0h0M28.4 105.5h0M49.7 87.7h0M39.7 87.4h0M48.0 68.1h0M43.4 84.1h0M48.3 94.2h0M52.7 76.9h0M35.0 89.2h0M47.7 102.2h0M50.0 71.7h0M56.3 91.5h0M34.8 75.1h0M45.3 96.8h0M59.0 103.4h0M50.5 98.6h0M46.0 83.5h0M48.6 88.2h0M49.3 93.6h0M51.2 94.2h0M59.2 79.2h0M38.9 71.3h0M52.7 88.9h0M46.6 90.3h0M45.0 82.7h0M45.8 88.3h0M44.0 82.8h0M63.2 98.9h0M37.1 89.1h0M51.7 104.1h0M46.3 125.0h0M39.0 98.7h0M54.7 96.1h0M55.5 67.8h0M75.6 87.0h0M44.2 90.3h0M26.5 114.1h0M51.2 89.7h0M39.8 76.8h0M54.8 75.8h0M48.3 102.6h0M46.4 93.3h0M49.8 96.2h0M39.5 81.7h0M30.5 91.5h0M52.6 89.4h0M42.4 95.2h0M46.1 86.8h0M45.3 89.1h0M26.1 102.2h0M53.3 92.6h0M34.7 95.5h0M39.9 98.3h0M39.9 97.3h0M35.1 98.6h0M48.5 95.2h0M22.1 105.4h0M40.8 94.3h0M53.9 95.5h0M48.3 86.2h0M65.2 92.5h0M49.9 76.3h0M53.3 80.9h0M43.5 88.9h0M38.2 92.7h0M39.0 107.5h0M34.7 86.1h0M42.6 84.2h0M54.4 102.7h0M40.3 97.0h0M64.2 93.5h0M55.4 70.2h0M54.6 101.0h0M56.3 78.7h0M51.7 85.3h0M46.9 103.4h0M47.6 87.8h0M35.4 86.6h0M59.9 83.7h0M48.3 72.0h0M50.9 85.4h0M48.1 94.4h0M54.2 88.3h0M47.1 83.4h0M60.5 83.6h0M56.5 80.6h0M55.0 84.7h0M32.9 92.7h0M47.9 79.6h0M44.1 69.7h0M41.6 88.6h0M36.6 92.0h0M60.5 90.8h0M41.6 101.2h0M41.2 90.9h0M35.8 82.2h0M45.1 101.7h0M24.7 95.4h0M60.1 75.9h0M47.6 94.7h0M37.8 100.6h0M52.1 67.5h0M41.3 80.4h0M48.3 69.0h0M57.8 75.9h0M45.4 100.2h0M53.3 83.7h0M56.1 85.9h0M49.2 103.5h0M40.4 95.9h0M54.3 79.0h0M47.0 85.2h0M36.0 93.3h0M38.3 91.4h0M42.6 84.0h0M44.3 96.2h0M55.6 68.2h0M62.8 71.0h0M59.3 87.4h0M46.9 94.7h0M48.7 106.1h0M37.8 86.6h0M65.8 70.5h0M51.6 70.4h0M39.0 91.1h0M51.3 96.3h0M52.0 75.4h0M44.2 88.7h0M49.7 94.7h0M54.8 86.0h0M43.5 69.5h0M45.3 83.2h0M72.6 77.8h0M59.1 95.9h0M48.6 91.6h0M46.6 112.6h0M44.7 99.8h0M48.6 89.4h0M43.7 86.2h0M37.4 97.3h0M68.8 66.8h0M43.1 74.3h0M49.3 84.0h0M47.7 89.6h0M47.9 90.3h0M30.3 100.5h0M60.5 99.5h0M31.4 86.9h0M31.9 91.9h0M77.3 92.8h0M45.9 85.3h0M53.2 88.1h0M44.9 86.7h0M39.4 86.5h0M35.6 93.8h0M50.8 79.4h0M31.2 86.3h0M43.0 101.0h0M41.5 99.6h0M48.0 82.6h0M52.5 85.4h0M58.8 88.8h0M49.5 91.7h0M48.9 91.5h0M61.4 82.2h0M41.6 103.7h0M52.9 83.3h0M55.1 92.9h0M49.5 97.3h0M32.4 85.8h0M32.1 95.8h0M40.6 103.5h0M40.1 98.1h0M44.2 90.2h0M57.2 67.3h0M51.9 102.5h0M44.4 87.8h0M43.1 90.4h0M39.1 101.2h0M27.9 82.7h0M68.1 86.6h0M47.7 88.2h0M37.1 100.2h0M29.7 101.4h0M62.1 82.7h0M36.8 82.3h0M33.5 94.5h0M61.9 91.4h0M45.1 89.6h0M31.6 82.1h0M47.2 88.9h0M52.0 72.2h0M33.2 88.1h0M57.7 86.9h0M46.0 84.9h0M53.6 102.5h0M54.9 72.6h0M48.7 94.6h0M41.4 79.7h0M36.5 84.5h0M41.7 102.0h0M45.7 81.7h0M41.9 98.6h0M61.4 76.0h0M63.4 81.1h0M42.8 92.1h0M42.0 91.6h0M42.2 95.4h0M62.9 78.2h0M41.2 99.7h0M37.0 94.5h0M50.5 105.6h0M37.2 91.4h0M56.3 75.3h0M33.9 80.4h0M46.3 84.4h0M47.2 90.9h0M51.8 95.2h0M64.4 75.7h0M69.1 83.2h0M57.6 90.6h0M41.1 91.6h0M79.6 85.9h0M57.1 96.3h0M49.8 104.3h0M33.8 86.9h0M53.1 93.3h0M45.6 76.0h0M29.1 111.6h0M61.4 96.7h0M33.6 75.5h0M53.2 86.2h0M47.3 101.3h0M51.5 77.7h0M40.9 89.0h0M51.8 76.0h0M68.3 74.5h0M53.9 90.9h0M58.1 93.6h0M49.2 85.4h0M45.6 111.6h0M46.3 80.2h0M30.0 93.2h0M24.5 103.2h0M39.3 81.1h0M47.9 78.8h0M40.5 94.2h0M39.6 105.3h0M63.5 84.4h0M38.7 103.7h0M60.2 85.5h0M36.9 82.4h0M41.1 99.1h0M61.9 98.9h0M26.7 104.9h0M43.0 95.5h0M47.5 89.3h0M50.7 93.5h0M59.6 81.0h0M27.1 84.4h0M48.7 82.3h0M42.3 86.6h0M54.7 85.1h0M45.7 81.4h0M51.5 76.2h0M47.8 91.1h0M60.6 81.1h0M56.3 97.6h0M38.3 90.6h0M62.6 103.2h0M50.0 89.1h0M69.0 87.6h0M40.8 99.3h0M46.7 87.5h0M42.9 102.8h0M54.2 81.5h0M59.4 87.4h0M48.4 79.9h0M30.8 93.0h0M46.0 103.1h0M34.5 77.0h0M52.5 88.0h0M47.5 77.9h0M47.2 95.3h0M47.3 86.2h0M42.5 89.1h0M42.8 91.3h0M42.4 88.5h0M46.9 104.1h0M58.6 85.4h0M54.0 74.3h0M48.6 80.8h0M54.4 102.2h0M58.9 78.0h0M46.4 101.7h0M56.5 80.5h0M55.1 81.7h0M51.1 74.0h0M42.0 108.8h0M58.5 94.3h0M92.4 96.8h0M78.7 99.7h0M66.8 103.7h0M83.8 93.8h0M88.8 114.7h0M113.6 110.4h0M112.2 109.2h0M88.0 90.1h0M102.1 99.1h0M109.1 111.8h0M122.4 86.8h0M104.2 109.8h0M104.1 92.0h0M76.6 115.0h0M94.9 110.5h0M56.2 95.7h0M154.4 102.2h0M108.7 86.5h0M134.5 115.7h0M102.7 84.1h0M134.0 110.3h0M110.4 97.5h0M128.1 96.1h0M109.3 92.0h0M126.7 103.3h0M104.6 97.6h0M95.1 88.8h0M72.5 108.1h0M128.2 101.8h0M109.8 94.3h0M102.3 100.8h0M124.2 98.8h0M102.6 108.5h0M98.9 91.0h0M130.2 94.2h0M95.9 108.3h0M100.3 102.5h0M109.5 110.9h0M72.9 94.9h0M103.0 82.2h0M72.2 95.1h0M118.3 99.1h0M96.5 97.9h0M91.2 102.0h0M74.9 107.6h0M110.6 94.0h0M118.7 100.9h0M132.3 111.4h0M93.0 98.4h0M96.7 109.0h0M104.5 106.6h0M133.1 94.1h0M91.1 101.5h0M144.4 97.2h0M136.5 91.6h0M149.5 90.4h0M135.5 91.4h0M134.8 91.7h0M109.1 94.9h0M121.1 91.4h0M132.9 86.7h0M146.4 84.8h0M100.2 108.6h0M83.8 89.6h0M127.5 114.6h0M116.9 97.8h0M80.2 103.7h0M108.1 115.6h0M109.8 106.3h0M139.8 109.0h0M96.5 98.1h0M120.9 104.8h0M92.1 104.2h0M106.3 96.3h0M118.4 101.4h0M113.2 97.8h0M117.5 98.2h0M118.7 96.8h0M118.0 93.3h0M117.7 100.3h0M119.0 99.6h0M141.8 91.7h0M75.9 97.9h0M110.4 107.3h0M117.6 100.3h0M115.8 92.8h0M121.6 99.3h0M138.0 104.2h0M71.9 110.8h0M100.8 92.8h0M120.1 105.6h0M152.4 96.7h0M102.0 99.5h0M110.9 98.3h0M104.1 110.3h0M128.5 94.3h0M71.0 107.5h0M121.7 97.3h0M111.7 100.1h0M94.3 102.4h0M138.1 103.7h0M118.9 70.7h0M42.0 93.0h0M115.1 106.1h0M131.7 98.6h0M114.9 79.9h0M85.3 104.9h0M114.3 93.9h0M125.5 97.6h0M109.9 104.6h0M95.3 90.8h0M106.0 106.0h0M113.2 96.7h0M133.2 100.9h0M111.4 103.0h0M88.8 75.5h0M77.0 105.3h0M91.5 96.8h0M121.8 109.9h0M119.2 108.8h0M92.6 102.6h0M76.0 98.2h0M136.3 96.4h0M83.3 118.8h0M97.1 91.1h0M101.1 112.7h0M113.2 95.7h0M134.7 109.3h0M133.2 98.4h0M81.3 113.8h0M114.1 90.4h0M115.3 91.4h0M104.6 108.4h0M89.9 105.0h0M91.9 95.2h0M118.2 106.9h0M110.0 99.7h0M83.6 115.2h0M131.8 95.5h0M97.0 101.1h0M127.9 94.0h0M96.4 90.3h0M94.6 101.1h0M59.0 100.9h0M83.4 105.0h0M157.3 107.9h0M130.9 103.2h0M125.6 91.4h0M101.6 105.6h0M91.9 103.3h0M129.7 100.9h0M116.7 103.3h0M104.7 92.1h0M93.7 119.5h0M69.0 107.6h0M104.5 91.2h0M98.3 108.9h0M89.6 95.5h0M68.0 87.9h0M129.4 83.9h0M114.5 96.8h0M91.8 111.6h0M78.2 105.6h0M122.2 111.7h0M85.1 98.6h0M60.0 93.4h0M110.3 84.1h0M96.2 116.5h0M82.4 94.8h0M97.8 97.0h0M105.4 81.5h0M86.3 97.0h0M78.5 98.8h0M95.5 109.8h0M106.7 101.5h0M121.7 93.4h0M95.4 113.0h0M94.0 86.9h0M54.1 96.0h0M131.4 94.0h0M107.1 101.6h0M109.0 95.3h0M122.0 117.1h0M111.6 98.2h0M106.8 107.1h0M63.0 99.2h0M93.9 95.3h0M110.1 113.9h0M120.9 101.8h0M97.5 106.3h0M76.1 100.9h0M101.0 104.8h0M103.3 95.3h0M120.6 84.5h0M122.5 94.2h0M97.3 103.5h0M146.0 81.5h0M131.2 107.3h0M96.6 96.4h0M87.0 104.9h0M92.7 93.4h0M120.9 97.5h0M95.6 108.9h0M110.1 97.9h0M104.0 99.7h0M96.4 99.0h0M121.9 83.1h0M117.2 106.2h0M101.2 97.3h0M127.0 120.5h0M149.2 104.0h0M98.3 94.9h0M94.3 108.8h0M103.0 98.0h0M79.0 102.2h0M116.4 106.8h0M129.2 101.4h0M103.5 99.3h0M104.2 91.3h0M79.5 113.4h0M134.2 101.9h0M80.0 94.3h0M104.1 99.0h0M106.2 98.4h0M115.0 108.1h0M108.1 105.0h0M96.3 96.5h0M115.2 90.4h0M81.1 103.5h0M97.1 108.0h0M100.8 106.5h0M93.9 91.2h0M110.7 96.5h0M90.6 98.5h0M114.4 100.3h0M122.1 85.5h0M113.0 101.3h0M88.9 89.8h0M107.3 102.0h0M122.3 115.4h0M107.3 108.1h0M117.7 96.0h0M137.9 88.6h0M139.7 93.0h0M137.8 99.2h0M127.2 112.0h0M80.3 81.6h0M129.3 93.6h0M126.1 95.9h0M129.7 104.8h0M141.3 97.3h0M114.3 89.6h0M114.6 105.8h0M114.5 120.8h0M108.6 100.9h0M57.9 101.0h0M94.4 101.2h0M116.4 93.6h0M95.2 98.8h0M85.7 103.7h0M97.5 108.9h0M110.2 101.1h0M88.4 83.0h0M139.1 86.0h0M96.7 101.2h0M126.7 100.1h0M107.3 105.8h0M123.9 108.3h0M93.7 94.5h0M129.1 81.5h0M104.4 97.2h0M101.2 103.2h0M125.6 111.9h0M121.6 105.7h0M89.3 110.4h0M83.7 98.5h0M150.0 87.7h0M106.3 101.8h0M84.6 99.3h0M116.1 80.6h0M111.9 106.5h0M124.7 91.0h0M109.4 105.2h0M101.1 105.4h0M113.1 100.3h0M137.3 95.4h0M106.5 107.2h0M102.2 95.9h0M108.7 102.5h0M112.9 96.5h0M99.6 96.2h0M108.4 91.5h0M92.2 105.9h0M89.6 90.9h0M100.9 115.9h0M129.8 97.2h0M130.2 93.3h0M118.4 84.7h0M105.1 108.1h0M107.5 110.9h0M73.2 104.2h0M132.8 99.8h0M90.3 95.4h0M87.6 96.8h0M103.4 95.9h0M111.3 95.0h0M106.4 104.0h0M69.3 89.4h0M132.8 102.7h0M99.7 104.8h0M89.6 95.4h0M107.1 104.5h0M130.1 95.2h0M131.7 89.9h0M117.4 96.2h0M107.5 98.2h0M121.5 94.9h0M103.1 102.3h0M111.4 107.5h0M88.6 110.6h0M146.5 103.1h0M94.5 93.8h0M106.8 97.5h0M100.3 105.6h0M118.9 96.8h0M108.6 100.2h0M84.6 80.8h0M86.0 91.2h0M100.9 105.7h0M150.2 95.0h0M155.6 109.3h0M115.3 106.3h0M105.1 100.4h0M90.1 100.9h0M108.3 109.3h0M72.5 102.8h0M82.0 94.9h0M108.2 108.8h0M125.3 105.9h0M114.9 100.7h0M90.2 101.4h0M108.4 103.0h0M97.0 91.9h0M95.7 100.4h0M110.9 96.0h0M84.8 98.4h0M110.0 106.7h0M97.1 92.6h0M103.0 114.1h0M86.8 108.4h0M121.5 93.9h0M105.3 112.5h0M128.5 91.1h0M103.9 103.4h0M92.2 98.2h0M132.5 112.2h0M81.0 105.2h0M109.0 107.0h0M91.0 101.6h0M89.1 106.8h0M128.1 103.4h0M125.9 100.6h0M108.9 98.6h0M107.2 95.3h0M83.0 94.8h0M63.9 103.8h0M93.1 87.3h0M124.3 106.1h0M123.4 97.3h0M154.6 95.6h0M100.8 113.1h0M103.1 102.7h0M104.4 98.1h0M93.0 98.4h0M131.2 110.2h0M108.0 116.5h0M98.6 103.3h0M104.2 102.9h0M122.2 98.0h0M78.7 103.1h0M106.8 95.2h0M99.1 107.2h0M135.9 84.0h0M114.5 100.6h0M96.1 104.7h0M66.8 103.4h0M129.9 106.6h0M83.5 109.1h0M114.6 85.0h0M140.8 87.4h0M88.9 101.6h0M129.6 83.8h0M66.9 96.0h0M102.0 91.3h0M106.9 107.1h0M132.8 89.5h0M136.3 101.9h0M111.0 106.7h0M102.1 89.5h0M133.4 93.7h0M106.8 90.9h0M125.2 92.8h0M154.5 94.1h0M101.2 110.5h0M100.8 97.9h0M95.8 105.1h0M96.9 103.2h0M134.1 100.6h0M95.8 100.6h0M111.3 98.8h0M122.6 105.3h0M69.0 95.9h0M154.8 91.9h0M134.7 94.0h0M116.9 92.7h0M130.2 109.8h0M110.6 94.4h0M98.8 100.1h0M115.4 92.9h0M89.5 99.9h0M96.4 102.4h0M120.1 104.9h0M130.3 91.8h0M91.8 95.5h0M111.8 100.2h0M78.0 93.6h0M128.2 97.7h0M86.3 99.9h0M110.9 114.2h0M108.5 93.7h0M111.0 95.6h0M79.4 93.3h0M93.5 105.7h0M108.3 88.7h0M106.6 89.2h0M83.5 99.3h0M89.7 98.3h0M92.5 112.3h0M127.2 93.3h0M138.4 95.5h0M73.6 107.8h0M92.9 97.1h0M83.8 96.2h0M134.1 98.3h0M94.0 114.5h0M146.6 94.1h0M106.5 100.5h0M116.4 99.0h0M121.5 106.9h0M121.1 89.8h0M101.1 109.2h0M162.4 96.1h0M108.9 94.5h0M96.6 104.4h0M114.3 95.0h0M122.4 95.5h0M127.3 88.9h0M72.3 105.0h0M96.7 107.1h0M81.5 96.9h0M129.6 84.6h0M130.4 96.9h0M121.9 102.5h0M84.9 108.9h0M109.4 106.7h0M94.9 96.4h0M77.5 89.9h0M90.4 115.3h0M126.5 101.0h0M112.9 97.1h0M136.2 94.6h0M119.2 104.0h0M138.0 106.3h0M127.2 95.7h0M107.4 99.4h0M127.2 105.8h0M114.2 105.5h0M99.7 116.2h0M122.4 91.0h0M131.7 108.9h0M75.9 102.4h0M136.1 82.7h0M119.8 110.3h0M174.9 93.3h0M96.2 114.0h0M123.3 102.9h0M109.6 101.9h0M71.0 111.1h0M116.5 99.9h0M133.4 112.6h0M94.7 105.9h0M92.0 85.1h0M89.8 100.9h0M101.0 103.5h0M94.5 102.4h0M98.6 110.1h0M130.1 103.2h0M175.5 83.8h0M91.9 98.2h0M129.4 96.3h0M116.9 110.4h0M129.3 95.3h0M122.4 99.6h0M149.7 88.8h0M127.7 102.2h0M150.8 107.8h0M105.5 101.4h0M68.5 101.5h0M108.7 118.0h0M91.1 109.4h0M115.8 100.5h0M91.3 104.1h0M89.2 91.6h0M92.0 98.6h0M101.7 108.7h0M94.5 105.2h0M128.4 95.5h0M69.3 105.2h0M151.5 94.5h0M108.7 89.2h0M133.7 99.1h0M111.5 104.2h0M42.1 86.4h0M107.0 101.0h0M143.0 111.5h0M83.4 107.0h0M97.9 98.1h0M130.5 107.2h0M95.0 92.5h0M92.5 84.7h0M83.4 115.0h0M112.5 80.4h0M113.5 93.5h0M136.4 98.3h0M122.3 99.9h0M153.5 100.3h0M109.7 123.0h0M88.2 107.2h0M90.5 107.0h0M89.2 101.3h0M96.7 93.7h0M84.3 112.3h0M128.3 92.7h0M140.8 104.2h0M133.7 108.4h0M160.7 83.8h0M130.6 91.8h0M104.9 100.6h0M120.3 100.9h0M94.3 94.8h0M129.9 94.4h0M83.2 97.7h0M145.7 107.3h0M150.7 103.1h0M73.4 101.6h0M109.1 99.2h0M100.7 101.2h0M128.2 106.7h0M100.6 95.8h0M103.5 98.7h0M92.9 90.2h0M112.9 97.8h0M68.8 95.2h0M97.6 91.5h0M124.1 93.7h0M149.7 91.8h0M74.3 93.2h0M91.3 89.2h0M105.7 95.7h0M127.6 116.7h0M116.3 102.5h0M125.5 94.1h0M97.6 113.1h0M123.0 91.1h0M102.4 101.3h0M127.8 89.1h0M128.7 97.6h0M99.5 96.5h0M112.9 97.7h0M125.7 97.9h0M108.3 112.5h0M105.0 91.9h0M111.5 95.4h0M123.0 99.9h0M127.1 102.4h0M86.0 104.9h0M119.8 92.4h0M116.7 97.6h0M99.7 99.0h0M85.2 114.2h0M127.6 100.0h0M103.9 97.3h0M129.0 82.8h0M127.2 93.4h0M100.0 106.1h0M94.0 106.5h0M136.3 92.6h0M91.5 107.3h0M114.1 92.8h0M109.2 95.6h0M116.5 108.1h0M128.9 98.4h0M129.4 89.2h0M107.1 99.0h0M135.6 82.1h0M84.1 102.3h0M124.1 80.2h0M82.3 93.6h0M83.6 104.3h0M108.6 100.2h0M111.7 105.7h0M69.9 83.7h0M122.6 102.0h0M146.6 87.2h0M136.1 98.5h0M88.8 103.6h0M84.7 102.7h0M72.6 119.8h0M96.4 103.8h0M80.6 111.0h0M144.1 100.3h0M81.5 115.6h0M132.7 90.1h0M117.9 98.0h0M128.0 88.5h0M107.2 109.0h0M102.8 89.5h0M89.5 91.7h0M54.8 99.3h0M93.9 95.8h0M96.2 111.8h0M100.8 111.5h0M101.8 107.1h0M89.3 102.4h0M116.8 106.4h0M91.1 106.4h0M115.1 107.0h0M97.6 107.2h0M89.2 94.9h0M116.5 84.3h0M103.8 95.9h0M98.1 92.4h0M103.2 100.1h0M118.6 103.4h0M122.2 105.8h0M101.3 107.5h0M80.2 100.8h0M116.1 106.2h0M104.3 108.3h0M87.8 101.6h0M100.5 93.9h0M117.6 112.6h0M110.5 98.0h0M147.7 104.3h0M122.4 114.9h0M84.7 107.1h0M53.3 88.2h0M126.0 94.9h0M148.8 94.4h0M86.1 108.8h0M97.6 91.0h0M87.1 92.9h0M119.2 90.5h0M61.9 85.9h0M109.3 100.7h0M89.0 116.4h0M91.3 89.1h0M102.4 95.1h0M85.8 90.5h0M111.1 92.1h0M122.4 91.1h0M104.4 109.7h0M77.5 114.7h0M129.9 101.0h0M92.0 87.0h0M136.7 109.9h0M82.6 93.2h0M131.2 103.4h0M113.5 100.9h0M61.5 107.4h0M83.2 104.2h0M141.6 103.0h0M163.9 107.5h0M114.9 92.4h0M98.6 96.7h0M72.1 91.6h0M81.2 99.6h0M93.7 93.5h0M95.6 108.1h0M81.7 107.4h0M105.2 86.8h0M111.5 110.7h0M65.2 103.3h0M101.4 90.8h0M90.7 104.2h0M91.8 93.9h0M92.0 97.2h0M114.4 91.3h0M106.1 108.9h0M118.0 96.2h0M129.6 96.4h0M80.9 98.6h0M107.5 98.9h0M82.7 105.5h0M76.2 96.4h0M92.5 96.6h0M92.0 106.5h0M78.0 107.4h0M106.1 90.7h0M117.8 99.4h0M99.9 98.9h0M109.3 101.0h0M110.1 97.8h0M119.7 97.2h0M107.3 96.6h0M75.9 96.9h0M100.5 102.3h0M130.5 96.3h0M112.0 89.4h0M91.8 95.2h0M146.3 105.9h0M124.6 111.1h0M115.6 81.9h0M129.3 94.4h0M110.3 92.6h0M130.8 95.5h0M106.6 94.4h0M140.0 110.4h0M109.6 88.7h0M74.2 91.5h0M91.3 96.4h0M124.4 104.4h0M118.9 102.8h0M136.0 104.0h0M52.1 106.3h0M120.0 102.3h0M88.1 95.5h0M93.4 106.8h0M100.7 102.3h0M107.0 82.3h0M83.1 103.3h0M102.9 107.5h0M103.3 108.5h0M122.7 87.7h0M94.1 101.4h0M120.4 116.4h0M90.1 93.7h0M87.5 116.8h0M98.8 93.8h0M57.9 106.0h0M118.4 94.9h0M100.1 100.9h0M101.5 103.3h0M64.0 85.1h0M88.6 109.4h0M144.0 103.7h0M123.1 112.9h0M94.0 111.9h0M110.9 103.9h0M90.9 100.4h0M94.0 92.3h0M93.6 112.1h0M119.3 97.0h0M123.7 100.6h0M122.3 97.7h0M130.3 92.8h0M104.9 100.4h0M118.6 98.8h0M82.3 110.7h0M93.3 94.1h0M122.5 97.8h0M61.9 92.0h0M140.2 99.1h0M112.7 105.9h0M130.9 105.2h0M109.9 104.3h0M110.7 102.8h0M108.7 91.1h0M110.7 109.2h0M113.0 94.6h0M98.8 107.7h0M104.7 92.0h0M128.5 108.0h0M115.2 97.1h0M117.7 105.3h0M137.3 88.3h0M123.5 107.3h0M139.0 95.6h0M86.4 102.8h0M64.1 99.2h0M87.9 98.8h0M78.2 107.9h0M97.2 107.8h0M121.4 91.5h0M122.4 111.4h0M91.9 98.9h0M111.4 83.0h0M112.8 101.6h0M103.7 108.2h0M80.3 111.0h0M122.1 101.9h0M106.6 100.1h0M133.8 96.7h0M94.0 93.9h0M98.2 81.2h0M110.2 91.1h0M115.7 90.9h0M147.8 114.4h0M102.9 108.5h0M139.7 108.4h0M119.2 94.7h0M101.2 107.3h0M81.0 107.7h0M125.6 81.5h0M114.5 100.3h0M115.8 86.0h0M106.5 106.5h0M114.0 108.3h0M97.4 99.4h0M104.9 93.2h0M99.3 101.5h0M125.1 103.6h0M74.8 103.0h0M117.2 90.2h0M105.5 94.0h0M123.1 92.6h0M88.3 98.1h0M95.5 101.9h0M135.5 115.3h0M83.5 98.1h0M143.4 108.7h0M162.8 102.4h0M116.5 99.9h0M91.1 99.6h0M108.4 113.8h0M114.5 104.6h0M75.7 100.1h0M116.5 107.0h0M115.1 87.3h0M99.2 81.8h0M114.9 87.8h0M102.4 90.6h0M117.4 94.0h0M109.1 96.0h0M92.0 105.0h0M68.4 111.2h0M97.8 109.7h0M115.1 118.5h0M83.9 102.4h0M94.6 96.0h0M103.3 108.7h0M118.8 91.8h0M84.5 107.1h0M120.9 97.8h0M113.0 110.2h0M99.6 111.4h0M112.4 88.3h0M83.8 90.8h0M110.9 93.8h0M92.6 113.9h0M109.8 102.4h0M94.1 89.8h0M106.0 110.6h0M121.0 102.9h0M137.4 107.4h0M75.8 97.1h0M122.3 106.8h0M132.1 98.7h0M93.1 103.5h0M115.7 84.8h0M98.8 96.0h0M142.5 105.7h0M114.2 108.0h0M155.7 104.9h0M110.1 100.5h0M69.8 103.2h0M109.0 106.4h0M79.1 100.3h0M73.0 100.4h0M137.7 102.0h0M97.5 105.4h0M89.2 95.9h0M126.5 108.7h0M117.5 106.5h0M137.9 99.3h0M104.7 94.6h0M117.5 105.2h0M115.4 107.4h0M84.9 100.7h0M82.0 99.9h0M116.6 104.5h0M68.3 101.5h0M93.8 117.6h0M102.6 104.5h0M129.4 103.1h0M83.0 112.4h0M95.3 106.5h0M153.7 105.3h0M94.5 99.2h0M73.3 102.1h0M104.2 100.4h0M109.7 107.8h0M115.5 107.4h0M96.7 93.9h0M136.3 100.0h0M122.0 93.0h0M107.4 113.7h0M84.9 101.2h0M103.0 89.3h0M82.1 106.2h0M114.9 92.7h0M133.6 95.6h0M121.9 107.9h0M100.0 106.7h0M101.7 91.8h0M84.3 107.1h0M94.9 86.6h0M127.2 90.1h0M120.4 95.8h0M99.2 112.2h0M87.1 101.1h0M88.6 105.4h0M153.6 108.9h0M143.0 95.3h0M106.7 100.9h0M109.0 98.9h0M60.6 105.1h0M136.9 109.2h0M90.8 95.5h0M125.5 88.1h0M116.6 92.8h0M118.4 99.9h0M110.7 102.7h0M97.0 94.1h0M109.4 90.8h0M139.2 100.3h0M88.5 111.6h0M116.1 96.0h0M92.4 110.1h0M78.3 88.8h0M119.7 89.0h0M115.5 107.0h0M114.9 90.1h0M146.6 110.5h0M96.9 98.8h0M106.3 93.2h0M117.5 101.3h0M118.5 90.4h0M125.2 102.7h0M145.0 99.2h0M77.0 93.6h0M130.7 113.7h0M142.5 91.5h0M156.1 107.4h0M106.6 96.1h0M62.0 114.9h0M71.9 100.8h0M119.7 92.4h0M83.5 95.6h0M69.6 109.6h0M100.2 100.9h0M120.6 115.4h0M118.5 102.3h0M123.3 97.4h0M86.0 97.4h0M99.5 101.9h0M123.4 97.9h0M95.0 98.3h0M122.4 92.5h0M95.7 117.4h0M95.1 95.6h0M118.1 109.6h0M106.3 95.0h0M66.6 109.1h0M141.3 87.3h0M137.0 105.2h0M112.1 101.9h0M109.9 96.1h0M119.3 91.0h0M119.8 100.2h0M131.5 99.5h0M101.1 84.6h0M124.4 101.7h0M127.5 89.0h0M98.3 96.7h0M90.8 102.5h0M158.3 109.7h0M86.1 116.7h0M147.0 94.3h0M130.3 91.4h0M140.1 103.1h0M112.8 100.7h0M109.4 111.4h0M126.7 115.6h0M91.7 102.9h0M100.8 104.8h0M125.6 93.0h0M155.7 90.9h0M120.0 99.0h0M117.9 91.1h0M123.4 108.7h0M151.3 101.0h0M92.4 108.6h0M88.0 76.0h0M111.9 90.8h0M79.6 97.9h0M174.0 103.4h0M130.7 94.0h0M129.3 103.2h0M116.1 97.0h0M114.5 91.3h0M96.6 95.7h0M131.2 96.2h0M100.9 106.5h0M101.0 99.2h0M117.6 110.6h0M116.4 109.5h0M137.6 99.4h0M120.6 96.9h0M104.0 103.5h0M62.1 104.3h0M134.9 94.6h0M92.7 111.8h0M124.7 108.4h0M135.8 87.9h0M90.6 109.5h0M115.6 96.1h0M61.1 100.2h0M108.9 107.7h0M123.7 106.6h0M145.6 104.8h0M122.2 99.7h0M119.2 112.6h0M93.8 109.5h0M112.3 104.9h0M101.1 88.9h0M120.3 116.8h0M97.3 103.7h0M137.7 91.8h0M96.6 99.7h0M96.5 93.6h0M93.7 91.6h0M113.4 110.0h0M121.8 106.8h0M98.3 112.7h0M97.4 94.0h0M121.7 103.3h0M113.9 101.6h0M76.5 95.2h0M68.4 91.2h0M82.0 86.7h0M96.4 101.5h0M137.7 108.4h0M121.9 98.5h0M137.9 80.8h0M96.7 105.8h0M114.9 100.3h0M76.4 103.5h0M127.6 89.6h0M107.5 112.6h0M127.1 111.5h0M110.8 100.4h0M127.7 103.2h0M143.6 94.7h0M117.9 93.1h0M140.5 97.9h0M71.0 98.4h0M107.8 97.8h0M128.5 92.9h0M118.3 94.1h0M96.2 98.2h0M84.3 107.0h0M92.6 91.0h0M100.8 104.6h0M90.0 100.7h0M89.9 96.1h0M113.1 100.4h0M74.3 112.9h0M90.6 106.3h0M97.3 115.2h0M130.2 104.9h0M151.1 100.3h0M78.6 86.0h0M166.6 100.2h0M126.7 110.4h0M93.9 111.0h0M120.8 96.3h0M123.7 100.4h0M107.6 104.9h0M84.4 99.1h0M97.4 86.2h0M94.8 107.2h0M124.7 99.5h0M124.0 88.1h0M120.1 89.1h0M62.6 99.4h0M120.0 104.7h0M82.7 93.3h0M141.9 100.7h0M94.0 90.6h0M54.6 106.5h0M117.4 104.5h0M151.5 107.2h0M112.0 95.0h0M92.0 117.4h0M119.2 91.6h0M126.0 97.4h0M116.7 99.4h0M125.6 84.8h0M120.8 90.3h0M134.7 83.0h0M116.0 92.1h0M68.4 110.9h0M140.9 101.8h0M102.1 101.7h0M123.4 97.0h0M121.1 109.4h0M102.2 100.5h0M128.5 84.1h0M72.0 102.5h0M116.1 101.8h0M88.8 88.2h0M110.3 111.7h0M141.3 105.5h0M121.6 84.1h0M112.1 91.7h0M82.3 96.8h0M114.9 106.5h0M81.2 100.0h0M89.2 102.3h0M104.1 102.5h0M98.1 95.0h0M109.1 102.6h0M77.5 98.4h0M90.0 99.5h0M77.0 103.1h0M122.2 92.1h0M120.4 101.0h0M126.4 94.2h0M84.9 95.4h0M130.3 93.9h0M100.5 105.1h0M78.7 107.3h0M117.3 102.6h0M96.0 99.5h0M140.5 92.6h0M124.7 104.9h0M89.2 87.7h0M115.6 95.3h0M79.1 101.6h0M97.8 111.1h0M94.9 93.8h0M144.4 86.0h0M122.4 94.0h0M100.4 104.1h0M103.7 97.9h0M122.3 103.0h0M98.1 98.2h0M125.6 99.9h0M123.6 93.3h0M105.4 103.9h0M116.5 84.1h0M107.6 90.9h0M146.3 104.9h0M110.2 96.8h0M64.0 98.0h0M139.1 95.3h0M118.1 92.1h0M145.8 88.9h0M129.4 109.2h0M96.8 92.6h0M124.2 101.4h0M96.1 111.9h0M100.5 96.0h0M113.0 88.9h0M130.0 103.4h0M120.2 98.1h0M148.8 89.7h0M127.9 94.3h0M117.0 96.4h0M147.3 100.2h0M71.2 92.2h0M113.9 104.0h0M82.9 105.5h0M127.5 91.5h0M96.9 99.1h0M122.5 92.2h0M97.0 101.9h0M86.3 102.2h0M184.6 112.2h0M184.1 91.6h0M118.4 93.0h0M102.4 100.1h0M88.7 97.8h0M135.8 95.8h0M94.8 104.4h0M129.9 101.0h0M89.9 112.0h0M107.8 114.1h0M68.2 98.6h0M128.8 95.8h0M69.3 114.6h0M109.7 107.8h0M94.2 95.4h0M140.7 98.0h0M108.1 97.5h0M85.9 98.3h0M145.7 94.3h0M127.7 91.0h0M123.3 106.1h0M78.6 99.0h0M136.0 103.1h0M70.1 86.2h0M107.9 113.4h0M75.6 99.9h0M133.1 101.3h0M96.1 97.4h0M68.4 98.3h0M102.3 100.4h0M140.5 105.5h0M112.6 98.8h0M72.5 107.3h0M95.6 110.6h0M135.7 92.0h0M88.1 95.3h0M92.7 83.5h0M81.3 97.0h0M108.8 109.1h0M99.5 97.0h0M92.5 102.4h0M127.1 98.4h0M104.1 101.7h0M110.5 103.7h0M108.2 96.4h0M108.6 102.4h0M119.6 74.4h0M89.8 98.4h0M92.5 98.8h0M133.7 87.9h0M87.2 92.5h0M126.4 94.1h0M111.2 95.3h0M105.4 99.7h0M125.9 73.1h0M129.4 96.9h0M105.5 106.2h0M89.1 105.6h0M121.6 105.9h0M103.0 94.3h0M74.5 104.1h0M108.9 100.1h0M103.9 97.3h0M110.1 92.9h0M118.7 97.2h0M142.1 90.8h0M94.0 90.5h0M153.7 99.5h0M71.3 98.6h0M150.8 104.2h0M131.0 100.7h0M123.7 109.1h0M105.7 101.3h0M85.0 119.5h0M92.3 90.4h0M65.4 99.4h0M138.0 95.3h0M121.8 84.0h0M93.4 97.2h0M120.1 85.1h0M100.9 110.4h0M95.5 122.2h0M113.3 101.9h0M72.7 98.4h0M104.0 92.5h0M138.9 91.8h0M89.9 105.1h0M79.6 94.8h0M100.7 109.6h0M118.2 100.9h0M106.8 94.0h0M122.9 97.2h0M100.0 111.2h0M126.3 105.6h0M101.8 104.0h0M97.3 96.6h0M104.0 112.0h0M150.4 91.0h0M107.8 79.3h0M118.6 98.8h0M115.8 96.2h0M89.2 90.3h0M68.2 111.1h0M91.4 107.0h0M106.4 107.0h0M96.3 91.4h0M133.2 92.4h0M105.0 102.5h0M131.4 113.4h0M111.3 100.7h0M111.9 93.0h0M85.0 107.4h0M126.4 103.7h0M122.4 103.3h0M93.2 89.8h0M169.2 95.6h0M114.9 99.5h0M154.9 111.7h0M103.1 110.7h0M80.6 93.4h0M105.6 105.9h0M110.8 76.2h0M143.4 114.4h0M105.7 98.4h0M100.0 108.1h0M115.2 92.0h0M140.0 109.9h0M105.2 111.8h0M102.9 100.1h0M91.1 103.6h0M92.9 95.8h0M86.4 87.1h0M49.5 116.4h0M154.1 103.7h0M86.6 103.8h0M74.8 104.0h0M104.9 92.4h0M69.4 92.3h0M103.6 93.8h0M109.9 99.9h0M122.1 103.9h0M98.1 92.6h0M91.5 97.9h0M97.9 84.6h0M118.2 106.2h0M113.1 105.6h0M104.0 104.0h0M111.9 109.1h0M102.4 88.1h0M129.9 100.0h0M114.3 108.1h0M68.2 101.8h0M99.1 100.4h0M58.8 103.2h0M112.8 101.8h0M68.3 115.4h0M105.2 95.9h0M87.8 92.3h0M149.6 95.8h0M131.3 91.2h0M104.1 91.5h0M79.5 107.2h0M139.7 85.4h0M122.3 92.7h0M120.0 87.0h0M84.6 96.4h0M104.8 95.7h0M110.3 97.8h0M85.6 108.8h0M107.9 95.6h0M98.0 92.1h0M124.3 101.4h0M97.8 102.5h0M96.5 99.4h0M78.6 102.0h0M100.1 118.8h0M113.7 87.4h0M140.0 101.8h0M77.7 110.4h0M120.0 103.4h0M113.4 94.6h0M69.8 110.5h0M119.8 104.7h0M119.7 94.6h0M131.1 116.4h0M115.5 97.0h0M88.0 99.3h0M110.0 110.6h0M110.5 102.0h0M128.0 95.4h0M109.0 107.6h0M84.5 111.9h0M102.0 115.4h0M106.5 106.2h0M105.6 98.5h0M93.5 105.1h0M120.1 98.7h0M90.8 101.4h0M113.0 98.8h0M115.8 95.9h0M138.8 91.9h0M100.6 101.8h0M122.5 99.4h0M132.7 94.0h0M140.7 94.0h0M122.2 102.9h0M94.9 97.7h0M115.2 103.6h0M80.9 97.9h0M122.1 88.8h0M105.4 83.8h0M90.4 98.3h0M107.1 104.9h0M128.4 97.0h0M98.1 92.7h0M128.5 108.7h0M106.6 86.8h0M83.5 100.7h0M115.4 86.3h0M118.5 91.7h0M66.6 105.0h0M96.1 91.6h0M118.3 98.4h0M95.1 92.1h0M106.5 99.4h0M96.0 112.6h0M104.7 103.4h0M82.1 110.6h0M145.6 84.9h0M65.0 107.0h0M136.6 111.3h0M105.0 96.3h0M91.7 101.5h0M109.9 102.9h0M116.6 103.9h0M101.8 102.7h0M122.5 98.6h0M118.2 111.3h0M94.4 96.7h0M76.7 105.5h0M91.8 98.6h0M118.9 92.9h0M76.5 108.4h0M138.0 113.9h0M126.6 80.4h0M114.9 111.4h0M124.3 116.1h0M136.1 107.8h0M82.2 98.5h0M93.8 98.9h0M160.9 94.0h0M127.7 101.7h0M90.2 101.8h0M140.9 96.1h0M128.1 93.1h0M109.0 107.5h0M126.4 98.7h0M101.5 114.9h0M133.8 89.3h0M108.7 98.6h0M86.1 104.4h0M75.2 101.7h0M71.1 110.9h0M129.5 104.7h0M128.2 100.3h0M112.0 89.3h0M132.4 88.6h0M100.7 91.4h0M141.3 93.9h0M132.2 102.1h0M132.7 107.8h0M108.4 103.3h0M106.0 105.4h0M125.6 106.6h0M78.2 95.1h0M97.0 92.8h0M121.3 87.3h0M144.6 103.9h0M101.9 103.2h0M165.9 101.9h0M91.8 94.7h0M95.5 105.7h0M101.6 117.2h0M97.6 92.8h0M126.6 94.7h0M75.3 100.4h0M124.0 87.8h0M67.3 95.8h0M136.9 102.0h0M86.4 102.2h0M112.9 97.3h0M96.5 84.5h0M114.6 87.9h0M104.1 86.8h0M134.7 103.5h0M107.9 105.5h0M102.7 96.3h0M124.3 105.3h0M92.7 106.1h0M105.0 91.5h0M147.1 107.4h0M66.0 109.3h0M122.0 98.1h0M86.1 107.3h0M67.9 98.1h0M124.2 94.6h0M152.1 92.8h0M98.9 95.3h0M102.9 94.4h0M107.5 99.6h0M119.7 94.9h0M41.0 192.0h0M23.5 197.0h0M15.2 205.7h0M14.7 207.5h0M11.4 203.2h0M21.1 204.3h0M22.5 192.6h0M14.4 199.1h0M27.0 197.7h0M41.2 206.1h0M20.3 198.9h0M25.8 185.7h0M6.0 193.4h0M27.2 205.8h0M32.8 208.8h0M30.2 202.2h0M28.3 212.8h0M0.8 207.2h0M28.8 197.5h0M37.5 199.8h0M35.9 191.4h0M16.8 214.8h0M7.2 185.4h0M44.4 205.1h0M18.2 194.6h0M20.7 197.2h0M7.6 193.2h0M12.5 200.3h0M4.3 193.6h0M37.8 207.0h0M11.9 197.6h0M6.0 210.4h0M29.3 202.4h0M19.1 202.3h0M25.6 205.5h0M18.1 209.0h0M22.3 197.1h0M3.7 195.8h0M26.8 184.6h0M44.7 198.2h0M16.4 199.1h0M14.5 214.8h0M13.9 190.0h0M15.8 188.3h0M29.5 191.4h0M27.4 196.1h0M8.5 202.6h0M23.2 196.0h0M46.1 197.0h0M5.7 184.6h0M21.6 202.4h0M16.5 192.7h0M13.0 209.3h0M41.5 202.5h0M27.0 194.3h0M4.8 195.4h0M21.0 193.7h0M22.5 203.2h0M22.8 207.3h0M22.3 203.8h0M12.2 198.7h0M27.7 202.8h0M21.6 195.3h0M27.4 198.3h0M16.0 198.2h0M32.9 212.4h0M19.9 200.1h0M12.4 208.1h0M34.6 205.7h0M21.0 190.5h0M23.2 208.1h0M29.4 195.7h0M44.5 195.9h0M22.3 194.5h0M31.4 203.1h0M18.2 200.1h0M24.4 219.4h0M10.8 192.7h0M4.8 190.8h0M16.3 200.9h0M34.1 204.7h0M11.0 193.6h0M26.2 204.7h0M24.8 192.9h0M35.1 200.7h0M1.0 208.8h0M15.5 212.0h0M22.4 206.3h0M14.9 197.3h0M12.4 205.1h0M21.6 197.5h0M8.7 192.9h0M10.7 191.5h0M16.3 190.2h0M21.2 200.7h0M35.7 202.6h0M8.2 180.6h0M14.9 191.2h0M7.1 200.4h0M36.7 203.9h0M44.4 195.5h0M6.2 206.6h0M30.9 201.1h0M3.8 199.9h0M26.0 209.4h0M29.4 200.4h0M26.8 191.2h0M8.0 186.0h0M9.3 196.6h0M25.1 204.9h0M25.3 203.6h0M15.2 202.6h0M22.6 196.7h0M26.5 196.3h0M7.8 201.7h0M28.7 205.4h0M24.8 207.1h0M24.8 195.7h0M43.7 186.0h0M10.5 205.9h0M29.4 206.9h0M7.4 206.1h0M28.4 204.1h0M27.3 200.0h0M2.3 198.3h0M19.3 196.3h0M33.1 199.9h0M10.6 190.5h0M32.7 197.9h0M15.0 201.7h0M26.7 209.1h0M43.9 200.2h0M18.3 195.2h0M15.0 205.4h0M17.8 211.4h0M22.4 200.2h0M1.9 200.4h0M7.6 203.3h0M28.8 188.8h0M13.7 205.7h0M6.9 196.7h0M22.5 192.6h0M12.4 194.8h0M19.6 198.1h0M18.9 202.4h0M3.9 195.4h0M22.6 206.8h0M42.2 204.8h0M6.9 210.3h0M34.5 193.3h0M17.5 196.7h0M29.0 200.2h0M9.0 203.3h0M21.2 207.7h0M7.7 208.5h0M25.3 201.2h0M27.2 204.7h0M47.9 203.4h0M56.3 195.7h0M13.2 187.5h0M34.6 200.6h0M35.2 203.2h0M21.9 200.3h0M32.6 202.8h0M22.0 192.9h0M42.3 196.5h0M22.2 196.3h0M12.5 207.2h0M37.9 205.0h0M28.9 213.3h0M49.8 200.8h0M26.2 191.2h0M26.2 196.9h0M18.9 210.7h0M16.9 195.8h0M6.7 209.9h0M12.1 188.5h0M15.4 199.8h0M0.8 206.9h0M11.3 198.9h0M12.8 200.3h0M41.0 193.6h0M24.1 201.0h0M24.0 189.5h0M30.6 212.5h0M10.7 210.6h0M18.9 198.8h0M20.7 205.5h0M31.3 192.5h0M22.5 207.9h0M7.8 194.2h0M46.7 190.2h0M3.5 197.1h0M32.9 190.1h0M7.4 206.4h0M14.8 210.7h0M12.3 206.5h0M2.6 199.1h0M11.2 185.8h0M30.0 200.3h0M22.1 197.9h0M17.0 196.5h0M14.8 205.3h0M25.0 182.2h0M33.8 201.4h0M3.3 201.0h0M19.3 204.9h0M20.7 195.4h0M28.8 193.0h0M8.7 189.2h0M6.2 191.2h0M47.7 198.7h0M32.5 197.7h0M36.9 194.7h0M11.0 200.3h0M17.9 208.9h0M13.0 188.9h0M29.1 214.6h0M23.6 197.4h0M19.0 192.3h0M29.2 196.2h0M32.5 204.0h0M18.1 203.4h0M6.8 184.5h0M18.7 205.0h0M11.6 191.7h0M5.5 208.0h0M44.8 205.1h0M25.5 200.5h0M25.3 192.4h0M12.0 188.9h0M26.3 197.2h0M14.4 196.5h0M21.3 203.9h0M13.8 188.3h0M20.1 206.2h0M27.9 199.2h0M46.2 203.3h0M10.7 196.3h0M10.0 192.3h0M31.3 203.2h0M11.0 206.3h0M17.4 194.5h0M28.7 200.1h0M32.2 197.4h0M10.7 198.6h0M19.7 192.7h0M32.0 198.6h0M25.4 186.1h0M30.7 202.0h0M29.3 199.8h0M3.1 196.9h0M24.9 194.8h0M32.7 187.8h0M33.6 193.6h0M28.5 184.6h0M18.9 202.4h0M29.2 207.5h0M18.9 198.6h0M29.4 202.8h0M8.7 194.8h0M20.6 204.4h0M24.9 203.1h0M11.3 196.9h0M15.7 194.7h0M17.6 202.6h0M8.9 195.9h0M27.6 188.2h0M37.8 207.0h0M22.7 208.3h0M23.6 199.2h0M19.5 207.9h0M39.7 201.0h0M31.1 199.5h0M51.8 191.0h0M31.8 209.6h0M18.8 208.9h0M26.3 196.0h0M14.3 212.9h0M23.6 194.2h0M11.1 193.2h0M19.9 199.3h0M28.0 205.2h0M29.5 208.6h0M33.2 202.7h0M16.3 196.1h0M35.2 206.5h0M19.7 190.7h0M32.3 195.6h0M34.1 201.3h0M8.8 194.7h0M5.9 195.4h0M22.6 202.4h0M33.7 192.8h0M21.8 196.8h0M11.5 188.8h0M20.6 212.3h0M9.5 193.2h0M17.4 198.0h0M7.5 198.5h0M25.7 198.5h0M4.2 208.6h0M23.1 191.7h0M12.2 199.3h0M14.2 204.6h0M31.4 203.3h0M36.2 198.5h0M29.5 208.6h0M16.8 198.8h0M35.1 212.2h0M6.3 211.0h0M24.9 206.5h0M6.4 206.1h0M45.2 191.5h0M5.5 199.1h0M20.9 206.1h0M38.6 198.8h0M12.1 203.4h0M14.1 202.0h0M16.8 202.3h0M47.3 185.7h0M29.6 193.2h0M1.4 203.4h0M7.8 197.6h0M24.2 190.3h0M13.2 211.0h0M23.5 199.2h0M42.3 206.1h0M14.0 203.8h0M32.8 199.9h0M27.0 203.5h0M24.1 202.1h0M4.2 208.3h0M26.4 202.7h0M30.8 206.5h0M7.5 192.3h0M34.9 204.7h0M32.5 209.0h0M19.4 198.6h0M31.2 202.6h0M18.1 202.1h0M11.0 197.0h0M3.5 189.5h0M29.4 197.9h0M12.8 196.3h0M4.1 203.0h0M16.2 207.2h0M9.5 198.4h0M8.2 182.4h0M19.8 189.4h0M16.0 190.6h0M11.3 205.5h0M18.2 195.1h0M22.6 203.2h0M15.2 199.5h0M27.4 212.7h0M29.4 195.7h0M19.7 197.7h0M30.3 210.7h0M23.0 210.0h0M37.2 198.0h0M32.7 197.8h0M17.5 201.9h0M28.3 210.7h0M12.3 200.2h0M12.1 205.1h0M22.5 203.8h0M9.3 204.5h0M26.0 205.7h0M11.6 203.7h0M4.7 202.4h0M35.6 198.7h0M16.2 192.0h0M35.9 202.0h0M29.0 201.8h0M24.5 205.2h0M35.4 190.4h0M21.3 210.0h0M24.4 203.0h0M16.1 192.6h0M30.5 192.4h0M24.1 205.5h0M23.0 207.3h0M30.4 201.0h0M8.3 205.7h0M41.5 204.5h0M13.1 217.0h0M14.8 202.5h0M8.0 198.4h0M6.0 199.5h0M25.8 199.6h0M25.3 203.0h0M18.1 202.1h0M20.6 204.9h0M43.4 193.5h0M33.9 208.6h0M9.2 195.6h0M34.7 204.4h0M18.0 200.4h0M21.0 213.0h0M22.3 193.9h0M23.2 192.0h0M33.0 197.3h0M27.2 207.8h0M17.4 200.3h0M38.6 189.3h0M26.2 197.3h0M14.5 202.6h0M43.9 193.1h0M38.6 209.3h0M25.6 180.0h0M5.9 198.2h0M21.9 194.8h0M13.0 200.2h0M20.3 191.2h0M36.5 206.8h0M25.0 189.9h0M11.2 197.2h0M13.6 190.2h0M19.0 210.6h0M18.7 210.9h0M20.0 210.0h0M20.7 200.8h0M23.8 186.2h0M38.9 203.2h0M8.3 199.6h0M10.2 199.1h0M19.2 193.1h0M24.5 194.8h0M22.2 206.9h0M32.2 190.6h0M22.2 199.8h0M30.0 200.0h0M36.6 205.3h0M5.9 200.4h0M20.1 204.9h0M32.3 199.9h0M18.6 190.7h0M25.0 205.4h0M10.4 192.8h0M29.9 203.7h0M1.7 205.4h0M47.0 198.9h0M12.0 192.3h0M23.1 196.5h0M17.1 207.4h0M3.4 201.5h0M27.5 202.9h0M9.1 187.9h0M37.8 200.4h0M24.7 211.4h0M7.8 189.2h0M13.3 199.6h0M14.1 201.7h0M33.5 198.7h0M40.7 209.3h0M54.1 192.3h0M24.1 201.0h0M0.8 190.6h0M3.1 202.1h0M29.0 193.4h0M22.2 202.0h0M10.7 185.4h0M1.8 191.6h0M22.7 207.8h0M6.8 206.0h0M22.5 192.9h0M5.1 179.1h0M23.4 198.8h0M42.3 196.1h0M28.6 203.5h0M14.4 200.9h0M29.1 213.4h0M31.6 200.2h0M17.4 201.9h0M2.3 195.6h0M15.9 195.4h0M23.9 204.3h0M7.1 213.2h0M22.4 211.9h0M38.2 200.7h0M10.1 197.7h0M10.3 209.1h0M18.4 205.7h0M19.2 196.4h0M22.5 201.5h0M11.5 200.5h0M2.8 195.6h0M4.7 205.0h0M14.4 188.4h0M48.7 202.3h0M25.3 204.1h0M24.8 201.8h0M19.5 199.6h0M10.6 204.3h0M38.2 194.3h0M20.5 198.3h0M21.0 201.3h0M20.4 197.0h0M24.3 201.2h0M25.6 201.2h0M22.2 214.3h0" stroke="#f00" stroke-width="1.05" stroke-linecap="square" fill="none"/>
<rect x="0.5" y="203.6" width="24" height="25" fill="#fff" opacity="0.82"/>
</svg>
<rect x="1013.7" y="1036.4" width="231.2" height="230.6" fill="none" stroke="#7a7a7a" stroke-width="1"/>
<line x1="1091.4" y1="1036.4" x2="1091.4" y2="1267.0" stroke="#111" stroke-width="1.6"/>
<line x1="1013.7" y1="1181.6" x2="1244.9" y2="1181.6" stroke="#111" stroke-width="1.6"/>
<path d="M1007.7 1058.3H1013.7M1007.7 1110.7H1013.7M1007.7 1165.0H1013.7M1007.7 1220.0H1013.7M1010.9 1042.2H1013.7M1010.9 1094.6H1013.7M1010.9 1085.2H1013.7M1010.9 1078.5H1013.7M1010.9 1073.3H1013.7M1010.9 1069.1H1013.7M1010.9 1065.5H1013.7M1010.9 1062.4H1013.7M1010.9 1059.6H1013.7M1010.9 1148.9H1013.7M1010.9 1139.5H1013.7M1010.9 1132.8H1013.7M1010.9 1127.6H1013.7M1010.9 1123.4H1013.7M1010.9 1119.8H1013.7M1010.9 1116.7H1013.7M1010.9 1113.9H1013.7M1010.9 1203.9H1013.7M1010.9 1194.5H1013.7M1010.9 1187.8H1013.7M1010.9 1182.6H1013.7M1010.9 1178.4H1013.7M1010.9 1174.8H1013.7M1010.9 1171.7H1013.7M1010.9 1168.9H1013.7M1010.9 1228.4H1013.7M1010.9 1234.4H1013.7M1010.9 1239.4H1013.7M1010.9 1244.4H1013.7M1010.9 1249.4H1013.7M1010.9 1254.4H1013.7M1010.9 1259.4H1013.7M1010.9 1264.4H1013.7" stroke="#222" stroke-width="1" fill="none"/>
<path d="M1007.7 1058.3H1013.7M1007.7 1110.7H1013.7M1007.7 1165.0H1013.7M1007.7 1220.0H1013.7M1007.7 1265.9H1013.7M1009.7 1240.4H1013.7M1009.7 1242.4H1013.7" stroke="#111" stroke-width="1.8" fill="none"/>
<path d="M1117.5 1267.0v5M1169.6 1267.0v5M1222.2 1267.0v5M1078.3 1267.0v2.8M1087.5 1267.0v2.8M1094.1 1267.0v2.8M1099.2 1267.0v2.8M1103.4 1267.0v2.8M1106.9 1267.0v2.8M1109.9 1267.0v2.8M1112.6 1267.0v2.8M1133.3 1267.0v2.8M1142.5 1267.0v2.8M1149.1 1267.0v2.8M1154.2 1267.0v2.8M1158.4 1267.0v2.8M1161.9 1267.0v2.8M1164.9 1267.0v2.8M1167.6 1267.0v2.8M1185.4 1267.0v2.8M1194.6 1267.0v2.8M1201.2 1267.0v2.8M1206.3 1267.0v2.8M1210.5 1267.0v2.8M1214.0 1267.0v2.8M1217.0 1267.0v2.8M1219.7 1267.0v2.8M1016.7 1267.0v2.8M1021.7 1267.0v2.8M1026.7 1267.0v2.8M1031.7 1267.0v2.8M1036.7 1267.0v2.8M1041.7 1267.0v2.8M1046.7 1267.0v2.8M1051.7 1267.0v2.8M1056.7 1267.0v2.8M1234.7 1267.0v2.8" stroke="#222" stroke-width="1" fill="none"/>
<path d="M1062.5 1267.0v6M1117.5 1267.0v5.5M1169.6 1267.0v5.5M1222.2 1267.0v5.5M1025.7 1267.0v5M1027.7 1267.0v5M1029.7 1267.0v5M1032.2 1267.0v5M1034.7 1267.0v5" stroke="#111" stroke-width="1.6" fill="none"/>
<g font-family='"Liberation Sans", Arial, sans-serif' font-size="8.2" fill="#222"><text x="985.2" y="1057.5">10<tspan font-size="7.6" dy="-5">5</tspan></text><text x="985.2" y="1109.9">10<tspan font-size="7.6" dy="-5">4</tspan></text><text x="985.2" y="1164.2">10<tspan font-size="7.6" dy="-5">3</tspan></text><text x="985.2" y="1219.2">10<tspan font-size="7.6" dy="-5">2</tspan></text><text x="989.2" y="1240.9">0</text><text x="978.2" y="1262.4">-10<tspan font-size="7.6" dy="-5">2</tspan></text><text x="1025.2" y="1282.0">0</text><text x="1113.5" y="1282.0">10<tspan font-size="7.6" dy="-5">3</tspan></text><text x="1165.6" y="1282.0">10<tspan font-size="7.6" dy="-5">4</tspan></text><text x="1218.2" y="1282.0">10<tspan font-size="7.6" dy="-5">5</tspan></text></g>
<text x="1021.8" y="1053.0" font-size="16.8" text-anchor="start" font-weight="normal" fill="#000" font-family='"Liberation Sans", Arial, sans-serif' textLength="35.2" lengthAdjust="spacingAndGlyphs">41.7</text>
<text x="1236.3" y="1053.0" font-size="16.8" text-anchor="end" font-weight="normal" fill="#000" font-family='"Liberation Sans", Arial, sans-serif' textLength="35.2" lengthAdjust="spacingAndGlyphs">42.8</text>
<text x="1023.6" y="1252.8" font-size="16.8" text-anchor="start" font-weight="normal" fill="#000" font-family='"Liberation Sans", Arial, sans-serif' textLength="35.2" lengthAdjust="spacingAndGlyphs">14.4</text>
<text x="1236.8" y="1252.8" font-size="16.8" text-anchor="end" font-weight="normal" fill="#000" font-family='"Liberation Sans", Arial, sans-serif' textLength="35.2" lengthAdjust="spacingAndGlyphs">1.12</text>
<path d="M38.3 1291.6V1031M38.3 1291.6H380" stroke="#555" stroke-width="1.1" fill="none"/>
<path d="M38.3 1024.5L34.8 1032.5H41.8Z M386.5 1291.6L378.5 1288.1V1295.1Z" fill="#111"/>
<text x="27.6" y="1257.0" font-size="15" text-anchor="start" font-weight="bold" fill="#000" font-family='"Liberation Sans", Arial, sans-serif' textLength="13" lengthAdjust="spacingAndGlyphs" transform="rotate(-90 27.6 1257.0)">PI</text>
<text x="63.3" y="1306.0" font-size="15" text-anchor="start" font-weight="bold" fill="#000" font-family='"Liberation Sans", Arial, sans-serif' textLength="114" lengthAdjust="spacingAndGlyphs">Annexin V-FITC</text>
</svg></body></html>
